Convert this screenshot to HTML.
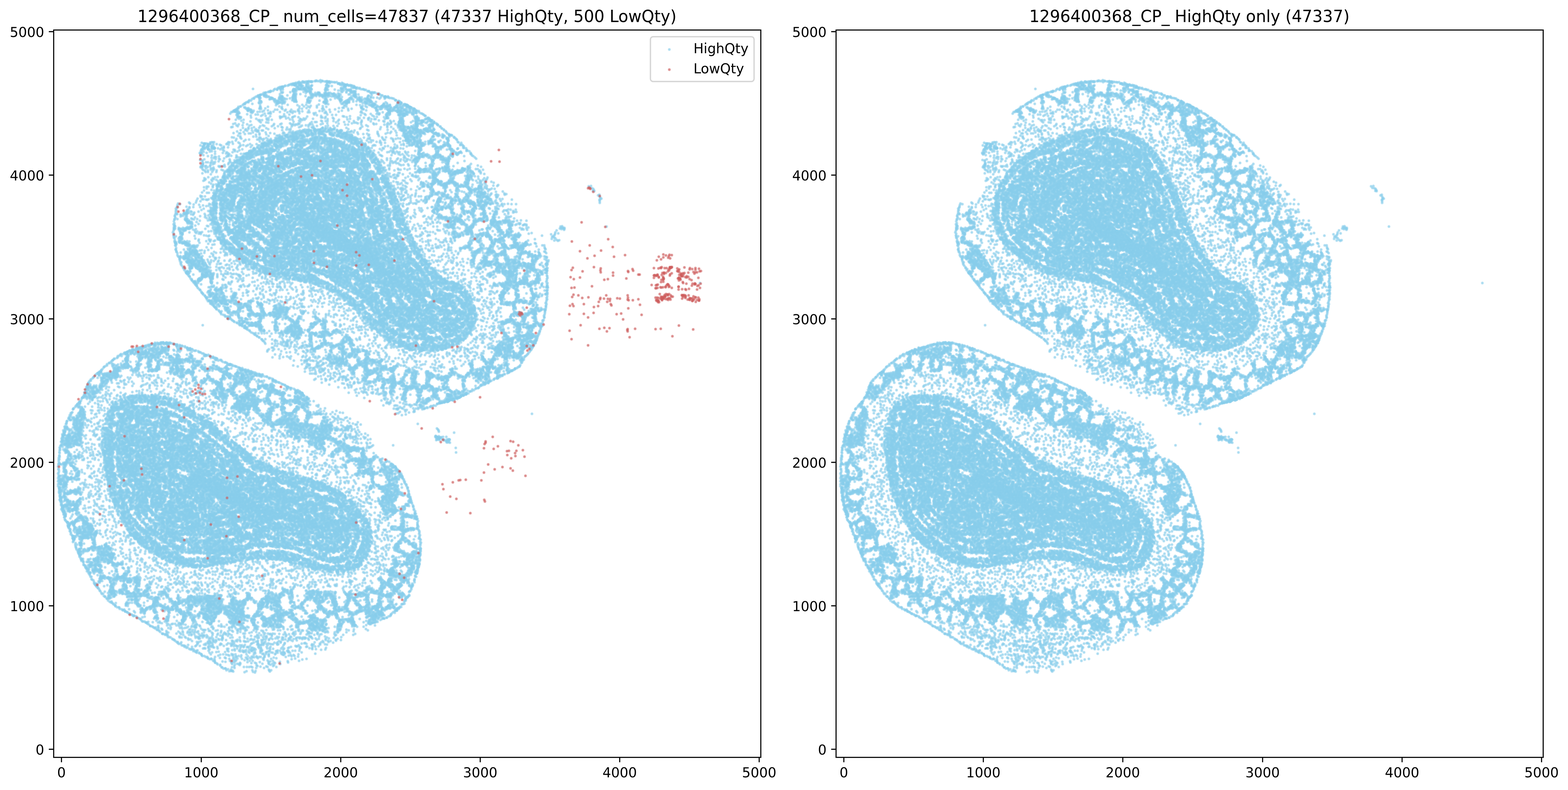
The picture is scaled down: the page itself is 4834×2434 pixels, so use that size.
<!DOCTYPE html>
<html lang="en"><head><meta charset="utf-8"><title>1296400368_CP_ cell quality scatter</title>
<style>html,body{margin:0;padding:0;background:#fff}body{width:4834px;height:2434px}svg{display:block}text{font-family:"DejaVu Sans","Liberation Sans",sans-serif;fill:#000}.t{font-size:41.667px}.h{font-size:50px}.e{text-anchor:end}.m{text-anchor:middle}</style></head><body>
<svg width="4834" height="2434" viewBox="0 0 4834 2434">
<defs><marker id="b" markerUnits="userSpaceOnUse" markerWidth="10" markerHeight="10" viewBox="-5 -5 10 10" refX="0" refY="0" overflow="visible"><circle r="4.6" fill="#87ceeb" fill-opacity=".5"/><circle r="2.45" fill="#87ceeb" fill-opacity=".5"/></marker><marker id="r" markerUnits="userSpaceOnUse" markerWidth="10" markerHeight="10" viewBox="-5 -5 10 10" refX="0" refY="0" overflow="visible"><circle r="4.6" fill="#cd5c5c" fill-opacity=".5"/><circle r="2.45" fill="#cd5c5c" fill-opacity=".5"/></marker></defs>
<rect width="4834" height="2434" fill="#fff"/>
<g id="hq"><g fill="none" stroke="none" marker-start="url(#b)" marker-mid="url(#b)" marker-end="url(#b)"><path d="M1021 252l-5 0-1-1 0 3-2-2-3 3-1-4-1-1-3 1-4 0-6-1-2-1-4 4-1-6-4 3-5 0-4-2-2 2-3 0-7 1-2 2-1-2-3 0 0 1-5-2-2 2-2 0-3-1-5 1-2 2-2 0-2-3-2 1-5 3-3 0-2-3-4 2-6 1"/><path d="M1054 255l-16-2-5 1-3-1-5 0"/><path d="M767 311l-1 4-2-1-4 1-3 2-3 2-24 16 4-2 1-4 0 5 6-6 1 0 6-4 3-3 2 10 2-10 1 10 2 4 4-1 4-1 0 4-1 3 0 2-2-5 0 3-25 9-1-2-2-4-1 8-1-3-1 2-1-12 0 3-1 5-1-5-2-3-1 6-1-5-1 3 0 2-1-4-3 1 0 2-3 2-4 0-3 5 19 4 3 0 0 5 0 4 3-5 1 2 1 6 2-6 3 4 1-3 19-9 0 31-11-14-1 9-6-6-8 11-9-14-2 11-6 2"/><path d="M859 270l4-2 4 0 0 3 2-3 1-1 1 2 2-2 0 1 5-3 2-1 7 0 3-2 3-1 2 23-23-8 0 8-1-12-1 14-3-1-1-6-1-4-1-2-2-1-6 0-1 4-1 0-6-2-3 2-3 4-6 1-2-1-1 3-2 0-2-1-4 2-6 1-1 1-1 1-4-1-33-12 2 28 5-3 4-2 4 1 1-4 0 1 2 3 1 4 1-4 1-5 0 8 1-8 1-1 0 10 2-10 4-2 4 2 1 4 1-5 0 2 3 5 2-5 2 1 0 5 5-1 2 0 5 3 2 0 1 2 2-1 2 1 20-3 1 3 1-13 0 6 1 7 3-7 0 4 3-4 0 3 0 3 2-2 5 3 9-9 8 9-10 2-5 8-1-7-1 12-2-4-2-6 0 7-2-6-1 8-1-12 0 3-2 5-1-6-1-2-1 10-2 2-2-13 0 5 0 6-2-3-1 5-2-7 0 4 0 4-2-6-1 7-2-8-2-5 0 9-2-8-1 4-1-5-6-1-5 0-2 1-25 9-1-3-2-1 0 7-3-12 0 5-1 7-1-2-15-12-6 1-3 5-5-1 9 11 22 15 1-2 1-8 0 4 2 2 14 3 8-5 25-5 5-4 5 8 7 5 1-4 1-9 17 3 7 20-8 3-5-8-3 3-7-5-8 9-8-7-7 0-5 6-8 6-1-5-3 4-4 0-1-9-10 10-2-9-5 3-4-8-4 8-7 1-12-4-2 4-3 3-1-4-1-5-1 4-1-5 0 8-3-9-1 2 4 17 1 6 14-9 2 13 5-13 10 4 5-3 9 3 3 8 6-1 5-6 30 1 1 5 2-3 4-1 5-2 1-6 4 7 2 6 7-2 3-10 2 15 0 12-26 1-4 2-19-1-7-13-10 1-1 8-4-9-2 8-13-7-4 7-3-7-1 4-4-4-24 4"/><path d="M897 259l3 0 0 3 4-5 0 2 2 1 0 2 3-5 0 2 0 4 2-4 0 4 1-2 1-2 1 10 2-4 1 4 2-13 0 1 0 12 2-4 1-7 1 3 1 2 2 0 1-3 1 4 1 4 1-11 0 13 1-6 3 1 2 6 4 0 4-14 0 10 1-6 0 3 1 5 1-13 3 0 0 12 0 3 1-10 1 10 1-5 4 5 2-5 1-2 2-1 42 8 1-8 1 6 1-8 1-5 1 7 2 5 1-4 2 1 3-9 6 9-5 21-5 0-2-9-3-4-1 4-2-4 0 12-1-8-1 4-1-5-2 11-15-1-2 0-2 1-1-2-8 1-11-11-2-2 0 3 0 7-2 0-1 2 0 2-1-7 0 2-1-9 0 4-1 3-4-7-1 6 0 3-2 0-2-4-1 3 0 6-1-12 0 2-1 2-1-5-2 1-1-2-1 10-1-8-4 1-4-2-2-1 0 2-2-3-1 2-2 1-2-1-4 6-2-5-1 3-1-2 0 7-2-8-2 6-1-7 0 9-1-6-1 2 0 2-2 19 2 2 1-8 0 2 1-6 1 8 1-8 1-2 0 4 1 2 0 8 1-6 2 3 1-11 0 4 13-2 16 6 9 6 1-2 3 2 3-10 0 10 1-5 2-7 0 9 1 3 1-10 1-2 0 4 2 3 4-6 0 2 4 0 1 3 1-6 3 0 3-1 0 3 3 4 1-6 1 2 2 2 3-2 1 5 1-2 2-2 0 7 1-4 4-5 0 6 1-2 1-7 0 2 0 3 1 8 1-13 1 8 2-6 0 2 3 0 0 2 0 4 1-10 1 2 2 2 2 4 5-7 1 8-4 10-10 6-1-4-1 10-1-15 0 12-2-10 0 2 0 7 0 2-2-4-1-8-1 8-2 1 0 2-13-6-27 0-3 6-1-5 0 2-2-3 0 7-2-8-1 2 0 2-1-7 0 3-2 7-32-2-1-2-1-5-1-3 0 5-2 3-2 1-2-9 0 5-2-3-2 3 16 15 6 4 0 6 8 1 1-12 5 5 7-5 1 10 5-5 5 3 3-5 19 0 0 5 6-9 10 13 2-8 1 6 7-13 3 9 6-8 6 24-2-7-10 10-2-4-3 4-2-10-5 4-9 0-12 6-6 1-13-3-2-6-3 6-17-3-9 0 0 6-4-11 0 4-9 2-6-1-2 5-4-10-1 7 4 17 3-2 5-2 11 3 5 5 11-1 7 0 4-6 18 7 4-13 8 2 13 2 0 5 4 0 8 2 2-4 5-7 1 14 0 6-1 7-5-7-9 8-2-7-3-2-1 11-13-7-5 0-8 7-2-7-5 4-17-11-7 1-4-2-2 7-3 7-1-10-2 8-8 3-7-8-1 7-2-13-4 14"/><path d="M1042 258l1-1 2 0 2 0 1 2 1 2 3 10 2-8 1-4 2-2 2 12 1-6 1-4 0 10 1-6 2-2 0 4 1-3 0 5 1-2 1-3 3-2 1 2 3 1 2 1 3-2 3 3 1-2 1 7 2-6 3 7 1-3 1-3 1 4 1-2 1 3 3 1 1-1 4 0 7 1 42 15-4-2-3 2-3-1-3-4-2 0-3 0-5-4-4 0-3-2-3 0-5 0-6-2-8 1-3 8-2-1 0 4-3-3-1 3-1-4-2 5-4-7 0 3 0 3-2-9 0 8-1-6-2 2-2-4-3 2-2-1-3 5 0 3-1-10-2-2-5 5-3-4-1 8-1-9-1 3-1 8-2-11-1 6-7 0-11-3-8 14 4-1 0 3 0 4 2-8 1 9 2 6 1-12 0 3 3 5 1-5 2 6 2-12 0 10 0 5 3-10 0 2 1-6 0 8 0 2 4-7 4 7 21-8 4-1 0 12 3 0 1-5 2 6 4-10 1 4 2-5 0 3 2-5 1 5 0 3 1-9 0 11 1-9 0 5 4 4 4-9 3 8 0 3 7-2 18 1 1-3 1-3 3 0 5 6 1-2 1-11 1 5 5 8-2 18-2-5-3 0-1-5 0 3-2 0 0 3-2-7-1 9-1-12 0 3 0 3-2-5-2-2 0 7-1-5 0 8 0 5-2-12 0 12-2-15 0 10-1 2-2-5-1-7-1 11-4-8-1 11-3-7-1-2 0 4-1-8-2 2-1 6-1-9 0 3-1 2-5-2-1-2-3 7-10-5 0 6-6-7-6-2 0 6-1 4 0 2-2-8-1 6-1-6-1 8-1-3-1 5-1-8-1 8-2-6 0 5-2-3-3 1-2 2-4-9-3-3 0 4 0 2-1 4-1-10-1 3 0 2-2-5-1 28 8-13 3 12 1-12 3 12 1-6 3-2 4 4 1-7 4 14 11 0 15-12 11 1 3 6 1 2 1 3 1-4 2-5 8-6 1 7 4 3 6-7 4 0 2 2 3-4 1 5 1-3 0 6 1-4 2 2-8 24-14-11-5 11-3-15-2 1-2 11-3-5-2 3-38-6-20 1-10 3-11-7-9 17 2 9 3 3 7-12 21 4 4 1 8 2 10-3 0 8 25-4 5 2 3-9 10 8 5-9 8 11 3-2 7 4 3-11 3 24-8-6-7-5-21 2 0 4-2 3-9-10-1 12-5-2-6 0-1-5-6 7-9-5-5-7-10 8-16-7-1 12-2-8-6 4-8-4"/><path d="M1156 285l-3 0 9 3 1 13 5-13 1 3 2 0 3 9 2-6 3 0 5 4 2 1 1-2 1 4 1-3 0 0 6 2 1-3 2 3 3 2 5 0 4 1 28 14-2-1 0 3-1-2 0 2-2-6-3 1-1-3 0 1 0 6-2-3-2 3-4-9-1 0-2-1-4-4-21 14-4-3-3-11-3 15-13-15-11 10-6 5 0 5 1 7 1-10 0 2 3-1 0 11 1 2 1-3 1-3 2-3 3 3 4 1 4-2 1 2 2-3 0 8 1-4 1-5 1-2 2 1 0 5 1-8 1 6 1-7 3 14 1-9 0 2 0 2 3-2 2-6 0 6 0 4 2-4 2-2 2 4 2-7 0 2 1 9 2-4 1 3 6 2 3-4 2 0 1 2 2-5 2 2 1-6 0 2 2 4 1-6 1 8 4-7 1 7 1-12 1 9 1-8 2 12 1-6 0 8 3-3 2-9 0 4 3-6 3 0 0 5 2-3 1 0 0 12 2-8 0 3 1-7 0 1 1 4 2-3 1 2 0 5 2-3 2 0 0 2 0 4 2-5 0 0 2 1 0 2 2-1 5 2 3 1 2 2-2-1-2 1 0 2 0 4 0 7-1-5-2-6-2 11-1-3-4-9 0 6-2-3-1 6-3-1-3-7 0 6-2 1-2-2 0 7-1-9-2-4 0 12-2 0-1-11 0 2-1 8-1-13-2 6 0 9-1-4-3-4-2-2-1-2 0 6 0 3-1 3-1-6-2-5 0 2 0 3-3-9-1 5 0 3 0 2-1-10-1 9-1-3-3-1-3 0-4-3-2 1-2 3-3-3-2 3-3 0 0 3 0 4-1-12-1 2 0 4 0 2 0 4-1-12-1 4-1-2 0 8-1 2-1-11-1-2-1 13-13-3-6-10-3 0-1 13-6-11 0 4 0 5-3-8 0 12-1-10-7 18 1 8 4 0 4-7 5-8 2 0 15 9 3 6 3-14 1 3 0 7 1-5 1 3 0 3 1-11 0 4 1 6 2 1 2-9 3-3 26 2 2-2 1 4 1-2 0 9 2-10 0 2 2-3 0 10 1 4 1-5 2-9 1 2 0 10 1-8 1 3 2-5 0 2 1-4 1 4 2 0 5-4 2 1 16 0 3-1 2 7 2 6-6 8-6 4-23-4-1 7-1-12 0 6 0 4 0 5-3-14 0 13-1-11 0 5-1 3-2-6 0 4 0 2-1-9-1-2-1 5 0 6-1-4-1 7-1-5-10 5-5-9-8 3-1 4-2-8-3 11-4-4-3 4-8-8-3-2-14-2-8 11-7 1"/><path d="M1301 350l-4-1-5-3-1-4-5 0-2 7-1-9 0 7-1-5 0 2-2 3 2 13 0 4 1-2 0 4 2-8 1 2 1 4 3 3 1-3 13-12 3 2 3 3 2 0 0 9 2 1 4-4 0 3 3-3 0 4 3-2 23 18-2-3-6-1-1-4 0 2-2 3-2 1-1-10-2 4-1-4 0 11-1-11 0 3-2-5 0 1-1 4-1 9-1-15-4 5-3 3-2 3-5-2-1-8-4 5-1-2-1 2-1-3 0 5-1 3-1-2-1-5-1 6-2-6-1 9-4-10 0 9-1-7-1-4-1 13-1-13-1 11-1-6-1 2 0 4-1-11 0 5 0 8-1-6 0 3-1 3-1-10"/><path d="M637 442l-5 0-1 1-1 0 0 3 0 1-3-5-5-2-4 8 3 13 1-1 3-9 0 5 1-5 0 8 2-7 2 4 1 3 2-4 5-3 0 3 1-5-2 21-9-3-1 10-2-14-3 8-1-3 0 4-2-8 0 11-2-3-1-2 1 22 7 1 6-3 5 9 0 11-9-7 0 5-1-7-1-5 0 10 0 0-4 4"/><path d="M713 392l4-1 12-5 4 3 15-3 1 8 9 4 8-5 0 4 1 14-5-8-6-2-1 12-4-6-9-6-1 10-4 0-6-6-11 5-5 13 6 1 8 4 5-10 7 2 0 4 3 3 13 4 7 16-12-12-2 12-11-5-4-3-8-6-9 10-2-6-8 2-3 7-1-8-3 4-3 2-20 2-10-2-8-6-2 7-2-6-3-1-5 1 0 4 0 1-6 0 0 1-2 0 1 15 1-11 0 9 1-8 0 2 0 7 0 2 6 0 3-7 1-3 1-2 0 7 1 3 3-4 1-3 1 4 0 2 1-2 0 1 1-1 0 1 10 0 7 3 3-12 2 8 3 6 3-10 0 4 13-2 17 7 4 1 12-7 2 8 1-12 3-3 5 12 12-10 8 21-1 3-1-2-2 0 0 3-2 0-1-3-1 2-2 0-2 0-4 0-8 0-11-7-3 12-5-13-7 3-10 6-3 2-1-5-4-3-2 4-6-8-4 6-24-4 0 7-10-8 0 13-6-12-6 14 11 5 1 8 6-7 3-4 3 7 1-6 9-2 0 7 3 2 13-3 7-5 3-3 4 1 3 10 1 4 4-15 10 14 5-8 2-3 0 11 2-1 3-8 1 7 2 2 2-1 1-8 1 4 1-2 1 2 2-6 1 9 1-6 1-4 0 2 1-4 0 8 0 5 1-2 1-8 0 6 3-4 1 10 1-15 1 6 2-2 0 6 1-10 0 7 2-7 0 9 1-5 2 8 1-9 0 18-3 2 0 2-2 5-2-3-1-3-1-7-1 10-1 4-2-5-1-5-1 8-2-11-1 3-2-3 0 5 0 5-1-8-1 7-1-6 0 3-2-1 0 7-1-13-1 6-1-7 0 10-2-2-2-5-2 4-1-7 0 14-2-12 0 5-1-7-2 4 0 11-2-13-2 2-1 2-2 6-2-5 0 8-4-9 0 6 0 2-5-11-4 3-1 4-12 2-4-12-14 1-11 2-2 5-4-4-1 6-5-6-2 3 0 6-8-9"/><path d="M769 387l6-2 1 10 7-3 6 6 10-4 3-5 8-3 5 2 6 7 6 3 11-9 5-3 4 9 10-6 11 2 3 2 12 6 2-6 5 6 5 3-4 6-3 6-11-3-3-3-2 3-2-10-24 11-13-2-12 4-2-6-8-6-4 0-7 9 0 4-3-13-1 4-3-4-2 3-2 10-3-13-6 6-3-6-4 9-5 19 13-9 9 0 3 9 5 0 1-6 4 0 1 4 5 1 5-1 7-3 5 4 2-10 7 9 14-3 3 3 1-10 0 8 4-8 0 11 1-5 2 2 2-10 0 8 1-4 1 2 0 7 1-4 1 6 1-2 1-6 1 6 1-10 0 4 0 4 3 0 1 4 2-14 0 9 3 2 1-9 1-2 0 4 2-5 1 2 1 5 1-7 1 6 2 4 1-4 0 8 4-10 1-4 0 6 0 7-1 8-2-2-2-1-2-2-1 5 0 5-2 3-1-7 0 3-1-7-1 3-1-2-1 6 0 2-1-8 0 3-2-1-2 6-1-8 0 6-4 1-1 3-1-11 0 8-1-3-1-5-1 13-1-11-1-2 0 10-2 3-1-15 0 3 0 5-2-5-2 6-1-4-1-2-2-2 0 2-1 7 0 4-1-12-1 11-1-13-1 5-1-5 0 8 0 5-2-2-3-9-3 3 0 2-2-6 0 3 0 4-3-8 0 3 0 5-2-6 0 10-1-4-1-4 0 7-2-8-1 8-2-2 0 6-1-13 0 9-3-1 0 4-3-7-1 3-1-2-2 3-1 4-1-13 0 9 0 2-2-2-1-2-2 3-5-8-10 8-20 0 2 9 1 10 3-15 3 15 1-4 2-3 0 2 1 5 1-3 2-1 6-6 0 3 3-8 1 7 2 5 1-12 0 10 0 5 3-2 1-8 1-2 0 4 2-1 1-6 0 4 2 9 1-8 0 2 3-4 0 8 1-10 3-1 1 13 2-13 0 3 0 9 1-4 1 6 3-13 1 11 1-11 1 5 3 6 0 3 2-6 1-9 1 9 0 4 2 0 2-11 0 4 0 5 1 4 2-2 2 1 1-14 3 1 0 2 1 10 0 2 2-11 0 2 1-6 0 2 0 8 2-9 0 2 0 4 3-4 1 8 1-7 0 11 4-8 1-5 1 2 2-1 2-3 4 2 7-2 7 10 0 2 1 2 3-5 3 7-2 9-1-8-1 9-1-2-1-6 0 2 0 8-2-12 0 8-2 0-2-2 0 4-3-10 0 10-2-10 0 3 0 3 0 3-4-4-1 6 0 4-1-7-4 3-1-5-1 3 0 3 0 3-1-9-1 7-2-2-1-3-1 6-1-3-1 3-1-9-2-2-1 9-2-1-6-10-2 0-3 1-2-1-2 3-1 4-1 3-3-9-1 5 0 7-2-8 0 7-1-2-1-6-2-4 0 2 0 2-2-5 0 8-1-5-3-3 0 2 0 4 0 2-5-4 0 3-1-6 0 8-2-5-1 2 0 5-2-9 0 7-2 0-1-6 0 9-2-12 0 4-1 5-1-5-2 8-2-1-1-10-1 3-1 4 0 5-2-11 0 9-2-5 0 8-2-14 0 7 0 8-3-5-1-6-2 6-2-8-1 10-1-7-1-2 0 10-1-8-1-2 0 4 0 8-3-11 0 2 0 6-1-2-1-9-1 3 0 9-1-11 0 14 1 8 2-5 0 6 1-3 2-3 1 2 2-5 0 5 0 10 2 0 2-14 2 4 4 9 9-3 2 3 6-3 2-9 1 4 0 4 2-4 0 4 1 2 0 2 1-10 0 2 1 3 0 5 8-5 2 1 3-2 1 2 1-3 1-6 0 14 2-9 0 6 2-5 1 4 0 2 1-9 2 9 1-8 2-4 1 6 0 8 1-14 0 12 2-12 0 5 0 5 1-8 0 6 1-2 2-5 1 3 3-3 1-2 3 3 0 6 1-8 0 4 0 2 0 4 2 0 1-7 2 6 2-8 1 12 1-10 0 4 1-2 2 7 1-2 1-9 0 2 0 4 0 7 2-8 1 3 1-3 1 3 0 4 2-1 1-2 2 0 1 4 1-5 1-6 1 4 2 3 1 3 1-9 0 2 4 4 3-9 0 4 0 2 0 4 0 18-3-13-2 6-1-5-1 6-2-4-1-4 0 15-1-6 0 4-1-8-2-4-1 6 0 5-2-8-1 5 0 4 0 2-1-9-2-6 0 6 0 5-1-9-1 2-1 6-5-3 0 2-1-5-1 10-3-9 0 4 0 3 0 3-3-13 0 3 0 9-1-4-2-1 0 3-1-10 0 3-1 9-2-1-1-7-5 9-3-14 0 3 0 5-2-8 0 7 0 5 0 2-1-12 0 8-1 3-2-14 0 8 0 6-1-2-2-5-1-6-1 3 0 4 0 2 0 2-2-9 0 6-1 3-1-10-2 0-1 2 0 9-2-8 0 3 0 6-5-9-3-2-3 3-2-5 0 3-1 8 0 3-3-2-1-4-1-4-1 2-1-7 0 9 0 3-1-6-1 5-2-8-2 6-2 4 0 2-1-10 0 3-1-5-1 5-1-2-1 2-1-2 0 8-1-3-1-7-1-3 0 9-1-6-1-4 0 2-6 9-2-9 0 2-3 0 0 5-2-4"/><path d="M896 397l3-7 3-4 7 0 8-2 5 8 5-2 4-3 9 12 3-13 8-1 0 5 1 8 4-14 5 8 3 2 2-5 2 5 0 4 2 1 2-1 5-10 3 11 7 0 2-1 4-3 2-2 0 2 8 0 1-6 0 8 6-3 1-7 7 7 0 3 5 1 0 3-2-1-1 11-1-5 0 7-1-3-1 4-1-4-1-9 0 2-3-3 0 2 0 3-4 1-3 0-2-6-3 4-1 8-1-8-1-4-1 4 0 9-2-7-1 2 0 5-2-10 0 4 0 2-1 4-2-3-1-9 0 11-1-7-1-4 0 2 0 4-2-7 0 8 0 5-1-3-4-8-2 2-1-3-1 9 0 5-3-13 0 4 0 3-1 6-1-11-1-2-2 10-2 0-2-3-2-7 0 8 0 2-1-5-1-5-2 0 0 13-4-11 0 10-1-13 0 6 0 3-5-10 0 2 0 6 0 5-3-5 0 3-1-6-4 2-1-6 0 4-2 10-1-14-2 3 0 5-3-4 0 2 0 8-2-5-2-8 0 6-1 7-3-11-1 5-1 4-3-8 0 7-3-3-1 6-1-8 0 3-2 3-3-3-3-5 0 9-1-5-2 2-4-3 1 13 0 9 2-9 1-3 1 9 1 3 1-8 0 4 1-10 1 3 0 12 1-8 0 2 2 1 0 4 1-11 1 3 1 6 0 2 3-8 1-4 0 2 0 7 0 2 1-4 1 2 3-5 0 5 3-6 1-4 2 10 2-10 1 10 1-7 1 6 2-8 0 3 1 3 0 5 3-9 2 1 1 6 6-8 1 10 1-10 1-3 3 1 4 11 0 2 3 0 2-5 0 5 1-12 1-2 0 12 2-12 0 9 2-3 1 8 2-2 1-5 1 2 0 2 1-5 1 9 1-8 2 3 1-4 0 2 1 4 4-7 1-4 1 12 1-2 2-4 0 2 2-1 1 3 2-4 0 3 2 4 4-13 0 7 0 7 1-5 0 2 1-10 1 4 1-6 0 2 0 8 1-5 1 6 3 1 2-3 5 2 2-1 2 3 2-13 1 10 1 6 0 11-1-2 0 4-1-10-1 2 0 8-1-3-1 5-1-15 0 4 0 9-1-11 0 13-1-8 0 6-1-2-1-8-3 0 0 2-1 2 0 4-2-11 0 2 0 12-4-12-1 5 0 6-1-12-1 7-2-5-2-3-1 4 0 5-2-2-2 4-1-10-1 9-5-7-1-2-1 6 0 6-1-3-1 4-2-13 0 8 0 3-3 0-1-8-2 1-1-4 0 6 0 2 0 2-1 2-1-13-1 3-1 3 0 4-2-7 0 6-1 2-2-1-3-9-4 3 0 6-2-7-1 3-1 3-2-8-2 2-2 0-1 9-1-12-1 4-2-3 0 14-2-14 0 5 0 2 0 7-1-4-3-11 0 4 0 7 0 2-1-7-1 4-2-7 0 2-1 2-1-4 0 12-2-8 0 8-1-13 0 11-1-7-1-3-2 3 0 8-3-10 0 11-1-9-1 7-2-11 0 10 0 2-5-8-2-6-2 1-1 2-2-3-1 5 0 9-2-5-3 4 0 12 2 5 1-7 2-4 2 4 3 8 2-9 1 2 1-8 1 8 1-7 0 4 2-3 0 5 2-5 0 12 2-13 0 14 1-5 0 2 3 3 2-10 0 7 0 2 2-13 0 2 2 3 0 7 3-6 0 2 2-7 2-2 2 13 3 0 5-3 3 0 2-2 0 2 3-3 2-2 1 3 2-6 0 2 0 6 1-10 1 9 1-4 1-5 1 2 1 2 1 3 2-6 0 11 1-7 1-4 0 8 2-9 0 2 1 5 1 3 2-8 2 2 2 2 0 3 0 3 1-8 1 11 1-15 1 11 3-5 1-4 1 5 1 6 2-8 0 3 1 3 2 3 2-3 2-3 1 5 2-10 1 10 0 2 4-2 1-6 1 7 2-13 0 7 1 5 2-7 0 6 3-10 0 2 1 7 1-2 2-8 0 13 1-10 0 7 2-5 0 4 0 11-1-5-4 2 0 2-3-2-2 1-2 2 0 8-1 2-1-12 0 4-2 1-1 7-1-8-1-2-1 4-2-1 0 5-1-12-1 9 0 2-2 1-2-13 0 2 0 3 0 10-2-6-2-2-1-3-2 4-1-4 0 11-4-13-5-1-1 14-1-9-5-5-2 10-5-8 0 9-3-11-4 2-3 11-1-11 0 4-2-6-1 9 0 4-1-11 0 5-1-2 0 5-1-3-2-5 0 8-2-11 0 12-1-6 0 2 0 7-2-14-1 7-1-6-1 4 0 3-1-9-1 6-2-2 0 8-1-10 0 8 0 4-1-6-4-6 0 8-1-10 0 13-1-9 0 4 0 3 0 4-2-14-1 9-1 5-2-7 0 4-2-9 0 5 0 5-2-11 0 2-2-3 0 6 0 5-1 2-1-6-1 4-2-11-2 12-1-7-1 8-1-9 0 5-1 5-2-9 0 3-1-7-1 6-1-6 0 8-1-6 0 2 0 14 1-4 0 10 0 2 0 3 1-9 6-6 3 6 1 9 2-14 1 4 1 6 2-2 1 5 1-5 1 6 1-7 1-7 1 13 1-3 1-7 0 10 1-3 3-5 3-6 0 3 2 12 3-11 2-3 0 4 2-3 0 5 0 4 0 3 2-12 1 9 3-11 0 4 0 9 1-5 1-7 0 12 3-9 1 7 1-9 1 2 0 3 1-7 0 9 2-4 0 9 2-4 0 2 0 2 1-13 0 3 0 2 1 8 2-7 0 2 1-9 0 3 1 9 3-1 1-5 1 4 1-2 0 7 1-5 1-5 0 8 1-13 1 6 2 3 1-2 2-5 0 2 0 7 1-2 2 3 2-9 0 9 0 3 2-12 1 4 0 2 3 4 1 2 1-11 0 3 1-5 0 13 1-15 1 7 0 2 0 2 1-7 2 1 0 7 0 2 1-7 1 4 2 2 3-13 0 7 0 2 1-6 2 6 0 6 1-14 0 3 2-1 0 5 2-2 1 6 1-5 2-5 0 12 2-9 1 9 2-1 1-11 1 2 0 8-1 4 0 7 0 8-2-1-1-11 0 4-1-6 0 13-1-3-4-7 0 10-1-7 0 2-1-5 0 11-2-13 0 8 0 5-1-10-1 4-1-6 0 4 0 8-1-14-1 11-1-3 0 6-2-15 0 10-1-8-1 6-1-8-1 3 0 5 0 6-1-4-2-7-1 3 0 4-2-6 0 9-1 2-2-12 0 5-1 5-1-8-2 6-2-2-1-8-1 2-1 10-1-11 0 13-1-10 0 4-1-7-2 6 0 5-1-9-2-4 0 8 0 2-1-8-1 9 0 4-1-9-2 3 0 6-1-12-1-3 0 11-2-11-2 5 0 5-2 1 0 2-1-6-2-6-2-1 0 10-1 4-1-7-3 2 0 3-1-5 0 8-1-11 0 9-2-6-1-4 0 6-1-8 0 6-2 3-1-7-1-2 0 13-1-3-3-6 0 5-1-2-1-7 0 2 0 7-2-4-2-6-1 4 0 6-1-4-1 2-1-4 0 6-2-2-1-4 0 2-3-4 0 6-1-3-2-2 0 2-2 2-1 2 0 2 0 2-1-8-2 0-1 6-1 3-1-8-1-6-1 9 0 5-1-2-1-8 0 11-1-7-2-2 0 4-1-9 0 11-2-5 0 3 0 2"/><path d="M1028 388l0 11 1-2 2 2 1-5 8-6 24-4 4 10 5-10 1 14 36-1 2-3 2-10 3 6 12-4 5 3 4 26-2-13-4-2 0 12-12 1-16 0-2-5-9-6-3 6-6-4-1 10-2-8-4 8-1-7-4 8-1-10-1 6-2-2 0 5-2-4-3 1 0 3-3-5 0 2-2 2 0 2-3-2-1-11-1 3 0 7-2-11-1 5-1-3 0 5 0 2-2-1-1-6 0 4-1 3 0 4-1-8-3 7-1-6-1-7 0 2 0 2-6 7-1-3-3 7-3-1-1-7-1 5 0 6 0 12 2 1 1-14 2 1 1 12 1-3 5 3 1-12 2-2 1 4 2-3 2-1 0 2 2 2 4-1 0 4 2-2 1-5 0 8 3-2 1-2 1 6 4-6 1 2 0 6 2-8 1 2 0 4 2-10 0 2 1 11 1-6 1-4 0 12 3-7 1 3 2-10 1 4 1 4 0 4 1-9 1 6 2-4 0 8 1-6 1-7 0 12 1-10 0 5 1 7 1-6 3 0 0 6 2-8 0 7 2-2 2-4 2 4 2-1 4 2 6-1 11-4 12 3 2-9 3 10 1-4 10 9-6-1 0 6-7 0-6-5-4 13-1-4-1 4-3 1-2-3 0 2-3-6 0 2-2-9-1 11-1-8 0 11-1-9-2 3-3-3 0 2 0 2-2-6-1 4-2-6 0 9-1 3-1-3-1-11-1 5-1-4 0 9-1-6 0 3-2-7 0 8-1-5 0 9-2-4-2 4-3-10 0 8-1-3-2 0-1-2-1-4 0 11-5-11-1 3-5 9-8-10-1 4 0 3 0 3-3-1-1-4 0 7-2-5 0 2-2-8-1 7-1 3-1-3-1-5-1-3 0 12-3-8-1-3 0 6-1-10 0 13-1-7 0 3-3 5-1-11 0 3-1-5-1 6 0 6-3-6 0 3 0 3 0 2-1-14-1 7-1-4-1 8-2-9 0 5-2-1-1 6 1 17 4-1 1-2 1-7 1 6 1-6 0 2 0 2 3 2 2-7 1 2 0 8 1-4 2-7 1 13 2-1 1-12 4-1 2 3 2 1 1 5 0 5 1-9 1 7 0 2 3-14 0 5 1 2 0 7 2-4 2-11 0 5 2 5 1-10 0 2 0 6 1 4 2 3 1-4 1-5 1 4 1-9 1 4 0 10 2-15 0 7 2-4 0 9 5-3 0 5 1-8 0 5 1-8 0 11 3-8 2 3 0 2 1 2 2-2 4 3 1-14 1 13 3-13 1 4 0 9 1-3 1-7 0 3 2 7 2 1 2-8 2-6 1 8 0 6 1-4 1-4 0 9 2-6 0 2 1-7 0 11 3-12 1-2 1 6 2-5 0 10 2 3 1-6 1 3 1-3 1-2 1-2 0 4 2 0 2 0 2 6 5-7 3-7 2 23-1 5-1-6 0 3-2 1 0 3-2-12-1 13-3-11-1-3 0 6 0 8-1-4-1-7 0 2-2-2 0 5-1 4-2-4-1-6-2 6-1-6 0 8 0 2-1-12-4 14-1-5 0 2-3-11 0 7 0 7-1-9-3 2 0 4 0 2-1-4-1-2-1 3-1-7-3 3 0 6-1 2-2-13-2 6-1-4-1 8 0 2-1-12 0 3 0 4-1 5-1-11 0 6-2-8-1 2 0 9-1-2-1-10 0 5 0 7-2-4-1-6-1-2 0 9 0 6-1-4-1-11 0 14-1-2-1-5-1-7 0 3-1 2-1-3-1 10 0 2-3-3 0 4-1-9-1 4 0 3 0 2-1-10-1 9-1-14-4 6-1 6-2 0-1-10-1 8-1-5-1 4-1 2-1 3-3-3-2-10 0 9-1-5 0 2-2-2 0 6-1-4 0 6-1-11 0 3-3 3-1-4-1 10-2-9-1 2 0 7-2-3-1-2-1-8-3 2 0 7 0 4-1-14-1 8 0 3-1-10 0 3-2-3 0 13-1-3-1-8 0 4-2-2 0 8-1-3-1 3-1-13 0 3 0 15 0 7 3-7 1 13 2-13 0 4 2 7 1-13 1 3 0 4 0 6 1-2 2-11 0 2 0 11 1-2 2-2 1-9 1 4 1 7 1-11 1 2 1 6 0 7 2-12 0 4 0 8 2-4 1-9 0 3 0 4 1 6 2-13 0 5 0 7 2-14 2 3 0 2 0 3 0 6 2-11 0 3 0 6 1-2 1-4 1 4 1-6 0 3 0 6 3-10 1 4 2-7 0 3 0 3 0 7 1-2 1-2 1-7 0 4 1 6 1-11 0 4 1 4 2-1 0 5 2 1 2-6 2-1 2 0 3-6 2 0 0 6 0 6 3-11 1 12 1-11 2-2 0 4 0 4 1 3 3-8 1 4 0 2 1 5 1-14 0 4 0 7 2-6 0 6 1-9 0 5 6-6 1 3 0 6 0 2 1-5 1-8 1 14 1-10 0 5 2-3 1-6 0 14 1-4 0 2 1-11 0 3 1 4 0 5 1-7 0 9 3-3 0 2 3-14 0 15 2-12 6 0 1 7 1-5 1 2 1-2 1 10 2-13 0 9 1-6 1-5 0 3 1 17-2 1-1-2-7 8 0 4-2-5 0 4-1-6-1 3 0 2-1-6-1-2 0 9-1-13 0 6 0 4-1-2-1-2-1-7 0 10-3 0-2-9 0 9 0 3-1-7-1 9-1-6-1 5-2-6 0 2-1-10 0 4-1 11-1-3-1-9-1 8-2-3-1 2-1 3-3-5-2 5-1-12-2 3 0 8-1-10 0 6-1-8 0 4 0 10-1-4-2-5-2 4 0 4-1-13 0 5-1 8-1-10-1 6-1-6 0 9-1-3 0 6-1-13-2-1-1 6 0 6-1-12-1 4-1 10-1-14 0 8 0 3-3-10 0 13-4-7 0 3-2-11 0 7-1-3-1 11-2-14 0 2 0 8-2-3-1-6 0 3-1 4-1-8-1 13-1-11-1 12-1-13-1 12-2-3-1-7-2 10-2-9 0 8-1-10-3 6-1-6-2 9-1-8 0 11-1-15 0 9-2-4-3-3-1 11 0 2-1-9-1-3-1-3-2 3 0 10-1-4-1-7 0 2 0 2-2 7-2-13 0 6-1 2 0 2"/><path d="M1172 398l2-6 11-8 9 4 0 4 12-1 7 6 13-10 2-3 0 9 3-4 2 0 1-2 0 8 2-5 0 5 3-7 0 11 1-6 3-8 0 13 1-10 0 6 1-3 2 7 1-8 0 4 5-3 1 5 4-5 0 2 1 3 1-4 3 4 1-2 4-5 1 2 2 6 1-3 2-3 1-5 0 11 2-1 1 2 1 13-1-10 0 13-4-13 0 5-1 4-2-5 0 2-3 5-1 3-1-13 0 4 0 5-2-7 0 5 0 6-1-13-3 4 0 3-2-1-3 2 0 3-2-11 0 10-2-10 0 2-1 9-1-2-1-10-1 2-1 5 0 2-2-4 0 6-1-12-1 2-1-2-2 1-1 2-1-3-5 0-10 9-3-6-13 3-3 4-8-10 0 9-6 3-23 2-2-8 0 5 4 8 10 4 2 4 3 4 4 0 3-8 16 3 5 2 9 0 3-11 4 9 7 1 8-9 5-2 1 2 0 2 0 3 2-2 2 1 0 5 0 2 1-12 0 2 1 7 2-3 1-5 0 10 1-7 1 5 0 5 1-2 1-13 0 4 1 5 4-5 1 2 0 9 2-11 0 2 0 4 2-6 1 2 2 6 0 2 2-5 0 2 1-4 0 6 1-4 1 7 0 5-1 7-1-11 0 3 0 2-1 3-1 4-4-5 0 7-1-4-2-7-2-3-2 14-1-14 0 10-1-5-2-1-1 4-1-6-2-1-1 7-1-9-2 0 0 2-2-1-5 14-1-4-1-9-6 12-4-8-16 7-4-9-1-4-25 8-12 0 0 6-3-12-1 5-10-2-8 10 4 1 14 11 6 4 3-7 3 2 4-7 9-1 9 5 6 4 4-2 1-4 4 4 4-8 1 5 10 3 8 1 11-7 7-3 8 0 1 31-12-10-3 7-4-5-2-4-8 8-7 2-2-8-3 6-2-5-4-3-5 6-3-4-2-5-3 3 0 4-3 7-2-14-5 4-6 1-19 10-4-2-4-7-10 8-4-14 0 11-1 17 0 3 1-14 2 9 0 2 0 2 2-2 1-6 1 3 0 2 1-6 2 7 3-1 11 2 2-12 15 7 0 5 11-5 0 7 20-4 3-3 9 3 9-5 0 7 1-13 3 5 4 5 5 1 2-11 5 13 4-7 4 8 3 0 1-14 1 9 0 5 1 6-8-1-11 11-2-4-4-10-5 2-5 10-7 1-3-13-2 11-4-4-6 0-2-6-4 3-5 2-2-5-6 4-1 5 0 5-6-1-12-8-4-5-5 14-1-11 0 8-3 2-2-12 0 3 0 3 0 5-3-11 0 10-1-12-1 3 0 8-4-1-1-3-2-2-2 0-1-3 0 12-2-13"/><path d="M1280 389l0 4 1 5 1-11 1 9 2-11 0 2 0 5 0 6 1-9 0 6 2-8 11-2 5 2 2 12 2-1 3-1 3-2 3 4 2-3 2-10 2 7 1-3 0 5 2-10 0 3 1 5 1-7 3-2 1 4 2-3 0 3 2 7 1 4 2 0 11-15 0 2 6 4 2 0 3 5 2 1 5 3 16 14-5-2-3-4-2-3-5-3-5 13-11-2-3 0 0 2-2-1-3-3-2-1 0 4-1-2-4 0 0 2-1-12-2 8-1-6-1 2-1 2-2-3-1-2-1-2-2 4-4-1-1-2-1 5-2-1-2-4 0 3-3 0-1-3-2 12-1-12-1 8-2 0-1 2-1-7 0 5-2 0-3-4-1-4 0 6-1 5 0 3-1-14-1 5-1 4 0 3-1-10-2 5-1-8-1 7-1-7 0 3-2 0-1 8-1-3-1-8 0 6-2-5-1 6 2 15 3 5 1-11 0 4 0 2 0 3 3-6 1-3 3 13 1-5 2-4 2-2 30 13 1-3 3-5 3-4 0 2 1 9 1-9 4 9 6-13 4 2 1-2 4 0 7 5 2-4 1 6 1-4 1-3 3 2 5 5 1 4 2-1 1 2 1-4 1 2 0 4 3-15 0 1 1 4 1-5 2 0 3 0 2 2 6 4 0 2 4 2 3 3-24 5 0 10 0 3-2-14 0 9-1-5 0 2 0 7-1-4-6-1 0 5-3 0-1-8-2 8-9-13-5 5-1-2-10 10-3-3-4-10 0 12-2-5-1-3-2-3 0 7-3-6 0 3 0 3-2-7 0 3-2 4-2-1 0 4-1-9-9 2 0 7-4 0-4-4 0 2-3 4-1-2-2-12 0 9-1-5 0 2-1-5 0 8-3-5 0 4-3-7-1 7 0 3 0 3-1-11-1 10-1-9 0 3-1 3-3-9 1 16 1 2 4-2 1 2 2 12 1-11 0 2 0 2 2-1 1 6 1-5 1-8 2 6 0 4 1-9 0 13 2-13 2 0 4-1 27 3 3 0 2-2 3 10 1-6 1-3 0 8 2-3 2-2 1 2 2 4 1-5 0 9 3-9 3-3 0 6 1 3 2-8 0 2 4-4 0 4 4-6 1 2 3-2 5 13 2-13 2 3 3 8 2-11 0 2 0 5 1-3 0 8 2-1 1 3 1-3 2 1 12 12 0 2-1-5-6-5 0 3-2 1 0 9-1-12-3 6 0 5 0 3-2-13 0 13-1-5 0 3-2 2-31-2 0 2-5-3-1-10 0 12-1-10 0 4-1 7-1-7-2 4-1-12 0 3 0 4-1 4 0 2-1 2-3-1-18 0-4 1-1-4-3 4-3-3-1 2-4-7-3 2 0 6-2-4-3 1-2-12 0 10-2-9-1 8-1-5 0 2 0 6-2-7 0 4-1 3-9-11 0 25 2-7 0 7 1-2 2 0 0 4 1-7 3 0 1 9 1-9 0 2 0 2 2-9 0 2 0 6 1-4 5-1 3-2 0 2 4 1 2-4 8 2 5 4 3-1 3-3 2 8 1-3 2 8 2-14 0 13 1-2 1-8 1-2 0 11 1-9 1-2 1 5 1-5 1 5 2-4 4 2 3 1 2-3 5-2 0 2 0 2 0 6 3-1 1-5 1-3 0 11 3-10 0 10 1-3 1-3 0 5 2-1 3 4 1-8 1 6 2-1 3-4 2 4 1-9 0 7 0 5 1-10 2 2 1 3 8-7 1-2-12 16-2 2 0 4 0 3-1-9-1 6 0 4-1-2-1-8 0 12-2-13 0 9-1-2-5-4-6 1-27 4-2-8-1 3 0 12-1-2-1-11-1 5 0 8-1-4-4 1-1 2-13-8-25-5-1 2-1-3-3 3 0 4 0 3-2 4"/><path d="M1409 431l16 15-3-6-2 5-1 2-5-8-3-2-1 22 2-2 15-8 1 6 2-4 1 5 6 1 2 5 16 17-2-4-2-4 0 3-4-8-6-2-3 1-15 6-3-4 0 2-3 1-2 0-2 4-1-3-2 6-2-1 23 5 28 0 5 4 4 4 5 21-21-5-4 5-16-14-21 6"/><path d="M618 515l3 1 2-3 1 1 0 7 3 3 5-11 0 13 3-7-1 11-10 4 3 23 3-8 1 6 3-3 3 23-8 2 0 10 8-6 1 13-6 11-9-12 0 12-4 2-1-4-12 15 3-6 9 8 5-6 4 0 8 1 4 1-3 19-10-2-9 5-3-7-10-7-7 6-1 8-10-11-2 11-1-14-8 13-20-8-6-2-2 5-1 5"/><path d="M640 515l1 10 6-13 3 6 0 5 5-3 2 5 1-9 2 5 8 4 6-13 3 2 3-2 3 11 4-11 1 13 5-12 3 14 5-4 2 1 0 2 3-7 0 4 0 2 1-10 1 9 1 3 1-14 1 8 1-6 1 12 2-9 0 6 2 2 2-4 1-10 1 15 2-3 1-7 0 5 1-7 1 3 4-6 0 3 1 3 1 9 2-1 2-13 0 14 1-5 1 3 4-6 0 8 1-4 1-5 0 8 1-10 1 11 2-11 0 5 1-3 0 6 2-12 0 6 1 3 2-9 0 11 0 4 1-9 1-4 1 7 6-7 2 1 1 9 1-11 0 24-1-6 0 3-3 3 0 3-1-10 0 5-1 2-1 4-2-12 0 4 0 2-1 3 0 4-2-9 0 9-3-14 0 11-1-7 0 10-1-4-3 0-1-8 0 3 0 9-2-9 0 4-1-6 0 8-1-10 0 5 0 2-1 6-1-9 0 2 0 5-5 2-1-14 0 5-1-2-2 3-1-6-1 14-1-13-8 14-2-10-2-3-1 7-4 5-1-9-1 4-1-6 0 9-1-12-1 2 0 11-2-5-1 3-2-11-1 2 0 13-6-4-1-9-1 3 0 9-1-6-2 5-22-11-13 0-4 7-9-7 1 16 10 8 2 4 2-9 3 3 4-6 4 8 4-9 1 13 7-3 2 1 2-1 0 3 3-9 1-4 1 12 1-12 1 3 0 10 1-13 0 8 2-5 0 5 2-8 0 13 1-6 1 6 2-11 3-1 1 4 5-6 0 14 4 1 1-10 2 2 2-4 0 4 1-6 0 13 3-5 2 4 1-3 2-10 0 14 2-5 2-2 1 6 1-7 1 4 0 5 1-13 2 9 1-7 1-3 0 7 3-8 0 6 1 2 0 2 2-10 0 7 1-3 1 10 1-4 1-8 2 3 2-3 0 8 0 5 1-11 1 5 0 3 2-4 1-4 2-1 0 6 1 5 1-10 1-3 2 0 0 3 2-2 1 3 0 4 0 21-1-5-1-7-1 7 0 3-2-4 0 5 0 2-1-11-1-2-1 9-3-9 0 2-2 3 0 5 0 3-2-4 0 4-2-11 0 2-2-1 0 8-3-8 0 3 0 2-1 3-1-7 0 4-2-3-1-4-1 6-2-1-1-8 0 5 0 10-1-5-2-6 0 3-1 4-1 2 0 2-2-14-1 13-1-4-2 1 0 2 0 2-3-14 0 13-2-5-2 5-1-13-2 0 0 11-2 0-1-10-1 6-1 4-1-4-1-6-1 6-2 1 0 2 0 4-3 0-1-5-2-2 0 6-7-12-1 3-2-2 0 2-1 2-1-5-2-1 0 3-1 8-1-7-1-4 0 2-1 10-2 2-2-11-2-1 0 4 0 2-1 3-1-7 0 10-1-3-1-2-1 2-2 2-2-6-8 1-2 4-5-7-6-4-3 13 10 10 4-8 4 10 4 4 4-7 0 4 1-7 0 5 1-10 0 7 0 5 3 1 3-3 0 2 3-2 1-6 2 5 1-2 0 6 1-12 1 4 0 2 2-2 3 10 2-5 3-3 1 4 1-3 1-2 1 6 2-9 0 8 1-5 1 5 1-5 1 6 0 2 1-4 1 2 1-11 0 2 1 12 1-15 0 3 0 3 0 3 2 6 2-15 0 7 0 2 0 5 2-11 1 2 1-5 1 13 0 2 1-11 2-4 0 3 0 5 1 3 1-10 1 10 2-5 0 3 1 3 1-11 0 7 2-5 2-3 0 8 0 2 1 2 0 3 2-8 1-3 2 1 1 5 0 5 1-12 2 2 0 8 1-3 1-6 0 2 1 2 3-1 0 2 1 3 2-6 1 8 1-12 2 12 1-8 1-6 0 10 1-7 1 6 1-6 0 2 0 2 3 2 0 5 2-8 1 3-2 13-2-5 0 5 0 9-1-2-1-11 0 9-1-2-2-9-1 10-1-10-3 8 0 7-1-14 0 4 0 6-1-8-3-1-2-2 0 2-2 8 0 4-4-13-2 10-2-1-2-9-3 4 0 8-2-8-3-4 0 7-1 2 0 5-1-14 0 5 0 7-2-11 0 9-2-8 0 10 0 2-2-12 0 9-2-5-1-5 0 8-2-9 0 12-1-2-2-2-1-3-1-5-1 3 0 9-1-4-1-3-2 5-3-10 0 6-2-5-1 2 0 6 0 5-2-12-2 0 0 5-2 0 0 2 0 3 0 2-2-13 0 9-3-10 0 5-1 4-1-3-3 0-1-5-1-2-1 5 0 9-2-6-1 4-2 1-2-10-2 9-2-11-1 4 0 6-2-6 0 3 0 6-1-3-1-6 0 4-2-5 0 8-1-2-1-8-1 10 0 3-13-13-1 20 8-4 4 0 0 3 3 0 0 6 2-3 1 7 1-11 1-2 0 10 2-12 1 4 1 6 3-1 3-6 1-3 1 7 1-4 1 6 2-1 2-5 1-2 0 8 0 2 0 2 1-7 2-4 1-2 0 9 3-4 0 3 0 2 2-2 0 6 1-3 1-5 0 7 1-11 2 7 0 2 2-9 0 4 0 6 3-4 2 0 0 4 1-6 6 4 1-10 0 14 1-4 1-7 1 9 1-4 1-6 0 2 2 7 1 4 1-12 0 6 1-3 0 5 1 3 1-10 0 3 0 4 1-10 2 0 0 2 9 12 2-1 2-6 0 3 3-9 0 11 2-6 0 2 1-9 0 5 1 6 1-7 0 9 1-6 0 2 1-9 1 8 1-2 0 4 1-9 1 12 1-6 2-1 0 2 1 3 3-10 1 7 0 7 3-11 1 4 0 2 1-9 1 4 0 2 0 18-1-4-1-4-1 5-2 4-1 3-1-10-2 4-4-1-2-3-2 4-2 0-1-4 0 8-1 3-3-10-2-1 0 9-2-12 0 6 0 5-1 3-1-8 0 4-1-8-1 3-1 2 0 3-1-9 0 11-1 2-1-2-4 1 0 2-5-12 0 6-1-3-1-3-1 8-1-8 0 4-1-7 0 9 0 6-2-12 0 6-1 6-1-13-1 7 0 6-2-15 0 5-2 2 0 6-1-13 0 10-1-3-1-3-1-3-2 3 0 10-1-4 0 2-1-8-1-3 0 11-2-5-1 4-1-11-2 0-2 8 0 6-1-10-2 0 0 10-1-6-1-2 0 8-2-13 0 8-1-2 0 5-2-5-1-7 0 2-2 2 0 4 0 7-10-12 0 2 0 6-1-10 0 12-1-6-2-4 0 9-1-7 0 2-1 2-1 2 0 4-1-10 0 2-1-7 0 9-1-7 0 13-1-10-1-4 0 7-7-2 0 9-4-11-2 6"/><path d="M768 527l6 0 1-8 2 3 0 5 1-2 2 0 2-8 0 9 1-14 0 3 0 8 2 3 1-14 0 2 1 3 0 6 2-11 0 5 0 9 1-11 1 2 0 6 2-10 0 4 2-5 2 9 0 5 1-2 2-7 0 5 0 4 1-2 1-7 0 10 1-8 0 2 2 0 1-9 0 2 1 2 3-2 0 2 0 2 1 7 1-4 1-9 2 7 1 7 1-14 0 3 2-3 0 6 0 3 0 5 1-3 3-6 1-5 0 3 0 5 3-4 0 4 0 2 2-6 1 6 0 3 3-8 1 7 0 3 2-8 0 5 0 3 2-11 1 8 1-4 0 7 1-2 2-2 1-10 3 10 1-10 0 3 2-1 0 4 0 5 1-3 1-6 1 6 1-6 0 10 3-12 1 5 2 0 1 4 0 2 1-10 0 5 0 8 1-11 2 11 1-14 2 14 1-14 0 4 1 2 1-5 0 2 2 0 1 3 0 3 1-6 1-3 0 6 2 2 4-8 2 1 5 4 2-4 2-1 1 3 1 11 0 3-2 2-2-2-1 2 0 6-1-10 0 2 0 11-1-5-1 6-1-2-1-5 0 2-1-5-2 1-1-2-1 4 0 6-1-3-2 5-1-8 0 2 0 4-1-2-1-3 0 7-1-4-3-1 0 4-1-12-3-1-1 10 0 3-1-11-1-2-1 12-3-10 0 7 0 4-3-3-1-10 0 14-3-14-1 8 0 3-2-7-1 5-2-10 0 5-1-2-1 12-1-15-1 3-2 2-4 0 0 5-3-1-1-6-2 0-1 4-1 3-2-6 0 5-2 3 0 3-3-15-1 7 0 5-1-11 0 8-2-1 0 5 0 2-2-15-1 4 0 5-1-7 0 4-1-2 0 11-2-8-1 6-1-6-4 6-3 2-2-15 0 11-6-6-1 9-2-9 0 4-1 2-1-9 0 4-1 9-1-12-2 5 0 5-1-13 0 4-1 2-3 2 0 7-4-2-1-11-2 13-2-7 0 2-1-7-1 3 0 7 1 17 1-7 0 3 1-9 2 2 2 10 1-12 0 8 3-7 0 12 1-7 1 4 1-10 0 2 1 5 2-3 1 3 1 2 1 4 1-7 1-7 3 11 1-11 1 3 0 11 1-14 2 10 1-9 1 13 1-11 2-1 0 2 0 3 2-6 2 4 0 2 1-7 0 12 1-10 0 5 0 3 1-5 1 2 1-3 1 9 1-8 2 2 4 6 1-5 1-7 0 3 0 10 2-12 2 0 0 9 0 4 1-10 0 2 1 6 1-9 1-2 0 8 1-4 0 6 3-7 0 5 0 4 2-13 0 6 2-1 0 8 2-4 0 2 3-3 2-8 0 6 3 6 1-7 1 8 1-10 0 3 1-7 1 4 0 11 1-3 3 2 1-14 0 10 2-8 0 8 3-1 1 3 1-12 0 7 1-5 0 12 1-10 1 6 2-6 1 2 1-5 0 11 3-5 0 4 3-5 2 3 1-9 2 10 1 2 0 2 1-5 2 4 1-6 3-7 0 10 1-8 0 2 0 3 2 2 1-8 0 2 0 3 0 15-1-2-1-3 0 6 0 3-1 4-1-3-2-6-1 8-1-12 0 14-2-13 0 2 0 3 0 5-2-3-1-4-1-2 0 10-1-5-1-2-4 3-1-3 0 6-1-11-1 11-1-5-2-1 0 10-1-12-1 6 0 5-1-14 0 3 0 9-2 1-1-6-1-4-1 8-2-7 0 2-1 5 0 4-1-10-1-5 0 13-2-6 0 5-1-7-2-1 0 2 0 4 0 5-2 0-1-12 0 6-2-5 0 6-2-1 0 2-1-11 0 5-2 3-1-8-2 3 0 8 0 2-1-13 0 7-1 4-1 3-1-11-1 6-1 4-2-1-1-11-1 2 0 3-2-1 0 9-1-5-3 2-1-9-3 8-2-9 0 10-1-7-2 1-1-2 0 10-1-7 0 9-2-3-1-11-1 4 0 4 0 2-1-9-1 3 0 2 0 7-1-14-3 5 0 10-2-12 0 9 0 3-1-8-1-5-4-1-2 5-3 4-1 2-1-3-2 0-1-6 0 3-1 6-1-3-2-3-1-5-2 4-3 0 0 3-2 1-1-2 0 8-1-12 0 7-1-5 0 13 1 11 2-5 3 7 1-11 6 9 4-6 2-5 0 4 0 9 2-13 0 8 0 5 2 0 1-2 2-7 2-2 0 3 2-3 3-3 2 9 0 3 2-13 0 5 0 6 1-8 0 5 0 5 2-10 1 9 1 3 3 0 1-15 1 13 1-6 2-3 0 8 1-11 0 6 1 8 2-11 0 9 1-13 0 11 1-5 1-5 1 6 1-6 1 3 1-3 0 5 0 6 2 1 1-11 1 2 0 6 3 3 1-6 0 4 1-10 0 8 1-4 0 2 0 6 3-6 1-6 0 11 2-12 1 2 0 2 1 5 0 2 1-8 0 10 2 1 1-11 0 3 1 8 1-10 2-4 1 9 0 4 2-4 0 3 1-10 0 5 2 4 3-9 1 7 1-6 0 3 2-5 0 9 1-6 2-3 0 7 1-4 3 0 0 11 1-15 0 9 1-5 1 7 0 2 3-11 0 10 1-3 2 3 2-9 0 2 3 6 5-10 1 28-1-4-2-4 0 3-1-8-1 6-2-1 0 10-2-10-2-4 0 3-1 10-1-10-1-2 0 4-1 2 0 3 0 4-2-12 0 10-1-7-1 6-1-11-1 13-1-13-2 0 0 6-1-4 0 10-2-7-1-2-2 10-1-14 0 5 0 5-1-7-1 2-1-2-1 4-2-7 0 2 0 3 0 3-4-7 0 7-2-2-1-2 0 7-2-10 0 8 0 6-1-11-1 8-1 2-1-7-1-5 0 2-1 8-2-7 0 6-1-3-1-6 0 13-1-15-1 10 0 4-1-10-2-3 0 10-2-11 0 11-1-2-1 6-1-10-1 7-1-4-1-7-3 7-1-8 0 2-1 5-1-3 0 7-1-5-1 7-1-13 0 6-1 9-1-14-1 9-1-2-1-4-1 4 0 2 0 5-1-13-1 4-1-5 0 7 0 7-3-11 0 5-3-8 0 13-2-14 0 7-1 3 0 4-2-9-1 6-4-3-2 2 0 4-1-13-1 12-1-3-1 5-1-9-1 6-2-12 0 8-2-8 0 3 0 8-1-5-1-6-1 8 0 6-4-2 0 2-1-14-1 3 0 3-2 3-1-4 0 11 1 8 0 2 2-5 0 6 3-9 0 8 1-10 1 11 0 3 2-10 0 6 1-4 0 2 0 7 2-3 1-11 2 1 1 10 2-10 0 4 0 7 3-9 0 9 2-3 1-4 3 8 1-4 1-9 1 8 1-2 0 5 0 2 1-14 0 10 1 4 1-11 0 3 2-6 0 5 1-3 0 11 0 2 1-10 0 5 1 3 1-5 1-6 0 11 3-13 0 14 1-12 1 7 0 6 2-5 0 5 1-2 1-12 0 5 1 6 1-9 2 4 0 4 2-9 1-2 1 8 0 3 2-8 0 9 3-12 0 8 0 4 1-7 1 9 1-9 1-4 1 6 0 8 1-13 1 11 3-13 0 12 0 2 3-7 1-6 0 3 1 7 0 2 1-8 2-2 2-3 0 10 0 2 2 1 1 2 2-10 0 3 0 2 1 4 2-8 1-3 0 9 3-4 0 5 1-12 2-1 3 7 1 5 1-11 1 12 4 0 1-13 0 5 0 10 2-12 0 11 1-9 2-5 0 9 0 2 1-4 0 7 2-6 0 5 1-11 0 2 1 9 3-7 0 4 2-5 2 6 0 7 0 12-2-13 0 6-2 7-1-10-1-3 0 9-1-5 0 7-2 1-2-12 0 11-1-5-3-6 0 8-2-1-1-7 0 9-2-10 0 9-1 5-2-14 0 8 0 3 0 3-2-5 0 5-3-5-1 2 0 2-9-13-2 3-1 6-2-6-1 6 0 2-2-10-1 6-1-7 0 5 0 4-3-7 0 11-1-3 0 5-1-11-2-4 0 6 0 4-1-2 0 4-2-8-1 3-1-6-2 14-1-11-1 9-2-10-2 0 0 5-2-7 0 11 0 3-2-5-1-5 0 2-2-5-1 10-1-3 0 6-1-13 0 3-3 4 0 4-1-8 0 2-2 4 0 3-2-6 0 3-1-8-1-2 0 11-1-2-1-7-1-3 0 15-1-3-1-8-2 4-1-5-1 12-1-10 0 3 0 3-2-7 0 11-2-13 0 2 0 7 0 3-2-6-4 7-1-11-2 3-1-7-1 4 0 10-1-6-2-6 0 13-1-10 0 8-2-11 0 11-1-7 0 2-2 5-1-10 0 2 0 5-2-10 0 4 0 11-1-8-1-7 0 14"/><path d="M896 525l1-13 2 12 0 2 3 0 1-4 1-10 2 15 2-2 2-6 2 1 0 2 0 2 2-5 2 8 1-9 3 0 1-2 0 10 1-7 1-2 0 7 1-5 1 7 2-12 0 8 1 3 1 2 2-12 1 10 1-10 0 7 1-2 1-4 1 6 2-9 0 4 1 3 2-5 1-2 1 3 2-4 1 6 2-4 2 2 3-2 0 13 2-1 1-7 1-5 0 11 2-2 1-5 0 2 2 0 0 7 2-12 0 5 1-7 1 3 2-3 0 11 1-2 2-6 0 6 2-5 3-2 0 4 0 2 1-8 1 9 1-9 2 11 3-12 1 13 3-12 4 14 1-8 0 6 3-5 1-4 0 2 2-4 0 9 0 2 0 2 1-6 1-7 0 10 1-2 1-9 0 7 2-1 0 5 2-1 2-4 0 3 1-9 1 7 3-6 0 12 4-12 2 13 2-14 0 2 1 10 0 4 0 3-1 5-1 3-1-8 0 6-1-9-2 11-1-4-1 5-1-7-1 9-2-13-1 3-2 8-1-3-1-6-1-3 0 6-1 4-1-6-1 5-5-2 0 4-1-7-2 8-2-11-1 6-1 7-1-13-1-2 0 13-4-1-1-6-1 9-1-5-2-8 0 11-1-5-2 6-1-12-2 3 0 8-1-11 0 8-1 4-1-9 0 5-1-3-2-5-1 5-1 5 0 2-5-11 0 5-1-3 0 6 0 2-1-11 0 5-1-7-1 2-1 9-2 0-1 2-1-13-1 7 0 4-2-10 0 5-2 1 0 5-1-3-2-7-2 6 0 5-1 2-1-14 0 3-2-2 0 8-1-10 0 12-2-4-1 2 0 5-2-12 0 2 0 5 0 5-3-13 0 5-1 3 0 4-1-11 0 2-2 7-2-9 0 12-1-14-1 3-1-4 0 12 0 3-1-6-2-6 0 7-1-2-1-8-2 13-2-5-2 5-3-12-2 1 0 3-4 8-2-13 0 4-1 11 0 11 1 2 1-9 1 11 1-12 3 4 0 2 1-6 0 10 1-4 1-4 0 11 1-5 1-5 2-1 1 3 0 6 2-12 0 3 0 6 0 3 4-12 0 7 0 5 2-9 1 5 1-7 1 3 3-2 2 4 2-7 0 10 1-6 0 4 1-2 4-3 0 8 1-6 0 8 3-9 0 6 1-9 2 2 1 7 1-9 0 4 1 3 2-6 0 2 0 7 2-1 1 5 1-12 0 2 1 4 0 2 1-8 0 11 1-7 1-7 2 4 0 6 1-9 0 6 2-3 1 2 1-4 1 12 1-3 1 4 2-1 1-3 1 3 1-2 2 3 1-4 6 0 2-10 0 2 0 7 1-4 1 4 0 2 0 2 1-6 3 3 3 4 1-13 1 6 3 2 2 3 1-10 2 11 1-14 1 6 1-3 0 7 0 5 2-10 1-5 0 3 2 8 0 2 2-10 0 12 2-11 1 9 1-6 1-6 1 8 1-3 1-6 0 11 3 0 2-5 0 2 0 10-3 5-2 7-2-9 0 3-1-5-1-2-2-1 0 12-2 2-1-10-1-2-1 11-3-2 0 2-1-11-1 7-2 3-1 2-1-4-1-8 0 2 0 4-5-7 0 12-1-10 0 2 0 3-2-6 0 8-2-7 0 11-2-5-1-6 0 8-2-11 0 9 0 2 0 3-2-8-1-6 0 12-1-8 0 2-1-4-1 5-1 5-2-11 0 6-1 2 0 6-2-15 0 5-1 3-1 5-1-13 0 10-1 3-1-7-1 3-3 3-1-2 0 5-1-12 0 2-3-2 0 4 0 2 0 4-2-11-1-2 0 6 0 3-1-5 0 8-1 2-1-8-4-3-1-3-3 2 0 4-1 3-3-6-2-2-1 7 0 3-2-7 0 5-2 0 0 5-3-3 0 4-1-14-1 5 0 4-3-10-1 12-2-11 0 10-2 1-1-9-1-3 0 9-1-5 0 10-1-14-2 0-1 12-1-6-1 9-2-12 0 2 0 2 0 5-1 3-1-14 0 4 0 5 0 3-2-2-1-6-2-5-2 8 0 2 0 5-1-11-1 9 0 2 3 13 2-10 0 6 2 2 1-3 2 0 2-5 0 2 1 2 0 4 1 4 1-8 0 3 0 3 2-1 2-5 0 8 1-5 0 3 2-9 4 2 2-2 0 5 1-8 0 11 1-7 1 2 0 5 1 4 1-8 1-4 1 10 1-13 1 5 0 3 0 5 2-10 1-2 0 11 1-5 1-7 0 2 0 11 2-2 0 3 2-13 1 6 0 4 1 3 1-9 1 4 1-5 0 8 3-12 0 2 0 7 1 4 2-12 0 10 2-6 0 6 0 3 1-14 0 3 2-1 0 3 0 2 0 7 3-8 2 1 0 7 1-12 0 9 2-6 1 9 1-14 1 2 0 4 0 4 2 4 1-10 1 4 0 4 1 2 2-7 0 4 1-9 0 13 1-3 1-9 0 2 2-5 0 7 3 0 1 3 2-10 0 7 3-6 0 10 0 4 3-4 2-5 2-6 0 15 2-13 0 6 1-3 1-2 0 5 1-7 2-1 0 10 1-3 1 5 1-10 0 3 2 0 0 7 1-11 0 6 0 3 3 1 2-6 0 3 1 3 1-10 1 8 2-9 0 13 1-9 0 3 0 8 2-10 0 10 0 3 0 2-1 9-1 2-2-4-4-2-3-8 0 10 0 3-1-5-1-9 0 12-1-9-2-1 0 5 0 4-2-11 0 4 0 9-1-6-2 6-2-5-2 6-1-11 0 2 0 7-1-5-3-6-5 0-5 10 0 2-1-13 0 2-2 5 0 2 0 2-3-7 0 7 0 3-1-12-1 4-1 7-3-10 0 11-5-13 0 9-3-6 0 3 0 5-2-12 0 15-1-6-3 3-1 2-1-5 0 3-1-9-2 2-1 8 0 2-1-15-1 5-1-3-2-1-1 8-1-8-1 3-3-3 0 11-1 2-1-9 0 6-2-8 0 5-2-1 0 2-1-6-1 11-1-7-1 8-1-10-2 5 0 3-1-13 0 4 0 11-3-11-1 10-2-11-2 12-1-6-1-3-2-3-1 5-1-8 0 5-1 6-1-8-1 7 0 2 0 3-1-11-2 3 0 3 0 2-1-8-1-4 0 8-2 5-1-10 0 12-2-14 0 3 0 6-2-3 0 6-1-12 0 19 1-2 0 10 2-9 2 2 0 7 0 3 2-12 0 2 0 3 1 5 1-5 0 2 0 5 1-12 0 9 1 2 2-12 0 12 2-9 0 9 2-14 0 3 1 5 0 7 1-3 1-2 1-7 2 1 1-2 0 8 1-6 1 7 1-5 0 3 1 5 1-2 1-4 1-5 0 9 2 3 1-10 2 4 1 4 1-9 2 4 0 4 1-11 0 3 0 10 1-3 1-3 1-2 5-2 0 5 1 3 2-7 0 3 1-8 1 5 0 2 0 5 1 3 1-11 0 5 2-1 3-7 1 6 0 3 1-5 2 0 0 5 2 3 1-8 0 5 2-3 0 5 1 3 1-14 0 6 1 3 1-10 0 2 0 10 1-8 1 2 2-1 1-5 0 15 1-11 0 3 2 0 2-7 0 3 0 3 0 9 2-12 0 5 3-6 0 2 0 7 2-7 1-3 1 2 0 8 0 2 1-6 1 3 0 2 0 3 2-2 5-2 3 2 2-13 1 4 0 8 1 3 1-10 0 3 2-2 0 4 2 0 0 5 2-15 0 2 0 12 1-6 1-2 1 3 3 5 2-12 1 9 1-4 0 2 0 6 1 7-3-5-1 4 0 9-1-12 0 7-1 2-1-2-1-3-1-4 0 8 0 3-2-5-2-2 0 5-2-10-3 2 0 4-1 4-1-6-2-1-1-2-1-2-1 7 0 6-2-13 0 10-1-7-2-2 0 5-1 9-1-8 0 2-1 2-1-8 0 12-2-14-1 5 0 2 0 6-1-2-1-10-2 1 0 7-2-2-1-4-1 5-1-4-2-1 0 7-2-9 0 6 0 5-2-3-1-7 0 3-1-6 0 13-1-11-1 9-4-5 0 3-3 0 0 6-1-9 0 6-2-5 0 8-3-8 0 3-2-9 0 3 0 11-1-8-4-4 0 2-2-3 0 5-1-3 0 7 0 4-3-6-1-2-1 8-1-15 0 4 0 8-2-11 0 10-1-6-1 5-1-2 0 5-1-12 0 14-1-12-1 4-1-5-1 4 0 6-1-2-1-2 0 4-2 1 0 2-3-14 0 12-2-13 0 8-1-3-1-3-1 6-3-7 0 8 0 6-1-8-1 4-2 0-1-11-4 5 0 9-3-13 0 3 0 4-2-8 0 7-1 5-1-11-1 4"/><path d="M1025 526l1-11 2 2 0 2 1-6 0 13 1-11 0 2 0 4 3-7 0 6 0 2 0 3 1-8 1 2 2-6 1 3 0 10 1-13 2 4 2 6 1 3 2-1 1-12 1 12 3-12 6 0 2 1 5 0 3-2 1 10 0 4 1-11 1 5 1 7 1-13 1 5 3 6 2-7 1-4 0 2 1-4 0 10 0 5 2-13 0 2 1 7 0 4 2-2 1-8 1-5 0 8 1-3 1-2 0 10 2-10 2 1 2-1 2-2 2 0 2 0 1 3 1 4 1-6 2 8 1 4 1-6 2-4 2 2 0 3 2 1 0 5 3 0 1-14 0 12 3-11 0 5 2 1 1-4 2 8 1-11 0 7 0 2 0 4 4-13 0 2 1 11 1-11 0 4 0 4 1-11 6 4 4 11 6 6-1-4-1 5-1-5 0 3-1 5-1-5 0 2-1 7 0 2-1-8-1-6 0 8-1-4 0 2 0 8-3-14 0 4 0 8-1-5-1-3-1 6-1-5-1 9-1-4-2-10 0 3-2 1 0 7-2-3 0 4-2-7-1-3 0 7-1 3-1-13 0 3-1 9-2-8-2 0-1-2-1 6-1-3 0 5-2 1-1-3-3-2 0 9-3 0-1-10-1 9-3 0-2-2 0 2-1-12-1 2 0 2 0 4-1 3-2-1-1-10 0 3-1 4-2-7 0 5-4 3-1-6 0 10-1-2-1-8-1 4-1-6 0 10-1-7 0 2-2-7 0 7 0 2 0 4-3-12-2 1-1 2-2-3 0 4-1 10-3-4-2-4-1 4-1-7 0 2-1 8-2-7 0 7-2-2-1-5-1-5 0 2 0 7 0 4-1-8 0 2-1-7-2 0-2 10-1-4 0 6-3-8 0 8-2-8 0 2-2 5-1-10-2 5-1-8-1 3-4-3-1 3-2-1 0 3 0 3-2-1 0 9 0 8 2 3 1 2 3-10 0 5 2 0 2 0 1-7 1 9 1 3 2-13 0 3 0 12 1-6 2-8 3 11 1-5 0 2 1-9 0 13 1-7 3 6 1-11 0 13 1-8 0 2 1 7 1-12 0 8 1-11 1 7 1-3 0 8 2-12 0 13 2-5 0 4 0 3 2-3 1 2 3-13 0 11 1-7 0 2 1-5 0 7 0 5 2-9 2 5 1-9 0 7 1-3 0 5 0 4 2-1 1-13 0 4 1 11 1-11 1-4 0 14 1-11 0 3 0 6 3 2 1-11 0 4 1-2 3 0 1-5 0 8 0 2 0 2 2-7 1 10 1-4 1-9 2 3 1 10 1-7 0 2 0 3 2-7 0 6 0 3 2-4 1-8 2-3 8 3 2 6 1-7 0 10 1-2 1-5 2 7 2 0 1-11 0 5 0 2 2-1 0 3 2-7 0 7 2-8 0 4 0 8 2-11 1 9 1-10 1 5 1-7 2 14 1-13 1 2 0 3 0 5 0 2 2-12 0 2 1 7 0 4 2 0 1-11 1 10 1-13 0 16 0 3 0 2 0 8-1-3-1-8 0 4-1-2 0 5-2-8-5 1-2 7-1-4-1 10-1-11-3 3 0 3-1-7-3-2 0 14-2-9-2 8-1-7 0 2-1-7 0 11-1-9-1 6-2-10 0 4 0 5-1 2-2 4-3-11 0 7-1 2-1-12 0 2 0 3 0 3-3-9 0 2 0 11-1-9-1 4-3 0 0 2-1-8-1 5-2 5-1-8-1-3-2 12-1-8 0 5-1-10 0 8-2 1-1-7-3 2 0 10-2-13-1 7 0 7-1-12-2-1 0 8 0 2-2-8 0 7 0 3-1-12 0 5-2 5-2 1 0 2-2-7-1-8 0 15-2 0-1-13 0 7-1-4-1 6-1-8-1 9-2-11 0 5 0 8-2-9 0 4 0 2-3-8 0 3 0 6-2-7-1 10-1-14 0 12-3-8-2-2 0 4 0 8-1-15 0 11-1-9-2 2 0 4-2-8 0 11-2 2-2-2-1 3-1-14-2 5-1 6-1-2-1-8 0 6 0 6-1-8-1 9-1-7-2 2-2 2 1 12 1 5 3-9 0 8 1 2 2-8 0 4 0 2 2-6 0 2 1 8 2-11 1-4 0 9 0 2 2 2 1-13 0 8 1-6 4 7 1-5 1 2 0 5 2 0 1-2 1-4 0 8 2 0 1-3 1-2 1 6 1-8 0 2 1-5 0 10 1-12 1 5 1 2 1-2 0 8 1-2 1-11 1 10 1-5 0 3 2-7 0 13 1-5 1-9 1 3 0 8 2-4 0 5 1-10 1 3 0 4 0 5 1-13 2-1 1 9 1 3 2-10 1 5 1 3 1-5 0 2 1 2 0 2 1-11 0 13 2-14 0 2 2 10 1-6 0 4 1-10 3 3 0 8 1-4 0 6 1 2 3-8 0 3 2-3 1-6 0 4 2-2 0 3 1 8 1-3 1-9 0 7 1-3 0 6 2 2 1-9 1 3 1-2 0 9 3-1 2-8 2-4 1 2 0 10 1-3 2-9 3 12 1-13 1 4 1 5 4-8 0 4 2-4 1 4 0 4 2-1 1-4 0 7 2-8 2 5 0 4 2 2-1 10 0 5-3-13 0 6 0 7-1-3-1-6 0 9-1-2-1-10 0 3 0 5-3-10-3 0-5 7-1-4-1 11-1-14-2 12-1-11-1 13-1-14-1 11-1-7-1 2 0 3-1-8 0 11-1-2-2 2-1-7 0 5-4-3 0 8-2-12 0 9-1-4-1-5 0 8-1-6-1-5-1 2-2 2 0 3-2-6-1 3 0 2 0 4 0 2-1-12-1 3 0 5 0 3-2-3 0 7-2-15 0 10-3 4-1-9-2 6-1-8-2 3-1-4-1-2 0 10 0 5-1-12-1 8-1-11-1 15-1-14 0 3-1 3-1 4-1-8-1 6-1-9 0 6-1 5-2 1-1-4 0 6-1-2-1-12 0 15-2-14-1 10-1-10 0 2-2 3 0 5 0 3-1-10-2 8-1-2-1-8 0 2 0 4-2 7-1-14 0 5-1 5-1-11 0 2-1 12-5-5-1 6-4-4 0 2-1-11-1 11-1-5-1 3-1-8-2-3 0 11 0 2-2-10 0 6-2-1-1-4-1 10-1-7 0 19 0 2 0 3 1-9 1 3 1-9 0 2 0 9 3 0 1-11 1 2 2 3 0 6 1 3 3-10 0 10 1-7 0 2 1-7 1 3 0 5 2-9 2 1 0 8 0 3 1-13 2 5 1 8 3-12 0 4 3-4 1 3 1 6 2 0 2-6 1-4 0 8 0 5 2-12 1 10 4-5 1-5 0 2 1 3 1-2 0 5 1-3 2 6 1-8 4 2 0 5 0 3 1-5 1-3 1-6 4 5 1-3 0 12 1-14 2 4 1-2 1 2 1 3 0 8 5-12 0 2 0 4 0 2 1-11 2 6 1 2 0 7 1-12 1 11 1-4 3 3 1-11 0 6 0 3 2-10 1 6 0 4 2-1 0 5 2 0 3-1 3-14 1 7 1 6 1-12 0 2 2 7 0 3 2-8 0 4 0 6 2-11 1 4 0 2 2-3 0 4 4-5 1 8 1-5 2-1 0 4 1-2 1-4 3-5 0 7 1-5 1 9 0 3 1-9 0 21-1-3 0 5-2-13 0 9 0 6-1-13 0 2 0 7-1 2-2-8 0 8-1-13-1 11-3 2-1-4-1-3 0 8-2 1-2-10-1-4-1 3 0 11-1-14-1 9-1-10 0 5-4-5-1 5-1-2 0 6-1-8 0 12-2-9 0 6-1-2 0 5-1-2-2-2-1-8 0 5-1 5-1-6-1 2-1-4-1 6-1-9 0 12 0 3-2-15 0 14-2-12-1 7-2 5-1-13-1 2 0 4 0 3-5-2-2-2 0 6-1-8-2 2-3-2 0 11-2-1-1-8-1-5-2 3 0 3-3-2-2-5-1 2-1 2-1 8-1-4-1-7 0 9 0 2-1-7-1 7-2-12 0 6-3 6-1-2-1-10-2 9 0 6-1-15-2 8 0 5-1-2-1 4-1-2-2-4 0 5-2-5-1-2 0 6-1-4 0 2-1-8 0 4-3-3 0 4-1 4-2-11 0 8 0 6-1-11 0 9-1-13-2 4 0 5-2-3-1 3 0 3 0 3-1-13 0 3-1 9-2-7-3-7 0 3-1 10-1-5"/><path d="M1156 514l3 6 1-2 3-2 1-2 0 12 1-5 0 2 1 4 1-11 0 4 1 6 1-12 0 10 1-5 2 2 0 5 1-7 1 8 1-10 5-1 0 6 0 4 2-7 3 5 1-8 4 8 10-6 0 4 16 3 11-5 2 3 6 0 12-3 9 3 7-3 16-8-4 31-3-5-2 3-6-7-22 3-10-4-4 0 0 8-3 2-1-4-8-1-4 2-11-5 0 8-6-4-1-6-4 6-3-11 0 11 0 4-5-10-2 9-1-2-2-12-1 4-4 1-1-4 0 7-3-4 0 3-5-3-2 4-4 4-1-2-1 3-1-7-1 4-1-9 0 13 2 2 0 5 1 9 2-5 1-4 1-5 1 10 1-5 1-2 2 4 0 4 2 0 1-2 0 4 7-8 1 2 1-2 0 4 2-4 0 3 1-8 0 14 3-14 0 10 1-5 0 3 1-5 0 8 0 4 1-10 2 4 2-7 0 3 2 3 1 6 1-5 1-8 1 5 2 0 1 6 8-11 7 14 2-11 4-2 2 4 21 6 5 1 3-9 8-4 7 9 4 5-13 7-5-2-2 10-7-2-4-7-5 3-6-5-1 6-4-7-8 12-5 2-2-4-2-7-2 8-3-3-1-3-1-2-1 11-1-12 0 5-1-7 0 11-1-4-1-5-2 5 0 7-1-15 0 3 0 10-2-12 0 6 0 3 0 5-2-10-5-3 0 12-4-13-7 13-2-13 0 2-1 8-1-10-1 3 0 5-1-2 0 6-2-8-2-5 0 9-1-7-1 2 0 5-1 2-1-7-1 6 0 3-1-12-1 10 0 5 0 9 1-4 3-2 0 3 0 6 2-5 1-7 0 12 2-12 0 8 1 2 2-9 0 5 1 2 1-5 1 4 0 2 1-9 0 2 0 13 2-11 0 3 0 6 1-3 1-6 1-3 0 10 2-5 1 4 3 1 2-7 2-4 2 0 0 3 3-2 2 10 3-4 0 4 1-11 0 14 1-12 0 7 3-9 0 3 2-1 1-2 0 9 1-7 1 2 2 3 2 6 4-6 1 2 1 2 1 2 1-9 4 3 7-5 7 4 3-3 1 6 0 6 4-11 1 5 6-3 4-6 0 12 14-5 3 18-5 4-7-5-5-6-4-1-4 9-3 3-4-7-7 0 0 8-4-13-1 4-6 9-1-2-2-10 0 4-2 2-1-2 0 9-2-13-1 5 0 5-1-9-1-2-1 7-1 2 0 2 0 3-2-11-1-4 0 2-1 9-1-9 0 4-1 6-1-12 0 2 0 4 0 3 0 5-1-10-2-4 0 5-2-5-2 14-6-13-1 8-3-4 0 2-2-4-3 8-2 2-2-11-1 8-1-5-1-4-1 4 0 2-2-4-2 0-1-3-2 13-2-3-1-8-1 4-7-2 0 8 0 5 0 12 1-4 0 6 4-11 1-4 0 9 1-3 1 6 1-7 0 4 1-2 2 7 8 1 1-15 0 8 3-2 1 8 1-2 1-2 1-6 1 11 1-13 0 10 1-7 0 3 0 6 2-5 2 4 1-6 0 4 1-10 1 11 6-9 4 0 1 9 2-10 0 9 2 3 1-3 1-9 0 3 0 9 1-6 1-4 0 6 0 5 1-9 2 1 2 3 1-4 0 8 2-13 0 2 0 7 1 2 1-12 2 6 2 3 1-3 1 4 1 3 2 2 7-11 1 5 2-9 1 7 6 2 2-3 4-2 7-4 8 3 0 7 8 9-7-3-5 2-2 3-6 1-11-3 0 9-2-3-6-5-5 5 0 3 0 3-1-9-3 6-2-8-1 10-2 1-1-12 0 4-1-6 0 11-1 3-2-4-2-7-2-4 0 10 0 5-3-11-2-3 0 4-1-2-2-3-10 9 0 2-1-8-2-1 0 8-1-10 0 15-2-5-3-9 0 12-2-12-2 4 0 9-2-7-1-4 0 2-1 6-3-3-2 3 0 3-3-4-1 2-2 3-2-5-1-9-2 4-2 3-2-7-2 0 0 3 0 4-2-4"/><path d="M1280 520l9-7 0 11 2 2 1-7 1 6 1-6 1 6 2-4 0 4 3-2 4 1 2-2 2 0 0 3 2-5 1 4 1-3 1-9 0 11 1-3 1 5 5-6 0 7 3-2 3-11 0 8 1-4 4-4 0 4 0 4 2 3 5 3 5-4 3-2 3 0 5-2 1 7 1-6 0 2 7-4 1-2 1 4 0 7 3-3 2 3 1-13 0 5 1-2 1-5 0 13 2 2 1-10 0 4 0 2 1 3 1-12 2 3 0 2 0 8 1-13 2 11 1-12 1 7 0 3 3 4 4-1 3-3 3-11 8 17-1 4-1-5 0 10-1-8 0 2 0 4-1-2-1-5-1 6 0 8-1-13-1 4 0 2-2 2-1-6-1 5-1 5-1-12 0 8-2-1 0 4-3-11 0 4 0 8-2-12 0 5-1-2-1-4-10 0-18 2-4-1 0 3-1 4-4 3-1-3 0 6-2-11 0 5-2 1-1-3-1-4 0 6 0 5-3-7 0 6 0 2-1-14-1 8-1-3 0 8-5-11-2-2-6 0-5 0-5 0-2 0-3 1-6 0-5-1 0 3-2-2-3 13-2-15-3 3-2 10-2-10 1 14 4 1 5 9 3-5 21 9 9-11 2-4 2 4 6 11 1-10 1-2 0 8 2-8 0 8 2-5 1 7 1-11 1 2 0 3 2 0 0 4 2-1 2 0 0 4 2-3 0 3 2 0 7 0 25-2 0 2 4-7 0 5 1-9 2 9 2-6 2 6 1-7 0 5 3-5 8 21-1-6-1 5 0 4-1-7-1-4-1 10-2-12 0 8-1-2-1-4-2 0-2-2-2 0 0 4-2-4-4 3-1-3 0 6-1-3-3 2-1-3-1 4-2-3 0 7 0 3-2-6 0 4-1 2-2-8 0 2 0 7-1-5-1 5-1-8-1 3 0 3-3-5 0 5-3-12 0 9 0 2-2-11-1 3-1 5 0 2-1-10 0 2 0 3-2 0-2-5 0 3-1 2-1-3 0 6-7-8-3 2 0 2-2-3-2 5-1-6 0 8-1-3-3 0 0 2 0 5-1-3 0 6-2-8-2 0-3 8-4-11 0 6-2 0-1 3-6-5-3 6-2-9 0 9-1-11 0 6-1-3 0 8-1-2-4-11 0 5-1-3-1 6-10 6-4 12 9-5 3-2 6-4 6 12 12-12 3 0 4 6 2-3 0 6 2-8 0 12 3 2 1-9 0 5 1-2 1 3 2 3 29-12 2-3 3 7 0 6 1-8 1-3 0 10 4-11 10 9 18 1 1-5 0 7-1 9 0 3-1 6-1-10-1 9-11-14-3 15-7-6-1 6-1-7-1 6-3-3-4-11 0 9-2-3 0 7-2-8-2 0 0 8-2-4 0 4-1-11-1 7-4-5-4-4 0 15-3-15 0 3-1 5-3-1-1-2-1-2-3 1-1 3-6-7-1 8-1-3-2 0 0 5-1 2-3-10-1 7-1 5-2-1-6 0-5 2-14-2-7 0-9-10-1 5-1 5 4 12 3 5 5-1 7-5 6 4 3-2 2-4 2-5 2 14 1-10 0 2 0 6 1-4 6-7 0 3 1-5 14 10 11 3 0 2 1-4 1-4 0 6 2-9 0 2 2-2 0 9 1-7 1 5 1 3 1-10 0 6 0 2 1-11 2 3 4 11 6-9 5-6 2 0 0 3 6 0 2-1 4 7 0 4 1-10 1 9 1-3 1-4 0 2 0 8 2-6 2 1 2-7 3 7 2-4 0 4 2 1-5 6-6 4-1 2 0 5-2-6-1-4-2-2 0 11-1 2-1-11 0 13-3-2-1-5-1-2-3 7-3-2-3-11-1 3-2 4-3 6-2 0-4 2-2-2-6-3-1-2-1-6-1 7-1-8 0 5 0 5-5-8 0 8-3-3-1 6-8 0-2 0-20-13-28 3-3-2"/><path d="M1410 524l2 2 3 0 3-1 3 2 2-2 1-4 1-3 2 1 0 3 1 2 2-4 0 6 2-4 0 3 2-3 1-2 7-7 0 3 0 8 0 2 1-6 1-6 1 4 2 1 2-3 1 8 1 3 16-6 6 0 6 4 4-11 6 9 4 13-11-6 0 4-5-6-13 15-3-8-1 2-1-3-1-3-2-3 0 14-2-11-2 7-1-5-1 7-2-12-1 12-3-7-2 4 0 4-1 2-2-13 0 13-5-1-8-12-2 1-3 0-2-1 0 2-1-4-3 4-2 0-2 3-1-3-1-4-1 2 29 19 0 4 2 2 3-9 0 9 1-7 0 3 1-6 1 3 0 4 0 5 1-2 1-10 0 7 3-7 3-1 0 4 1 4 4 3 10 2 6-13 1 7 5 5 4 3 5-5 4-5 2 10 3-4 3-3 2-5 30 26-11-10-1 9-6-12-14 13-4-6-2 7-1-10-7 5-4-4 0 7-1 3-2-15-1 5 0 7-1 2-2-1-4-10-15 6-13-6 0 12-1-8-1-6 0 9-1-5-1 3-1-6-1 13-1-7-1-7 0 4 0 8-1-5-1-8-1 12-1-8-1 10-3 1-1-5-1 3-4-2-1-2 0 6-3 0-3-2-1 2-2-4-1-5-1 2-2 10 2 3 0 3 1-6 0 13 2-7 3 4 8 2 16-13 4 3 0 2 1-5 1 3 0 5 2-5 0 4 1-2 1 5 0 2 2-6 0 7 3-14 0 9 0 2 6-4 0 4 2-2 2 4 1-8 2 4 1-2 4-2 2-2 0 4 1-7 0 13 0 2 1-9 1 6 1-9 1-3 2 3 2 2 0 2 0 8 1-14 0 11 4-4 5-5 0 12 6-12 1 3 4 7 2-5 4 0 5-3 9 1 4 9 5 15-3-7-1 7-2-5-13-5-2 3-3 4-6-5-1 6-1 3-2-2 0 2-4-13 0 2 0 10-1-5-3-6 0 10-1-6-1-3 0 10-1-12 0 5-2-2-1-2 0 7-1-4-1-4 0 12-1-7-1-4 0 2 0 5-1-9-1 5-1-6 0 12 0 2-2-2-2 0-1-7-1-4 0 12 0 2-2-14 0 7 0 2 0 3-7-5-1-8-8 2-2-2-2 5-2-5 0 11-3-5-1-4-1 11-2-2 0 2-3-4-1-2-1-2-1 9-5-14-19 14-1-9-1 9-1-4-1 3 5 4 0 4 1 5 3-2 0 2 0 5 1-9 1 8 6-2 1-3 1 6 2-6 1-6 0 10 2-8 2 9 1-14 1 8 2-1 0 3 2-4 0 3 1 3 1-11 1 11 1-11 1 6 2 6 3-3 2 1 5 3 4 1 11-8 1 3 0 3 0 2 3-9 1 9 2-15 1 2 1 8 1 2 1-7 1 8 0 2 2-7 0 3 1-9 0 11 3-13 3 13 0 2 3-7 2-8 0 10 1 5 3-12 1 2 1-5 0 7 1-4 1 10 1-13 1 4 2 3 0 3 1-5 3 1 0 4 3 3 9 0 3-4 2-8 4 19-2 6-1-9-3 1-2 12-7-11-2-1-5 0 0 3-2-2 0 2-6-4-2 1-1-2-1 4-2-1 0 7-1-9 0 5-2-5-1 4-2 3 0 3-2 1-1-4-2-1-2 4-1 2-2 0 0 2-1-9-1-4-2 8-1-4-2-5 0 9-1-7 0 5-5 0-4 4 0 3-1-12-1 7-1-6 0 10-1-8 0 3-2-7 0 5-1 2-1-6 0 2-3-5 0 2 0 2-2-3-2 0 0 4-1 8-1-11-1 2-2-4 0 2-2-1-13 13-2-6-1 5-3-10-1 7-2-10 0 4-3 0-6 1"/><path d="M1536 570l14 20 11 8-5 2-1-4-19 5 5 12 3 6 5-6 29 2 13 14-14 0-11-1-11 1-5 6-2-7-2 3-6 4"/><path d="M1822 573l-7 1 4 5 6 1 3 8 1-6 2 4 1 3 17 17-1-6-4 2 4 14 1 4 1-6 1-4 3 2-5 13 21 73 288 174"/><path d="M542 643l0 7 0 5 2-8 1-7 23 15 6-1 2-6 0 3 2 2 1-8 2 3 2 7 1-14 4 10 3 2 8 2 13-3 9-5 7-4 5 21-1 5-1-10-14 7-16 4-4-11-2 3-6-2-10-3-2 1-1 8-1-5-1-3-1 9-2-8-2 2-1-4-3 2-1 6-5-1-2 3-1-6-10-1-1-2-4 2 0 11-2-7 0 3-3 15 2-7 0 2 9-2 23 1 1-4 1 5 1 2 2-3 0 4 1-7 1 9 0 3 1-10 0 5 2 3 0 2 2-3 1-3 1 4 0 3 4 0 2-13 0 10 2 3 1-11 5 1 8 8 2-9 8 5 21-8 1 24-26-6-10 5-9-4-1 7 0 2-2-9-1 7 0 3-2 2-1-5-1-9-2 12-3 2-1-14-1 10-4 3-10 0-13 0-11-4-1-3-1-7-1 7 0 8-1-3-1-9-2 25 2-5 1-6 1 2 3-3 11 3 1-2 2 7 1-7 1 10 1-4 0 7 1-13 1 12 1 2 1-12 2 10 1-9 1 4 3-8 0 4 1 3 2-3 2-4 0 5 4-5 4 1 3 0 0 11 11-9 5 3 2 5 2-9 1 12 3-5 7 3 4 1 4-2 10-10 3 21-7-1-10-4-6-1-11 15-2-8-37-6-1 2-1-2 0 11-1-5-2 7-1-3-1-10 0 8-1 2-2 1-2 3-9-7-4 6-2-14 0 8 0 4-1-7 3 19 1-4 1 6 0 3 1 1 2-4 0 4 9-9 0 4 1 2 2-3 1-5 0 3 0 6 4-10 1 7 1-9 0 12 0 2 2-3 1 2 2 0 1-6 1 4 1 2 1-3 1 2 2-1 2 2 1-6 1 8 3-2 3-5 28-2 1-4 2 10 21-5 1 19-27-6-3 5-2-4-3 7-1-4-2 6-1-10 0 3 0 2-4 1-1-5-1 2-2 2-2 5-2 1-1-14 0 5 0 7-1-10-2 3-1-6-1 2-1 3 0 9-3-9-1-5-2 2-2 0-27-2-1 12-1-7-2-1"/><path d="M642 650l5 2 2-5 0 3 1 5 1-13 0 8 0 3 4-9 0 5 1-8 1 11 1-4 1-2 2 2 1-5 0 7 1-9 1 4 0 4 2-3 0 9 1-15 0 9 2-9 11 4 0 5 2-7 0 5 1 2 1-6 0 3 1 7 1-3 1-6 0 2 1-5 1 10 3-9 1 2 0 9 1-2 0 4 3-12 0 8 1-10 3-1 0 7 2-6 3 3 0 10 1-12 0 6 3-4 0 4 1 2 1-8 0 4 3-3 0 5 3-1 1-4 0 9 5-7 1 6 4-11 1 5 0 4 3-8 0 8 2-7 1 7 1-9 1 4 0 9 3-11 0 2 0 7 0 3 2-7 1-7 1 13 1-3 7-5 5 2 1-3 0 5 1 5 2-1 2-13 0 9 3 2 0 17-1-12-3 5-2 7-1-9-3 7-9 1-1-3-1 2-1-6-1 9-1-5 0 3-1 4-1-8 0 3-2 2-1-7-1-4-1 4 0 10-1-7 0 4-1-12 0 14-1-7-1-6 0 8-3 0-5-4 0 10-2 0-4-10 0 6-1-4 0 8-2-4-1-4 0 8-3-9-2 9-2-10-4 8 0 2-1-14-2 10-2-1-1-3-1-7-1 8 0 3-3-8 0 7 0 4-2 0-1-13-2 8-2 4-1-13-1 5-1 4 0 3-1 2-1-5-1-9 0 4-1-2-1 13-10-14 0 13-2-13 0 7-2 6-2-3-2-11 0 3 0 11-1-8-3-5 0 5 0 3 0 2-3-4-1-4 0 2-4-1 0 9-5-5-1 15 4-6 2 5 4-2 0 2 2 0 0 9 2-15 0 9 0 5 1-8 1-6 1 2 0 9 2-9 0 6 0 4 2-11 0 14 1-5 0 2 1-9 0 11 2-12 1-2 0 14 3-7 0 6 2 2 6-10 3-5 1 3 0 5 2-4 0 2 2 2 1 3 1-6 1-2 4-3 1 8 1-4 1 5 0 2 0 3 2-6 8-8 1 3 1 8 1-10 1 3 2-2 0 3 5 3 2 7 4-2 3-11 0 11 2-2 0 3 1-11 0 3 1-5 1 3 1-3 0 10 1-6 1-3 1 7 3-5 0 2 0 8 4-1 1-3 2-9 1 14 2-5 1-9 2 0 0 10 0 3 1-11 0 5 1 5 1-6 3-7 1 9 3-1 0 7 3-12 0 4 0 8 1-6 1-8 0 11 1-8 0 19-1-5-1 2-1-3-1 4 0 2 0 4-2-6 0 7 0 2-1-5-2-5 0 10-3-12 0 4 0 3-1 2-1-4-1-5 0 11-1-6-4-6 0 8-3-7 0 4-1 4-1-10 0 13-1-9 0 11-1-3-2-5 0 6-1-13 0 2-1 10-1-3-1 2-1-4-3 2 0 2-2-11-1 14-1-14-1 11-3-3 0 7-3-12-1 3-10-2-1 8-2 2-3-2-2-8 0 5-1-8 0 13-1-6-1-2 0 5-2-11 0 2 0 12-2-10-2 4-7-7-3 1 0 9-4 0-1-7-1 3 0 6-2-12 0 8 0 3-1-7-1-2 0 7 0 3-2 2-1-12-1-2-1 4-1 8-1-13-2 12-1-11-1 3-3 7-1 4-1-10-6-2-7 6 1 16 8-1 8-4 1 6 2-7 2 3 1-3 0 8 1-6 1-2 0 8 1 4 1-13 1 5 1-3 1 4 0 3 1-11 2 5 0 10 1-14 1 9 2-6 0 7 2-11 0 9 1 2 2-2 4-4 6-5 1 2 0 2 4 1 2-4 1 3 0 3 0 4 2-3 0 4 3-11 1 2 0 3 0 5 0 3 2-5 2-4 0 7 2-8 0 8 1-5 0 7 1-4 2-6 0 3 0 5 0 2 2-11 0 9 2 2 2-13 0 14 2-5 1-5 1 2 1 2 1 5 1-3 1 2 1-6 2-4 0 3 0 3 2-8 0 9 0 2 2 0 0 3 2-13 0 2 0 8 0 2 1-4 1-8 0 11 1-8 0 6 1-9 0 7 1 5 1-10 2 2 0 3 0 4 1-10 2 9 0 2 1-5 1-3 1 9 3-14 0 4 4-5 4 1 1 23 0 3-2-9 0 3-1 4 0 2-2-6 0 5-1 3-2-10-3 9-1-11 0 6 0 7-1-2-1-9 0 5-1 3-1-6-2 6-1-4-1-4 0 2 0 7-2-4-1 2-2-7-2 12-1-8 0 6-1-10-1-3-2 5 0 7 0 3-1-15-1 6-1 5-2-10-1 4 0 3 0 3 0 4-2-3-1-11 0 5-3-5 0 6 0 7-2-10 0 5 0 4-2-3-1 3 0 2-3-1-1-4-2 1-1 2-1 2-1-15-4 4-1-2-9 5-4 2 0 6-2-12-1 4 0 7-1-13 0 9-2-6-2-3 0 7 0 3-4 2-1-12-2 3 0 7-1 3-1-2-3 3-1-4-4-4-1-7-4 0-16 6-3 2 0 23 2-14 2 4 2 3 2-5 9 4 4-2 9-3 1-2 3 2 2 1 1-2 2 5 0 3 0 3 1-8 0 11 1-3 1-9 1 7 0 5 1-9 1 2 1-3 1-4 2 0 0 4 0 4 1 2 1-6 0 8 1-6 0 3 1 2 0 3 3-7 0 5 1-9 0 6 1 4 3-6 2 6 2-3 1 4 3 0 4-11 1-4 2 1 1 8 1-2 1-6 0 10 1-7 1-4 1 13 1-7 0 3 0 2 1-7 1 5 2-6 0 11 1-6 1-5 0 8 0 4 2-14 0 7 4 0 0 3 2-1 4-10 0 4 3 10 1-13 2 2 3 0 0 3 3-3 3-1 2 4 2-3 2 8 1-10 0 6 2 5-3 4-3 15-1-3-1 2-1-7 0 3-5 0-1-4-1 6-2-11 0 10-1-5 0 8-3-2-1-11 0 5 0 4-2 0 0 2-1-10-1 6-1-8-1 8 0 6-1-8-1 2-1-8-1 2 0 5-1-7-1 2-3-1-7 9-1 2-2 1-1-8 0 5-3-8 0 12-2-14 0 11-1 2-1-3-1 5-1-14 0 11-1-4-2 6-1-14 0 10-2-8-4 8-1 3-1-4-2-8 0 5-1 4-1-10-2 1 0 3-2-1-3 4-1 6-4 2-20-14-6 1-3 10"/><path d="M768 642l0 4 1-2 3 4 0 7 2-13 0 5 2 1 0 2 0 5 2-8 0 5 0 2 1-5 2-9 2 3 0 10 1-5 2-6 0 5 1 4 1-8 0 4 1 4 1-8 1 4 0 2 0 3 3-9 0 12 1-8 1-6 0 2 0 9 1-7 2 5 1-2 0 5 4-12 1 6 0 6 2-4 3-5 1-2 1 3 0 4 1 3 1-11 1 5 2-2 0 11 1-14 0 5 0 7 3-9 1-2 1 5 3-4 0 5 5-7 0 8 2-5 1-2 1-2 0 10 1 3 0 2 1-10 1 2 1-3 1-2 0 12 1-5 2-1 0 4 0 3 1-13 0 4 3-6 1 10 3 2 0 3 7-15 0 5 8-1 0 3 1 4 1-11 0 3 1 6 0 3 1-12 1 7 2-4 0 2 0 4 2-7 3 13 1-6 2 0 0 6 1-14 0 6 0 5 1 2 1-14 0 7 1 5 1 3 1-3 1-2 2 4 1-14 3 7 0 2 1 6 0 4-2 7-1-10 0 15-1-3-1-3-1 5-2-6 0 2-1 3-1-2-1-2-1-8-1 9-6 1-2-2 0 4 0 2-2-4 0 4-1-8-2 0-3 5 0 2-2-1-2 1-2-9 0 7 0 3-1-14-1 13-5-10-1-2 0 6-2-2-5 0-3-2 0 6-1-2-1 5-2-7 0 4 0 2-1 2-2-10 0 8-1 2-1-8 0 3-3 2-1-4 0 6-2-7 0 5-1-8-2-3-1 2 0 9 0 2-1-7 0 3-1-6-1 3-1 4-1 2-1-2-2 3-2-13 0 7 0 3 0 4-1-11 0 2-1 4 0 3-1-11 0 6-1 8-2-13-1-2 0 5 0 4-1 2-2-8 0 8-2-6 0 10-1-14 0 2 0 8-2 2-1-13-1 8-1 5-3-9 0 9-1-12 0 9-2-5-1 3-1-8-1 7 0 4-1-2-1-2 0 5-2-5 0 4-1-7-1-4-1 15-2-4-2-6 0 4 0 6-1-12-1-2 0 8 0 4-2-11-1 13-2-6 0 9 0 5 1 5 2-3 1-5 0 10 2-10 0 7 1-10 0 7 2 2 1 2 0 2 1-13 1 2 1 3 1-3 0 6 0 2 1-4 0 7 1-12 0 8 4-9 0 8 2-3 1-3 2 3 0 3 0 3 2-10 0 11 1-8 2-1 0 5 1-7 0 11 1-5 1 7 2 0 1-14 0 4 0 4 0 2 1-4 2-4 0 11 2-10 0 2 1 4 1-9 0 14 2-15 0 7 0 3 2 2 2 2 1-4 2-5 1-4 0 6 0 3 2-8 0 12 1-14 1 13 1-5 2-5 0 11 1-9 2 10 2-14 3 1 2-1 0 3 3 4 2-8 1 9 1-2 2-5 0 6 0 5 3-9 1 2 2 1 0 8 2-4 2-1 1-9 0 4 1 10 1-2 1-8 1 10 1-11 2-1 0 10 1-6 0 4 3-7 0 3 1 7 1-9 1 3 0 3 1-5 1-5 0 7 2-3 1-5 0 13 2-5 1-6 0 12 2-4 0 5 2-8 3 2 2-2 0 6 2-6 0 5 0 2 1-13 0 8 1 3 2 0 0 4 0 8 0 2 0 4-3-8 0 4 0 4-2-8 0 2-1-8 0 12-2-11-2 3-2 1 0 2-1 4-1 4-1-4-1 4-1-11 0 2 0 4-1-10-1 3 0 4 0 3-1-9-2 9 0 5-1-15-2 8 0 7-1-3-1-12-1 14-2-7-1-6-1 5-2 7-1-6-1 4 0 4-1-2-1-7-3 4 0 4-2-7 0 6-1-9-1 7-1-11 0 7 0 7-1-9-1-3-1 8-1-6-1 4-1-3-1-3-1 3 0 8-1 2-2 0-2-5 0 4-1-13-1 8-2 0-1-2 0 6-2-3-2 4-1-6 0 2-2-10 0 5-1 4-2-5 0 3-2-4-1 3-4 6-1-2-2 1-1-3-2 7-1-11 0 7-1-11 0 6-4 7-1-5-1-4 0 7-2-1-1-10 0 7-1 3-1-3-1-2-1-4 0 7-3-8 0 2-2 3-2-5 0 3-3-2 0 3-3 11-2-2-5 0 0 2-1-13 0 8-1-2-1 2 0 5-1-13-1 8 0 6 0 9 2-8 1 8 2-4 2 1 0 2 3-3 1 7 1-5 2-5 0 3 0 5 0 5 1-8 2 2 1 3 0 2 3-1 1-11 1 13 2-3 2-2 2 4 2-1 9-12 0 10 2-7 1 2 2-5 2 8 0 2 1-11 1 5 1-4 1 9 1-8 0 12 1-10 1 2 1-4 0 2 0 4 1 7 1-14 0 9 2-5 1-5 1 7 4-5 0 3 0 5 2 3 1-10 1 9 1 3 2-12 0 7 3-10 0 12 2 3 2-4 0 3 2-8 1 5 1-7 1-2 3 9 1 3 1-14 0 6 0 6 1-3 2-8 0 11 3-11 0 11 1-8 1 9 1-10 0 5 1-7 0 4 2 5 0 5 1-3 2-10 0 5 0 2 0 4 2-4 1-4 2 4 0 3 1-11 0 4 2-2 0 9 2 1 3-11 0 3 0 10 2-8 1 5 1-11 0 13 3-6 0 6 1-8 0 6 1-3 1 11 0 10-1-13-4 8 0 3-1-5-2-6 0 11-1 2-1-7-1-5-1 5-1 2-2 6-1-8-1-6 0 3-1 8-1-11-3 13-1-14 0 6 0 4-2-6 0 2-1 8-2-1-1-10 0 4-1-6-1 13-1-10 0 2 0 3-2 2-1-11 0 14-1-10 0 8-2-6-1-3 0 10-1-13 0 9-1-6-1 6-1-6 0 9 0 3-3-10 0 2 0 5-2-8-1-2 0 12-1-6 0 4-1-11 0 5-2 1-1-6 0 13-1-2-1-8 0 3-2-3-2-3-2 9-3-5-4 5-6 5-7-4 0 4-2-7 0 6-4 0-1-10 0 4 0 3-1 3-2-4-1-9-1 4 0 7-2 1-3-12 0 3 0 5-1-2-2-7 0 3-2 3 0 2-3-2-2-3 0 2-2 5-1-9-1 7-3-6 0 6-1-4-2 0 0 4 0 7-3-3-1-10 0 13-2-11 0 8-1-10-1 4 0 10 1 8 0 2 1 3 2-12 0 5 2-1 2 0 0 2 1 5 1-6 2 5 3-5 0 5 2 4 3-3 2 3 1-3 3-11 3 9 3-9 2 0 0 2 5-3 2 3 3-1 1 2 1 4 0 3 3-2 0 6 1-8 2-4 0 4 0 3 2-7 1 12 2-8 1 5 1-3 0 6 1-11 1 8 1 2 1-2 4-8 0 6 1-9 1 2 0 7 0 4 1-14 1 9 1-6 0 4 0 5 1-11 1 7 2-7 0 10 1-6 0 3 3-6 0 3 0 6 3-8 0 4 2 8 1-5 0 3 1-6 1-2 3 7 1-12 0 5 2 7 4 3 1-14 0 8 1-6 3 1 2 11 2-12 0 5 1 6 1-4 1-4 2 1 1 7 1-14 1 3 1-3 1 5 0 7 1-11 0 14 1-8 1-4 0 9 1-7 1 3 2 2 0 4 2-8 0 4 1 8 0 7-1-5 0 3 0 6-5-12 0 3 0 2-2-1-1 4-1-2-1-7 0 2 0 9 0 3-1-9-1-2 0 6 0 3 0 3-2-7-2 3-1-8-1-2 0 9-1-3 0 6-1-4 0 2-2-10 0 12-3-3-5 3-2-1-2 1-2-13 0 2-1 8-1 2 0 2-2-7 0 3-2 1-1-10-1 10 0 4-1-6-1-9-2 1 0 7 0 4-1-8 0 10-2-8 0 4-1-10-1 6 0 7-1-10-2 6-2-2 0 2-1-9 0 3-1 4 0 3 0 4-1-10-2 10-1-12-1 3 0 9-2-12 0 11-2-10-2 9-2-1-2 1-9 3-2-3 0 2-3-1 0 2-2-8 0 6-3 1-1-7-2-5 0 9-1-11-1 2-1 9-2-11 0 2 0 4-2-5 0 2 0 7 0 2-2-2 0 2-2-2 0 3-1-11 0 2-1 11-2-14-3 6-1-7-5 0-4 0 0 3"/><path d="M896 643l2 0 2 7 1-2 0 4 1-7 2-2 1 3 2 5 1-10 0 6 2-3 0 6 1 2 2-10 0 6 0 7 3-12 1 3 1-2 0 8 1-11 0 5 0 9 1-4 1-6 0 9 2-7 2 2 1-8 1 2 0 2 0 3 0 3 1 4 1-11 1-2 1 7 1 4 2-13 0 8 0 2 1-6 0 8 3-11 0 2 0 10 1-6 1-3 0 9 1-7 2-5 0 13 2-12 0 3 0 10 3-14 1 8 3-6 3 1 1 2 1-5 2 2 0 10 1-7 0 3 2 1 0 2 2-1 0 2 1-13 0 2 0 2 2-2 0 7 0 3 1 2 1-12 1-2 1 12 2-11 3 2 2 7 1-10 1 3 0 3 0 3 1-8 0 14 1-10 0 2 2-4 0 9 0 2 1-8 1 5 2-6 1 5 2-6 1-2 0 6 0 6 1-10 0 7 1 3 1-6 0 2 1-4 1 7 2-6 0 2 1-7 1 3 0 3 2-6 0 4 2-1 0 2 0 7 1-4 1-9 2 5 1 8 1-2 1-11 0 5 1-2 0 4 2 1 1-9 1 9 2-9 1 4 0 9 1-13 1 5 0 4 0 2 0 4 1-8 0 12-1 2-1 8-1-7-1-3 0 6 0 4-3-12 0 9-3 0 0 2-2 0-1-4-1 7-1-10-1-3-1 9-1-11 0 15-1-5-1-8 0 2-2 0-1 10-1-14 0 10-1 2 0 2-1-12-1 10-1-12-1 10-2-7 0 11-1-3-2-5-1-2 0 11-2-15 0 8-1-2-1-2 0 4 0 6-2-13-1 9 0 4-1-9 0 2-2 7-1-3-2-9-1 9-2-10-2 5-2-6 0 10 0 2-1-5-1-7 0 2-1 2-1 4-2 3-2 0-2-10 0 5-2-5 0 3 0 6-3-9-1 9-1-7-1 2 0 3 0 6-1-14-1 11 0 2-1-1-1-8 0 7-1-5-1 6-1-5-1-6-2 4-1 2 0 2-2-9 0 2-1 8-1-9 0 14-2-11 0 4 0 2 0 5-1-3-1-10-3 1 0 2 0 9-1-5-1-8 0 9-1-3-2-6 0 13-1 1-1-14-1 6-1 6-1-2-1-1 0 4-1-12-2 0 0 9-1 4-1-12 0 2 0 8-1-12-1 8-2-6-1 4-1-5-1 3 0 2-1-4-1-2 0 14-3-8 0 2 0 4-2-12 0 6 0 7-1-9 0 5 0 2-1-11 0 15 1 7 1 2 1-2 1-3 0 6 3-6 3-1 0 8 0 4 2-14 0 12 2-2 1-8 1 5 0 6 1-13 1 2 1 3 2-2 0 2 4-5 0 10 1-9 1 12 1-14 1 1 0 6 1-2 0 5 0 5 2-14 1 3 1 1 0 5 3-5 0 2 2 0 1 5 1-8 2-4 0 7 0 2 2-7 0 3 0 7 0 3 1-4 2-3 0 4 2-6 1-5 0 3 1 10 2-4 1-7 0 8 1-6 1 3 1 2 0 4 1-10 1-4 0 13 1-11 1 6 0 6 2-11 2-3 0 8 0 2 1-8 0 2 1-3 0 2 2-3 0 3 0 8 1-3 1-1 0 7 1-4 1-3 1 8 1-14 0 3 1 4 1-6 0 11 2 0 1-12 0 6 0 4 0 3 1-11 2-2 0 5 0 4 2-6 2-4 4 6 0 3 0 4 1-11 1 11 1-11 1 9 1-2 1-9 2 2 1 6 0 2 0 2 0 2 1-13 0 2 2 5 0 7 2-4 1-6 1-4 1 4 1 3 0 6 3-7 1 7 1-13 3 5 1-5 2 6 3-7 2 0 0 5 0 4 1 11 0 11-2-7-1-3-1 7-2-9 0 12-1-5-2-8-1-2 0 7 0 4-1 2-1-10-1 12-2-9 0 3-1 4-1-8 0 2 0 3-1-9 0 10-1 4-3-13 0 5-2-2-1 4 0 5-1-4-1-6 0 5 0 3-2-3-1-4 0 2-1 3-1 2 0 3-3-11 0 11-1-14 0 4 0 4-2-3 0 2 0 7-1-15 0 4-1 8-1-12-1 13-1-5-1 4-1-8-1 8-1-8 0 2 0 2 0 6-1-14 0 3-3 3 0 3-1 2-1-5-1 5-1 1-1-12 0 2-1 1-1 7-1-1-1-9 0 15-1-6-1-3-1-1-1-3-1-2 0 9 0 2 0 4-1-12 0 4-1-7 0 15-4-8 0 6-1-8 0 6-1-8 0 5-1-8 0 7-1-6 0 13-1-2-2-8 0 3 0 6-2-12-1 2 0 10-1-8 0 3 0 3-1 3-1-8-3-6 0 3 0 4-2-2-1 8-2-12-1 5-1-5-1 5-2-3-1 6-4-6-1 12-1-15-1 5-3-2-2 1-2 2-2-4-1 7 0 2-1-5-1-5 0 11-1-5-1-6 0 12-1-10-1 5-1 2-1 3-1-8-1 4-2 7 0 4 0 3 0 6 2-3 0 3 1-10 1 5 3-3 1-2 1-2 5 1 0 8 1-3 1-2 0 10 2-13 0 13 1-10 1-4 0 2 1 8 1-9 1 9 1-9 1 2 2 11 1-15 1 6 1-4 0 13 1-4 1-8 0 4 1 3 1-5 3 5 2-10 1 3 0 7 1 3 1-13 0 11 1 4 1-5 2-10 0 6 0 8 2-6 1 7 1-15 0 9 2 2 0 3 3-10 1-3 0 11 1-2 1-8 1 2 2-4 1 1 1 6 0 7 1-4 1 2 0 3 2-8 1-7 0 4 1-2 1 6 1 1 1-9 0 7 1-3 1-2 0 7 0 2 3 1 1-12 0 4 0 6 1-4 0 8 3-11 1 4 1-3 0 6 1-5 0 6 0 2 1-3 1 3 1-11 0 4 1 5 1-3 2-7 1 12 1 1 1-13 0 7 1 4 1-12 0 6 0 5 1-9 1 10 2-3 1-2 0 8 1-11 1-2 0 4 0 4 1 2 1-10 1 12 1-13 0 12 1-9 0 4 2-5 0 2 0 8 1-1 1-9 0 7 1-6 1 9 1-10 1 8 1 1 1-2 2-8 0 3 0 5 1-4 1 8 1-6 1-7 0 9 0 4 2-13 0 20-3 3 0 4-1-10-1 5 0 4-2-10 0 9 0 3-1-10-1-3 0 2-2 5 0 3 0 2 0 2-4-11-1-1 0 7-1-5 0 10-1-6-1 3-1-4-1-6 0 11-3-6 0 6-1-8-1-3 0 5-1-6 0 3 0 7 0 3 0 2-2-11 0 8-2 2-1-6-1-4-1 6-1-7 0 2 0 3-3-6 0 11-1-7-1-6 0 2 0 8-3-7 0 5 0 2 0 2-3-5-1-7 0 2-1 3 0 2-1 7-1-4-3-8 0 12-2-7-1 6-1-13 0 11-2-10-2 12 0 2-1-14 0 6 0 2-2-8 0 4-2 3-1-2 0 5 0 4-1-6-1-6-1-2 0 4 0 10-1-5-1-8 0 2-2 7-2-4 0 6 0 2-2-5 0 5-1-10-1 8-3 0-1-2-1-7-2-4 0 3 0 5 0 3-2-11 0 9-1 6-1-10-1 2 0 5-1-9 0 7-3-4-2-1-4 2-1-6 0 2-2 1-3 1 0 3 0 6-1-11-1-2 0 11-1-3-2-2 0 2 0 4-1 2-1-12-2 7-1 3-1-6-1 7-2-2-1-12 0 9-2-7-1 3-1 16 3 5 1 5 2-15 0 9 0 4 1-11 0 4 1-6 0 11 1-7 1 4 0 7 3-5 0 3 1-5 1-7 0 2 0 2 1 4 1-9 0 4 0 3 3 1 2-1 2-5 0 2 2 2 0 2 0 3 2-11 1 10 0 4 1-7 4 5 1-9 0 7 3-9 0 12 1-8 1-2 0 5 1-7 0 12 1-7 2 7 1-9 2-2 0 12 1-9 1 4 1-4 1 10 2-11 1-2 0 5 1 3 0 3 1-6 5-3 1-3 3 4 1-3 1 3 1-5 1 5 1 5 0 5 1-12 0 9 1-12 1 8 0 3 2-6 0 5 1-10 0 3 0 4 2 3 0 5 3-1 1-7 0 2 0 2 1 3 1-2 1-12 4 6 1 2 3-7 0 4 0 2 2-1 2-6 0 3 4-2 1 5 1 2 2-3 1-5 1 6 2 2 1-8 0 2 3 5 1-5 0 4 0 7 1-5 2-6 0 8 0 2 2-9 0 10 1-9 0 4 3-5 0 6 0 6 1-3 1-12 1 3 0 5 1 20-1-4 0 7-4-10 0 3-2-6 0 6 0 6-2-3 0 3-1-12 0 6-2 1-1-8-2 4 0 5-2-2 0 7-2-7 0 5-2-6 0 6-1-3-1-6 0 4 0 4-1 2-3-6 0 2-1 2-1-2-1-2-2 5-1-10 0 3-1 5 0 2-1-8-2-2 0 5-1 3-2-8 0 11-2-9 0 2 0 3 0 3-2-7-2-4 0 2-2 7-1-9-2 6-1-5 0 12-1-5-1-2-1-4 0 6 0 3-2-2-1-6 0 4 0 4-3-5 0 5-4-7 0 3-1-6-2-3 0 10-2 4-1-7-1-6 0 4 0 5-1-3-2-5-3-2 0 3 0 11-1-4 0 2-1-8-1 2-1 5-1-6 0 9-2 1-1-7 0 3 0 2-3-4-1 2-4-10 0 2 0 7-2-4-1-3-1-3-1 5 0 8-2-13-1 10 0 2 0 3-1-14-2 7 0 3-2-4 0 8-2-5 0 3-2 2-1-7-1 3-2 1-1-4-1 3-2-3-1 6-1-14 0 9-2-5-3-1-1-3"/><path d="M1026 640l0 6 0 6 2-5 0 3 1-9 1 6 0 5 0 3 2-2 1-11 2 12 1-13 0 5 1 9 1-15 2 9 2-9 0 6 2 0 2 9 1-5 2-2 1-4 1 5 0 5 2-4 2-7 0 3 1 4 0 3 1-12 1 6 2 6 1-11 1 8 2-5 0 4 1-9 1 8 2-1 0 4 1-9 1 10 1-12 1 3 2-2 0 2 2 6 0 2 2-6 2-5 2 12 1-5 1 4 1 3 1-6 0 2 2-6 0 3 0 2 0 6 1-15 2 5 0 10 1-4 1-4 1 4 2-5 1 6 1-4 2 2 0 2 2 1 1-3 1-6 1-4 0 6 1 5 1-3 1-4 1-2 1-2 1 3 0 2 0 10 1-4 1-4 1-3 1-3 0 14 1-10 0 8 1-5 0 3 1-11 0 13 10 2 4-13 1 7 1-5 2-3 0 12 1-6 0 8 1-10 2-5 0 5 1 8 0 2 1-7 1-2 0 5 1-7 0 9 1-13 0 10 1-4 2 4 0 4 1-12 1 2 0 9 1-6-1 16 0 6-3-13 0 4-1 8-1-2-1-5 0 8-1-13-5 10-1-7-1 3-1-6-12 13-1-13 0 8-2-5 0 5-2-6-2 6 0 7-1-13-1 5-1-7 0 11-1-5-1-4-1 7 0 3 0 2-3-11 0 4 0 7-2-6 0 5-1-13 0 11-3-8 0 11-1-7-1 2-2-7 0 5-1-7-1 2 0 12-1-6-2-2-4-4 0 5 0 4 0 3-2-4-1-7 0 2-1 5 0 5-1-3-1-5-3-2-1-2-1-2 0 13-1-10-1 3 0 2 0 2 0 3-2-14 0 15-1-2-1-4-1-2 0 8-2-11 0 10-1-12-2 4-2-6 0 6 0 6-1-4-1-6 0 9-2-9 0 4 0 9-1-6 0 3-1-12 0 4-1 3-1 4-1-8-2-3-3 8-1-8 0 2 0 10-1-8 0 3-1-6 0 9 0 3-3-9 0 10-1-8 0 2-1-4-1 7 0 2-1-10-1 11-1-8-2 1 0 6-1-12-1 5 0 5-1-11 0 4-2 5-3-5 0 2 0 9-1-14-2 6 0 4 0 2 0 2 0 10 0 2 3-7 0 2 1 5 1 2 2-5 0 3 1-8 0 10 1-7 1 4 0 3 1-12 0 3 1 4 1-3 0 5 2-7 2 2 0 8 0 2 1-15 1 3 0 5 0 7 3-5 0 5 1-8 1-4 0 8 0 2 2-9 0 7 1 3 1-11 0 3 1 5 2-8 0 6 2 0 2-5 0 5 0 3 0 3 5-15 0 7 2-6 0 7 0 3 2-9 0 6 2-5 0 7 2-2 0 6 2-6 0 3 3-2 1-7 0 5 1 7 1-6 1 3 1-8 0 5 2-5 0 3 1 2 0 4 1-10 1 7 1 3 1-9 0 4 2-1 0 2 1-8 0 15 1-8 0 3 1-10 0 4 2-4 1 6 2 1 1 4 2 4 3-6 2 5 1-8 2 7 1-5 1-8 0 2 1 4 3-3 0 3 2 7 1-5 1-3 1 9 1-5 1 5 1-13 0 6 1-3 0 5 0 6 2-3 1-11 3 8 1-7 1 8 1 4 2 0 1-4 1-2 1-5 1 5 0 7 2-9 0 3 1-5 1-3 0 13 1-7 2-6 0 9 1-6 0 9 1-12 1 12 1-8 0 4 0 16 0 6-1-10-1-5 0 7 0 4 0 2-3-8 0 9-1-12-1-2 0 7 0 8-1-12-1 9-1-4-1 5-1-10-1 12-1-13-2 6-1 4-2-11 0 6 0 5-2-9-3 9-2-7-1 2-2-5 0 8-1-5-1 3-1-7-2 0-1 7-1 6-1-9-2-5 0 7-2 0 0 3 0 3-2-5-1-8 0 12-1-10-1 8-1-8 0 2 0 2 0 8-2-12 0 10-1-4-1-3-4 0 0 9-1-14-1 4 0 5 0 2-2-9-1 10-1-5-1 2-1 3-3-3-2 1-2-4 0 2-3-1-1-7-2 11-1-9 0 6 0 5-1-2-1-10 0 2-2 1-1-2-1 10-2-9 0 8-1-11-2 1 0 4-2 2-1 3 0 4-1-12-1 12-5-9-1 9-2-2-1-12 0 4-2 2 0 2-3-2-1-5-2 12-1-7-2 2 0 4-2 1-2-8 0 4-1 4-1-8-1 6-1-10-2 1 0 5 0 3-4-9 1 18 0 8 0 4 1-8 1 1 0 4 1-5 2 0 0 8 1-1 1-6 1 2 2-3 0 6 0 2 2-2 1-4 0 5 2-5 2 1 1-4 1 7 0 2 1-13 0 4 1-2 0 11 1-8 0 2 1-6 1 4 1 4 2-10 0 10 2-3 1-5 0 8 0 3 4-4 1-4 1-4 1 12 1-2 1-12 0 8 2-7 1 12 0 2 1-10 1-5 1 2 0 8 2-8 1-2 0 11 2-6 0 3 3-2 2 4 0 2 2-2 0 4 2-5 0 4 3-3 1 3 2-2 1 3 2 1 1-2 2 0 0 2 2-7 2-7 2 12 1-12 1 3 1 4 2-7 0 2 0 3 0 8 2-11 0 6 2 4 1-13 0 8 1 4 2-5 0 6 1-10 1 3 3 0 0 8 2-2 0 3 1-15 1 10 2-1 0 2 3-8 0 3 0 4 4 1 2-11 0 11 1-7 2-2 0 13 13-12 0 2 0 4 0 5-1 11-6 6-2-5 0 4-1-11-3 12-2-15-1 2-1 6 0 2-1 5-1-13-2 0 0 12-2 1-2-11-1 11-2-11-1 10-2-13 0 5-1 2-1-5 0 2-1 6-1-2-1-5-1 8-1-2-1-2-2 2-1 5-1-13-3 2-1-2 0 7 0 6-1-9-1-2 0 9-1-3-1-5-1-4 0 10-2-10-1 6 0 7-2-2-2-4-1 6-1-13-4 2-4 10-3-5-1-6-2-2 0 5 0 3-4-6-1 3-2 4-1-8 0 10-1-8-1 12-2-5-1-4 0 6-1 2-1-6-1 1-1-2-1-7 0 2 0 9-2-9 0 4 0 6-4-7-1-1 0 5 0 3 0 2-1-13 0 6-1-3-1 8-1-10-1 10-2-9-1 3 0 2-1-5 0 8-1 1-2-8-2 1 0 5-2-6 0 6-1 4-1-14 0 13-1-12-1 6-1-1 0 9-2-5 0 5-1-9-1 3-1-6 0 8-1-7 0 11 0 11 1-7 1-3 0 9 1 5 1-10 0 6 1-3 0 6 1-9 0 5 0 6 3-13 0 4 1 7 1-3 1-9 1 8 2-8 0 5 0 5 2-9 1 4 0 9 1-14 0 7 0 4 3-12 0 4 1 2 0 5 0 2 1-8 1 9 2-10 0 8 1-1 1-8 0 2 1-5 2 3 0 10 1-7 1-5 0 3 0 8 2-6 0 4 1-5 1 6 1-11 0 12 2-12 0 13 1-8 0 2 1-7 0 6 1 4 2-10 0 2 0 8 1-6 1-1 0 2 0 7 2-7 0 2 0 7 1-8 1 5 1-3 2-3 0 4 1-7 0 12 1 1 1-10 0 9 1-14 1 12 2-4 1 5 1-6 2-1 1-6 0 14 1-10 0 3 2 1 1-8 2 4 0 2 4 7 2-12 0 7 0 3 1-6 0 8 1-10 0 4 2-7 1 12 3-12 0 6 0 2 0 2 1 3 3-2 1 3 3-13 0 4 2 0 1 9 1-5 1-5 2 11 2-10 0 5 0 2 1-10 2 5 1-6 0 8 0 4 2-10 1 3 1 6 0 2 2-9 0 3 2-6 0 8 2 4 1-10 0 6 2-2 2-2 0 7 3-2 1 3-1 13-1-11-1 6-1 6-2-9 0 2-1 7-1 2-1-14 0 2-1 6 0 4-3-5-1-6 0 13-2-13 0 5-1 4 0 2-1-6-3-2 0 6-1-8-1-2 0 13-1-6 0 4-1-7-1-2-1 2 0 7-1 4-1-6-1-3-1 5-1-8-2 5 0 5-1-7-1 9-1-12 0 9-1-6-2-2-1-3 0 6-1-3-1 3 0 7-1-11 0 6-1 4-1-4-1-3-1-6 0 10-1-8-1 6-2-5 0 2-1 9-1-9 0 4 0 4-1-13-1 3 0 6-1 3-1-11-1 14-1-13 0 2-1 6-1-5 0 8 0 2-1-7-1-6 0 2 0 3-2 5-1-8 0 6 0 5-3-9-1 5-1-7 0 9-1-7-2-4 0 3 0 8-1-9 0 8-1-1-1 4-1-12 0 2-1 7 0 3-1-15 0 5-1 7-2-5 0 2-1-7 0 10-1-12-1 5-1-1-1-2 0 8-1 4-1-6 0 5-1-6-2-1-1-6-1 6 0 9-1-14-1 7 0 3-1-9 0 8-1-9 0 7 0 6-1-9-1-5 0 7-4-5 0 7 0 2 0 2-2-11 0 5 0 6-1-12 0 5 0 6-1-7-1 9-1-14-2 3 0 6-2-7 0 9-1 2-1-7 0 5-1-11 0 5 0 4-1-6-1 2-2 3-1 4-1-6 0 9"/><path d="M1152 652l1-3 2 2 1 4 1-5 1-9 0 2 1 5 1-6 1-2 0 10 0 2 2-5 0 7 1-4 1-7 0 5 1-3 0 7 2-3 2-8 1 13 1-11 0 7 2-1 1 3 1 2 1-14 2 0 0 13 3-9 0 9 2-1 4-11 0 5 1-2 0 10 2-11 1 5 1-3 0 5 0 2 3-9 1 2 0 4 1 5 2-5 3-5 1 10 3-3 4-3 2 2 0 5 2-15 0 6 1 9 1-11 2 0 0 8 1-6 1-4 1 11 1-12 0 3 2 6 0 2 1-12 0 15 1-4 2-3 0 7 1-11 1 5 1 4 2-10 0 3 3 2 1 5 8-3 5 4 1-6 3-3 1 7 1-10 21 5 0 8 1 14-5-4-8 4-9-4-4 5-5-11-1 12-5-12 0 4 0 4-2-9-1 6-1-4-1-2 0 5-3 1-1 7-1-11-2 10-2-8-1 4-2 5-1-9 0 2-1 7-2-15 0 5-2-5 0 2 0 7-1-4-1 3 0 5-1-9 0 6 0 5-2-2 0 2-2-9-8-5-2 6-1-2-1 6-1-4 0 8-2-6 0 5-2-9 0 5 0 4-2 1-2-3-1-8-1 10-1-6-4 1-2-9-1 10-2-6-1 6 0 5-1-10-2-1 0 6-1 3-1-4-1-3-1-4-2-1 0 4 0 6-2-11 0 6 0 7-2-11 0 2 0 6-1 5-1-5-1-2-1 4-1-4 0 2-1-5-1-2 0 10-1-4 0 2-1-6-1 5-1-6 0 3-1-7 0 28 2-9 0 3 1 2 0 3 1 2 1-8 3 7 0 2 1-8 0 2 1-4 1 5 1-5 0 7 1 2 2-9 1-2 1 4 1-5 2 3 0 11 1-14 0 5 2 1 0 8 2-13 0 12 1-3 2-8 1 4 1 4 1-8 1 9 2-6 4 6 2-8 1 3 0 2 0 3 0 2 2-14 0 6 1 4 1-2 4-4 0 2 1 4 0 4 2-7 1-6 2 12 4-13 1 3 2 1 2 0 3-2 1 3 1 2 1 6 1-7 0 4 2-6 0 3 0 3 2-3 1-4 1 5 2-5 0 6 2-3 0 8 1-10 1 5 1 4 2-13 1 4 0 3 0 8 2-3 1-10 1 5 0 4 1-6 1 8 1-8 8 6 9 0 3-10 10 20-4 7-14 0-2-9-4 9 0 2-1-13-2 2 0 3 0 4-2 0 0 3-4-8-1-3-1 3-1-2-5 1 0 10-2-13-1 4 0 6-2-11 0 11-1-7-2-1 0 8-2-11-1 3-1 6-2-4-10 4-1 6-1-14 0 3-4-4 0 4 0 7-1-4 0 7-2-10 0 2 0 9-1-13-1 7 0 5-2-11 0 4 0 6-1-8 0 4-1-9-4 0 0 2-2 5-2 4-1 4-1-5-2 0-1-5-1 9-1-3-3-1 0 2-1-8 0 10-1-4-1-9-1 3 0 5-2 0-1-7 0 2-1 2-2-6-5 10-4 4-1-4-3-9 0 8-1-3 0 9-2-11-1-2 3 21 1-3 0 8 2-11 3 2 0 9 1-4 2 0 0 5 1-2 9-4 1-7 1 2 2 0 0 6 2-1 2-5 0 2 0 10 2-13 1 7 0 2 2-8 1 9 2-4 0 4 4-3 0 6 1-13 1 9 1 4 1-8 2 2 0 7 1-9 1 8 1-4 1-9 3 5 0 4 0 2 1-10 2 8 1 5 1-11 0 7 1 2 1-4 1 2 2-6 2-1 1 3 0 4 0 3 2-6 2 5 2-8 3 1 0 4 4-7 1-2 0 13 4-8 0 5 2-11 0 2 0 4 0 5 2-8 0 3 1 2 0 6 4-14 0 4 2-2 2 1 0 9 0 2 1-8 1 8 1-14 0 5 2-4 0 12 3-11 0 5 0 2 0 5 3-6 0 2 0 3 2-5 7-6 1 26-3 0-1-9 0 3-3 0 0 9-2-10 0 6-4-2-1-4-1 2-1 7-3-13-1 11-1-12 0 2-2 11-1-10-1-3-2 0-6 13 0 2-2-4 0 4-3-8 0 4-4-2-5 6-1-6-1-2 0 8-1-15 0 9-1-7 0 9 0 3-2-1-1-12-1 5-1-6 0 3 0 6-2-4-3 2-1-4-4-2 0 6-4-6 0 4 0 9-2-12-2 0 0 4-1 8-2-14 0 6 0 4-2-10 0 8-1-6-1 3 0 6-1-2-2-5 0 4 0 4-2-4 0 5-1-12-1 6 0 7-1-13-1 5 0 6-2-7-1 8-1-7 0 5-2-7 0 2 0 9-1-4-1-7-1 9-1-9-2-2 0 3 0 4 0 5-2-10 0 2 0 3-2-7 0 2-1 3 0 8-2-10 0 2-1-4-1 12-2-7-2-8 0 13-1-4-1 4-1-11-1 7-1-8 0 11 1 4 0 10 2 2 1-4 0 2 1 4 1-14 1 14 1-9 0 3 1 2 1-5 1-2 0 7 3-9 1 2 0 9 1-6 1-6 1 5 0 9 1-11 3 2 0 7 1-3 2-5 0 5 3-8 0 7 1-5 1 12 1-7 3-1 4 2 1-7 2 3 1-2 2 7 1-8 1-2 0 12 1-10 0 3 2-2 1-3 2 14 2-9 1 3 3 4 2-2 0 2 1-9 6 10 5-1 2-9 0 11 2-12 0 7 1-5 1 7 1-2 1 5 2-9 1-3 1 6 1-7 0 14 2-1 2-6 0 5 4-1 1-10 9 3 3-5 1 9 3-6 0 9 2-6 1 7 2-8 0 10 4-7 0 7 1-5 1-10 0 2 0 5 1 3 1 2 1 2 1-5 2 1-1 8-1 3 0 2-1-7 0 2 0 9-1-2-1-5-2-3-1 3-2 2 0 8-1-10 0 8-2-7-1-5-1 4-1 2-5 9-3-8-2 4 0 4-1-6-1 5-2-2-1-9-1-2-1 11-2-9 0 3 0 7-1-3-1-7-1 12-1-3-1-2-1-9-1 4-2 5-1-10 0 5 0 2-2 3-2-4-2 9-1-15-1 3 0 9 0 3-1-7 0 2-1-7 0 2-3-5 0 4 0 10-1-3-1-7 0 10-2-13-1 5 0 7-1 2-1-12-1 7-1-8-1-2-1 10 0 4-1-10 0 4-1-8 0 6 0 9-3 0-1-15-1 2 0 10-2-2-1-10-2 2 0 12-2-9 0 4-2 6-2-14-1 13-1-4-3 3-1-7-1 6 0 2-2-8 0 5-1 4-1-6-3-5 0 3-2 2-2-9-1 7-1 7-2-9 0 9-1-14-1 9-1-6 0 2 0 10-1-14-1 3 0 7-1-11-4 1 0 13-2-8 0 6 0 3-2-13-1 4 0 5-3-8 0 11"/><path d="M1292 641l2 7 5-6 0 10 3-4 16-7 15 9 1 2 2-5 1 4 1-5 1 7 1-10 2 2 2-3 1 3 2-3 1-2 0 9 0 2 1-6 0 8 1-6 2 1 3-8 0 6 5-3 1 2 2-3 0 4 1-2 1-4 8 1 2-1 0 2 6-2 5 1 3 2 1 3 1-3 0 10 2-7 0 3 0 4 2-6 2-4 0 12 10 13-2 0-5-11 0 3-1 11-1-13 0 9-3-11 0 15-1-6-2-8-4 14-2 0-6 0-4-3-2 2-3 0-2-1-3 2-3-3-2-2 0 4-1-7-1 4-2 3-2-10-2 2 0 2-1 4 0 2-1-4-3-7-1 12-1-12-6-3-2 0-4 8-3 5-10 0-12-4-4 2-24-7 27 26 6-3 1-8 4 11 6-13 5 2 3 8 2 4 7-10 5 9 4-3 2-8 4 12 3-14 5 2 5-2 3 5 3-6 0 4 0 2 2-2 2 2 2 0 2-4 0 2 0 4 1 5 3-7 1 8 1-9 0 7 2-11 0 11 2-3 4 0 2-3 0 4 1-2 1-3 0 7 1-12 0 10 1-7 3 0-4 14-1 4-1-5-1 11-1-8-1 11-1-12 0 2 0 6-1 5-1-9-1-2-2 8-1-7 0 2 0 2-1 2-2-10 0 4-1 2-1 5-3 2-1-3-1-9-1 3 0 8-1-5-2-1-2-3 0 2 0 6-5-3-1-5-21 6-12 0-9-8-8 4-9 9-11-7-7 0-4-6-7 14 1 7 13-7 6 12 5-12 6 8 6 3 8 0 9 0 13-7 3 2 5 0 11-4 4 7 3 5 4-7 6 6 10 0 3-5 1-7 0 12 0 2 2-1 1-5 0 2 2-11 1 9 3 5-1 12-1-2-1 2-1-7-1 9-1-10 0 7-2 2 0 3-1-13-1 8-4-6-4 12-5-13-10 13-32-15-17 5-4-1-3 3-14-7-5 5-3-2-2 5-7 1-5-2-2 23 5 1 10-10 6-5 2 9 10-1 7-4 0 5 1 6 6-10 17-5 8 4 5 6 6 1 4-1 2-6 5 1 3 4 11-1 3-6 1 6 2 5 8-10 0 3-11 21-7 1-1-4-1-7-1 14-12-11-8 5-4-5-4 7-3-4-3 5-3-3-1-8-8 12-2-8-3 8-7-9-9 0-2 9-11 2-3-8-4 0-5 8-2-3-2 0-1-7-3 2-1 4 0 3"/><path d="M1422 641l1 3 1-2 0 12 1-6 1-7 2 3 0 3 2 3 0 3 2-3 6 0 1 3 3 1 1-2 2 1 1-3 3 5 3 0 2-7 1 3 1-6 2-3 1 5 0 5 1-9 0 12 1-7 0 2 1-9 1 8 4-8 1 2 10 0 5-1 3 3 1-2 1-2 1 14 1-13 1 5 0 2 1-4 0 9 1-5 1-9 1 10 12-9 3 2 9 7 6 4 2-10 0 8 1 2 2-5 0 5 1-13 1 11 2-9-2 15-2 3-3 8-2-9-1 2-1 2 0 6-1-10-2 7-1 3-8-12-10 10-1-3-1 2-2-11-1 5-1 10-1-13 0 2-1 5 0 3-1-10 0 2 0 2 0 8-1-2-1-9 0 2-1-4-6 1 0 4-18 2-5 0 0 4-1-9-1 4-1 4-1-9-3 3-1-3-6 11-3-2-2-11-8 4-1-4-2 3-1-2-6 9-2-2-1-3 0 6 0 2-4-4-4 6-3-10 0 12 0 6 0 4 2-3 1-2 0 4 1-6 3-4 0 3 0 2 1 5 0 3 1-9 2 0 1 7 1-5 2 1 0 3 4 1 0 3 2 0 4-8 7-4 5 4 14-6 0 9 1-2 0 6 1-3 1 4 3-12 0 4 0 6 1-3 2 0 0 3 4-4 1-3 1 4 1-7 4-1 0 2 1 4 1-4 0 2 2 0 2-4 0 8 1-6 2 3 1 2 1-5 5 5 3 0 1-5 1 2 1 2 1-7 0 5 10 3 1 2 0 5 1-3 1-7 3-1 0 6 0 2 3-12 0 12 1-2 0 4 1-11 0 5 1-3 2 6 1-3 1 6 3-2 3 0 0 4-1 9-1-3-1-6-1 13-2-8-1-2-1 9-1-4-3 1-2-8 0 2 0 4-3-7-1 5-1-4 0 2-2 3 0 6-2-11-2 14-3-1-2-7-1 6-2 2-35-11-5-3-2 4-1 2 0 3-1-6-1-3 0 11-1-4 0 6-2-5 0 4-1-7-1 5-2-1-1 3 0 2-3-4-2 3-4-8 0 7 0 2-2-11 0 5-2-2 0 8-3-14-1 4-3-4-3 2-3 0-2-3-10 13-2 18 8-15 6 13 2 0 6-4 4-4 0 4 1 6 1-9 0 2 2-4 1 2 0 8 1-5 0 2 1 3 2-8 1-4 0 2 1 3 1 2 1-6 0 8 1-4 2 5 1-12 0 7 1-4 0 11 1-7 1 3 0 3 23-7 3 9 4-12 3 0 1 12 2-2 6 1 3-14 0 13 2-9 1 4 1 4 6-10 9 6 13-7 2 2 1 8-9 8-11 8-2 0-2-5-1 7-1-5-1-4-1 6-1-9-1 6-1-7-2 5-1-3 0 8-1-4-1 2-1-4 0 2-6-4-3 2-2 0 0 3-2-7 0 7-3-4 0 12-1-2-1-12-3 2-1 3-1 2-2-5-1 6 0 4-2-8-1 7-3-9-3 9-5-6 0 4-1-10-3 0 0 2 0 8-1-6-2 9-6-12-2-1-1 2-2-2-2 2-9-1-1 5-2-3-7-1 0 5-1-2-1 2 0 2-1-9-2 8-1 3-1-4-1-4 0 2 33 24 2-2 2-4 2-5 2 6 1 7 1-4 2-7 3 0 1-3 6 1 3 0 1 4 3 3 1-2 2 2 2-7 0 2 0 4 0 4 5-6 2 8 25-13 2-1 1 3 2-3 1 5 0 4 0 2 1 4 1-6 0 3 1-7 4 10 1-2 1-12 1 7 0 2 1-7 1 3 1-5 1 3 2 0 3 6-1 13-10-6-3 5-1-5-1 8 0 6-4-8-2-4 0 5 0 3-2-5-1 8-1-3-2 3-2 1-5-2-6 1-3-7-1-4-2 11-2-2-1-11-2 9-1-4 0 7-2-10-2 12-22-3-5 2-2-13 0 7-1-5-1-2 0 10-1-8-1 3-1 3 0 3-2-4-1-3-2 5-1-2-3-3 0 7-2 2-1-3-2-3-2 4-3 0-4 1 0 2-3-3"/><path d="M1537 644l14 8 3-4 6 0 3 1 4-4 0 9 7-8 8 4 0 5 4-2 4-7 2 7-17 14-5 2-3-10 0 9-6-2-5-6-18 10-1 14 3-2 1 3 2 0 1-2 6-3 1 6 1-6 2 4 2 3 1-9 0 3 1 2 1-11 0 9 1-2 0 7 1-4 2-10 0 10 1-3 2 3 0 2 3-7 0 10 2-7 0 4 3 3 3-4 4 1 3-2 1-9 9 7 12-1 17 1 6 21-6-9 0 4 0 7-5-12-3 2-3 1-8-6-1 14-1-11-3-3-6 3-4 2-9-2-1 4-2-3 0 2-3-4 0 8-1 5-1-6-1 6-1-12 0 4 0 3-3-9 0 5-20-3-5-2-1 12-2-7 0 8-2-14 0 10 0 5-1-8 0 14 2-2 0 3 1 2 2 0 0 3 1-8 2 2 2 6 0 2 1-7 3 6 2 0 10-3 1-4 1 6 1 2 1 2 2-6 0 3 0 3 1-14 1 2 1-2 3 1 1 7 0 2 0 2 1-13 0 6 4 3 19 5 9-11 2-3 4 3 11 1 14 10-9 2-26 5-1-2-3 4 0 2-1 2-1-10 0 5-1-3 0 5-2-2 0 4-3-1-1-4-1-4 0 7-1 5-1-8-2 1 0 7-1-9-2 6 0 5-1-3-4-8-1 2 0 9-5-12-2-3 0 8-2-1 0 4-1-10-2 1-2 4-1-6 0 2-2 2-2 4-1-3-1 4-2-3 0 4-2-8-1 12-2-14 0 12-2 2-2-14-1 10-2-6-1-2 0 12-5-7 0 11 0 6 2-6 1-2 2 3 0 7 1 2 1-10 0 6 2-7 2 14 1-8 1-5 3 6 1-5 1 11 1-8 24-5 4 4 1 6 1-11 1 9 1-7 0 10 0 2 1-5 1-3 1-3 2-1 1 12 1-2 1 2 7-2 9 2 6 0 3-2 1-2 2-1 2 5 3-9 21-4 0 12 3 2 2 8-18-6-5 2-5-2-2 1-3 2-1-4-1 6-2 0-1-5-2 1 0 11-1-6-1-3 0 6 0 4-1-8 0 2-2 2-2-6 0 2 0 6-1-3-1-5-1 6-2-1 0 5-2-6 0 5-2-9-1-3-1 8 0 5-1-13-1 6-3-7 0 4 0 7-2-11 0 5 0 5-1-3-2 1-2-6 0 6-1-2 0 4-1-6-1 7-1-5 0 3-2-5 0 2-1 5-2 2-2-8-4 10-2-2-2 0-3-4 0 2-2-7-2 1 0 5-2-9 0 6-1 7-1-14 0 9-1-2-1 4-3-6-1-4 0 2 0 8-5 1-5 2"/><path d="M1740 702l-5-1-2-4-3 5-2-4-16 18 4-6 5 9 5-15 5 2 5-2 3 4 1-3-28 29-1-13-2 4-1 7-3-4-3 2-3-8-28 4 30 10 8 5 7-2 4 3 4-2-44 26-1-4-1-6-6 0"/><path d="M542 769l0 0 2 5 0 2 3 4 10-2 10-9 4 7 0 5 2 2 2-7 0 3 3 4 2-13 0 9 2 3 3-11 0 2 1 3 0 2 1 4 1-2 2 2 1-7 1-5 0 8 1-4 1-2 0 9 2-11 1 5 1 3 2-1 0 5 1-10 0 3 1 5 0 3 1-12 2 0 0 5 0 6 3-8 0 3 0 4 5 2 3-11 4 9 2-10 8 8 1-6-7 16-2 8-1-3-1-2 0 6-5-10 0 7-1-10-1 10-1-3-1-7 0 3-1 5-1-7-1 5-2-7-1 13-1-13 0 15-1-7 0 3-2-6-3-2-2 12-2-14-1 4-1 8-3-3-3-10 0 3-1 5-2 7-1-13-1 2 0 3 0 7-1-5-1 5-2 0-1-14 0 11-1-4-2-2-1-3 0 10-1-7 0 5-1 2-2 0 0 3-1-9-1 6-1-6-3 4-5-2-1-3-2 6 0 3-2-6-3-2-2-4 7 14 1 5 2 6 1 4 1-7 15-3 2 3 1-3 1 2 1 3 2-9 0 6 1-3 0 7 2-10 2 5 1-4 0 2 0 4 0 2 2 0 1-8 0 12 1-5 1-3 0 7 1-12 1 14 2-10 0 5 1-2 1-3 0 8 0 2 2-12 0 2 1 9 1-10 0 8 3-1 1-11 1 14 1-7 1-5 2 2 1 3 1 2 0 4 1-10 1 8 0 3 1-7 1-4 0 2 5 9 1-10 0 8 1-12 0 8 1-5 0 8 1-3 0 7 3-13 2 6 1 3 2 2 5 17-2-12 0 3 0 4-2-8 0 13-1-2-2 1-1 2-1-7-1-8 0 2 0 12-2-11-1 10-1-3 0 5-2 0-1-8-2-1 0 4-2-2-1-6 0 11-2-1-1-9-2 3-1-2 0 9-1-13 0 6-1-4 0 10-1-7-3 5-1-8 0 4 0 2-2-6-2-2 0 4-6-2-2-2 0 4 0 4 0 2-3-7 0 5 0 2-1 2-1-4 0 2-1-9 0 4-1 8-1-4-2-8-12 12-5-5 0 2-4-7 7 13 4 5 2 4 1-2 0 2 2-6 0 9 1-7 0 3 1 5 1-7 2 5 1-2 2-6 2 1 9 10 19-14 1 4 2-4 1 3 3 2 1 6 0 2 1 2 1-2 1-6 1-6 0 13 2-9 2 9 1-5 1 6 1-9 1-4 0 6 2 4 1-3 1-2-2 11 0 2-2-4-2 6-2-3 0 2-3-4-1 4-2-4-1 3 0 4-2 0 0 4-1-8-1 9-4-4 0 2-2-1-1 4-2-2 0 3-20-3 0 3-4-5-2-6-1 0-3-3 11 15 3 4 2-1 1 5 2-4 0 2 1 1 1-5 0 10 1 1 1-7 2 3 0 4 4-12 1 2 0 5 3-6 2-2 2 0 2 12-3 17-1 0-4-4-3-3-2-5-1 0"/><path d="M642 770l10 11 8-5 6 3 14-1 10-9 0 6 5-7 0 10 0 5 5-15 0 13 5-13 2 3 0 4 2-5 1 13 1-6 1-5 2-2 0 5 1 2 1 3 1-7 1 6 1 2 1-13 0 8 3-6 0 7 1-9 1 6 1 5 0 2 2-13 2 5 1-3 0 8 0 4 2-14 0 3 0 5 0 5 1 2 1-10 0 2 1-5 1 9 0 3 2-14 0 3 1 8 1-11 0 2 0 3 0 8 0 2 3-14 2 4 0 9 2-13 0 7 3 3 1-11 0 5 1 3 2 2 1-4 2-5 0 12 1-2 1-10 1 9 0 4 3-9 1 2 0 2 0 4 2-6-1 9-2 0 0 13 0 2-2-14-3 8 0 2-3-1-1 5-1-10-1 9-2-7-1 5-1 2-2-12 0 6-1-3 0 10-1-6-2-4 0 8-1-6-1-3 0 6-1-8-1 8-4-5 0 7-1-5 0 2-2-4-1-5 0 3 0 11-2-10 0 4-2-6-4-2 0 2-23 0-7 1-17 7-10 1-2 4-2-5-5-10 0 5-10 2-7 9 2 6 3 5 2 4 3-7 1-6 8 2 10 10 3-7 2-4 3 10 4-1 11-9 8 12 7-11 3-4 4 11 7-6 3 8 4-10 5 1 6 2 0 5 2 4 6-13 0 2 0 4 2-7 1 2 0 5 0 3 2-5 0 2 1-8 3 1 0 4 0 2 1 2 1 2 1 4 1-15 1 3 2 3 3-1 0 6 1 4-2 7-1 8-2-13-2 7-3-4-5 7-5 2-14-12 0 13-2-8-2 4-14-4-7 8-1-13 0 8-6 2-5-10-6 9-6-3-6 2-1 6-3-5-7-4-19 2-4 7-2-8-2 0 0 12 0 10 2-7 0 7 3-9 2 2 2 3 0 2 0 2 1-11 1 10 4-1 3 3 1-4 8-10 3 13 11-9 1 8 6 3 5-4 3-8 2 9 4-5 1 5 8-2 5 3 3-13 2 12 7 0 5 2 5 1 8-9 4 6 17 3-7 2-10 8-7 3-1-10-3 5-3-5 0 12-7-4-12-3-5-3-17 3-6-4 0 11-3-2-16-10 0 4-14-5 0 3 0 6-1-3 0 5-2-12 0 2-1 4-1 6-1-5-1 6-1-4-2-6 0 3-1-5-5 1 9 17 1 3 1-5 0 7 2-1 0 3 1-6 16 4 16 6 7 0 3 0 9-8 0 4 5 2 3-6 2-3 18 0 14-1 3-2 0 13 17 4-4 1-3 12-6-12-11-2 0 4-4-2-2 10-25-2-13-7-2 4-2-2-6 3-3-5-2 11-2-8 0 3 0 2 0 3-2-6-2 4-4-1 0 2-3 1-3-8-1 9-1-3-1-3-1 3-2 1-3-13 0 4-5 0-2-2-2 9-1 4-2-10-4 0"/><path d="M768 772l1-2 1 4 0 9 2-7 1-4 0 8 0 3 2-5 1-2 1 4 1-5 1 2 0 2 2-9 0 11 3-7 0 4 0 3 1-5 1 2 1-10 0 3 2-1 0 12 3-8 4 7 2-10 2-1 0 2 2 7 2-9 1 6 1-3 1-5 2 3 2-1 0 7 1-4 0 2 0 5 1-12 0 3 0 12 1-7 1 5 1-8 0 5 2 5 1-6 1 3 2-5 0 4 0 2 1-11 2 2 1-3 0 8 0 2 0 3 5-10 0 6 1-3 1 4 1-7 2-1 1 7 0 3 1-7 2-5 0 2 1 3 0 6 2-3 0 5 1-8 2 5 0 3 2-13 0 3 0 6 0 2 0 3 2-13 1 8 1-5 1-5 1 5 0 6 0 2 1-4 1-9 2 10 4-6 0 4 3 0 1 5 1-7 0 4 2-10 0 13 3-6 0 8 2-12 0 6 0 6 3-6 1-4 1-3 0 6 0 5 2 1 1-13 0 4 1 5 1-7 2 4 0 3 0 4 1-10 1-2 0 4 1 7 1-9 1-3 1 7 2 2 0 4 1-2-1 17-1-10 0 4-1 3-1-2-1 3-1 3-1-8-1-2 0 10-1-4-3 1-1-10-2 3 0 10-2-1-1-2-1-11-1 9-1-8 0 6 0 6-2-12-1 13-1-3-2-1-1-2-1-5 0 3-1 2-2 3-1-9 0 12-2-6 0 3-2 0 0 4-1-12-1 10-1-10 0 2 0 10-2-3-1 2-1-6-2-7 0 5-1 2 0 5-2-5-1 2 0 4-3-14-1 14-1-6-1 7-1-14-1 6-1 5-1 3-2-8-2-3-2-2 0 2 0 8-3-11 0 2 0 2-3-1-2-4-1 11-1-4-1 2-1-6 0 3-1 9-1-3-1-11 0 4-1 7-1-7-1 5-2-1 0 6-8-10 0 2-3-3 0 6-3-3-1-4-1-3 0 9 0 2 0 3-1-7-5-4 0 4 0 6-1-8 0 6-1-9-1 2-1 2 0 4-1 2-1-8-1 7 0 2-1-5-2-7 0 3-1 4-1 3-6-7-1 3 0 13 0 9 2 0 1-2 1-10 0 7 2-3 1 2 1 6 1-7 1-6 3 13 2-6 1 3 0 2 3 1 5-1 0 3 2-14 0 4 0 7 1 2 2 1 1-14 4 1 2 0 4-1 3 0 1 2 2 1 1 3 0 3 2 0 3-9 0 3 0 4 0 5 2-11 3 5 1-3 0 6 2-3 2-1 0 2 1-4 1 9 1-5 1 7 1-14 0 7 2-3 0 9 2-3 0 4 2-12 0 3 0 5 2 1 2 1 1-8 1-5 0 9 1-6 2-3 0 14 2-13 0 6 2 3 1-7 0 4 0 5 0 3 2-1 1-9 2-3 1 6 2-7 0 8 0 6 1-4 1-7 1-4 1 11 1-4 1-4 0 8 1-4 2-1 2 0 1 9 2-12 0 9 1-6 2 6 3-4 1 6 1-6 1 4 3-7 0 8 2-5 0 5 1-7 0 9 1-13 0 7 2-4 0 5-1 6-1 13-6 2-2-13 0 2 0 2-3 0 0 7 0 2-1-13-2 5-1 3-1-6-1 6-2-7 0 10-1-3-1-8 0 12-1-5-1-7-1 8-1-8-1 6 0 3-1-11 0 2-1 2-1 4-2-2-1 6-1-8-2 10-1-3-2-10 0 5 0 2 0 3-2-8 0 7-1-5-3-5-1 7 0 8-3-6 0 5-1-12 0 2-4 0-1 10-2-12 0 3 0 8-2-9-1 9-2-10 0 9-3-10 0 8-2-10 0 11-3 4-1-7-1 3-1-10-2 1 0 8 0 2-1-12 0 15-2-7-1 2-2-5 0 10-2-6-2-4 0 8-1-4-2-5 0 3-1 3-4-8 0 10-1-8-1 10-6-3-1-6-1 5-2-10 0 4-3 1 0 3-2-8 0 9-1-2 0 6-1-13 0 3-1 8-2-5-1 5-2-2-2-9 0 6-5 8 11 7 1 6 6-1 4-9 0 8 5-7 3 2 2-2 0 11 1-13 0 5 2 5 5-3 1-6 2 5 1-3 2 6 2-7 0 7 0 2 1-5 1-4 0 9 1-5 1-3 1-2 0 7 0 2 4-2 0 3 0 2 1-11 1 6 1-6 2 10 2-6 1 2 1 3 1-4 2-7 1 5 0 2 0 7 2-4 1-5 0 7 2-6 1-4 0 9 1-2 1 5 1-11 2 1 1 6 1-7 0 11 2-13 2-1 1 13 1-13 0 6 0 3 0 2 2-11 0 13 2-4 1 5 1-4 2-4 1-4 2 2 0 4 1 3 1-11 0 9 0 4 1-2 3 1 1-3 1-4 0 8 1-5 3 4 0 2 1-12 1 7 1 6 1-10 2 5 0 4 2-14 0 7 0 2 1-6 0 9 2-10 0 7 2-8 1 19-1 3 0 2-2-6 0 8-1 4-2-5-1-9-2 0-1 13-1-4-2-6 0 4-1-8-1 2-1 10-1-9-2-3 0 7-3-7 0 11-4-7-4 1-2 1-4-6 0 10-3-6-3 2 0 9-1-5-2-6 0 9-3-11-3 0-5 0 0 10-6-7-9 8-5-13 0 5-2 5-9-5 0 4-9-8-5 14-15-7-10 21 9-8 7-1 20 5 8-3 7 5 2-7 3 2 4 4 3-8 6 2 1 6 4 1 12 1 8-6 0 4 6-6 5-1 3 6 9-3 7 0 1 13-9 10-7-13 0 5-7 8-5-5-2-4-1 10-2-12-4 3-3-2-2 11-11-11-7 9-2 3-2-10-19 7-1-9-8 6-6-9-4 7-1 4-6-11"/><path d="M899 770l0 5 0 8 2-13 1 4 0 2 0 2 0 2 1-8 1 2 0 7 2-7 0 4 1-6 0 8 2-7 1 2 0 8 2-9 1-3 1 11 1-8 1 9 4-5 0 3 1-9 1-2 0 5 1 6 1-4 2-1 1-4 1 6 1 3 1-8 0 3 1 5 1-10 1 6 1-4 0 6 0 3 1-12 2 13 1-13 0 10 1-8 2 2 0 8 2-11 0 2 0 9 2-2 1-9 0 5 2 0 2 4 1-12 3 12 1-9 0 11 2-14 0 12 4 2 2-14 1 9 1-5 0 2 1-5 3 9 1 3 4-8 0 8 1-5 2 7 1-10 0 4 0 3 1 3 2-12 1 7 1-4 0 6 2-9 0 5 1 2 2-7 0 2 2 2 0 6 1-13 2 4 0 6 0 2 2-7 0 5 2-9 0 3 1 6 2-6 1 9 1-2 1 3 3-11 1 10 0 2 2-4 0 2 3-7 0 2 1 2 0 4 2-4 2-4 0 5 2-11 2 10 0 2 0 3 1-10 1 3-2 9 0 5 0 3-1-6-2 2-2-4-1 6-1-7-2 3-5-1-2 0 0 13-1-10-1-3-3 2-1-3 0 6 0 8-1-12-1 3-1-5 0 11 0 2-2-9-1-3-1 5-2-6 0 6-1-2-1-4 0 9-3-8 0 9 0 4-2-13-2 2 0 4 0 3-2-9-2 3 0 6-3-8-3-3 0 11-1-8-1 12-1-15 0 7-1-3-4 1-1-5 0 10-2 2-1-11 0 7-1-3 0 6-2-9 0 13-1-10-2-4 0 14-1-10 0 6-1-4-1-6-1 8 0 6-1-12-1-2 0 9-1 3-1-7-1-6-1 13-2-6 0 4-2-6-1-2 0 4 0 7-3-8-1 5-1 4-1-12-1 3-1-3-2 6-2-7-2 6-2-7 0 12-1-8-2 0 0 4 0 3-1 2-1-13 0 7-4-7 0 10-1-6-2 5-1-2-1 4 0 2-1-11-1-2 0 9-2 5-1-5-1 5-1-11 0 5-1-3-1 4 0 2-2-10-1 21 1-5 1 10 1-12 0 8 2-4 1 9 0 2 2-13 1 5 1-4 1 6 1-9 0 7 2 4 1-8 1 6 1-2 2 0 1 4 1-10 0 12 1-5 1-3 0 7 2-12 2 5 0 2 1 5 3 0 2-11 0 2 2-3 0 2 0 10 2-2 1-8 0 3 0 2 1 4 1-9 1 2 0 8 1 3 1-9 1-4 0 2 2 3 0 4 2-3 1-8 0 3 1 6 1 6 1-12 0 2 0 4 0 3 2-2 1 4 1-6 1-7 1 11 1-4 0 2 1-4 0 8 2-10 0 6 4 4 2-12 1 11 1-8 0 10 3-12 1 2 0 7 2-4 0 5 2-6 0 5 2-1 1-10 0 13 2-12 2-2 1 4 0 7 1-4 0 6 1-11 0 9 0 4 2-2 1-7 0 4 0 5 1-14 0 2 1 2 1 2 1-3 1-4 1 6 0 2 0 5 1 2 2-7 0 2 1 4 2-12 0 3 0 5 2 0 1 3 1-9 0 2 3 0 1-3 0 7 2-3 0 3 0 4 5-11 1 4 2-2 0 6 3 1 3 7-2 0 0 8-4 0-1-11 0 3-1 6-1-6 0 8 0 3-1-7-1-5-2 5-1-3-2-2-1-2 0 6-1-4-1-2-1 4-1-3-2 0 0 13-2-12 0 9 0 3-2-12-3-1-4-1 0 5-2 6-3 4-3 0-2-1-6-1-1-4-2 3 0 2-1-10-2 7 0 3-2-2-2 0-1-9-1 7 0 2 0 2-1-7-1-6-1 2 0 3-2-4 0 7 0 2-1 3-1-14 0 7-1-3-1 11-5-7-1-6 0 3 0 5 0 2-3-1 0 4-3-6-2-6 0 7 0 2-1-7-1-2 0 9-1-12-1 2-1 6-1-3-1 6-2-7-1 5-2-3-3 5-1-10-1 3 0 9-2 1-1-2-3 1-1-13-1 13-3-12 0 2 0 4-2 4-2-2-1-8 0 3-2 11-1-13 0 11-2-9 0 6 0 3-1-11-1-2 0 5 0 2 0 8-1-4-1-10 0 5 0 7 2 11 3-6 1 7 0 5 3-4 1 3 0 2 1-14 1 13 1-7 2-6 0 4 2-4 0 3 0 9 1-6 0 8 2-1 2-12 2 1 0 11 2-12 3 13 3-15 1 6 1-4 1-2 0 12 5-12 1 6 2-1 1-2 1-2 2 11 2-6 2 1 1-3 2 2 0 3 0 6 1-3 2-5 0 3 0 2 3-11 0 14 2-11 1-4 1 14 2 1 3-15 1 5 3-2 3 4 1-7 0 5 2 1 0 4 1-7 1-3 1 7 2-6 1 5 1-3 0 7 1-4 1-3 1-2 1 8 1-7 1 8 2 0 2-7 0 8 0 2 1-12 1 2 0 5 1-8 0 12 3-11 0 10 0 2 1-10 2 10 0 2 1-10 2-2 1 2 1 4 1-7 0 5 3 2 1-7 2 5 2 6 1-11 0 4 2-2 0 2 0 8 1-2 2-2 1-5 1-5-2 17-1 13-1-11 0 7-1-5 0 3-4-4-2-2-2-1 0 2-1 3-1-2-1 2-2-6-1 3-1-3-12 15-8-15 0 12 0 3-3-5-2 1-1-3-2 6-1-11-1 5 0 7-2-11 0 5-2-9 0 13-1-10-1 10-1-7-1-3 0 6 0 5-1-8 0 6-1-10 0 2-1 6-1 3-2-13 0 8 0 3-2-8 0 6 0 5-2 0-1-14-1 2 0 5-1 3-1-4-2-5 0 5 0 4-1 5-1-14 0 11-4-10 0 13-1-7-1-3-1 9-2-5 0 3-1-10-1 4 0 3-2-8-2 5 0 9-1-5-2 4-2-13 0 2-1 6 0 3-3-2 0 4-2-6 0 7-1-11 0 2 0 5-3-2-1 3-1-5-2-2 0 4-2 5-1-13 0 2 0 3-2-5-1 10 0 2-2-8 0 5-2 1-1-11 0 13-2-13-4 0 1 28 4-4 17-8 5 1 4 2 1 11 1-13 6 0 3 4 2-3 0 2 3-1 0 3 1-5 3 2 7-2 0 4 2-1 0 5 2-7 1-2 2 3 1 6 3-5 1 5 3 2 2-10 0 7 2-5 0 6 0 4 2-6 0 3 1 2 1-10 1 8 2-4 1-5 1 13 1-5 1-4 1 4 2-8 2 3 0 6 2 0 1-7 2 6 1 6 1-13 2 2 1 5 1 2 2-7 2 3 1 3 1-2 4-2 0 2 2 1 0 3 4-1 3 2 4 1 0 13-1-5-1 6-1-6-4 5-1-11-1 13-2-11 0 6-1-4-2-4 0 5 0 3-1-5 0 8-1-6-1-4-1 7-7-1-1-3-5-1-2 7-3-8-2 11-2-12-2-1-4 15-10-9 0 8-4-5-2 4-3-13 0 8-9-4-17 1-17 8-3-8-9 7-4-4"/><path d="M1027 782l1-5 0 2 2-2 1-9 0 7 2 6 1-11 2 0 1 7 0 6 2-11 2 0 3-2 2-2 2 0 2 2 0 2 2-4 0 15 3-12 0 11 4-14 0 2 1 3 1-3 0 8 1-4 1-4 1-1 1 7 2-3 2-5 0 11 1-8 0 5 0 2 1-4 0 5 1 1 2-5 1-7 0 8 0 2 2-3 1 6 1-11 0 2 0 8 0 3 2-3 0 3 1-13 0 2 0 5 1-3 0 2 1-7 2-1 2 5 0 6 0 4 1-7 1 1 3-5 0 6 1-8 0 4 0 7 2-2 1-11 0 5 0 8 2-4 0 4 1-11 0 8 1-10 1 3 1 4 2 3 1-5 0 3 0 5 0 2 1-15 2 3 1 7 1-10 0 6 2 9 1-9 0 4 0 2 1-8 1 2 1-2 0 7 1-10 0 8 2-8 0 13 1-4 1 2 1-9 0 8 1 3 1-14 1 7 1-5 0 11 1-13 0 4 0 4 0 6 2-8 0 2 0 7 2-14 1 4 1-3 0 12 1-7 2-7 0 7 2-4 0 8 0 2 1-13 0 5 1 4 0 3 1 3 1-13 0 11 1-7 1 9 1-8 0 3 1-9 1 14 2-4 0 3 1-8 0 25-1-12-1 10-1-8 0 2 0 2-2-4 0 5-1-3 0 2-3-7 0 3 0 6-1-1-1 3-3-9 0 2 0 4-2-6-1 5 0 5-1-13-1 10-1-8 0 5-1-6 0 9 0 4-1-11-2 7-1 3-1-7 0 4-1-7-1 10-3-13 0 5 0 4-1-10 0 2 0 11-1-8-1 5-1 4-1-11 0 2-2-2 0 5-1-8 0 7-1 2-2 0 0 5-1-7-1-7 0 13-3-11 0 11-2-11-1-1 0 2 0 7-1-8-1 10-2-5-1-3-1 1 0 2 0 8-2-12 0 4-2-4-1-3 0 2-3 1 0 11-1-6 0 2-1-4-1-2-1-3-1 3-3 2 0 2-1 5-2-11 0 4-1 8-1-10-1-3 0 11-1-7-1 5-3-4-1 2 0 6-2-6-1 3-1-11-1 12 0 3-2-14 0 3-2-1-1 7 0 4-3-7-1-5 0 13-1-4-2-10-3 0 0 4-2-3 0 7 0 2-2-3-2 1 0 3-1-5 0 7-1-12 0 7-2-4 0 3 0 7-5-9-2-3 0 7 0 3-1-12 0 4-1 9-2-13 0 7 0 6-2-10 0 16 0 3 0 5 1-3 1-6 0 3 0 9 2-15 0 14 1-6 1-6 0 2 1 11 1-9 1 2 1-8 1 6 0 4 0 3 4-12 0 2 3 7 0 3 2-4 2-7 0 10 1-12 2 2 0 10 3-10 0 8 1-2 1-7 1 7 1-5 0 2 1 6 1-9 2-2 1 4 2 5 1-8 2 5 2-5 0 11 1-9 1 6 3-5 2-4 0 5 0 9 2-1 0 2 1-15 2 8 2-4 2 4 1-8 0 13 2-12 0 6 0 3 0 3 1-9 1-4 0 8 1 2 1 2 1 2 3-3 0 3 2-10 0 5 0 3 2-4 0 4 2-8 0 2 0 6 2-3 1-5 1 2 1-4 0 13 2-9 1-5 1 5 1-4 0 11 1-13 0 15 1-11 1 2 0 7 1-13 0 15 2-2 2-11 0 12 1-2 1-8 0 2 0 4 1-8 3 2 1 4 1-2 0 7 2-10 0 5 0 4 2-12 0 15 1-6 1-2 1 2 1 1 1-9 0 2 0 3 1 1 0 3 0 3 2 2 1-15 0 14 1-12 0 7 2-5 0 5 1-8 0 2 0 10 1-2 1-7 0 11 2-8 1-6 1-1 0 2 0 9 1-4-2 10 0 2-2 4-1-4-2 2-1-4-3 6-1 2-2-9 0 13-2-12 0 4-1-2 0 6-2 2 0 4-2-12 0 8-2-8-1-3-1 3 0 2-3 0-2 4-2-4-1 7-3-5 0 3-1-7-1 12-1-6 0 2-1 4-1-13 0 4 0 7-3-4-1-7 0 4-2 1-2-5 0 12-2-10 0 2-1-4-4-2-5 1-3 1 0 11-2 0-2-13 0 7 0 8-2 0-1-4-2-1-2-3 0 7-1-4-2-2-1-5-1 4-2 1-1-4 0 9-2-6 0 3 0 2-1-11-4 0 0 5 0 4-3-2 0 2-1-8 0 12-3-13-1 6 0 3 0 3-1-8-1 3-1 7-1-2-3 1-2-2-1-10 0 7-1-2 0 7-1-12-2 1 0 3-1 8-1-5-1-7-1 6-2 1-1-4-1 9-1-8 0 4-1-6 0 11-1-13-1 3-2 8-1-8 0 4 0 20 1-11 1 6 1-2 0 6 1-3 1-5 2 8 1-11 1 2 1 11 1-8 1 4 0 4 2-3 2-6 0 2 0 2 2 1 1 5 1-13 0 6 1-8 2 2 0 10 1-5 0 2 1-5 0 11 2-9 0 3 1-5 1 4 0 2 1 4 2-12 0 2 1 11 1-11 4 1 1-2 0 5 0 4 1-6 1 5 2-8 0 12 1-4 1-11 1 3 0 5 2-8 0 12 1-10 0 2 3 11 1-8 2 0 1 6 1-5 1 7 1-12 1 8 1 4 1-7 1 3 2-5 0 2 2 7 1-14 0 6 1 3 0 5 1-8 0 5 1-9 1-2 1 3 1 5 1-8 1 8 2-7 0 5 1-3 0 6 0 2 0 2 2-10 1 10 9-13 2 3 1-4 0 2 2 4 1-5 1 11 1-4 0 7 1-14 3 0 4 4 2-2 0 5 2-8 0 3 3 0 3 12 1-7 1-3 1 6 1 3 1-2 1-4 3 5 1 3 0 10-1-2-2-8 0 7-2-7 0 14-1-6-1 2-1-4-1 7-1-9 0 2 0 4-1-8-1 4-3-4-1 8-1-7-1 4 0 3 0 5-1-13-1-2-1 5-2 4-2 1-1 2-1-7 0 4-2-1-1-7 0 2 0 2 0 10-1-6-2 3-1-11 0 14-4-12-1 3 0 5 0 2-1 2-3-15 0 11 0 4-1-8-1 3-2-9-1 5 0 4-1-8-2 4 0 5 0 2-2-9 0 6-1-3-1 2-1-7 0 5-1-3 0 9-1-12-2 1-2-1 0 11-1-9-2-1-3 6-1-4-2-4 0 12-1 2-3-13 0 7-2 3-1-5-1-5 0 3 0 11-2-2-1-6-1 3-1-8 0 4 0 6-3-5-1-4-2-3 0 3 0 3-2 6 0 2-2-8-4-5 0 6 0 2 0 4-2-4-2-8 0 5 0 5-1 4-1-15 0 7-2 2-1-5-1 3-1 4-1-9-1 7 0 4 0 2-1-10-1 5-1-6 0 3-2-6-1 14-1-9-1-6 0 4-1 6-1-5 0 3-3-6-2-2 0 5 0 7-1-5 0 2 0 7 2 0 3 0 1 2 2 2 1-2 1 2 1 4 0 3 2 0 2-7 1-2 0 4 2-4 0 2 1 6 1 5 1-2 2-12 0 7 0 6 1-10 1 7 1-5 2 9 1-14 1 4 1 4 1 5 2-14 1 7 0 2 1 6 1-12 1 10 1-7 1-6 0 2 0 6 2-7 0 5 0 6 4-8 0 10 1-13 0 5 1 4 1-7 2 4 1 5 1-3 1-2 1-6 1 5 1 7 2-4 1 5 8-3 3 0 0 2 1-4 1-7 0 9 1-2 2 1 1-4 0 7 1 2 1-13 1-2 1 7 0 8 2-14 1 10 2-9 0 10 2-3 1-5 1 3 2-5 0 5 0 3 1 2 1-2 2-8 1 3 0 8 1-5 0 3 1-5 1-4 2-2 0 6 2-4 1 11 1-11 1 2 3 11 1-15 0 3 3-3 0 2 0 4 1 6 1-11 1 5 0 3 1 5 5-14 0 5 2-1 0 3 1-7 1 30-1-7-1 3-1-3-1 3 0 2-3-8-2 5 0 5-2-12 0 3-1 4-1-8 0 2 0 3 0 7-4-5-2-5 0 3 0 8-1-3-1-9-1 11-1-13 0 10-3-5 0 9-1-12-2 2-1-2 0 9-2-4-1-6-1 3 0 6-2-9 0 6-1 4-1 3-1-5-1-9 0 6-1 5-1 4-1-9-1 8-1-11-4 9-4-4 0 2-1 5-1-2-1-7-1-4 0 11-1-7-1 5-1-2-1 4-1-3-1-9 0 5-2 6-1-9 0 6-4-7-1 7-1-8 0 4-4 8 0 2-1-14-1 12-2-13-1 3-2-1 0 8-2-2-1-3-4 1-2 0-1-2-3 0 0 10-5-14-6 10-2-7-1 12-5-5-1-4-1-5 0 8 0 6-1-2-1-9 0 6-2 4-2-1-1-10 0 12-2-12-1 10"/><path d="M1153 771l1 4 1-6 0 8 1-3 1 5 3-9 0 7 0 5 1-10 1 3 0 3 1 2 1-3 0 5 2-13 2 5 0 5 0 4 2-11 0 11 2-8 1-6 0 9 2 0 1-9 1 9 2-7 1 3 2 2 1 7 2-3 1-8 0 4 0 7 2-11 0 5 2 3 1-10 1 3 1-4 1 2 0 11 1-3 1 3 3 0 1-12 0 10 2-11 0 3 0 10 1-5 1-5 2 5 0 2 1-4 1-3 0 10 6-9 1-2 0 6 2 3 1-6 1-5 0 2 0 8 1 4 1-15 1 12 1-6 0 8 3 0 2-7 1-2 2-1 1 5 2-8 1 4 0 7 1-12 1 3 1 2 0 3 0 4 1-10 1 7 1-5 1 8 1-12 2 5 1-2 1 6 1-8 2 6 1-7 3 1 0 4 0 10 2 0 1-4 2-4 0 4 4-4 3 1 1 3 3-5 1-5 3 5 2-1 0 6 2-11 0 3 0 9 0 3-3 15-5-1-3-12-1 4 0 6 0 2-1 2-1-14-1 5-2 2-1 3-1-4 0 2-1-8 0 10-3-7 0 2-1 7-1-12-1 14-1-5-2-9-5 0-1 10-1-7 0 4 0 5-2-12-1 9-2-9 0 4-2-3 0 12-2-7 0 8-1-14-1 9-1-5 0 3 0 4-2-10 0 2-1 8-1-6 0 9-2-9 0 2 0 5-4-9-1 4-1-5-1 11-1-11 0 6-1-2-2 8-3-15 0 14-2-13 0 12-2-13 0 11-3-9 0 2-2 11-2-6-1-9 0 11-1 3-1-3-1-3-2-6 0 5-1 2-1-2-1-3-1-4 0 9-1 2 0 4-1-9-2 8-1-5-1-7 0 3 0 7-2 2-1-7 0 2 0 3-2-8-3-3 0 7 0 5-3-9 0 4 0 5-1-3-4-7-1 8-1-10 0 8-1 2 0 3-1-14 0 9-2 6-1-13 0 2 0 4 0 4-3-11 0 6-1-3 0 9-1-11 0 9-2-3 0 6-1-12 0 10 0 19 1-10 0 8 1-3 1-4 0 7 2-6 0 6 1-13 0 3 0 6 0 6 2-14 2 6 0 4 1 2 1-13 0 2 1 5 0 2 1-8 1 7 1-8 1 12 1-7 0 9 2-3 1 3 1-3 1-5 3-3 0 11 1-2 2-3 0 2 1-10 1 14 1-7 0 4 2-12 0 2 3 7 1-6 0 10 2-8 2 10 1-13 1 8 1-6 0 3 2 0 0 2 0 5 2-12 0 7 1-2 2-1 0 6 2-10 0 7 2-3 0 4 1-2 1-4 0 10 1-14 2 6 2-4 1 2 0 3 3-1 3 3 1 2 2-7 1 4 3-1 0 5 1-12 3 9 2-6 2 4 0 2 2 4 1-11 3-2 1 10 0 3 2-13 0 9 0 5 1-9 2 10 2-9 1 7 1 2 3-11 0 5 0 4 2-9 1 5 1-9 0 7 0 7 1-2 2-11 0 10 2-5 0 4 2 2 1-11 1 7 1-6 1 10 2-11 1 4 0 5 3-9 0 6 0 7 2-12 0 17-3 12-1-12-3-3-1 15-1-4-2 3-1-3-1-2-1 2-1-2-1-7 0 11-3-11-1 12-2-8 0 6-1-8-1 3-1 2-2-5 0 4 0 2-1 3-1-9-1-3 0 6-2-5-1 3-1-3-2 3-1-5-1 4-1-2 0 7 0 2-4-11 0 10 0 4-1-12-2 4-1 3 0 2-2-11 0 5 0 2-1-5 0 10-1-6 0 8-2-13 0 5-1 5-2-10 0 5 0 6-2-3-3-8-1 13-2-7-1-6 0 2 0 6-2 2-2-6 0 7-1-11 0 9-1-2-1 2 0 5-1-11-1-4 0 13-2-4-2-9 0 10-1-7 0 4-1 2-2-1-1-4 0 8-1-2-4 4-2 0-2-12 0 4-1 7-2-12 0 11-2-6 0 2-1 1 0 4 0 2-1-13 0 10-1-7-1-1 0 7-1-11-2 3-1 5 0 5-1 2-1-10 0 2-2-7 0 7-1 2 0 2-2-11 0 2 0 6-1 3-1 3-1-7-1-5-1 9-1-9 0 2 0 9-1-2-2-7 0 6-1-7-2 10-1-9 0 6-1 4-1-12 0 7 2 15 1 2 1-7 0 12 2-12 1 6 0 3 1-10 0 4 2-5 0 7 1-5 1-3 0 7 0 6 0 2 2-12 0 2 1 7 1-4 1-5 1 4 0 6 1-10 1 10 1-7 0 3 1-9 0 2 2-2 1 5 0 8 1-5 0 2 3-8 0 2 1 6 1-3 0 8 1-5 2-6 0 8 1-9 1 10 1-8 1 2 0 6 1-13 0 5 0 5 0 5 1-2 1-6 0 4 1 2 1-7 2-2 1-1 1 9 1-10 0 6 0 5 1-4 1-5 1-2 0 8 1 3 1-6 2 0 1 2 0 4 1-7 0 6 1-1 1-10 0 3 1 3 1-5 2 0 2 6 1-2 1-4 1 8 0 3 1-7 0 9 1-14 0 2 0 6 3-1 0 4 1-10 1 3 1-5 0 10 1-3 2-5 0 11 2-12 0 4 0 9 1-7 0 2 2 0 2-8 0 13 1-6 1 3 2-6 0 4 1-6 1 6 0 3 1-12 0 14 2-8 1 6 2-8 3 2 1-6 1 4 0 3 0 6 1-13 1 9 0 6 2-8 1-4 2-1 0 4 3-6 0 4 0 11 2-1 2-14 0 2 0 9 0 3 1-9 1 5 1-5 1-4 0 10 1-5 1 5 2-5 1 5 1-8 0 19 0 4-1 3-1-12-1 13-1-6-1 2-1-6-1 2-2-4 0 4 0 5-1 3-2-8-2-5 0 10 0 3-3 0-1-14 0 3 0 3-2-3 0 7-1-3 0 6-1-11-2 3 0 4-2 3-1-4-1-6 0 2 0 6-3-9 0 6-1-2-1 8-1-13-2 2 0 2 0 11-3-11 0 6-1-9-1 4 0 5 0 3-2-12-2 1 0 2-1 5-1-7-1 4-2 3-1-9-2 8-1-3 0 8-2-8 0 7-1 2-1 1-1-3-1-8 0 3 0 4-1-9-1 4-1 5 0 3-1-12-1 5 0 8-2-10 0 9-1-2-1-5-1-1 0 2-2 0-1-1 0 6-1-10-1 3 0 9-2-13 0 8-1-3 0 5-1-10-1 7-1-6-1-1 0 5-1-7-1 3-3 7 0 2-2-3 0 4-1-2-1-2-1-5-1-4 0 12-1-4 0 6-1-12-3 0 0 13-2-14-2 0 0 6-1-2 0 4-4-9 0 9-1-4 0 9-1-11-1 9-2-10 0 8 0 2-2-11 0 9-1-7-2 6-3 3-1-10 0 12-1-8-1-2-1 3 0 3-1-7-1 3-1 16 1-2 2-1 0 2 3 6 2-5 0 3 2-5 0 3 0 2 2-4 1-2 0 9 1-11 1 7 1-8 1 6 0 4 1-9 0 3 2 2 2 0 0 5 2-9 1-2 0 7 1 4 2-5 2 0 0 7 1-4 1-7 0 4 0 5 1 4 1-12 0 5 1-3 0 6 0 3 2-2 1-9 0 2 0 10 1-6 0 4 1-13 2 3 0 12 2-3 0 2 1-8 0 2 3-8 0 2 0 4 0 2 1 2 0 5 2-13 1 8 1-6 0 4 2-7 0 5 2-6 0 8 0 2 1-8 1-2 0 8 0 2 0 4 2-1 2-5 0 2 2-3 0 6 1-12 0 2 1 5 2 3 1-3 2-5 0 3 0 7 2-8 1-5 0 12 1-9 1-3 0 4 0 2 0 2 2-8 0 12 0 3 2-5 2-9 1 3 0 2 1 2 0 3 1-4 1-5 0 2 0 4 1 4 1-8 0 11 1-2 1-12 3 2 0 7 1 3 4-4 1-9 1 3 0 3 2 2 1 3 1-8 0 12 1-15 0 13 1-10 0 5 1 6 1-13 0 5 1 3 0 6 2-13 1 11 1-8 0 2 1 2 4 1 0 4 4-2 2-7 1 2 0 2 1-9 0 22-1 7-1-8-1-3-1 6-1-8 0 12-1-6 0 9-1-7-3-4 0 6 0 5-2-14 0 9-1-6-1 2-1 6-1-9 0 7-1 1-2-9 0 9-1-11 0 14-2-6 0 3 0 3-2-13 0 12-1-10 0 5-1-4 0 10-1-12-2-2 0 11-1-9-1 3 0 2 0 7-2-11-1-1 0 7-2-3 0 7-2-4-1-6-1 6-1-7-1 3-1 10-1-15 0 11-2-11 0 3 0 3-1 6-2-5-1-6 0 12-2-9 0 2-2-1-1-5-2 0-1 13-2-10-1 8-1-8-2-1-1 3 0 5-1-2-1 3-1-4-1-5 0 10-1-12 0 9 0 5-1-2-1-12 0 6 0 8-2-9-1-2-4 10-1-13 0 11-2 3-1-11-1-2 0 11 0 3-1-5-1-8-1 6 0 4-2-2-1-8-1 8-2-7-2 3 0 3 0 6-1-12-1 4 0 6-3-3-2-3-1-5 0 2 0 8 0 2-3-9 0 9-3-10-2-3 0 4-2-2-1-2-4 9-1-8-2 0-6 7"/><path d="M1280 775l3-2 0 2 0 4 3-1 0 4 2-9 0 8 1-2 2-10 1 3 1 8 1-4 1-5 2-3 4 3 3 6 5 6 11-14 2 4 4-1 11 2 30 8 4-13 7 12 3-9 5-1 5 0 2 8 12-5-6 12 0 11-4-4-11 2-2-7-7 3-12-3-3 3-7 1-14-5-7-1-8 7-14 6-1-9-1 9-6-12 0 7 0 4-2 1-1-14 0 9-1-3-2-5 0 2-2 2-1-3-1-3 0 12-1-8 0 4-1-7-1 13-1-9-1-3-1 7-1 2-1-9 0 6-4 23 1-6 1 6 1-7 1 4 0 2 4-1 3-3 4-5 2-2 0 7 1-5 1-3 1 9 0 3 2-13 0 8 2 6 2-14 0 3 0 2 1 9 2-6 1-5 0 11 1-8 1 3 1-3 1-4 0 2 0 6 0 4 1-6 0 4 2-9 0 10 3 1 3-11 0 8 0 2 2 0 3-2 4-10 5 6 7-5 4 3 3-4 6 3 6-5 10 15 4-5 5-6 8-2 1 6 4 2 2-6 1 21-3 4-14 1-6 1-5 0-2-8-17-6-10 9-5 3-3-3-2 1-2-2-2 3-4-7-1 2-1-6 0 2-2 6 0 4-2-7-2 4 0 2-1 2-2-7-1-4-1 5 0 2-2 2-4-11-2-1-1 2-1 10-1 3-2-8-1 4 0 4-2-11 0 3-1 3-1-7-2 3 0 5 0 4-1-14-2 3 0 4 0 7-1-14 0 12-1 2-1-8 0 2-2-7 0 5-2-1 1 13 2-3 1 9 2 0 0 5 2-4 1-6 1-2 0 8 3-10 2 2 1 5 1-4 1 5 0 2 1-8 0 4 1 9 1-10 1 10 2-15 0 6 0 2 1 2 0 5 1-10 2 9 1-5 3-9 1 7 1-6 4 1 0 4 1-2 1 4 1 4 1 3 2-9 1 6 1 2 1-9 1 5 2-2 2-3 0 3 0 6 2-14 0 9 0 2 2-11 1 6 1-4 2-1 0 3 0 8 2-4 0 5 1-8 1 4 0 6 1-14 0 12 3-3 4-8 0 12 7-9 7-2 3 2 2 5 4-1 6 6 7-6 7 2 2-3 6 10-13 5-8 0-2 3-8 0 0 4-2-1 0 2-2-4-1 3-4-3-2 1 0 2-1-10 0 3 0 2-2 6-1-12 0 5-2-5 0 4 0 3 0 3-1-8-3 3-2-5 0 8-1-10 0 4-1-2-1 8 0 4-1-7-1-2 0 5-2-6-1 8-1-5-2-7 0 3-1 5-2-5 0 3-2-4 0 3 0 8-1-5 0 2-1-7 0 2-3-6-5 15-2-6-2 1-2-6-1-4 0 10-1 3-1-13 0 4-2 1 0 9-1-6-1 7-1-14 0 5-2 3-1-7 0 13-3-4-3-5-2 6-1 2-3-4-1 5-1-8-2-3 0 6-1-9-1 14-1-4-2 3-1-10-1 10-2-8 0 4 0 3 2 12 0 4 1-12 1 7 1-5 0 8 3 3 2-14 0 8 0 3 1 4 1-14 2 2 0 9 1-11 0 8 0 6 2-14 0 12 1-7 0 5 1-10 1 6 2-5 0 8 1-6 1 5 0 5 2 1 1-3 2-9 0 7 3-7 1 5 0 3 4-3 0 3 0 2 1-11 0 2 1-4 1 2 1 11 2-3 0 3 1-6 1 2 1-6 3 5 0 3 2-4 3-2 0 2 3-4 0 5 0 3 2-10 2 4 2-1 0 8 1-3 2-6 2 2 0 4 3-5 0 6 0 2 2 2 1-11 0 5 1-3 1 10 1-9 3 3 0 2 1-5 1-5 0 8 2-4 0 4 1 5 1-6 1-7 1 7 0 2 2-6 1 3 2-5 0 5 0 3 2-8 0 2 1 2 0 5 1-9 0 6 2-5 3 8 1-2 1-4 4 1 0 6 2-3 1-5 2 0 1 4 0 5 3-6 1-2 0 6 1-2 2 1 3 0 2 3 0 11 0 6-1-10-1-2 0 6-2-4 0 8-1-12-1 2 0 2-1 9-1-12 0 5 0 4 0 5-1-12-1-2-1 2 0 4 0 2 0 4-2-9-1 8 0 3-1-5-2-5-2 1-1 8-1-12-2 7-2-9 0 9-1-5 0 8-2-8 0 10-1-3-1-5-1 2-2 1-1-4 0 2-1 4-1-11-1 5-1 4-3-1 0 5-5-11-1 9-1-9-3 9-4-3-5 0 0 3-1 4-1-14 0 7-3-3-2-5-1 12-1 3-1-14 0 11-2-9 0 5-2-3 0 2-1 2-1-9-1 5-1 2-1-7-1 2-7-1 0 10-2-7-1-4-4 14-1-9 0 6-2-11 0 6-1 5 0 2-2-8 0 6 0 4-1-7-1 6-1-10-1-4 0 11-2-9-1 2-2 3-1-4 0 12-2-5-1 3-2-12-2-1 0 4 0 10-1-8 0 3-4 1 0 3-2-4 0 4-1-8-1-2-1 10 0 2"/><path d="M1412 783l1-4 6-11 0 5 29-3 3-1 3 10 1-6 2 6 4 1 1-5 2 1 0 4 2-2 2-5 1 2 0 5 2-7 2-2 0 6 0 2 1-10 1 3 0 3 2-6 0 4 2 5 2-5 1-5 5 4 2 7 7 2 5-3 1 2 1-9 0 6 2 3 2-9 0 4 0 3 2-6 1 2 1-4 0 6 1 2 1-8 3 7 0 4 1-8 1 2 1-2 1 6 1-5 2 0 2 3 2 4 4 2 2 1 0 14-1-4-1-8-2-1 0 4-2 2 0 7-1-11-1 6-3-6 0 12-12-15-4 2-4 0 0 8-2-3-2 3-1-2 0 5-2 2-1-10 0 3-2 2 0 2-1-9-3 7-20-10-3 5-1-3-1 8-1-5 0 7-1-4 0 6-2-11-1-2 0 6 0 8-3-12-12 11-17 0-18-4 0 16 3 4 8-6 9-2 12 4 11-7 0 7 3-8 0 6 2-7 2 6 1-3 1 4 1 4 0 2 1-11 13 12 4-4 3 0 1-9 1 8 1 4 1-8 0 2 3-2 1-2 0 6 1-8 1 2 1 9 1-12 1 2 0 4 1 5 0 2 2-13 0 6 0 7 1-5 0 2 1-11 0 6 1-3 0 6 2-2 1 6 2-6 0 3 3-4 0 2 1 3 1 4 1-4 1-3 0 6 3-8 0 2 3-3 2 10 1-2 2-8 1 9 2 1 1-4 1-3 1-6 0 9 1-11 1 4 0 5 2-8 0 8 1 4-1 9 0 5-2-2-1-5 0 7-2 3-1-13-12 7-2-8-1 2-5 1-2-1-2 0-3 0-4 12-1-12-3 1 0 4-1-6-2 2-2 5-6 3 0 2-2-7-1 4-1 2-1-3-2 6-3-10 0 4 0 4-5-3-6-5-5-4-2 6-2-7-23 5-7-4-7 13-7-12 1 23 14 6 2-5 4-10 4 14 11-13 10 9 10 1 4-7 6 0 6 7 8-5 16 6 4 0 2-3 3 4 2-5 4 7 2-9 1-2 1 9 1-7 5-2 1-4 2 2 2 6-6 12-7 4-7-8-2 1 0 3-3 1-1-5-6 1-4 12-5-3-4 2-1-8-5 2-15 1-6-3-8 3-20 5-5 0-18-9 0 7-3 15 2 4 2-2 1-2 1-5 1 9 3 2 3-15 2 5 3 8 3-12 5 9 8 5 4-9 5 4 1-7 17-2 4 11 6-8 2 10 3-2 5 0 13-11 0 6 20 5 1-4 0 7 3-4 1 2 7-1 1 5-4-1-4 1-8 1-2 5-6-6-15 10-12 1-2-3-2-3-2-6-6 6-12 5-10-4-2-7-2 4-12 7-1 4-1-11-5 3-1-3-2 2 0 4-2-7 0 8-1-11-1 8 0 2-2-5 0 8-2-4-2 0-1-3-2-6 0 9 0 3-1-7-1-5"/><path d="M1536 783l3-1 4-2 1 2 1-5 3-3 0 6 1-3 1 4 3-9 1 7 1-4 1-4 0 2 0 6 2-9 0 6 0 2 38 2 1-12 1 2 0 7 2-9 0 3 1 12 4-9 0 6 1-11 1 10 0 2 0 2 2-10 1-4 1 7 0 3 1-10 2 13 1-6 0 2 5-4 0 6 1-4 0 2 3 0 4 2 0 3 2-5 2 0 0 4 1-7 6 8 11-8 10 1 1-7 1 10 0 1 0 6-3 2-1 2 0 7-1-2-2 2-1 2-1-9 0 6-2-9 0 4 0 4 0 3-2-12 0 2-2 2-4-2 0 5-2-9 0 6 0 2 0 6-3-8-3-6-2 4-1-2-2 5-1-6-2 7-16 7-5-14-2-1 0 5-1 3 0 2-1 2 0 2-3-8 0 5-5-6-2 2-2 6-3-5-19 3-2-5 0 8-3-3-2-11 0 7-1 6-1-11-2-1 0 2 0 6-1 4-1-10-2-2-4-1-3 2-2 0-8 1 0 2 0 20 1 6 1-3 5 1 3 1 6-2 7-10 0 12 1-14 1 7 0 5 1-12 2 15 1-7 1-4 0 8 2-11 0 2 0 3 0 7 2-12 0 13 1-6 1-6 2 10 2-12 1 9 2-8 0 6 2-2 2 6 0 2 1-13 1 4 0 5 0 2 2-10 0 4 1 2 0 5 2-10 0 8 2 0 3 0 1-8 2 5 2 0 0 6 1-8 1 5 0 3 2 1 3-1 5-4 3 1 1 2 0 3 2-3 2 0 0 2 6 1 2-3 2 0 5 2 2-1 3-9 0 9 1-12 0 5 1-3 1 5 0 5 1-12 1 7 1 6 1-8 2-3 1 6 1-9 2 4 5 27-6 0-2 0-3-15 0 7 0 5-2-12 0 6-1 7-2-13-1 9-1 2 0 2-1-12 0 3 0 11-2-14 0 7 0 5-1-2-1-6 0 4-2-4-1 8-2-12 0 6-1 3-1-6-1 3-1-4-1 2 0 3 0 3-4-3-1-6-2 2-2-1-1-2-4 4-1 5-1-7-2-3-3 3-2-1-2 7-1-8-2 1-1 3-1 4-2-6 0 5 0 2-1 5-3-3-1-9 0 7-2-5 0 5-3-5 0 7-2-11-1 4-1 6-3 4-1-15 0 8-1-3-2 8-2-10 0 5-1 3-1-3-1-8-2 4-5-4-1 4-1 5-3-1 0 5-1-8-1 3-1-7-1 13-3-4 0 2-2-11-1 5-2-4 0 5-1 3-1-9-1 6 0 7-1-13-2 3 0 2 0 8-1 5 2 1 2-1 0 2 0 3 8-6 0 3 2-3 0 5 0 3 2-6 1 4 0 4 3 3 1-12 1 2 0 9 1-12 0 6 0 3 1-5 1-3 2 7 3-5 0 6 2-7 0 6 2-4 0 3 1-7 1 4 1-4 0 8 1-4 0 8 1-11 2 2 0 3 0 6 1-2 1-5 1 4 1 4 2-8 0 5 1-11 0 3 0 11 2-15 0 4 3-2 1 3 0 10 2-2 2-11 0 7 0 4 9-3 13-10 2 12 1-2 0 4 3-2 1-12 0 8 2-6 1 4 0 2 1-4 0 8 5-8 2 3 2-5 7-1 2 2 1-3 4 7 2-6 2 3 1 6 4 0 0 2 0 2 4-8-1 11 0 10-2-5-1-3-1 6 0 2-1-11 0 5-1-3 0 5 0 5-1-12-1 11-2 1-5-12-15 3-5-2-1 14-1-7 0 5-1-8-1 8-1-3-2-6-1 2-1 9-2-5 0 4-1-12-1 9-1-2-1-3-10 5-10-6-1 6-1-10 0 5 0 8-1-4-3-2-3-5 0 12-1-14 0 10-3-6-1 5-1-9-1 3-2-4 0 3-2-3 0 2 0 7-1 5-1-14 0 7-2-7 0 6-1-2 0 7 0 4-2-2-1 2-1-14 0 6 0 4-3-8-21 21 3 1 1 4 3-2 0 4 2-2 2-5 0 5 3 1 1-5 2 4 3-9 0 3 0 8 2-8 0 2 0 4 2-6 1-3 1 7 1 2 1-5 1-2 1 7 2-9 1 3 0 8 1-15 0 2 1 10 2-6 1 2 0 5 1-11 3 1 0 11 3-8 1 2 1-5 1 2 1-2 1-3 1 4 0 10 1-2 1-4 2 0 0 5 1-2 2 2 2-7 2 0 0 5 2-9 0 3 1 6 1-7 0 5 1-9 0 11 1-6 1-3 2 5 0 3 1-10 1 8 2-8 0 7 0 3 2-6 0 7 2-9 0 3 0 2 0 4 3-9 1 7 3-6 0 3 0 3 0 5 3-2 1-3 1 5 1-2 3 0 1-6 2 6 1-7 1 6 2 1 1-10 2 5 2 1 1-4 0 6 2-8 0 4 1 2 1-2 1 4 1-9 0 6 2-5 2 4 1-6 2 3 0 3 1-6 0 8-8 18-3-10 0 10-10-1-1 2 0 4-2-14 0 8 0 2-1 2-2-13 0 3-2-3-3 3-13 2-19-3-1 12-1-13 0 7-1-5 0 12-2-4 0 3-2-3-1-9 0 11-3-13 0 7-1-5-1 6-2-6 0 4-6-2-4-3-2 8-2-1-1 3-1-9-2 8 0 3-1-8-1 10-1-7-2-5-3 8-1-9 0 5 0 2-1-4 0 9-4-11 0 12-2-13"/><path d="M1665 783l13-8 3 1 1-8 2 12 2 12-1 3-3-4-3 7-1-8-10-1-4-2 0 6 0 22 6-5 12 5 2-14 0 11 1 0 1-7 1 6 1 3 2-8 1-4-3 24-2-9 0 10-1-7-1 9-1 0-1 2-2-1-4-7-3-4-7-3-2 17 3 4 1 2 1-3 0 5 0 2 1 2 1-6 0 2 2 4 2-12 5 7 4-7 0 8 2-7 0 2 0 6 1-9 1 23-1-5-1-2 0 10-21 4-1-14 0 8 6 19 0 2 2-5 12-5 2-4 0 11 2-3 1 14-1-6 0 5 0 8-2-12 0 2 0 1 0 11-1 0-1-9-5 9-3-11-6-3-5 5"/><path d="M620 898l2 4 1 0 3 3 0 2 5 4 1 0 6 8 0 4-2-7 0 2-2-3-9 87"/><path d="M640 901l2-3 2-2 0 11 1-7 1-2 0 10 2-6 0 7 0 2 1-7 0 3 1 4 3-3 1-6 2 2 0 2 3 2 2-4 3 6 2-13 0 11 1-3 1-3 1-6 0 12 3-2 3-9 1 5 0 8 4-4 1-9 1 5 1 5 1-7 0 2 2 0 2 8 1-6 2 7 6-15 17 2 5 8 0 5 3-9 1 4 1 3 1-5 1 7 2-8 0 4 21-4 0 8 11-9 3-2 1 10 2-12-23 24-12-4-4 9-1-2-1-8-2-4 0 2-2 2 0 8-1-12-1 4 0 2-1 6-1-13-1 7-2 0 0 4-2-9 0 13-6-2-4 1-3-11-1 9-5-4 0 2-1-7 0 11-1-13 0 9-2-2 0 6-2-11 0 3-1 3 0 3-1-8-1 11-3-2-1-10 0 5-3 7-1-13-1 4 0 7 0 2-3-6-1 3-1-6-2-5 0 3 0 11-1-2-1-9-1 2-1-5 0 12-1-4 0 2 0 4-1-14-1 13-1-6-1-4-1-2 0 4-2 4-3 5-1-14-2 13-3-11-2 10 0 2-1-1-2-11-1 13 7 1 0 1 0 5 3 1 2-2 1-5 0 10 2-6 2 4 0 4 1 2 1-13 3 6 3-8 0 3 0 2 2 8 1-12 3 9 2-1 3 5 1-11 2-3 1 4 1 2 1-2 0 4 1-6 2 5 3-7 0 4 0 11 2-7 2 0 1-8 0 6 2 4 1-10 0 2 0 5 1 2 2 1 2-2 0 2 5-8 2 0 4 3 1-5 6 2 1 5 3-1 0 3 4-8 1 5 0 5 2-7 2 5 1-3 1 4 2-1 1-3 1 3 2 3 1-5 0 2 3-1 0 5 8-4 0 2 0 4 2-5 1-2 2 0 1 5 1 2 2 0 1-5 1-5 2-5 0 15 1-4 0 8-1 8-2-1-1-8 0 4-3-5-10-1 0 4-1 11-2-13-1 2-3 2-2-3 0 4 0 7-1-13-1 4 0 6-2-7 0 4-1-7-1 5 0 3-1 2-1-11-1 15-21-15-3 10-3 4-1-10-1 3-2-4-1 3 0 3-1 4-1-3-3-6 0 8-1-10-1 5-10 8-7 0-1-15-1 12-6-9 0 6-1-1-3-4-1-1-2-2 18 17 2 2 1 4 6 2 5 1 1 4 3 0 5-13 0 13 1-15 2 2 0 3 1-5 2 15 1-14 1 7 2 3 2-7 3 0 0 7 2-11 2 5 1-5 2 2 3 1 0 6 1-9 4 4 2 7 0 3 1-9 0 3 1 3 1 3 1-13 27 6 0 5 2-2 0 4-3 10-3 0-3-3 0 2-2-1 0 8-2 1-2-2-1 2-4-10 0 7-2 0-1-9 0 5-5-4 0 9-2-9 0 8-1-10-15 12-3-2-3-2-3-3-3-5-1 2-2 1-1 2-1-7-1 5-1-1 21 12 7 2 1 1 5 3 2-3 1-3 0 10 2-2 1 1 2-4 2 3 0 4 1-9 0 3 1 7 1-11 3-1 2 10 0 4 2-3 4-8 1-2 1-2 2 6 1-3-1 21-1-8-2 6-1-4-2 2-1-3-2 1-2 0"/><path d="M781 897l7 11 14-6 0 4 6-10 2 11 10-8 13 8 5 3 6-6 4 5 1-5 3-4 37 4 3 19-6 3-4-11 0 8-14-8-9 0-4 11-5-7-4 5-6 0-7 3-3-2-4-2-13-11 0 5-7 5-9-5-3 4-4-2-9 8-1-7-6 5-6 3 2 3 1-3 0 14 2-12 0 5 2-7 2 0 16 2 1 3 2-1 0 3 0 2 2 0 0 3 2-2 2 5 1-6 1-4 0 7 1-4 0 2 1 4 1-4 1 4 1-4 6-8 7 1 8 4 16-5 1 12 2 0 4-2 6-5 1 5 3-4 2-8 0 15 1-2 4-11 5 8 5-8 4 3 8 18-2-2-2 4-1 2-1-6-1 3 0 3 0 3-1-11 0 3-1 5 0 3-2-5-1-6-4 1 0 6-2-6 0 7-1-11-1 15-1-5-1-3-1-4 0 7-1 5-2-12-1 6 0 3-1 2-1-9 0 2-2 0-1-5-1 13-1-4 0 2-3-9 0 6-1 4-2-9 0 6 0 2-1-13-1 7-1-4 0 2-1 2-3 1-1-8 0 10-31 5-1-8-1 6-1-2-1 3-1-10-2-2 0 2 0 11-1-8-1 4-3-7-8-4-18 13-1-2 0 4-1-10-1-4 0 2-1 5-1 5-1-2-1 2 1 10 1-2 1 6 2-4 0 5 3-9 1 2 2-4 0 8 2-4 0 6 2-4 2 1 1 5 3-5 0 7 2-4 1-5 0 7 2-5 0 4 1-6 3 5 1-2 1-2 0 6 1 2 2-8 0 7 2-3 1-10 1 13 1-7 1-7 2 4 1 7 0 3 2-12 0 7 0 4 1-8 2 1 1 3 3 3 4-2 4-4 2 0 1 4 1-6 0 2 0 7 2-8 1 4 3 2 2-9 1-2 0 10 1-5 0 9 1-11 3 0 0 7 0 3 1-12 0 5 1 6 0 3 2-8 1-2 0 8 2-7 0 8 1-6 1-8 1 4 0 2 2-3 1 5 0 3 0 4 2-11 0 7 1-3 1-6 2 2 0 7 2-5 2-6 3 2 1 6 1 5 1-12 3 1 0 8 2-8 0 5 0 2 0 5 2-13 1 7 2-6 1 13 8 13-1-3-1-4-3-1 0 5-4-8-3 1 0 2-2 2-1-3-6 0-3 5-4-8-5 1-3 1-2 0 0 3-2-4 0 4-2 0 0 2-2 8-2-6 0 3-4-11-32 2-6 2-2-2-1 6 0 3-1-6 0 9-1-14-1 3 0 11-1-3-1 3-2-9-1 9-24-8-3-6-1 17 0 9 2-2 0 2 2-2 2-4 1-3 0 9 2-8 0 8 2-7 0 7 2-2 2-4 1 6 3-9 1 2 0 6 1-8 0 6 0 4 1 2 2-3 1-5 2-5 0 7 1 7 1-8 2 4 0 2 1-12 1 4 2 3 0 6 2-4 0 5 4 0 31-14 7 0 0 10 0 3 2-11 0 8 1-5 2 2 0 6 1-12 2 12 6-8 18 0 13 8 2-2 1 3 0 3 0 3-2 8-1-7 0 4-4-9 0 5 0 3 0 2-2-11 0 5-1 6 0 3-3-2-1-8 0 5-2 6-2-4-9 1-11-4-1-6-1 8-1-9-2 9-2-3 0 4-3-10 0 4 0 3-17 4-15 0-1-2-1-2 0 4-4 0-3-8-1 2 0 3-1 4-1-11 0 2-1 2-2-4 0 7-1-5-29 8-1-2"/><path d="M914 898l5 11 10-3 5-6 0 8 1-12 1 7 18-7 0 15 5-12 2 7 10-10 2 12 8-9 9 0 4-2 0 8 4 6 12-5 2-4 5-5 3-1 0 16-4 0-1 6-14 2-13-5 0 4-6 4-14 1-5-11-4 12-21-7-2 5-6 0-2 3-5-5-9-7-9 4-9-3 0 5 10 17 3-3 1-6 6 11 9-4 4 7 2-6 29 6 4-12 9-1 8 5 4-6 8 7 6-2 15 5 2-9 6 3-7 26-21-13-15 0-10 10-17-10-10 13-4-12-4-2-1 14-2-12-5 10-4-9-6 3-9 0-3-4-8-1 6 29 8-5 11 6 3 0 4-14 1 3 3 4 3-5 0 3 2-6 0 2 13 2 16-3 1 5 4 9 1-6 2-7 9 5 22 1 0 4 8-1 1-5 6 9-14 14-2-11-1 7-5 1-1 3-1-7 0 9-1-3-7 1-2-3 0 3-2-4 0 6-4-11 0 4 0 5-4-9-2-4 0 8-1-4-1-3-7-1-29 11-7-11 0 7-5-3-1 2-2-3 0 11-1-8-2-1 0 9-1-4-1 4-2-2-10 0-1 2-2-5 0 6-4-6-1-3 1 19 1-9 1 7 1 4 0 3 2-3 4-10 0 14 1-12 0 2 0 2 0 2 0 4 1-13 1 14 3-12 0 4 0 6 1-3 1-6 0 12 1-15 1 4 0 10 2-6 1-6 0 2 1 10 2-3 1 2 35-6 0 6 1-8 1 9 1-9 0 4 2-3 1 9 2 0 1-10 1 6 1-9 1 2 0 4 1-7 1 6 2 0 1-3 1-4 3 3 11 3 0 2 4-1 0 6 2-8 0 4 4-8 0 2 2-3 0 5 0 7 0 2 1-6 4-8 4 23 0 8-3-1-2 0-2-6 0 7-1-15 0 11-1-7 0 9-2-9-1-4-1 5 0 9-2-1-2-10 0 11-7 1-25-15 0 3-6 2-1-5-1 8-1 3-2-4 0 7-1-5 0 3-2-2-8-1-9 5-1-7-1 4-2-8 0 2-2 4 0 5-1-10-1 6 0 2-1-12-1 5 0 6-1-8-1 2-1 7-1-12-2 1 0 2 0 10-4-5-1-7 0 2 0 8-1-5 0 9-3-1-1-2-2-7 0 8-2-6-1-7 0 15-1-4 0 2-2-10 0 2 0 2 0 4"/><path d="M1024 897l1 3 3-2 3-1 2 12 1-8 2-5 3 2 0 9 2-10 0 5 2-5 0 5 0 8 1-11 1-3 1 9 1-8 1 8 2-6 0 10 1-12 2 7 0 7 1-4 2 3 3-5 1 3 1-6 1 7 4-4 2 1 1-5 2 10 1-3 2-8 0 11 7-13 4 0 3 1 0 3 2-4 2 7 3-1 1-5 0 3 2 0 1-2 0 7 1-11 2 1 0 6 0 2 1-6 0 11 3 0 1-9 0 2 0 3 1-9 3 6 1-7 0 3 0 6 1-3 1 6 2-1 2-7 0 8 1-2 1-7 0 10 3-2 2-11 0 3 2-2 0 4 0 9 1-11 0 4 1-7 0 11 3-10 0 7 0 2 2-4 1-6 0 8 1 2 1-10 0 3 0 10 1-5 2-4 0 2 2-1 2 7 1-10 1 4 0 9 2-3 1-6 1 4 1 2 0 7-1 12-2 0-1-13 0 7-1 2-1-7 0 2-1-4 0 11-1-5-2-6 0 5 0 2 0 5-2-13-1 6-2 0-1 2 0 5-2-12-1 8 0 3-1-12 0 7-3-5-1 9-1-11 0 2 0 2 0 9-1-7-3-7-1 5-1-2 0 8 0 2 0 2-2-13 0 2-1 11-1-12-2-2 0 5-1-2-1-3-4-1-4 1-1 7-2-3-3 1-2 9-3-1-2-1-2-5 0 5-2-5-3 0-2-5 0 11-1-3-1-10 0 2-1 3 0 5-2-8 0 6-3-3-3 6-1-5-1-4 0 2-1 3-4-6 0 11-1-13 0 6 0 5-2-10 0 13-1-8-1-6-1 3-1 5-1-7-5 3-3 6-2-10-2 7-4 3-2 3-9-6-1 7 2 6 4 8 3-6 5 2 8-1 12 3 6-2 4 0 1-6 3-2 0 5 1 4 1-7 0 10 2-8 1-3 0 10 2-6 1 2 0 5 2-1 0 3 3-13 1 5 0 3 0 5 1-10 1-4 0 8 1-6 0 8 0 2 1-4 0 6 1-2 2 0 1-7 0 10 3-3 2-9 0 8 0 3 3-5 2 5 1-13 1 10 0 4 3-6 0 4 1-9 1-4 0 8 2 6 1-8 0 5 1-9 0 12 4-13 4 2 4-3 1 6 0 2 2-8 1 10 1-2 1-5 1-2 1 11 1-10 0 3 0 4 1 2 1-10 0 7 1-3 1 9 1-13 1 6 1-3 0 10 1-3 1-9 1 9 1 15-1 4-1-11 0 3-2-4-1 5-1-7 0 11-1-8 0 5-6 3-1-11-6 4-4 11-2-8-1-3-2-4 0 3-1 7-1-5-2 4-1-7 0 5-2 5-3-3-3 0 0 6-3-8 0 2 0 4-1-11-2 3-2 8-3-8 0 5-3-10 0 2 0 6-2-6-1 5-4 0-7 5-5-6-2 7-5-1-9-5-5-7-5 3-5-1 0 11-13-11-3 8-3-8 4 24 5-2 4 3 14 1 6 0 2-12 4 6 8 6 17-6 12-3 3 2 2 8 1-9 0 4 2-6 5 4 4 4 1-7 4 1 1-4 0 14 1-6 2-6 0 5 4-3 1 2 3 4 0 5 2-8 1 2 1 6 3-3 2 3 3-5 2 13-3-5-2 9-1-3-2-5-1 5 0 2 0 5-1-10-2 1-2 2-2 2-1-5 0 3 0 7-1-14-2 1-2 10-1-10-2 4-1-6 0 4-2-3 0 5-1-3-2 10-1-13-1 10-5-6-12 11-3-15-4 3-4 3 0 5-7 1-11-5-9-2-14 5-19-9-4 14 4 2 3 8 3-4 0 6 13 3 1-6 2 3 10-4 17 7 10-5 11 0 9 5 7 0 7-10 4 1 2 7 1-9 5 6 1-8 5 6 3-5 0 2 0 2 0 2 1 5 2-5 3 4 1-11 1 4 0 3 0 2-1 11-2-5-2 6 0 4-2-8-4-2-6 8-7-1-4-7-7 8-3-7-3 8-5 0-1-7-5-2-11 4-2 10-4-8-9-1-2 8-7-7-8 1-6 6-4-2-5-2 0 5-3-7-1 5-1-4-2 4-3 3-1-5-2 2 0 2-4 1"/><path d="M1156 903l1 2 0 3 1-5 1 3 0 2 2-6 1 6 2-3 2 6 3-9 4 0 1 2 1-7 0 11 1-8 2-2 0 8 1-4 1-2 0 7 1-11 1 13 2-7 0 9 1-4 1-10 1 3 1 2 2-4 0 3 1 3 0 3 1-11 1 6 1 6 1-2 1-6 0 11 1-5 0 3 1-8 1-4 0 9 1-5 1 2 0 3 1-8 2 13 1-9 3-6 0 12 2-4 1-4 1 6 0 2 2-2 1-9 0 11 2-12 0 7 3-3 1-2 0 5 1-7 0 9 0 2 4 4 1-3 1-10 5-1 1 9 0 4 1-12 1 4 0 5 3 0 3-5 0 4 0 3 3-13 1 2 2-1 1 13 1-6 1-7 0 11 1-5 2 0 2-6 4 1 0 3 0 9 2-11 1-3 0 15 1-14 1 6 1 1 0 6 2-7 1-6 0 9 1-7 0 4 2 3 1-2 1 4 1-9 1 10 1-12 0 4 0 5 1-2 1-7 0 29-2-11 0 5-1-8 0 10-2-9-1 14-4-7-4-2-2 2 0 4-1-8-1 8-1-9 0 2-1-4-1 9 0 3-1-6-1-6-1 9-1-9-3-1-1 5-2 4-8 5-1-14 0 3-2 9-2-9 0 6-2 2-1-7-1 2-2 1 0 4-2-10 0 4 0 2 0 7-2-11 0 5-3-2 0 9-1-13-4-1-6-1-4 0-2 4 0 7 0 3-2-13 0 2-2 0 0 2 0 4-1 4-1-12 0 10-1-6 0 8-3 0-1-7-1 3-1-9 0 2 0 9-2 2-1-5-2-8 0 10-2-8-6 4 0 3-1 6-1-5-6 5-1-2-2-12-1 5-2 0 0 4-2-10-1 7-1-2-1-4 0 14-1-12 0 7 0 2-1 2-1-13 0 8-3-7 0 3-1 2 0 3 0 2 0 2-1-13 3 19 2-4 1 10 0 3 1-9 1-2 0 9 1-5 2 5 1-9 0 5 2 0 2-5 0 2 2 11 1-9 3-4 0 5 1 5 1-10 0 5 0 3 0 5 1-11 1 4 1 5 4-1 2 2 7-7 4-4 1 4 0 2 1-4 1-4 0 7 1 2 1-9 0 2 0 11 2-2 1-7 1-5 1 4 0 5 0 6 1-15 1 7 0 4 1-2 0 6 1-4 3-4 2 2 0 4 3-3 6-5 1 5 3-10 3 6 1-6 1 2 0 9 1-5 2 8 1-7 1 3 2-10 0 4 0 2 1 5 2-9 0 6 2 6 1-8 3 5 1 3 2-6 2 6 1-3 5-9 3 0 2 2 3-2 0 10 0 2 1-5 1-8 1 10 2-7 2-2 0 5 0 5 0 3 2-6 1-9 0 7 0 4 1 5 0 2 0 5 0 5-2-12 0 3 0 10-3-9 0 5-1-7-1 4 0 5-1-8 0 6-2 2 0 3-1-10 0 5-1 5-2-10 0 10-1-7-2-5 0 4-1 7-1-8 0 2 0 3-1 4-1-10 0 6-1 2 0 3-2-10-1 6 0 4-2-9 0 2-2 0 0 3-1-11 0 3-2 0 0 12-1-9-1 4-1-7-2-2-1 5-1-5 0 7-1 2-1 4-2-6-1-3 0 5-2-7-1 4-1-4 0 7-1-9 0 4-3 4 0 6-2-12 0 2 0 9-1-7-1 4-2-11 0 14-1-9-2 0-1-2-1-2 0 14-1-7 0 3-1-11-1 10-1-7 0 10-1-7-2-5-1 6 0 7-2-9 0 10-1-6-1-2-2-5-1 2 0 6-1-10-1 2-2-1 0 8 0 2-1-5 0 7-1-9-2 4 0 4-1-8 0 2-2 3 0 4-2-6-1 6-1 2-2-3-1-11-1 10-1-4-1-6 0 10-4-8 0 2-1 10-1-5-5 2-1 3-1-15 0 11-1-6 0 3-2-8-2 9 0 4-1-2-1 3-1-7-1-6 0 2 0 2-2-2-2-1 0 9-2 3 0 2 1 10 1-5 1-2 2 0 1 2 1-2 0 9 4-11 0 6 2-2 1-5 1 2 0 4 0 9 2-14 0 9 1-5 0 8 2-11 0 9 0 3 1-5 2 2 1-2 0 4 2-7 1 6 4-4 0 5 1-10 0 3 1 3 1-7 1 3 1 5 0 3 1-10 1 2 1-3 1 4 0 4 0 5 1-3 2-10 0 6 0 6 1-14 1 7 0 7 1-11 1 8 1-2 2-5 0 9 1-11 2 10 1-7 1 8 1-7 2 9 2-2 1-11 1 2 1 2 1 3 1-7 1 3 1 2 1-7 0 10 0 2 0 2 2-6 0 6 1-11 2 3 1-4 0 11 1-4 3-9 2 1 0 6 0 6 1 2 1-15 1 6 0 3 3-4 0 4 2-8 0 5 0 5 2-6 1-4 1 10 2-2 0 2 5-4 0 2 0 2 1 3 1-10 1 3 0 7 2-10 0 9 2-1 2-11 0 12 1-6 0 2 1-5 0 8 0 2 1-13 2 5 0 8 1-3 1 4 1-13 0 2 1 2 1 7 2-5 0 2 0 5 1-15 1 4 0 5 2-9 0 3 0 2 1 8 1-11 0 9 0 14-1-2-1 4-2-1-1-6 0 11-2-10-2 4 0 2-2-7-2-2 0 5-2 4-1-6-1 3-1-2 0 7-1-13 0 9-2-6 0 11-1-13-1 11-4-2-1-4-1 6-1-3-1 6-1-15 0 11-1-5 0 2 0 5-1-2-3-8-2 0 0 7 0 2-1-7 0 2-1 3-1-7-1 2-1-2-1 7 0 4-2-9 0 2-1 5-1-7-1-5 0 14-2 0-4-9-3 10-1-4-1-2-1 2-1-9-2 2-1-3 0 6-1 4-2-2 0 2-3-11-2 0 0 2 0 8-2-4 0 9-4-14 0 3-2 0-2-4 0 2 0 4-2 6-3-6-1 3-2-4 0 2 0 4-2-9-1 5 0 8-1-2-2-10 0 10-1-7-2 5 0 2-1-6 0 2-4-3 0 5-1-9 0 12-1-5-1-9-1 8 0 6-2 1-1-13-3 13-3-4 0 2-1-11-1 10-1-2-2 3 0 2-2-7 0 6 4 4 0 2 0 6 3-7 1 6 0 6 1-13 2 8 1-8 2 3 1-2 0 6 3-3 1-6 2 1 0 8 0 2 2-10 0 12 1-9 0 5 1-7 0 5 2 7 1-10 1 6 0 5 1-3 1-9 1 3 0 8 1-5 1-7 0 12 2-9 2 3 2-6 0 4 1 7 1-8 0 2 0 2 8-8 0 10 3-11 3 12 2-8 3-4 0 3 1 9 1-9 4 6 1-7 1 8 1-3 1-5 0 9 4-8 0 2 1 4 1-2 0 4 0 2 2-13 0 8 0 2 1-6 1 8 1-6 0 8 2-6 0 2 1 2 1-10 0 2 1 7 1-4 2-5 0 2 0 10 4-5 0 2 0 2 1-12 0 4 1 3 0 2 3-8 0 11 2-8 1 9 1-14 0 5 1 6 1-2 2 5 1-3 2-11 0 8 1-2 1 8 1-2 3-2 1-2 1 5 1-4 0 6 1-10 1-2 0 7 2-2 0 3 2 0 1-5 1 8-1 3 0 3-2 4-1 4-1-11-2 10-1 2-2-7-1 7-1-8-1 9-1-14-1 8 0 5-3-10 0 11-2-11-3-3 0 6-2-4-4-1-5 3-1 6-2-8-1 4 0 3-1-8 0 3-1 6-2-10-3 1 0 5 0 5-2-6-1 5-4-4-1 4-1-4-1 9-3-4-2 3-1-2-3 3-2-6-1-5 0 3 0 4-1 3-1-8 0 5-3-3 0 2-1 2-1-5-1 4-2-11 0 10-1-7 0 9-2-1-1-3-1-8 0 11-2-7-1 2-2-1-2-3-3 6-1 5-1-3-1 3-1-12 0 3 0 7-1-4-4-3 0 3-1 4 0 3-4-9 0 6-1-3-2 4-1-12 0 8-2 5-3-8-1 4 0 5-2-6-1-2-1-5-3 4-1-2-2-2"/><path d="M1280 909l1-5 2-7 1 7 0 2 1-6 1 8 0 3 2-8 1-7 0 4 1 9 1-13 1 2 0 5 1-2 0 6 2-5 0 6 2 1 1-9 0 11 1-9 1 2 0 3 1 4 2-2 2-12 1 2 0 4 1 2 1 2 2-6 1 10 1-7 0 5 2-10 0 2 0 9 2-11 0 2 1 5 0 5 2-12 0 2 0 7 3-6 0 5 1-8 0 5 0 7 1-4 1 4 9-2 1-2 1 2 0 2 2-8 0 3 1-9 0 2 2 5 0 3 1-5 1-5 1 8 1-3 0 6 2 3 4-3 1-5 2-6 0 8 0 4 0 2 2-10 1-2 0 4 0 7 1-5 0 3 1-9 1 8 0 3 1-13 2 10 1-5 0 8 1-10 1 11 4-9 1 8 1-3 1-3 1 4 2-3 3 1 0 3 3-2 2 2 1-5 2 4 0 2 2-5 0 2 4 0 2-11 1 7 0 7 2-10 1 9 5-10 0 12 2-9 1 9-3 12-2-9-5 1 0 9-1 2-1-10-1-4 0 15-3-15 0 5-2-3 0 6-2 2 0 3-2 2-1-14 0 5-2-6 0 4 0 5-2-1-1 2-1-8-2-2 0 11-2-4-1-3 0 7 0 2-1-5 0 7-1-12 0 10-1-8-1-5 0 3-1 4 0 4-2-5-2 4-1-4 0 2 0 7-2-6-2-1-1 4-1-2-1-5 0 8-2-10 0 6-1-2-1 4-1-3-2-8-1 8-1 5-1-2-1-11 0 9-1-4 0 9-1-13-1 11-2-12-1 14-1-6 0 2-1-7-1 4 0 8-1-5-1-8 0 5 0 8-2-12 0 5-5-6 0 3-5-2-3-3-7 15-2-3-1-12-1 11 0 4-1-14 0 7-3-2 0 8-1-11 0 7-1-2 0 4-2-4-2 2-1 2-2-11 0 2 0 9-1-6-1-6 0 3-1 1-1-1 0 7-1 2-2-10-1 11 0 2-2-13-1-2-1 6 0 6-1-11 0 13-1-14-1 16 0 2 1 6 1-7 1 3 1 10 1-2 1-10 0 13 3-12 0 10 1-8 0 2 0 2 2 3 2 2 1-8 1 4 2-9 2 3 1 10 2-12 1 6 0 5 2 1 1-11 1-2 1 8 2 5 1-13 0 3 1 4 0 4 1 3 1-13 3 10 0 2 1-4 3 1 2-6 0 10 1-12 1 3 1 5 2 3 1-13 0 2 0 7 2-5 0 8 2-11 0 7 0 4 1-2 1-10 2 4 1-5 0 12 1-7 4 6 1-11 2 1 2-1 0 15 2-11 1-4 1 3 3-1 1 2 1 2 2-1 1-4 0 7 1-5 1-2 2 14 1-15 0 2 0 4 0 7 1-9 1 2 1-2 2 4 2-5 0 12 1-3 1-3 2-5 0 4 0 6 3 0 1-14 0 7 2 8 2-4 1-4 0 2 0 4 1-13 0 2 1 5 1-4 1 5 0 7 1-10 1 7 1 3 1-13 0 4 1 8 1-9 1 10 1-10 2-3 0 5 0 7 1-2 1-6 3 3 1-9 1 31-1-14-2 3-1 4-2-4 0 3 0 3 0 3 0 2-2-9-1-2-2-2 0 5 0 5-1 2-1-11 0 9-6 3-3-2-3-2-2-11 0 14-2-1 0 2-1-12 0 7-1-3 0 5-2-11 0 8-2-6 0 8 0 4-1-15-2 0-1 10-1 2-1 3-1-7-1 5-1-11 0 2-1 7 0 2-3-3 0 3-1-9-2 6 0 4-2-8-1-2 0 10-1-13-1 4-1-4-1 3 0 5-1 6-4-11 0 6-1-8-1 6-1-3-1-2-1-3-1 5-1 10-1-10-1-4-1 14-1-10 0 7-1 2-1-14 0 3-3 1 0 5 0 4-2-9-1 10-1-13-1 7-1-4-2 0 0 4 0 3-2-6 0 6-1 4-1-11 0 9-1-6-1 6 0 2-1-7 0 3-3 0-2 1-1 2-2-14-1 2-1 4-2 5-1 3-3-4 0 4-2-8-1-4-1-2 0 7 0 2-2-1 0 5 0 2-2-13-1 2 0 5 0 3-3-7 0 4-2-2-1-5-1 6 0 2-1 13 1-6 1 10 4-7 0 6 1 5 1-7 0 3 1-7 3 0 0 5 2-3 1-2 2-1 0 6 1-4 1 2 0 4 1 2 2-2 0 2 1-6 2-7 0 11 2-7 1 2 0 3 1 3 3-7 0 10 1-13 0 9 2 3 1-11 1 12 2-9 2-1 0 3 3-8 0 2 0 12 1-10 2-3 0 6 2 1 0 4 1-6 1-6 1 10 1-3 0 8 1-4 2 4 2-6 1-8 0 11 2 1 2-3 0 3 1 2 3-7 2-2 2 9 2-14 1 7 1-8 1 8 2-6 0 7 0 2 2-11 1 8 3-6 0 6 4-1 0 8 1-11 1 6 1-6 0 10 2-3 1-11 1 5 3-1 1 3 1 3 0 5 2-15 0 13 1-7 0 4 2-4 1-2 0 9 2-11 0 2 2 5 2-2 2-1 2-4 1 3 4 5 1-6 2-3 0 3 2 0 1 20-1 5-1-10 0 6-2-2 0 6-2-3-2 1-1-3-2 6-1-10 0 7-2-1-3-9 0 5 0 9-2-6 0 6-1-9-2 3-1-3-1 2-1-3-1 6-1-8-1 12-1-6-1-9 0 7-2-5 0 2-1 7 0 2-1-8 0 3-2 5-1-9-2-1 0 3 0 5-1-2-3-3 0 8-2-4 0 4-1-8-4 7-3-2-3-5-3-4 0 6-2-2 0 5-1-7-1 3-2 2-3-4 0 7-2-6 0 3 0 5-1-11-1 9-1-5-1-6-2 0 0 9-1 4-1-12 0 3 0 2 0 3-2-1 0 2-1-5-1-2 0 4 0 3-1-10-2 14-1-14-2 12 0 2-1-13 0 6 0 2-2-4-1-3-3 0-1-2 0 9 0 2-2-6 0 2-3 0-1-3-2 0 0 7 0 3-2-7-2-2-1 7-1-13-1 3-2 0-2 8 0 2-2-5-2-7 0 5 0 3-2-4 0 8-2-10-1-2-1 4-2 21 1-2 2-6 0 12 1-7 1 7 1-6 1 5 1-6 1 7 1-12 1 13 1-5 0 3 2-11 0 12 1-10 1-2 0 9 0 2 1-5 1-6 1 8 0 3 1-9 1 8 1-8 0 10 1-6 1 7 2-15 0 15 1-12 0 7 2-1 0 5 1-14 1 4 1 6 0 2 1-11 2 3 1-3 1 5 3-1 5-3 0 2 1 2 0 4 1-8 2 0 0 2 1 5 1 6 1-4 1-4 1-4 0 12 2-14 0 5 1-3 0 6 1 5 1-12 2-2 1 2 1 7 0 4 1-9 2-4 0 9 1-7 1 12 2-12 0 2 0 2 3-1 1 5 1-9 0 4 0 2 1 5 4-6 0 3 1 3 2-1 0 2 0 2 1-9 2-2 0 8 2-1 0 2 1-6 1 3 1-8 0 2 1 4 4-1 0 2 0 5 1-2 3-6 0 8 2-5 0 6 1-3 1-10 1 2 2 2 2-5 0 5 0 3 2-1 0 7 2-10 0 2 0 4 0 3 2-7 1-4 0 2 2-1 0 3 0 6 2-12 0 7 0 2 2-7 1 3 0 2 1 3 1-9 0 12 1 2-1 7-1-5 0 2 0 5-2 1 0 4-1-11-1 6-2-1 0 4-1-9 0 2-1 5-3 1-1-2-1 2-1-3 0 6-1-2-1-3-1-5 0 3 0 6-1-13-1 3 0 2 0 6-1-2 0 6-1-13-1 2-1-2 0 6-2-3-1 5-2 0-1-6 0 4-1-2 0 6-1-2-1-6 0 2-1 8-1-8-2 1 0 2-2-5 0 9-2-12-1 9-3-2-2-8 0 12-2-12 0 5 0 10-2-15 0 6-2 4-2 1-2-5-2-6 0 8 0 2-1-8 0 4-3-6 0 7-1 7-1-10-1-4 0 6-4-5 0 11-2 0 0 3-3-11-1 10-1-5-1-2-1-2 0 9-1-5-2-4-1 10-2-13 0 10-1-8-2 1 0 2-2-6 0 14-1-9-3-2 0 3 0 5-2-5 0 5-2-4 0 3-1 3-1-11 0 4 0 4-1 2-1 2-1-14-1 5-1 2-1-4-1 6 0 2-1-8-1 5 0 2-1-10-1 4 0 6-1 4-1-6-1 4-1-10-1-3 0 9-1 2-1-2-1-8-1 5-3-1 0 3-2-8 0 3"/><path d="M1409 898l4 1 3 2 1-2 2-1 1 5 2-5 0 8 1-6 0 4 0 6 1-2 1-7 1 9 1-8 1 9 1-11 2 8 1-6 1-2 1-3 0 6 1-3 0 6 2 4 1-4 1-3 1-6 1 2 2 8 3 4 2-5 2-10 6 8 1 6 15-7 2-3 3 6 4-10 4 1 24 10 1-9 3 8 2-9 5 3 5 4 6-4 2-3-10 22-10 3-11-4-9 7-7-9-7 7-3 4-4-5-1 4-8-9 0 7-4-3-4 2-1 3-2-7-1-5-1 5-1-7-1 2-2 2 0 9-1-5-1 3-2-5 0 9-1-12 0 7-2-7 0 4-1 6-1-2 0 4-1-15 0 3 0 2-2 5 0 2-1-10-3 3-2-2-2 11-3-3 0 3-3-1-1-5-2-8-2 9 0 6-1-10-1 3 0 6-1-2-1-5-1-2 0 9-2-10 0 2 0 25 5-4 1-4 1-5 3 2 1-4 1 7 2-2 0 5 1-3 1 7 1-11 0 5 1 5 1-5 0 7 3-12 0 3 1 8 1-4 2-5 0 2 0 3 1 3 1-7 0 3 2-3 1-5 0 14 2-12 1 5 0 4 3-2 2-5 0 4 0 3 1-12 2 2 0 6 2-6 0 7 0 3 4-8 2 8 3 2 25-4 5-10 5 8 3-7 1 14 10-11 3 5 3-7 0 5 2 6 6-4 9-7 1 28-19-11-6 8-2-8-4 2-12-5-3 9-7 5-3-6-4-2-9 1-1-3 0 9-1-3 0 5-1-15 0 3-2 7 0 3-2-7 0 5-2-9 0 5-1 3 0 4-1-7-1-5-1 11-1-6-1-5-1 10-1-3-1-2 0 5-2-12 0 14-1-6 0 2-2-7-2-2-1 5-2-6 0 12-2-2-3-9 0 3 0 3-2-5 0 6 0 7-3-11-1 10-1-12 0 2-4-4-3 11 0 4-2-4-2-2 0 4-5 0 0 2-1-9 0 24 1-9 1 6 1-11 1 10 1-3 3-7 0 3 1 7 2-3 0 5 1-3 1-5 0 8 1-11 0 5 0 2 2-7 1 2 1 4 2-3 0 5 0 4 2-9 0 2 1 7 1-9 0 3 2 2 2-9 0 2 0 2 0 10 1-2 3-3 0 5 3-7 1 7 1-14 0 10 1-2 1-5 1 6 1-4 1-5 0 3 0 6 2-2 1 2 2-7 1 6 1-3 1-2 2 2 3 4 1-2 0 4 0 2 2-5 0 4 1-2 0 4 1-10 4 6 12-4 7-2 18 8 1-7 5-4 5 11 10-12 0 5 2 8 0 10-2 4-4 0-5-11-4 5-13 1-10-1-4 8-1-12-3 11-4-2-10-2-3-8-2 7 0 2-1 3-1 3-1-13-2 2-2 2 0 8-3 1-1-9 0 2-1-8-2 1 0 3-1 6 0 5-5-14 0 6-1 8-1-9-2-2 0 3-1-7 0 14-1-6 0 4-1-12 0 4 0 11-1-6-2 1-1-6-2 6 0 3-2-7 0 8-3-10-2-3-1 7-1-2-2-5 0 7-3-8-2 5 0 2 0 7-1-3-1-3-1-2 0 4-3 2-1-7 0 2-1-4 0 10-1-13-1 4 0 10 0 10 0 4 1-12 1 13 1-13 0 11 5-8 0 11 3 1 1-11 2 2 0 9 1-11 0 7 1-3 1-5 2-1 0 2 0 9 0 2 1-6 0 2 2-9 1 7 1-3 1 5 4-11 0 5 4 2 0 4 2-2 1-5 2 7 0 3 1-10 1-3 1 9 0 5 2-12 1 2 0 7 0 3 3-15 0 2 0 3 0 8 1-4 2-6 0 6 0 3 4-6 0 7 1-13 0 3 11 7 11 4 14-1 2-12 14 12 5 2 1-11 3 9 0 7-3 3-3 3-9-9-14 6-11 1-15 4-3-9-5 3-3-5-2 8-2-8-2 2 0 4-1 4 0 4-1-8-1 2-1-8-2 2-1 12-2-14 0 4-2 6-2-4-2-5 0 11-1-8 0 10-2-8-4 3 0 3-2-12-4 1 0 12-1-5-3-8-1 4 0 6-2-10 0 2-1 11-1-12-1 11-1-13-1 10-1-8-1 7-1-7 0 2 0 8-1-6"/><path d="M1540 911l1-2 1 2 2 0 1-10 0 6 2-7 1 5 0 3 3-9 0 9 0 2 1-7 1 4 1-2 1-5 0 3 2-2 2 1 5-6 4 8 21 4 1-8 0 2 1 4 1-2 0 7 2-4 1 4 1-3 2-12 0 13 0 2 1-4 24-3 14-8 2 1 0 7 2-6 0 4 1 5 1 4 1-7 0 5 3-1 1-2 1 5 3-1 1-8 1 6 7 2 1 5-3-1-1 2-2 7-2-10-3-1-3 4 0 2-2-3 0 7-1-2-1-7 0 3-1 3-2-1 0 7-2-1-3-6-16 9-2-1-3-7-3 8-4-1-1-2-2 1-3-1 0 2-2 0-1-13 0 3-3 2 0 6-2-11 0 3-1 4-2 0-1 4-35-2-3-9-1 4-2-1-1 7-1-6 0 8-2-8 0 8 0 2-1-12-1 5-1-7 0 9-2-3 4 16 1-2 0 4 3-9 0 8 1-6 3 7 3 1 1-7 3 4 2-3 0 3 0 2 1 2 1-9 0 7 1 2 1-5 1 4 1-5 1 6 1-5 1-2 2 8 1-9 2 3 3 2 3-4 0 9 2-10 0 7 0 2 0 3 2-9 0 8 1-10 0 5 1-8 0 10 3-11 1 2 0 2 3-3 6 0 0 4 3-3 2-2 5 3 3 0 0 2 3 0 1-3 1 2 2-1 1-2 3-1 1 6 6 3 2-3 0 2 1-7 2-1 0 7 1-3 2-1 1 3 1-6 1 15 3-14 0 8 0 3 0 2 7-10 2 7 3 1 5 17-1 2-1-10-2 2 0 2-1 3-3-11-1 3-1 11-1-10 0 7-2-5 0 6-3 1-1-3-2-2 0 4-4-5-1 6-2-6-6 6-14-4-4-6-22 4-1-6 0 3-3-1-1-4 0 15-1-12-1-2 0 6 0 2-39-4-7-1 0 6 5 8 3 13 29 0 2-4 0 4 1-6 4-1 2-2 1 6 1 2 1-12 1 4 3-4 1 2 0 3 2 1 0 4 1-2 2-6 0 3 2-5 0 11 1-7 0 5 3-8 1 3 1 3 1-3 1-3 1 3 1 8 1-6 0 3 2-4 4 4 4-5 0 5 2-4 4 2 0 2 1-6 1 3 0 4 3-8 1 5 1-5 2 1 3-3 2-2 0 3 2-1 0 5 4-5 0 6 2-3 1 4 0 2 1-7 1 8 2-10 0 4 1 2 2 23-2-7-1-6-1 6-1-8 0 13-1-8-2-2 0 2-1-5 0 13-2-9-3-2-20 0-1-2-1 7-1 2-1 4-1 2-1-15 0 2 0 2 0 4-1-2 0 9-2-9-1-4 0 12-1-4-1-9-19 8-5 3-1 3-2 0-1-6-2 0 0 2-2-3-1-2-1 4 0 4-1-8 0 2 0 4-1-11-1 13-2-4-3-2-1 3-2 1-1 2-1-5-3 2 0 4-8-1-4 1-11 2 2 10 4-11 3 9 1-5 1-3 1 6 2 7 1-13 1 6 1-2 1-3 1 4 2-3 2-1 1 2 1-3 3 0 2-1 3 0 2 0 7 4 5-1 1 4 3-6 0 7 1-2 2-4 0 5 1 5 1-2 2 0 1 5 1-13 0 7 1-5 0 7 0 2 1-7 2 2 0 3 2-6 0 2 0 5 1 2 3-14 0 7 2 2 5-3 0 2 0 7 2-8 2-2 2 3 3-2 3 2 0 6 3-12 1 8 0 4 5 0 1-2 2-1 1 4 2-3 2 3 2-8 0 7 1-3 1-4 0 2 2-2 0 6 2-2 1-10 0 3 1 8 2-7 2-3 3 4 1-2 1 5 1 2-17 7-4 0-1 5 0 2 0 2-2 3-1-11-1 11-2-13-1 10-2-11 0 3 0 3 0 3-2-8-2-1 0 13-1-8-3-4-2 0-6-1-10 6-2-5 0 10-1-8 0 4-1-6 0 12 0 2-1-10-1 3 0 5-4-7 0 9-1-14-2 6 0 6-7-13 0 13-18-10-14 6-1-4-1 4 0 6-1-4-3-4-1 6-1-3-1-9-2-1-1 6-5-5"/><path d="M1665 905l7 3 9-2 2 1 2-3 2-4 0 8 1-4-1 10 0 8-2-4 0 7-15-13 12 22 1 8 1-12 1 7-2 7 0 4-1 5-1 3-1 0-2-3-6 0-3 2-1-6-1 5-2 4 12 15 2-4 1-9 0 4-2 13 0 2-2 7-3 1 0 3-9 15 1-2 2-6 0 6 0 3 1 0 1-7 0 7 2-7 1 5 1-8-6 15 0 3-3 5 0 2"/><path d="M360 1103l3-6 0 4 5-5 3-3 2-2 2 6 4-6 0 22-26-7-1-1-4 4 0 1-3 2-3 3-5 3-1 1-16 13 1-2 4-2 5-6 0 4 14-6 2 6 2-5 0 9 2-4 0 9 3-11 0 10 2-2 3-4 1 7 1-9 3 8 1-11 0 8 1 2 3-2 0 2 5-13 1 5 0 7 1-5 3 4 3-8 0 3 0 5-2 5-7 0-1 7-4-3-1 3-1-2-1-3 0 5-2-6 0 12-1-10 0 2 0 2-1 5-1-9-2 4-1 3 0 5-1-11 0 9-1-13-1 7-1-4 0 10-1-6-1 2-1 3 0 3-6-4 0 4-3-3-6 1-6 1-6 1-6-14-2 14-1-9-1-2-1 6-1-1-1 1-1 3-1-4-1 2-2 2-2 0 0 1-3 1"/><path d="M503 1055l0 0-5 0-78 16 9 0 4-1 3-1 2 1 3-1 2 2 2-3 2-2 2 2 0 3 1-6 5-2 1 4 4-5 0 2 1 5 4-8 1 2 1-2 3-1 2 11 2-10 1 4 1-3 1-2 0 9 1-13 1 10 1-7 1 4 4-7 1 15 1-12 1 3 0 7 1-11 2 2 3-4 1 3 1 2 1-5 0 12 3 1 1 2 1-12 4-2 0 4 3 9 2-13 0 2 0 16 0 5 0 3-2-11 0 5 0 10-2-8-1-6 0 3 0 8-1-3-2 0-1-7 0 3-3-5 0 4 0 8 0 2-1-5-1-2-1 3-2 5-1-3-1-9 0 12-1-2-2-9-2 10-2-7 0 2-1-7-1 12-3-9 0 4-1-6-1 10-1-10-2 12-2-13 0 5 0 6-1-4-3-6 0 5-2-5-1 5-1-6-4 2-1 3 0 3-1 5-1-2-2 1-1-11-3 12-2-7 0 4-1-2 0 4-1-7-3 8-1-3-4-10 0 7 0 5-2-3-1-7 0 11-1-13-2-2 0 9-2 6-2-14 0 14-1-9-2-4-1-1 0 14-1-12 0 3-4-5 0 1 0 6-1 4-2-6 0 7-2-6-3-2-2 1-1 8-1-9 0 4 0 2-1-7 0 3 0 7-2-5 0 5-1-2-4-4 0 5-1-5-2 1-4 2 0 1-1 1-1 2-2-2-1 1-5 1 0 0 2 4 2 0 1 12 1-12 0 9 2-2 1-8 0 3 1 7 2-6 0 3 6-8 1 2 4-3 6 2 2 2 4-4 5 3 0 7 3-9 1 2 0 12 1-8 1 7 1-13 0 10 1-7 1 3 1-3 0 5 3-5 0 10 2-13 0 2 0 10 2-10 1 8 1-9 1 2 1-3 3 1 0 9 0 4 2-7 0 3 1-8 1 3 2-2 0 6 2 3 1-9 2 8 2-11 1 9 3-6 0 2 0 4 2-6 1-4 0 14 2-8 0 2 0 6 1-10 2 4 0 5 3-7 0 2 0 5 3 0 1-8 1 7 1-10 1 3 1-4 2 9 0 5 1-2 1-6 1 7 1-12 0 2 2-2 1 7 1-6 2-3 4 0 4 11 6 19-7 0-2-5-3-5-2 1-2 2-2-3-1 8-2-2-1 2-1-4-1 4-5-5-1-4-2 0-11 1 0 6-2-9 0 6-3 0 0 3-1 2-1-9 0 6-2-9 0 12-1-9-1 6-3 6-15-14-2-1-2 6-1-4-1 4-3-5 0 5 0 3-2 4-1 2-6-5-18 1-7-11 0 6-2 1-1-7 0 3 0 7-1 4-1-6 0 2-1-6 0 10-1-5-1-8 0 5-1-3-2 14 0 6 0 6 2-11 1 8 0 4 2-10 1 8 1-4 2 5 1-13 0 2 0 4 1 7 1-8 0 4 1-2 4 2 3 1 2 5 12 0 2-2 1-10 1 7 1-5 1-2 1 3 1-5 0 3 0 10 1-6 1 7 2-7 2-5 3-1 13 11 7-3 1-7 1-3 0 8 1 4 1-11 1 7 0 2 1-7 1 6 1-3 1-4 1 8 1-5 17 4 0 3 1 3 1-5 1-10 0 6 1-4 0 6 0 7 2-14 1 6 0 2 0 6 1-3 3-9 4 0 7 1 4-2 1-2 1 4-20 14-3-1-2 1-1 2-1 2-2-6 0 4 0 3-3-6-2 6-1-4-5 0 0 2 0 2-2 1-1-8-1 5-1 2-1-3-4-1-2-2 0 7-2-1-17 4-11 2-2-11-2 5-2-5-2 4-2 6-2-8 0 3-3-6-3 5 0 6-2-5-2-4-4 2"/><path d="M513 1055l0 2 0 2 3 6 0 6 1-15 0 7 1-5 2 1 0 5 0 6 2-14 2 2 1-2 5 2 5 2 1 0 4 1 2 1 2 3 1 2 1-6 0 2 0 1 0 7 6-3 2-5 2 2 1 5 4-5 2 2 7 0 1 3 6 1 42 15-3-1-3 0-2-3-7-2-3 1-4-1-4-4-2 0 0 8-4-6-1-5 0 1-1 5-2-5-1 2-3 3-1-7 0 3-1-2-19 6-4-7 0 5 0 7-4-7 0 3-2-4-2 7-9-3-2-2-15-2-2-3 0 6 0 2-3-6-2-3-1 30 1-10 1-4 1 6 3-4 0 2 2 11 2-5 1 2 1-3 1 3 2-1 0 2 1-4 2 5 3 0 4-10 6 3 0 8 2-8 0 8 1-3 1-9 2 6 1-3 1 2 3 3 22-6 7 6 3-10 0 14 1-11 0 8 2 3 1-9 0 3 1 4 2-4 30-8 4 0 2 8 1-5 3 2 0 3 2-3 0 0 3 2-13 10-1-2-2 2-2 8-2 3-2-5 0 3-4-1-1 3-2-5 0 3-3 0-1-2-1 5-3-12-2 6-3-1 0 3-1-9-1 12-1-5-1-6 0 8-6 0-1-3 0 6-2-8-2-4 0 3-1 2 0 3-1-6-1 7-3-9 0 5-2-3-1 2-2-1 0 7-1-4-4-2-1 10-2-12 0 10-1-3-1-2-2-3-1 9-1-11-1 3 0 6 0 2-1-4-1-9 0 13-1-10 0 4-1 5-2-13 0 6 0 8-2-11 0 5-1 2 0 2-2-9-1 4-1 8-2-11 0 8-1-2 0 4-1-9 0 2-1 7-2-13 0 9 0 5-1-10-2 7-2-7-2 6-1-5-1 9-1-11-2 1-1 9-3 0-6-1 3 8 1-5 3 4 1-2 2 5 2 7 4 1 1-4 2-4 0 6 1-12 2 3 1 2 6 3 1-2 1-4 0 7 0 2 0 3 1-15 0 5 2 1 0 4 2 0 0 4 3-13 5 8 1-2 4 4 2-3 27 3 2-4 1 8 2-14 1 2 0 12 1-4 1 4 1-11 2 4 1 3 0 4 2-10 0 2 4-2 1-3 1 5 2-4 2 0 4 8 2 1 1-7 2 4 3 2 4-8 1 8 1 2 6 6 0 3-2 0-2-4-2 3-1 3-2-7-1 2-1-3-3 1-2-1-8 6-18 5-1-8 0 6 0 4-2-2-1-6 0 9-1-4-2 0-2-1-2 2-2-5-1-3 0 10-1-3-1-5-1-2-1 3-1 7-1-7-1 4-1-2-1 7-1-3-3 0-2-9-2-1-2-2 0 8-1 5-2-12 0 2 0 4-1 4-1-11-2 6 0 9-1-3-1-12-1 6-3-5 0 6-1-4-1 6-1-9 0 15-1-10 0 4-1-9 0 11 0 2-1-11-1 2 0 5 0 5-2-14-2 9-2 4-2-11-1 12-1-12-1-2 0 8-1-6-3 7-1-6 0 2-1-5 0 12-3-2-1-3-8 5"/><path d="M642 1093l4 3 2 1 2 6 1-4 6 0 0 3 0 0 6 0 36 16-4-2-2 1-6-2-4-3-1-3-4 0-5 2-3-5-2-2-1 5-1-5-2 5-2-4-2 12-3-2-10 16 4 0 1 3 2 0 2-9 1 8 1-7 2-1 4 5 3-1 2-1 1 5 4 2 1-3 17 2 3-2 2-2 0 5 2-8 1 6 1-13 1 4 3 0 2-2 2 1 0 2 1-3 2 1 1 12 3-11 0 4 5-1 4 1 2 1 3 1 5 2 2 1 3 1 1 1 6-1 20 9-1 2-1-5-3 2 0 3-3 1 0 3-1-10-1 5 0 3-1-5-1-3-1 5-3-5 0 12-3-11-1-2 0 8-1-6-2 0-1-2-1 9-1-6 0 8-1-10-3 12-2 0-1-3-1-8 0 6-1 2-2 0-1 3-21 0-2-14-3-1 0 14-1-12-2-2 0 5 0 7-1-10 0 7-1-3 0 7-2 2-1-6-3-2-1 8-1-6-1 3-2-11-1 10-2-2-1-6-1-3-1 2 0 6-2 0-1-6-1-2-2 2 0 3-2-3-5-1-2 1-5-2-5 1-1 5-8-6 0 5-3-4-1 2-1 4-1-5 0 13"/><path d="M774 1024l5 2 4 2 2 3 3-5 0 6 4 3 1 1 4-9 1 12 9-12 8 0 8-1 9 10 5-8 13-3 9 1 3 12 1-11 1 6 2-8 2-1 2 5 2 5 1-10 0 6 8-6 0 2 2 10 2-8 3-4 0 2 6-2 0 15 0 8-4 4-4-3 0 4-4 2-6-1-3-1-1-6-3-5-3 13-12-3-5-3-2 3-8-5-21-1-2 10-3-4-3-1-2-4-2-1-6-5 18 19 20 12 1-12 3 12 5-6 2-7 5 8 3-7 8 1 5 3 1-6 5 9 4-7 1 6 3-8 1 6 0 4 2-8 1 6 6 20-2-13-9 14-4-11-12 7-8-6-14 0-4 4-12-4-4 3-1 4 16 18 8-9 14 5 3-6 8 9 12-2 6 3 4 4-33-1-72 47-3-3-5-1-4 0-1 1-1 3-1-7-1 5 0 2-2-7-3 1 0 4"/><path d="M898 1030l1 4 1-3 1-5 0 3 1 6 2-11 1 10 1-7 1 4 0 4 0 4 2-12 0 5 2-4 1-3 1 6 2-7 0 11 0 4 1-2 1-6 1 3 1-7 1 5 2-7 0 6 0 7 2-12 0 4 2-2 2-4 0 4 0 5 4-9 4 1 7 9 10 2 1-3 1-7 0 2 3 2 0 4 2-9 0 12 1-5 1-7 3 1 1 3 1-2 4 2 0 2 1 3 1-7 0 2 0 3 1-7 1 3 2 2 2 6 3 2 2-13 0 11 1-3 2 4 3-12 0 11 0 2 1-9 1-2 0 11 1-5 2-3 0 2 1 2 1 4 1-10 1 6 1-8 0 11 1-6 3 3 1-7 3 1 2-3 0 8 3-4 1-4 1 4 0 2 1 4 1-4 2-1 0 2 2-2 2 12-19 9-1-2 0 6-2-2-1-10-1-2 0 5 0 8-1-6-11 2-12 3-14 1-1-11 0 5-1-8 0 6-1-2 0 10-2-14 0 2 0 3 0 5 0 2-3-6-13 7-16-12-2 0-3-1 0 5-3-3-1 11-3-11-1 3-3 4-7 5-4 1-1 12 1-7 10 9 2-6 5 5 3-8 8 10 5-4 3-9 0 10 2-3 4 7 3-8 4 1 0 5 4-3 4-7 0 8 2-5 2 4 3 0 1-7 0 5 1 6 14-1 0 2 3-3 1 2 1-3 1-2 5 2 0 2 2-10 0 5 2-5 1-2 0 5 1 6 2-10 0 6 5-6 1 4 2-1 1-4 1 2 2 6 3-8 2 0 1 6 4 0 1-5 0 11 2 2 1-5 1-8 0 14 0 15-1-9-1 6-1-5 0 2-1 2-2-2-12 4-2-7-17-6-4 1-2 1-4-1-3-1 0 3-2-1 0 6 0 4-3-8-1 3 0 2-1-5-3-3 0 12-1-9-2-1-3 4 0 6-8-5-1 3-3-5-8 6-3-2-4-10-9 1-7 7-3 6-1-9-13 21 22-7 13 9 3-3 7 4 1-13 2 8 10 6 7-10 4 7 1-7 5 11 1-4 9-1 3 2 13 3 7-7 6 3 1 2 1-7 1-4 0 9 2-4 1 7 1-10 0 2 2 5 2 1 1 8-1 10-1-3-3 3-1-14 0 7 0 2-4-6-2 2-2-5-1 2-3 12-1-13-8 2 0 11-6-6-4 2-4 5-3-15 0 13-4-5-8 0-4-1-6 0-4-5-4 2-2 3-2 4-1-6-3 3-3-1 0 6-9-7-23 1-2 15 14 3 13-7 13 7 0 4 2-11 2 8 1-9 2 4 3 1 0 9 1-12 3 10 7 1 3 1 4-4 4-5 1-5 2 7 0 4 4-6 3 4 4-4 1 9 3-12 4-2 4 14 8-8 5-4 3 6 3-8 2 8 0 7-4 15-6-5-1-6-10 10-3-10-3-3 0 6-4-3-2 6-4 1-1-10-1 5-11 4-2-6-2 11-6-11-1 11-6-9 0 9-16-15 0 9"/><path d="M1024 1030l2-4 4-1 6 2 8-3 4 1 3 1 4 6 3-8 4 14 5-7 0 4 0 3 2 0 3-5 4 6 15-14 18 14 5-12 11 9 1-12 2 4 6 6 5 13-29-1-2-3-7 5-3-4-12 5-1 6-2-9-1 4-2 5-1-12 0 2 0 4 0 4-1-12-1 4-1-4 0 8-1-2-1-5-3-2-1 5 0 3-1 5-1-8-2 6-1-11 0 14-3 0-1-2-2-9 0 3-1 2 0 3-2 4-2-6-3 5-26 10 0 3 2-2 2 2 1-2 2 4 3-1 1-3 1-3 1 2 4 0 1-4 0 7 1-5 4-3 0 11 1-7 1-2 3 1 1 3 1-6 1-2 0 10 1 4 1-10 2-5 0 11 0 2 15-10 4-1 1 4 0 4 2-9 0 12 2-10 2-1 0 6 2-1 2-1 1 2 12 5 8-4 9 3 14-3 3-5 10-2 3 8-8 16-2-9-2 12-6-2-2-3 0 4-3 3-1-5-3-2-2-1-1 2-2 0-1-5-6 7-3-6 0 7-3-4-1-5 0 9-1 2-1-8 0 6-3-7 0 6-5-8 0 3 0 4-1 5-1-2-2-7-2 3-1 5-1-11 0 5-1-7 0 5 0 8-14-10-4 9-2-8-4 5 0 2-2-3-1-8-1 2 0 11-1-9 0 5-1-10 0 3-2 5 0 5-2-9-2 0-2-4-1 13-1-13 0 2-17-1-1 21 2 6 2-3 5 1 1 5 3-11 0 9 7-3 1 5 6-13 2 3 0 5 0 5 1-7 0 4 1-12 3 1 0 2 3-2 2-1 0 5 1 9 1-4 4-1 1-6 2 8 1-6 0 3 0 5 2-12 1 12 1-7 1-4 1 7 3-6 0 6 1-4 1-2 5 8 1 2 1-7 1-2 0 4 3-5 0 9 2-8 0 3 5 6 21-8 1 2 1 7 1-10 1-2 2 9 0 2 2-3 0 2 1-11 1 14 1-12 2 1 12 22 0 4-1-9-2-1 0 4-1 7-2-10-1 6-2-5-1 2-1-6-3 5-2-6 0 10-3 2-1-10 0 2-2 0 0 7-1-9 0 12-1-10 0 3 0 4-1-10-1 10 0 2-2-6-1-2 0 8-3 1-3-6-2 4-3-3-2-9 0 13-2-7-2-3 0 5 0 3 0 2-2-8-1-3 0 5-30 7-2-8-2 1 0 2 0 2-1-11-1 11-3-10-2 10-2-6 0 9-1-13 0 9-1-7 0 3-1 7-1-13 0 9-1-6 0 4-1 3 0 2-1-13-1 2 0 3 0 6-4 4-1-15 0 2 0 4 0 2-2-4 0 3-3 5-1-10 0 5-1 3 0 5-1-3-1-7-2 5 0 3-1-12 0 2-2-3-2 3-1 11-1-6 0 4-2 3-2-13 0 18 5-4 4 0 2 13 2-6 3-3 3 5 1-7 2 3 1-3 1 8 2-10 2 3 0 5 1-8 2 0 6 2 2-1 0 5 3-3 1-2 2 5 6 2 2-5 0 7 0 5 2-8 1 7 1-2 2 1 4 0 3 0 1-2 3-3 0 6 1-4 1-5 0 10 1-7 1 2 0 3 3-11 0 7 0 5 2-9 3-5 2 1 0 5 1-3 2-1 1 2 1-3 3 5 2 4 1-9 0 6 4 2 1 5 1-9 0 2 0 3 1-10 1 7 1 5 1-5 0 8 1-15 0 2 0 11 1-8 0 5 4-10 5 0 5 6 2-4 4 19 0 8-2-1-1 3-1-4-1-4-2-2-1 10-2-10-1 7-1-6 0 3-2-1-1-2-2-6 0 5-1 3 0 3 0 2 0 2-1-9-1-4-1 8-1-4-2-6 0 6-1-2-1 11-1-15 0 5-2 5-28-7-2 9-2-7 0 8 0 2-1-8 0 4-1-10-1 2 0 7 0 3-4-13 0 13-2-10 0 4-3-6 0 2-3-1-15 5-5 2-3-9-5 14-3-7-4-7-3 1-4 11-4 1"/><path d="M1154 1029l0 10 8-1 1-5 2-9 4 1 2 0 1 4 1 4 5 1 5-8 0 8 0 5 2-4 2-9 1 11 1-4 1 5 1-14 1 3 1-2 1 7 0 7 1-10 0 7 1-5 5 7 1-8 2-5 0 13 2-3 1-8 2-2 0 14 2-15 0 2 1 10 1-8 0 4 2-6 1 3 0 5 3-1 1-9 1 6 1-5 0 2 2 3 1-2 2 11 2-1 1-6 2-7 0 6 0 4 2-2 1-9 1 10 0 3 1-8 3 0 1-3 0 9 1-2 0 4 2-5 2 3 1-8 1 7 0 3 1-6 1 8 1-9 1 6 2 3 2-10 0 9 1-11 2 12 2-11 0 11 1-13 1 6 0 6 6-14 0 2 2 2 0 2 0 3 2-8 0 2 4 1 1 7 1 3-1 2-2 12-2-11-2 5-5-5-3-1 0 2-3 9-1-8-1 10-1-6-1-3-1 6-8-10-1 13-2-13 0 15-2-2 0 2-2-14 0 14-4-6 0 5-1-2-1-12 0 6 0 3-2 1-1-9-1 8 0 4-2-7 0 6 0 2-7-10 0 7-2 1-2-4-1 2-1 2-1-11-1 9-1-8-1 9-3-9 0 6-2-4-3-3 0 11-1-8-1-3 0 8 0 5-1-2-1-11 0 5-1 7-2-9-1 4-1-7-1 7-3-4-4 1-1 5-29-8 0 5-5 4 6 7 7 7 2 5 4-7 16 8 3-4 4-4 4-5 6 5 2 8 1-12 2 7 5-5 0 2 0 7 1-11 1-3 4 11 1-11 3 0 0 15 4-3 1-12 0 2 0 6 2-8 0 5 1-2 0 7 0 2 2-4 1-3 1 7 1-10 1-2 1 8 1-3 1 6 1-10 0 6 2 2 2-8 0 3 0 7 4-1 0 5 1-7 1-8 1 3 0 3 0 3 2 3 2 0 0 2 1-9 0 3 1 4 0 2 1-4 2-4 1-3 0 11 2-7 1-4 1 7 3-8 0 13 3-7 0 5 1-8 1-4 0 12 2-11 1 18-3 1-3 1-3 1-1-4-2-1-1 2-1 3-1-4-1-2-1 5-2-5-3 1-2 0 0 12-5 0-1-12-4 7 0 4-3-7-12 1-38-7-3 15-6-6-5-7-9 13-4-1-5-5-6 7 12 5 4 2 1 7 19-2 3-8 0 4 8 4 29 3 4-12 14 3 11 9 4-8 3 2 3 4 6-5 2-7 3 11-1 12-7-6-16 2-2 8-8 1-1-4-4-7-21-2-6 9-4 0-10-7-4 7-6 2-4-8-7 2 0 2-2-4 0 2-1 4-1 2-2-3-1 6-2-6-1 6-2-4-2 2-2-8 0 8-5 0-1-7 0 4-3 2-1-4 6 9 3 5 0 8 2 2 3-10 0 10 2-6 1-9 4 2 0 4 1 6 2-5 0 8 1-3 2 2 2-5 1 4 1-5 3 6 1-5 3-4 0 7 1-2 11 5 2-13 0 12 2 1 2 0 2-1 2 1 1-5 2-1 2 6 2-6 1 5 1-6 2-3 0 3 3-8 0 9 4-6 6 3 8 1 4-1 5 5 7 3 12 0 6-4 1 14-2-4-1 8-1-3-2 6-1-11-2 8 0 2-4-5-2-7-2 3 0 6-1-4-1-5 0 3 0 7-2-8-1 5-3-2-1-2-1 4-1-2-3 7-32-11-2 3-1 8-1-12 0 2-1 5-1-2-2-4 0 6-2-2 0 2-2-5-1 2-5-5-2 3 0 10-4-14-2 3-2-3-5 1 0 4-3-5-2 3-3 3-1-5 0 9-2-8-1 10-1-4-6-7 0 3 0 9-2-10 0 12-1-6-3-1-1-2 0 6-1-11-1 7-1-4-1-4-1 9"/><path d="M1281 1033l3 1 0 4 2 0 3-3 3-2 2-5 1 2 2 0 2-3 0 10 1-6 1 4 1-4 1 7 1-6 1-4 0 8 2-10 0 2 0 6 0 3 1 2 2-9 0 5 2-8 0 3 0 2 2-3 4 6 1 4 3-3 1 2 4-12 1-2 1 14 1-13 1 13 2-13 3 0 4 0 3 14 1-8 1 7 3 0 7-1 2 0 4-9 3-4 0 3 0 4 1-2 1 7 1-7 1 4 2-8 0 14 1-11 2 2 0 2 0 3 0 4 2-9 0 5 1 3 2-7 2-1 0 3 1 4 3-6 2-6 0 11 1-8 0 6 1-3 1 3 0 2 2-8 1 3 0 3 2 2 1-3 1-4 1-3 1-2 0 5 1 3 5-8 0 9 2-6 0 2 1-4 0 10-1 7 0 2-1 7-1 2-1-8-2-2 0 5 0 5-2-3-2-1-2-2 0 5 0 3-2-5 0 5-2-6 0 2-4-7 0 6-4-1-1-9-4 13-2-4 0 6-1-15-1 6-3 1 0 3-2 1-2 0 0 3-4-9-3-2 0 2-1 2-1-2-1-3-2 1 0 3-1-6 0 14-3-13 0 2-3-2-1 10-1-8 0 6-5-5-1 5-2-7 0 6-3 0-1-7 0 2-1 3 0 7 0 2-1-4-1 3-1-10-2 6-1-10 0 4 0 2 0 7-4-12 0 6-2-6 0 3-1 3 0 5-1-11-2 9-1-6 0 10-1-6 0 2-1 4-1-13 0 6 0 4-1-8 0 11-1-14-1 6-1 9-1-12 0 3-2 8-1-9-1 9-3-13 0 3-3-1 0 3-4-5-1 2-4-1-2 5-1-4-1-3-1 2-1 12-1-4-1-8-1 2 0 12 1 2 0 2 0 7 0 4 3-10 0 2 1-7 1 3 0 8 1-2 0 4 1-8 1 5 1-2 2 5 1 2 5-1 1-7 1-2 2 3 1-4 0 2 0 5 2-5 2-1 1 4 0 2 2-9 0 12 2-5 1-5 0 3 2 8 3-6 2-3 0 7 4-13 0 5 0 3 0 2 3-9 1 11 3-2 1-9 2 10 0 4 1-9 1 3 1-8 0 4 1 5 1 4 1-5 0 3 2-8 0 10 1-7 0 3 5-3 0 3 1 4 1-4 0 2 1-10 0 13 2-5 1 2 2-11 0 7 1 3 0 4 3-9 1 5 1-4 1-6 1 14 1-11 0 4 0 4 3-3 2-9 1 7 1 2 0 3 2-7 1 7 1-6 1-5 0 2 1 8 2-6 0 10 3-1 1-14 0 3 0 3 1 4 1-3 1 2 1 5 4-5 1-3 1-3 1 6 1-6 2 1 0 3 0 2 8-3 1-4-3 26-5-6-4 2-17 6-3-14 0 2-2 0-1-2-2 1-4 1 0 3-3-3 0 4-2-1-3-4 0 3-6 2-2 2-2-8 0 8-2-4-1-2-2 4-2 7-1-13-3 0 0 5-1 4-2-6 0 3 0 2-2-7-1 2-2 5-1-4-1 7-1-11-2 8-5 6-1-13 0 6-4-4-2 4-1-7-3 6-2-5 0 6-2-6 0 4-1 2-1-6-1 2-1 2 0 5-1-2-1-8-1 5-1 3-1 3-2-1-1-6 0 10-4-11-6 7-1-5-1 11 7 2 9 7 3-5 11 2 4-6 9 0 2 10 5-4 8 5 3-5 11-1 13 6 2 4 10-12 2 6 6-9 1 4 11 5 4 1 6-10-9 25-5-8-7 10-32-1-5-9-5 12-3-6-28 3-19 0-10-1-2 3 2 16 1-8 7 9 5-8 6-2 7-1 18 9 5-9 3 11 5-9 0 10 8 1 4-7 5-1 1 5 3-2 1-7 6 9 25 3 5-15 4 10 3 19-3-13-1 10-1 4-5-13 0 7 0 4-2-5 0 4 0 2-1-10-1 3 0 4 0 3-3-9-1-2-2 11-2 2-23-6-8-2-10 0-4-3-9 11-2-2-6 0-1 2-1-7-1 2 0 4-2-5-2-1-1 7-1-4-14-10-12 8-3 4-1-5-1 7-1-4"/><path d="M1408 1033l2 4 2-1 1-3 1-9 2 13 3-3 0 3 1-6 3-5 3 0 0 8 3-7 0 3 2 4 0 2 1-12 0 8 3 5 1-8 2-1 0 5 2-7 0 2 0 9 2-9 0 3 3-5 2-2 2 3 3 2 2 3 15 6 9-5 4-4 3 6 4 1 1-8 3 5 4-3 4 8 9-12 5 7 6-1 5 6 3-13 0 6 6-7-3 29-12-2-3-9-4 4-4-4-16 1-5 7-1-9-6 4-10-4-3 6-1 8-2-10-4-1-4 7-21-9-2 0-2 2-3 3-1-6 0 4 0 4-4-2-2-3-1-2 0 4 0 9-1-6-1-8-2 8-1-5-1 2 0 4 0 3-1-12-1 13-2-14-1 6 0 5-2-7 1 17 2-5 1 2 3 2 0 10 8-1 20-7 8-6 11 8 4 5 8-3 12-10 4 0 5 13 9-6 3 7 2-11 6-1 0 8 5 0 7 3 2 2 3 0 2-6 0 3 1 4 0 5 0 2-1 7-1-4-2 1 0 3-1-10-1 11-1-14 0 5-2-3 0 6-2-4-3-3-2-1-3 0 0 12-5-13-5 2-15 8-19-10-7 13-8-13 0 12-5-10-4 12-4-8-2 4-1-7-4 0-5-3 0 7 0 7-12-12 0 4-4 4-6-7-2 7 11 16 4-1 11-7 0 8 6-3 4 3 7-10 10 9 4 0 5-9 1 5 5 9 7-8 2-6 0 14 2-5 0 2 2 1 0 2 1-13 30 14 2-6 0 2 0 4 3-13 1 4 3 2 1-2 2-4 1 8 1-10 0 18-7 1-1-3-1 6-1-3-4-1 0 7 0 4-1-8-1 2 0 4 0 3-2-8-1-3 0 7-1 4-1-6 0 3-2-3 0 7-4-12 0 9-3 1-3-3-3 4-1-3-1-3-1-4-2-1 0 6-2 0-1-9 0 4-2-1-4 1-20-2-7 3-1 7-2-3-6 6-3-8-5-7-6 11-15-4-8-3 12 19 6-5 17 0 3 0 1-2 1 6 0 2 1-6 0 9 1-7 0 2 1 9 1-15 0 5 0 4 1-2 1-3 0 9 23 2 8-3 2-2 3 1 2 1 2-12 2 1 0 3 1 8 1-12 0 14 1-4 0 2 2-4 0 3 3 0 1-5 1-6 0 11 1 3 1-4 0 2 1-10 3 8 1-10 0 3 0 4 3-1 0 5 0 4 2-3 0 2 4 0 2-4 0 3 7 2 0 5 0 4 0 6-1-3-2-9-1 9 0 2-1-8-1 3-2 4-5-12-7 11-5-11 0 3 0 9-2-12 0 3 0 4 0 3-3-2-1-7-2-1 0 8-1-6-1 13-2-2-4-2-3-6 0 2-1-6-1 2-1 11-1-13-1 2-1 4 0 6-2-3-1-6 0 8-2 2-1-10-2 11-3-14 0 14-1-8-2-4 0 7-1 2 0 3-1-6-3-6-2 9-2 3-3-15 0 6 0 9-1-12-2 9-2-5 0 7-1-5-1-5 0 2-1 4-4 5-1-2-3 0-34-13"/><path d="M1552 1027l2 2 0 6 1-11 1 2 0 6 0 4 3-5 0 6 2-11 0 6 0 3 4 1 3 2 1-13 19 8 0 6 3 0 1-3 1-11 1 8 4-7 0 2 0 8 2-3 2 1 0 5 1-8 1 4 3 1 2-12 0 10 0 3 4-4 0 3 1 3 1-3 1-2 2-1 2 0 2 1 0 3 1-9 1 3 1 5 2-11 1 2 0 8 2-7 0 2 1 4 0 2 2-6 1-6 1 9 1 6 1-11 0 6 1 3 2-8 1 6 1-6 0 2 0 6 2-3 1-3 0 6 3-2 4-1 1 4 4-3 2-7 0 6 3-5 1-5-6 16-2 3 0 4-2-2 0 5-1-2 0 2-1 4-1-14-1 8-2 5-1-2-1 4-4-14-1 12-1-12-1 9-1-9-1 11 0 2-1-12 0 8-2-6-1 7-2-11-1 4 0 10-2-12 0 11-1-9-1-4 0 6-2-5 0 8-1 5-2-10-1 5-2-3 0 4-2-6-1 3 0 8-2-2-1-3-1-2-4 0 0 4-1-8-3-2 0 4-3-1-1 2 0 4-1-11-1 7-3-3-1 10-6-13-4-1 0 3 0 3-2 0 0 6 0 2-2-12-1 3 0 3 0 3-2-8-1 4 0 2-1 2-1-7-2 0 0 5-1 4-1-7-1 2-1 5-1-13 0 4-1 10-1-8-1-4-1 3-2 3 0 7-2-11-4 2 0 8-1-5-2-9-3 15-1-2-7-2-3 13 1-3 0 10 3-10 0 3 0 6 1-13 1 9 1-10 0 7 2 6 3-3 1-5 0 2 1 6 1-9 0 11 1-13 2 1 3 11 1-6 1-3 1-2 3 7 2-4 0 6 1 3 1-5 1-4 0 6 2-9 2 3 0 3 0 4 3-7 0 6 2-12 0 7 1 7 1-12 0 2 1 8 1 3 8-15 6 10 10-5 1 10 1-14 0 2 1 2 0 3 1-8 0 11 0 4 1-2 1-9 3 5 0 3 1-6 1 2 0 6 2-3 0 2 1 2 1-10 0 4 2 0 2-7 0 12 1-6 0 2 1-8 0 11 1-9 3 2 3 8 3-6 0 5 1-2 4-10 0 14 2-5 0 3 1-10 1 0 0 6 1-1 2-6 1-1 2 0-12 19-3 3-1-5 0 5-2 5-16-11-2 2-2-2 0 4-1 5 0 5-1-9-1 9-1-14 0 5-1 6-2-1-1-9-1 7 0 3 0 3-2-15-3 15-14 0-1-2-1-2-1-2-2 3-1-11-2-1-2 5 0 5-1 5-1-13-1 9 0 2-1-5-1-6-1 4 0 4-1-10-1 8-1-6 0 9-1 4-1-11 0 9-1-4-1-9-3 5 0 5-2-10 0 5 0 7-1-10 0 8-1 4-1-13 0 4-2-3-1 5-2-3-3-3-1 7 0 5-2-4-1-3-1-3 0 6 0 3-1 2-1-12 0 2 0 7-2-8 0 9 0 11 1-4 2 0 0 5 1-3 3-3 1-2 1 2 1 2 1 8 2-2 2-1 2-3 1 7 0 2 1-11 0 6 2 4 1-12 2 1 1 7 0 3 1-7 0 2 0 7 4-7 1-5 1 7 2 5 2-10 1 3 3 0 2 5 3 0 1-6 1-6 0 4 0 7 0 2 2-12 0 7 0 3 2-5 2 7 1-14 0 3 2 5 0 2 0 3 2-3 1-5 0 3 0 6 2-9 1 5 1 4 1-3 1-11 0 3 2 3 0 5 2-7 3-3 0 11 7 2 2-4 3-1 3-3 3-3 2-3-14 20-3 0-1 4-2-8 0 2 0 3 0 8-2-11 0 2 0 2 0 8-1-5-3-4-5-5-5 1-9 5-20 2-2-5 0 11-1-13-2 11-1-12 0 2-3 4-1 8-17 7 0 9 4-3 0 4 2-8 1 4 2-3 1 4 1-8 6 10 1-9 1 2 2-4 2-1 1 3 1-4 2 5 0 2 0 4 2 2 2-12 20 13 6-1 3-3 4-1 1-2 2-3-15 11-2 1-2 2-4 2-2 0-2 2 0 0-2-1-4 3-1-7 0 7 0 2-3 1 0 0-2-7-1 9-1-13 0 5-1-2-9 4-6-8-4 2-3 6-1-6 0 9-2-6-1 6"/><path d="M252 1228l2-3 1-1 0 1-5 9-3 4 0 5-1-5 0 0-1 2-1 4-1-4-4 5 0 0-14 16 1-1 1-2 5-4 2-4 3-2 2 3 2 4 3-6 1 6 1-2 2 8 2-1 2-6 1 3 0 2 1 9-1 10-1-2-1-11-2 3-1-3 0 6 0 2 0 2-1-7 0 11-1-7-1 6-2-6-2 3-18-5-2 2-2 6-1-5-3 6"/><path d="M285 1166l3-4 1 0 4-4 2-4 6 10 4-11 0 2 0 2 2-2 4 8 2 4 2-2 2-12 1 5 0 6 1-3 0 5 1-11 1 2 1 8 1-12 1 11 2-7 1 2 2-6 0 3 1 4 1-6 0 2 2 3 0 2 2-9 0 10 3-6 0 3 0 4 0 2 1-11 1 8 1-8 1 11 2 2 1-8 1-2 0 7 1-10 1 8 1-4 2-4 2 4 0 7 1-11 1 5 0 2 0 3 3-11 0 8 1 2 1-9 1 8 1-10 0 5 1-2 0 5 3-3 4 5 4-4 9 22-2-7-7 3-3-3-5 8-5 0-3-11-13 9-2-6-1-3-3-2-6 1 0 6-1-4-2-1 0 7-1 5-1-14-1 4 0 7-2-6-1 9-2-8-2 2 0 2-2-4 0 4-1 5-1-5-1-9 0 3 0 9-2-4-1-5-2 11-30-14 0 4-4 1-3 5 0 1-1 2-6 11 1 4 1 1 1-9 0 2 1-5 0 3 0 4 0 2 1-4 1 2 0 5 2-7 2-2 2-5 1 5 0 5 0 3 2-3 3 4 1-3 1 2 1-5 2 6 1-10 0 4 2 1 3-1 2-4 0 6 0 5 4 0 5-6 1-5 2 5 0 3 1-6 0 8 1-10 1 3 1 5 1-11 0 3 1 3 3-1 4-1 2-4 3 12 2-6 7 2 28-2 4 2 14 2-10 15-20-8-9 10-9-9-2 10-5-5-2 7-10-14-6 9-1-8-4 1 0 5-2-4-2-2-1 8-2-5-1 6-2-4-1 7-1-5-1 2-1-6-1 10-1-10 0 4 0 3-1 3-1-3-1-8-1 4-2-5 0 9-4-6-1 3-2 6-1-14-1 14-2-12 0 9-3-1-1-2-1-4-1 5-1-9 0 7-1 3 0 2-1 0-2-4-2 10 2-3 0 5 0 4 4-7 0 3 3 4 1 4 1-8 4 4 2-5 2-2 0 8 1 4 1-9 0 2 4-5 0 7 2 4 0 2 2-7 3-3 0 3 2-1 3-2 5 6 5-3 7 0 5-5 1 9 6-2 3-7 1 12 10-15 0 14 1-9 13 6 7 2 1-9 2-3 8 4 2 3 1 6 2 0 5-12 2 7 1 12 0 4-2-2-4-6 0 2 0 5 0 4 0 3-2-5-2 4-1-11 0 5 0 2-3-10-4 3-2 9-3 3-2-9 0 6-1-3-2-2 0 6-5 0-3-8 0 5-3-2-6 7-6-7-2-5-13 1-8 1-7-2 0 9-9-2-9-9-7 5-5 6-16 17 0 2 2-1 4-9 22 0 19 2 1-7 6 9 3-8 1 14 8-6 10 2 7 4 4-6 1-5 0 3 1 2 1-3 0 6 1 3 1-15 0 10 3-5 0 10 1-12 0 5 1 2 2-2 0 7 1-15 1 7 1 4 1-5 1-2 0 10 1-4 1-2 0 7 2-9 0 8 1-5 1-4 1 4 0 5 2-6 2-8 0 6 0 7 1-2 1-8 1 7 1-10 2 8 0 5 1-10 0 3 1 4 1-9 0 4 2-2 0 12 1-9 0 18 0 7-3-4 0 3-2 0-3-3-2 2-3-2-1 3-1-3-1 2-1-9-3 4 0 4-3-2 0 3-3-12-5 2 0 11-2-11-1 6-1 3 0 2-2-10 0 5-2 1-1-10 0 15-1-13-3 3-1-2-1 6-1 6-2-12-1 4-2 4 0 2-7-1-2-11-16-1 0 8-4-7-5 10-4 2-8-12-3 8-2-9-18 5-1 7 0 2-3-8-1-3 0 7-1-2 0 6"/><path d="M394 1163l8 1 6-9 13 0 5 5 1-6 4 2 4 3 4 7 4-11 0 4 7-5 2 9 6-7 2 9 3-9 3 3 8-2 12 6 1-7 3 8 19 9-5 7-6-7 0 4-1-9-13 12-3-10 0 7-5-4-2 8-5-2-8-10-7 12-14-7-28 8-5-6-9-7-2 8-12-6 0 14 5-1 19 5 27 2 2-3 5-2 7-2 12 6 0 6 1-10 16 1 5 11 2-9 13-1 9 24-1-11-4 4-4 6-5-3-2 5-12 2-14-9-11-4-14-1-2 8 0 4-9-8 0 7-8-7-13 3-21 5-3 3 1 6 1 6 6-3 2-2 1 5 2 0 1-6 0 3 2 2 1-8 3 5 1-4 1 4 1-4 0 11 2-12 1 6 0 6 2-10 0 3 2 5 1-4 1-6 2 7 1-4 2-3 0 6 1-8 0 6 4 5 2-10 0 7 1 3 1-7 0 5 1-7 1 2 0 7 1-4 2 2 1 2 0 3 1-12 1-2 2 4 0 8 1-10 2 2 1 3 1 2 1-9 2 4 0 3 0 4 1-10 1 5 0 4 1 2 2-1 1-3 0 6 2-12 3 2 0 3 4 6 2-7 1 4 1-10 1 2 0 6 1-8 0 6 1 5 2-4 1 5 1-10 0 3 2 2 0 5 2-7 1 4 1-3 0 7 1-11 2 10 1-9 0 5 2 3 2-11 2 5 0 6 0 3 3-7 2-2 0 2 0 5 7 1 1-2 1-5 1 2 0 2 1-4 3-2 0 5 0 2 1 16-1-7 0 2 0 3-2-3 0 6-1 2-1-11-1 4-2 5-2-9-1 4 0 2-1-5 0 8-2-8 0 7-3 2-1-9-3 0 0 2-2-6 0 7-1 3-3 1-1-2-2-8 0 9-1-7 0 10-1-12-2-2 0 4 0 11-1-7 0 4-1-10 0 8-1-4-3 2-1-8 0 4-1 6 0 5-1-14-1 8-1-8 0 2 0 9-3-9-2 3-2-4 0 2 0 6-1-10-1 3 0 8-2-6-6-4 0 5-2-3 0 2-2-5-4 8-2-7-1 6-2-6-2 1 0 6-2-2-2-3-4-3-3 1-1 6 0 2-2-8-1 5-1 2-2-2 0 3-2 0-2-8-1 3-1 2 0 5-1-7-1-3 0 5 0 3 0 2-1-8 0 10-1-8-1-4 0 9-2-9 0 5-1 8-2-13-2 9-1-10-1 7 0 4-1-2-1 2-2 1-1-9 0 2 0 2-2-5 0 5 0 7-2-14-1 5-1 11 1 10 0 4 3-11 0 9 3-12 0 10 0 5 1-8 1 8 2-15 0 5 2-5 1 5 0 5 0 4 3-8 2 4 2-5 2-5 0 3 0 5 2-5 1 10 1-5 1-7 0 2 0 3 1 5 2 0 1-3 0 6 1-10 1 3 1 4 1-4 1 4 1-6 1-2 0 5 0 4 4-8 1 10 1-11 2 5 3 7 2-11 0 4 1 3 3 3 1-8 1 7 1-4 1-5 0 2 0 5 1 4 1-10 0 8 2 2 2-8 1 6 2-10 0 6 0 2 1-5 1-3 1 4 0 6 5-5 3-1 0 2 3-3 3 0 0 2 0 6 1-4 1-10 3 6 0 4 1-9 0 14 1-12 1-3 1 4 1-2 0 5 0 4 0 2 3-2 1-7 4 7 4-10 2 14 3-6 3 3 2-12 0 11 1 4 6-15 1 13 1 16-1-12 0 6 0 3-2-6 0 7-1-4 0 6 0 2-1-13 0 8-1-10 0 5-2 0 0 9-3-12-2 12-1-12 0 9-2-10 0 14-1-12-2 7 0 4-2-1-2-12 0 8-4-6 0 9-1-12 0 7 0 8-1-6-1 4-1-8-1-3 0 8-3-1-1-8-1 3 0 7-1-4-1-7-1 13-1-10 0 8-1-3-1-5 0 2-1 6-2-4-1 5-1-8-1 2-1 4-2-10 0 4-1 3-2-7 0 11-2-1 0 3-1-11 0 4-1-2 0 4 0 3 0 2-1-7-2-4-1 4 0 7 0 2-3-14-1 4-2 1-1-4 0 9-2-6 0 2-1 2 0 3-3-9 0 9-1-2-1 2-1-5-1 4-3-7-1-4 0 2 0 8 0 5-1-10-1 4-1-2-1-4 0 2-1 10-1-9 0 7-1-5 0 7-2-15 0 10-5-9 0 6 0 6-4-9 0 2-1 5 0 2-1-9 0 2 0 3 0 6-1-14-1 4 0 5 0 3-1-10-1 2 0 2 0 2-1 4-1-7-2 1-1-5-1-2 0 10-2-8 0 7-2-4 0 10-1-12 0 10-2-6-2 1 0 6-1-12-1 8-1-7 0 2 0 3-1 2"/><path d="M518 1166l8-14 9 15 2-15 2 2 3-1 6 4 4 2 3 4 2-8 0 5 2 1 1-4 1 4 1-2 1-6 1 6 2-4 0 7 2-6 21-4 0 2 4 7 1-7 0 2 1 11 3-1 1-3 2 2 1 2 3-6 25 5 7 1 2-11 0 2-3 12 0 13-2-11-2 1-1 4-1-2-1-7 0 9-2 3-2-1-1-5-1 4-1-6 0 10-2-9-2 5-11 1 0 3-2-3-1-7 0 9-3 0-2-10-2-2-1 2-2 3-10 6-3 2-6-14-2 8 0 5-9-5-3 5-1-13-13 15-4 0-10-9-15 17 2-7 7 10 20 1 2-8 2 9 5-9 1 4 18-5 10 11 5 2 8-11 5 1 15 3 2-4 5 9 6 8-4 5-8-3-4-3-3 4-3-3-1 5-6 2-4 3-9-8-4 4-10-8-1 9-5-12-2 13-2-6-8 0-7-5-5 4-4-5-1 11-20 3-4-1-4 11 0 2 2 1 2 3 3-8 2 6 3 1 1-2 1 2 2-4 0 4 7-1 4-8 6 9 10-9 5 3 18-3 1 4 9-9 3 2 14 6 7 0 0 5 6-13 7 2 10 8 0 17-4-7-6 6-6-1-4 6-2-10-4-1-11 8-1-10-4 13-1-6-2-4-4 2-17 7-5 1-2-1-4-2-1-8-6 4 0 2-3-1 0 6-3-5 0 5-1-13 0 5-2 3 0 2 0 2-1-9-1 7-1-12 0 15-2-6 0 4-1-9-4 7-5-10 0 13-2-4 0 3-1 2-1-10 0 3-1-6-1 4 0 3-1 4-1-9-1 9-1-5 0 2 0 5-2-3 0 2-3 12 2 2 5-8 2-4 3 5 1-3 4 3 1-5 0 8 2-5 0 3 3-3 0 5 2-8 0 10 1-5 4-1 0 7 1-2 3-4 0 6 2 1 3-8 0 4 0 3 2-6 2 10 3-15 0 6 2-5 1 5 2-2 1-3 0 7 2-1 0 7 2-14 0 2 1 7 0 3 2-1 0 4 4-5 1-2 1 3 0 4 3-3 2-5 0 6 1-4 2-6 1 10 2-12 7 4 2-5 1 10 8-5 6 8 3-4 8 3 3-2 6-10 1 7 0 4-3 18-12 2-7-2-9-4 0 6-2-3-2-9 0 5-1-7-1 4 0 4 0 5-1-12 0 5-2-4-2 8 0 2-1-11 0 7-3-8 0 3-1 9-2-1-1-11 0 5-2 9-1-5-1-6 0 3-2 1 0 6-3-2 0 2-1-12-1 13-1-4-2-2 0 2-1-7 0 11-1-2-1-4-5-9-1 2-3 0-2 2-3-4-7 12-2 0-1-11 0 13-3-4-1 3-1-6-1 2 0 2-4 1 0 2-4-10 0 8-1-6 0 3-1 6-2-5 0 2-1-8-3 3-2 1-1-4 0 9-1-6-1-2 0 5-1-10 0 12-1-3"/><path d="M640 1163l2 2 1-6 2 4 1-2 3 6 34 0 2-1 2-10 0 4 0 2 1-4 1 4 0 4 1-12 0 4 1 4 2-9 2 12 3-12 0 2 2 1 2 1 1 3 3 3 1-10 0 2 0 10 2-5 0 3 1-10 1 13 1-6 2-4 5 3 1 8 2-7 2 2 1-8 1-2 3 3 0 5 1-2 0 7 1-5 2-3 2 2 1 5 5-2 3-9 0 12 1-7 0 2 1-5 0 8 2-11 0 3 0 7 0 3 2-8 0 9 2-8 0 3 2-5 0 11 3-4 0 3 2-12 1 10 1-9 3 3 1-5 0 8 0 3 2 4-1 6-1-3 0 9-1 2-2-5 0 3-2-5 0 3-1-5-2-5-2 10-1 2-1-3-3-5 0 4-1-6-1 8-2-8 0 8-2-10 0 2 0 7 0 3 0 3-2-15-2 7-2-7 0 6 0 5-2-2 0 2-4 1-1-9-1 11-1-9 0 3-1-6-1 10-1-12 0 14-1-8-1-6 0 8 0 7-2-1-1-12-10 10-19-11-7 0 0 14-2-10 0 6-1-9 0 6-1 3-1 3-1-13 0 10-2 3-2-2-2-3-1 3-1-2-3 0-1-4 0 7-3-6 0 4-3-1-2-3-1-4-1-3-2 7 0 6-2-11 0 3-2-5-2 5-4-2 21 13 1 13 1-13 0 15 1-2 1-4 1-3 1-5 2-1 0 6 1 2 1-7 1 3 0 10 1-3 1-10 1 3 0 5 2 0 0 5 2-11 0 3 0 2 3 4 2 3 2-2 12-13 5 7 3-4 0 9 3-2 0 2 1 2 2-9 1 9 1-10 0 7 1-2 0 5 2-14 0 3 1 5 1 2 1-6 2-4 0 4 2 1 5-5 6 0 12 2 2-2 2 5 3 5 1-8 1 4 0 6 2-8 2 5 1-7 1 16-1 6-1 2-2-8 0 12-2-5-3 0-2 3-4 3-3-1-10-8-15 3-3-8 0 10-2-3 0 6-2-14 0 3 0 5-1 4-2 0 0 2-2-8 0 7-2-11 0 5-3-5 0 3-2-5-1 4-1-2 0 6-2-7-2 2 0 9-4-7 0 9-3-1-2-11-2 0 0 7 0 4-2-10 0 2 0 8-1-2-1-10-1 6 0 2-1-8 0 12-1-5-1-8 0 12-3-5-1 5 0 3-3-8-2-6-2 0-3 4 0 6 0 3-2 0-1-4-2-8 0 3-1 6-1-9-2 4 0 6-2 2-1-8-2 7-3-9-4 18 13-4 4 0 2 7 2-5 0 5 1-2 2 1 1 2 1 2 1-4 0 2 2 1 1 3 2-9 2-2 1 3 3-4 0 6 1-8 1 12 1-9 1 12 1-13 0 3 1 6 1-10 0 6 1 2 2-8 0 5 0 4 2-2 1-3 1-2 0 9 2-2 2-6 1-2 16-2 0 3 3 1 1 8 2-11 3 0 0 10 1-2 1-8 1 3 0 5 0 5 1-12 0 10 3-1 4-5 2-1 0 4 3-3 0 3 2-8 0 7 0 5 1-7 1 6 1-4 2-4 0 3 0 5 1-3 2 0 1 6 2-10 1-5 0 2 0 9 1-3 1-6 2-2 0 8 0 3 2-11 0 2 0 7 1 6 1-9 1 2 0 2 0 2 1-8-1 14 0 5 0 4-4-3 0 3-2 0-3-10 0 14-1-2-1-8-1-4 0 2-1 4 0 6-1-9-2 8-2-10 0 11-1-4 0 6-2-11 0 8-1-12-1 7-1-4-1 12-1-11 0 3 0 4-2-9 0 11-1-8-1-5 0 11-2 2-1-11 0 2-1 3-1 4-1-5 0 3 0 5-2-3-4 3-1-2-26-11-1 6-4 1-2-7-2 5 0 2-3 5-2-6-5-5-3 12-7-7-2 6-4-4-3 2-2-4 0 8-4-6-5-9-7 7 0 23 9-14 5 15 4-10 14-3 1 7 12-7 4 10 4-4 3-8 17 8 0 3 2-6 2 3 1-5 2 8 1-6 1 3 2-8 0 2 0 5 2 6 2-8 0 3 1-7 1 4 0 8 1-11 0 8 4-2 1-7 0 4 2-4 0 8 0 2 1-5 0 7 1-9 3 4 1 4 1-2 1-5 0 8 1-12 1 2 1 4 0 3 0 2 0 3 2-10 1-2 0 12 2-13 0 8 0 3 3-12 0 3 2-2 1 6 0 4 1-9 2-2 1 5 0 5 0 2 0 2 1-11 1-2 0 12-1 16-1-9 0 4-3-2 0 5-2 1-2 0-3-5 0 3-1-9-4 7-2-4-4-3-1-2-2 6-1-6-1 4 0 3-3-7-1 2-7 7-3 5-1-5-4-6-5 1-10 2 0 5-13-8-3 10-6-2-9 3-13-8-5 2-2 3-9-10-2 14"/><path d="M771 1152l0 2 0 6 1 6 2-13 2 7 0 5 2-4 0 6 2-8 1-7 1 8 4-8 0 2 1 2 1-3 1 2 2 1 2 2 1-6 5 0 0 4 1 3 1-5 0 1 4 3 1 3 1-7 3 0 0 4 6 2 6 0 1 1 6 3 1 2 4-1 6 2 26 14-5-2-2-1-4-1-4-3-1 4-1-3-1-3-5-1 0 5-1-6-1 0-1 4-3 8-23-9-3 7-4-6-1 2-6 0-1-2-2-4-2 12-4-7-6-6-11-1 0 2-4 5-1 3-1 18 2 3 26-9 0 3 0 5 1-10 0 8 1-6 0 8 1-4 0 2 1-5 1 2 2-4 0 6 2-5 3-4 1 4 2-2 1 2 1-3 1 3 0 5 2-6 0 4 1 3 1-8 1-3 1 3 0 4 0 6 2-3 0 2 1-11 0 5 1-3 2 0 0 11 3-4 3-1 1-9 1 2 0 3 1 5 1-5 3-6 0 5 0 3 0 5 2-3 0 3 2-10 0 8 0 3 2-9 25-5 2 0 4 14 1-12 2 1 3 3 2 6 1-5 1 3 0 2 0 3 1-7 1 1 1 0 5 2-12 8-4 9-2-3 0 3-2 0 0 3-1-7-3 1 0 3-2 3-1-4 0 2-2 2-2-11 0 6-2-3-2 3-1 2-1-4-1-3 0 9-2-11 0 10-1-7 0 4-2 2-1-9-1-2-1 13-1-10 0 5-1-8-2 3-2-1 0 6-1-9-3 1 0 3 0 5-2-3-1-4-1 5 0 5-1-3-1-7 0 11-1-3-2-6-1-4-1 8 0 4-1-8-2 10-16-8-6 3-11-6-2 3-1-5-1 9-2-10 0 3-3-3-4 4-2-4-2 7 0 5-3-2-2-5 0 5-1 2 1 5 3 2 0 8 2-10 1 2 2 9 1-12 0 6 1-3 0 6 0 4 2-13 0 3 3 1 0 11 1-9 0 4 1-8 0 12 5-5 3 3 1 2 2-9 0 9 16-1 6-2 3-7 0 7 1 3 1-2 1-12 0 7 1 2 2-6 1 10 1-11 2-2 0 3 29-2 2 11 1-11 4 1 1 8 0 3 1-6 1-6 0 2 3 0 0 6 2 6 1-2 12-11 5 1 1 20-2-7 0 3-1 9-3-6-2-3-2 0-1 5 0 2-1-6-3-4-1 8-1-8 0 2 0 2-2 7-1-8 0 4-1 4 0 2-1-9-1 8-1-11-2 0 0 2 0 11-2-6-9 6-6 0-4 1-1-9-2 5-1 3-5-2-4-3-2 4-1-10 0 2 0 6-2-7 0 7-1-11 0 13-1-3-2-10 0 10-2-9-1 2 0 2-1-5-4 4 0 8-2-7-1 2-3-5-6-2-2 4-1-3-3 5-1-6-3 6-1 6-2-10 0 5 0 7-1-2-2-11 0 5-2 7-1-13 0 9-1-4-1 2-1 2-2-7 0 6 0 2-1 4-2-13 0 12-1-8-1 4-1-7-2 0 0 6-2-8 0 10-2-10 0 14-2 14 1-6 1-2 0 8 1-5 1-3 1-2 1-2 2 2 3-2 1 4 1 10 1-8 2 3 0 3 1-11 0 5 2-4 0 4 1-6 0 9 1 6 1-13 0 2 0 2 0 2 1 4 1-11 1 12 1-4 1 4 2-3 31 2 3-1 1 3 2-13 1 9 2-4 0 4 2-2 0 7 2-9 0 5 2-1 1-7 4 5 5-6 0 2 1 2 2-3 0 3 1-6 2 3 7 4 1-2 0 8 0 2 2-11 0 10 2-3 1-7 1 5 1-3 0 5 2-1 1-2 1 2 17-10-2 25 0 6-2-4 0 4-1-2-2-4-4 0-1 6-1-7 0 2-3-1-1-4 0 2-2-7-4 8-2-6 0 4 0 5-16 3-10-13-6 2-1 9-1-9 0 6-2-9 0 6 0 9-1-12-1 2 0 7-1-2-1-4-2 9-1-5-1-3-1-5-2 8-1 2-2-1-7 4-2-3-2 3-4-5-4-9-1 14-1-15-1 2 0 8-3-1-2-8 0 3-1 4-4-3-4-5-16 6"/><path d="M973 1167l1-15 7 8 8-1 9-4 5 12 8-8 7-1 1 9 2-3-4 6-11 0-2 3-12 6-1-11-22 2-73 26 3 0 7 2 109-13-82 29-1-3 0 1-2-2 0 3-2-3 0 4-3-7 0 4-1-2-1-4 0 8-4-5-1-6 0 2-1 6-1-3-3-3 0 2-1 3 0 2 0 2-1-8-1-4 0 9-14-10 12 30 1-10 0 3 1 4 2-4 4 2 1-7 0 5 0 5 1-7 2 5 1 3 1-7 2 5 2 2 1-5 1-7 0 5 2 4 1-8 2-2 0 15 1-13 2 0 0 2 0 9 2-9 0 7 5 0 2-4 0 8 2-7 0 3 1 2 2 0 2-1 15 8-11 11-1-11-4 9-1-13 0 9-1 6-1-5-1-3 0 6-2-11-1 8-2-5 0 7-1-11-2 1-1 2 0 7-1 3-2-14-2 8-2-8 0 11-1 4-5-9 0 2 0 6-1-2-1-7 0 3-1 3-1-11 0 6 0 7-2-3-1-10 0 3-2-3 0 5-1-2-1 3 0 3-1-9-1 7 0 2-1-8-2 7 0 2-1-8-4-1 0 4-2-2 0 3-4-6 0 14 11 16 1-2 2 0 1 2 1-8 1-2 0 5 1-2 1-2 0 10 1-4 3 2 1-7 0 3 7-4 2 1 1-4 0 6 2-4 0 3 1-7 1 9 1-9 1 4 0 11 1-5 3 3 1-11 2 3 2-1 3 4 26-6 5 3 1-5 6 12 14-2 17 18-13-2-2 4-5-12-2 9-6 1-1-8-1 8-2 0-1-4-2 2-1-9-2 9-1 2-2-1-1-7-1 8-1-3-3 4-1-3-4-4-1 6-5 2-4-6 0 7-1-9-1 3 0 4-1-6-2 1 0 3-2-11 0 13-1-9-1 3-1 6-1-6-1-4-4-1-28-1 0 2 0 5-2-5 0 12-3-10-1-5-1 2 0 3-2-1 0 11-2-7 0 3-2-2-2 2-1 4-1-6"/><path d="M1027 1166l2-10 4 4 6-8 7 12 2-11 2 7 5 3 2-3 3 4 1-4 5 5 1-4 5-5 10 8 3 3 1-13 0 10 6-10 1 7 8 5 16-9 1 9 4-6 0 5 2 0 1-2 1-8 2-3 0 14 2-11 0 3 1 6 1-3 1-6 0 4 2-6 2-1 1 3 1-2 2 1 4-2 5 24-6 0-2 4-2-5-2 3-1 3-2-6-2 5-4-5-1-4 0 12-1-14-1 6-3-2 0 8-2-10-3-1-2 5-6 4-5 1-1-10-1 7-10 3-1-3-2 5-11-4-5-8-4-1-3 4-1-4-6 13-4-12-1 11-10-12-3 2-9 4 10 18 20 2 8-11 2 4 2 6 4-8 4 7 1-5 15 11 12-2 8-2 3-8 1 6 4 6 5-14 4 9 3-5 6 1 3 1 0 8 2 9-1 4-4-2-10-9-5 9-3-2-4-7-1 6-2 3-5-4-9 5-9-2-3-7-19 8 25 9 23 7 10-10-76 56-9-1-11-5-4 10-8-6"/><path d="M1163 1164l2-12 0 6 0 4 0 2 2-12 0 5 1 6 2-5 0 9 4-11 0 3 1 8 2-15 0 8 1 7 3 0 2-1 19-3 2 4 1-7 3 5 1-9 2 4 1 5 1-6 1-5 1 11 1-5 1 7 12-13 7 13 6-4 3-1 0 5 2-11 1 5 1-7 2 2 3-3 0 3 13 10 1-3 1-6 3 0 0 10 1-14 1 13 1-8 2 2 0 2 1 3 1-4 0 19-1-3 0 5-1-9 0 7-1-12-2 4 0 6 0 3-2-4-3-7 0 6-1 7-13-3-8-6-2 8-2-12-2-1 0 8 0 3-1-7-2 3-2 4-1-6 0 2-1 2-1 2-1 3-2-2-1-4-1 4-3 0-4-4-2 3-1 2-1-10 0 3 0 4-1-10-1 3-1-4-1 12-1-6 0 3-1-6 0 11-1-3-1-6-1 10-1-15-1 15-1-11 0 5-2-2-2 3-2-9 0 2-2 9-1-2-1-8 0 2-2-2 0 3-3-2-1 8-2 4-1-14-1 5 0 5-2-6-2 4-2-4 0 4-8-5-3-1 0 2-5-4-2-1-2 6-1 3-1-6-3-2-1 11-1-4 6 10 7 12 10-3 3-4 0 4 1-9 1 6 1-6 0 9 1-7 0 3 2-7 0 2 0 10 8 0 9-1 2-5 2 9 1-9 2-1 0 3 0 4 2-12 0 2 0 4 0 6 2-8 0 8 1-5 0 2 3-2 0 4 2-11 1 4 1-2 13 12 5-11 0 2 3-3 2 5 0 8 1-11 1-4 3 5 0 10 2-10 0 6 2-1 0 5 1-10 0 2 1 6 1-3 2 3 1-6 0 3 3-2 2 3 1-6 0 2 1 5 1-3 3-4 1 6 0 2 2-12 0 4 0 3 2 4 1-6 1 2 2-1 1-5-13 14-7 1-4 0 0 3-3 3 0 2-1-6-1 7-1-2-1-7 0 13-1-7-1 2 0 6-1-3-1 2-28-6-2-4-3-1 0 3-2 8-2-11-1 4 0 2-1 3-1-8 0 2-1 2 0 2-12 2-2-4-2 3-3-4-2-6 0 12-1-7-5 6-5 2-4 1-3-13 0 6-4 5-2-12 25 18 1 9 2-10 1 13 2-14 0 8 6 5 10-14 2 7 2 6 3-12 11 10 2-3 11-8 3 11 0 4 2-9 0 6 2-7 0 3 1-7 0 14 2-7 1-7 1 13 1-11 2-3 0 9 0 3 14-12 12 30-13 1-10-1-2-8-3 8-1-14-1 5-4 6-10-3-19-5-9 0-1 6-4-1 0 5-4-3-3-4-2 4-15-8 6 15 32 10 2-9 4-1 1 11 4-10 0 9 1 3 3-4 4-4 5 3 4 2 4-6 2 10 6 0 7-15 5 5 4-4 4 9 4 10-1-4-2 5-14 2-10 6-1-9-11 11-6-10-5 4-6 1"/><path d="M1280 1153l0 13 1-10 0 8 2-10 0 6 7-8 25 5 0 10 1-15 0 10 1-6 2 0 1 6 2-2 2-8 0 9 0 3 0 2 2-12 0 4 1 8 1-12 1 8 3-9 0 10 1-4 1-5 0 8 2-6 0 3 4-2 2 4 4 4 2-9 1 5 0 5 3-9 0 7 1-10 1 11 2 2 1-4 3 0 1-4 3 3 2 5 2-6 2 0 2 2 0 2 2-7 0 2 0 5 2 1 3-8 0 5 1-3 2 0 0 4 3-2 1-9 2 7 1-4 2 0 2-1 6-3 2 3-20 15 0 2-2-3-1 7-1-7-1 5 0 5-3-2 0 3-3-1 0 4-2-14 0 3-3-1-2-1 0 12-1-14-1 2 0 2-10-3-27-1 0 3-2 3 0 3-1-8-4 4 0 3 0 5-2 2-1-11 0 7 0 2-29 2-2-6-1 5-2-11 0 21 1 4 2 3 1-8 0 6 2-8 0 5 1 3 3-5 0 7 1-15 3 2 2 13 4-8 0 3 0 5 2-8 0 3 0 3 2-1 1-8 0 6 2-5 2 9 1-9 0 2 0 4 2 1 1-10 1 7 0 3 2-5 0 3 1-9 0 2 2 1 0 5 2-7 1 2 1-4 0 7 1-4 2 1 1 6 2-4 0 2 2 0 0 5 2-6 0 4 2 0 0 3 3 0 6-1 3 1 5-1 2-5 10 1 2-4 0 3 1 7 1-3 1-9 0 3 0 9 2-2 2-1 2-1 1-2 0 5 2-7 1-7 0 9 4 1 24 8-3 11-1-5 0 7-1-9-1 2-1 5-5-2-1-4-2-1 0 3-2 6-1-11-1 2-1-4-1 13-1-14-2-1 0 2 0 13-3-1-2-11 0 11-6-5-11-8-2 2-3-3-6 0 0 4-2 0-1-4-2 0 0 7 0 3-1-5-2-4 0 8-3 6-1-5-1-6 0 10-1-3-1-11 0 3-1 2-1-5-5 1-3-1-1 5-5-3-18 2-2-1 0 4-2-5 0 9-1-2-2-9-1 9-1-8-2 7 0 3-1-9-1-2 0 9-3-4 0 12 3 14 1-13 0 4 1-2 1 6 1-8 2 1 0 2 0 6 1 3 1-11 2-1 6 9 9 4 3-1 2-2 3-1 0 2 2-2 2 3 5-9 1 4 3-6 1 11 1-13 0 6 1-2 2-4 1 7 1-8 0 6 2-5 0 4 1 2 0 3 2-6 0 9 2-13 1 4 1 6 1 4 2-3 0 4 20-1 3-5 2-6 0 11 2-12 0 13 1-9 1 6 1-9 0 2 1 8 1-10 1 3 1-4 1 7 1-5 0 2 0 8 2-13 0 10 2-9 0 3 2 8 0 2 1-7 1 4 2 1 1-12 1 14 0 0 2-11 0 4 2 0 2-8 0 11-9 5-2 2-2-2-2 0-4 0-2 1 0 1-2 1-2 2-2 0 0 1-2-6-1 2 0 4-3-2-3 2 0 1-2-5 0 5 0 1-5 0-1-4 0 5-2 0-2 0-2-6 0 7-1 0-1-3 0 2-2 2-5 1 0 1-21-12-4 0-2 1 0 3-4-2-1 4-1-5 0 9-1-5-2 3-2 1 0 2-3-10 0 3-2 4 0 3-3-12 0 6-2 2-2 7-2-8-2 8-1-15-1 2-4 1 0 2-2 2-1 2-4 5 1 13 3-11 4 8 0 4 5-11 1 7 2-3 1-4 3 7 1-4 0 9 4-10 1 9 1-2 3 0 5-3 2 2 7-3 3-1 1-2 5 1 3-3 6 1"/><path d="M1410 1153l1 5 1 8 2-8 1-3 0 5 3-1 0 4 3-6 3 5 2 0 1-2 1 2 4 5 2-7 1 4 2-8 0 6 2-8 0 2 1 2 2-6 0 3 2-2 2 0 1 7 10-4 3-3 0 12 5-9 1 7 1-10 0 5 1-2 1 3 3-3 1-3 1 7 0 4 2-6 0 8 1-2 1-12 1 4 0 6 0 4 2-3 1-5 1-5 0 2 2 2 1-5 1 12 2-4 0 2 6-8 0 7 1-3 1 6 1-3 1-5 1 11 1-15 1 2 0 12 2-9 1-5 0 8 1-6 0 4 2 4 18 4 6-3 0 3 1-13 0 7 1-2 0 8-11 2-1 2-7 3-4 2-1-1-1-6-1 5 0 2-2 5-1-5 0 3-1 2-3-11-2 4-1 5 0 3-1-12-1 14-2-15 0 10-2 4-2-2-1-4-5-7-2 4-3-4-4 10-1-11-1 6-5-2 0 2-35-2 0 3-3-3-1-2-1 12-1-6-1-6 0 2 0 11 1 6 1-3 0 8 1-4 1-6 0 15 1-8 1-2 5 9 29-9 0 9 2-2 5 0 2-1 2-2 4-4 1-3 2 2 1-3 4 1 5-1-33 17-5-2-1 5-5 1-1 0-5 6-2-8-3 8-1 1-1-3 0 5 0 0-1-3-2-10 0 12-3-13-1 4-1 6-1-4-3-2 0 10-3-6-4 1-1 3-2-5-1-2 0 8-1-3-3-6 0 6-2 11 0 4 2 0 0 3 3-8 1 4 1 0 1-1 0 1 2-1 3-5 0 1 0 1 0 1 1-5 4 1 2 1 1-2 0 1 4-2"/><path d="M1536 1163l0 1 1-4 2-3 2-2 0 2 1 4 5-4 2-2 0 3 5-5 2 0 84 122"/><path d="M211 1289l2-4 0 5 1 0 1 4 2-10 0 10 3 0 3-8 1 4 4-4 0 9 1-6 1 3 0 3 4-1 1-2 1-11 1 6 0 3 1 5 1-14 0 5 0 2 3 2 2-7 1 12 1-11 1-3 2 12 1 2 1-12 1 5 0 2 0 3 2-8 1 18-1 4-1 2-1-6 0 4-3-3 0 5-2-9-1-3 0 10-2-5 0 3-1-9-3 10-2-8 0 3 0 9-2-8 0 3 0 3 0 3-1-14-3 6-1-2-2 7 0 3-2-11 0 5-1 3-19-11-1 1-1 4 0 3-2 2-8 19 4-11 1 6 1-7 0 6 0 7 4-10 1-3 0 9 2-5 0 3 5 1 0 4 3 1 4-4 5-6 5-1 0 2 0 5 2-11 1 5 1 7 1-3 1-8 1 6 0 5 1-10 1 9 2-6 1 3 0 2 0 5 2-7 1-8 1 3 0 7 1-3 1-4 0 9 2-9 0 9 1-12 0 7 1 4 3-9 0 26-3-6-1 6-2-12 0 9 0 4-1-11-2 6-1-2-1-2 0 11-1-14 0 11-1-3-1-7 0 4-1 3 0 2 0 2-2-4-1-9-3 10-1-7 0 5 0 7-3-6-1 4-1-8-3 10-2-14 0 4 0 2-5 1-2 5-3-8 0 6 0 2-2-2 0 4-1-2-5 2-4-13 0 10-2-9 0 2-1-5 0 12-1-6 0 4 0 0-1-7 0 11-2-1-1 1-1-4-2 13 1 3 1-7 0 10 2-12 1 3 0 7 3-5 1 8 3-1 1-8 1 2 1 2 0 5 1-2 2-12 0 5 0 9 2-5 0 5 1-13 0 4 1 10 1-14 0 3 1 3 0 6 1-13 1 15 1-6 1-8 2 6 1-2 1 7 0 2 2-11 0 8 1-5 1-4 0 12 1-9 2-4 1 12 2 0 1-10 0 7 2-9 0 10 0 3 1-11 0 2 2 6 0 2 2-4 2-8 0 7 1 5 1-10 2 3 1-4 0 8 0 5 2-7 1 5 1-8 4 14-3 2 0 8-4-12 0 6-2 4-2-1 0 2-3-6-2-5 0 6 0 4-2-1-1-7-1 6-2-5-1-4 0 8-2-3-2-4 0 5 0 2 0 6-2-1-1-5-3-7-1 3-1 5-3-4 0 4-1 4-1-6-1-2-1 3 0 4-1-10-1 9-2-11 0 14-1-11 0 3 0 2-2-5 0 10-1-5-2 0 0 4-1-6-1-3-2 4-1 2 0 2-3-11-1 6-1-5-1 10-2-11 0 7-1 6-1-12 0 11-2 2-2 5 0 8 1-6 0 5 8-9 2 8 4 4 2-6 0 4 3 1 0 2 1-12 2 7 0 5 2-11 1 11 1-13 4 1 4-1 2 0 16 9 15-9 3 29-1-10-3 7-6-10 0 8-3 3-1-5 0 8-5-1-5-2 0 3-1-14-4 13-7-6 0 7-2-2-2-4 0 3-1-8-1 4-1-7-1 7 0 4-2-10-3-2-2 2-2 1-18 1-1-3 0 10 0 2"/><path d="M256 1281l1 2 1 6 0 5 2-6 1-6 0 4 3 3 3 5 6 0 9-4 8-3 8-3 11 11 11-14 5 10 2-2 0 6 2-4 1-7 2 11 1-14 0 12 3-11 0 6 0 6 1-8 1-3 1 6 1-2 0 4 0 4 2-4 0 4 1-13 1 9 0 3 1-13 0 6 2 3 0 5 1-14 1 7 2-8 2 6 9-4 4 3 1 3 1-8 2 4 0 8 1-6 1-6 1 8 1-3 0 7 1-3 1-9 0 7 0 7 1-10 1 9 1-12 0 2 0 6 1 2 1-10 0 12 1-6 1-5 0 17 0 5-2-5 0 6-3-5 0 2 0 7-1-11-1 4 0 8-1-4-1-4-1-2-1 5-2-9 0 14-1-11-1-2-2 4-2 1 0 6-1-11 0 9-1-2-1-2 0 5 0 3-2 0-3-7 0 2 0 3-1 2-1-11-1 8-2 3-1-6 0 3-1-9-2 8-1-7 0 5-2 6-1-4-2-5-1 4-1 2-2 3-1-4-3-6-1 7-4-6-2 5-3 0-5 3-1-13-12 5-2 5-3-2-9 3-10-6-3-3-6 12-2-13-6 13-2-6-5 5-1-9 1 18 11-1 9 10 6-14 7 13 6-4 1-4 5 5 2-9 5 0 3 11 4-4 2-4 0 2 1 2 2 2 1 3 1-8 3 7 1-7 0 3 2-1 2 5 0 2 1-9 2 6 2 1 1-9 1-3 2 2 0 2 1-5 1 6 2-2 0 2 0 4 7-9 9 8 1-8 0 4 1 6 1-9 3 6 3 3 0 3 1-14 1 5 0 10 1-12 0 4 1 4 1-9 0 4 1-2 0 6 1-8 0 13 1-4 1-6 2-5 0 10 0 2 3-7 0 17-1-6-1 12-1-7-1-2-3 10-2-11 0 9-2 3-3-10 0 7-2-4-1-4 0 2-1 4-1-5 0 8 0 2-1-4-1-2-1-8 0 5-1-2-1 9-1-12-1 14-1-8-3 6-2-4-1 3-2 0-1-5-1-3 0 8-1-4 0 6-2-13 0 3 0 11-1-9-1-3 0 9-1 2-2-13 0 4 0 10-1-3-2-6-1 5-1 2-2-10 0 3-1 6-1 2-1-4-2-7-1 8-2-3 0 5-3-5 0 8-4-13 0 12-2-6-15 3-3 2-5-3-1-5-2 8-3-12-20 12-9-13 4 16 4 7 15 3 15-10 8 10 5-5 0 5 8-9 1 12 4-4 0 2 1-10 2 6 1-2 0 4 0 4 2-12 0 5 1 9 3-11 0 5 0 3 4-11 0 2 0 4 1 4 1-3 1 2 0 3 0 2 2-15 0 2 2 12 1-14 0 2 1 6 1-7 0 2 0 8 0 2 1-8 0 4 1-2 1-5 0 11 1-8 1 3 3-6 0 3 0 2 0 4 3-7 1-3 4 7 1 6 2-7 0 2 0 2 1-11 1 5 0 3 1 3 0 3 1-6 1 5 1-9 1 10 1-12 0 6 3-3 2-1 0 2 0 8 2 0 2-6 1-7 1 6 1 12 0 4-2-1 0 4-1-8-1 4 0 8-2-13 0 7-2-8 0 4 0 7 0 4-1-7-2 3-2-6-2 0 0 4 0 3-1-11 0 13-5-1-2-5-1-3-1-3 0 5 0 2 0 2-2-8-1 3-1 5-1-3-1 4-1-5-1 8-1-8-1 5-1-11 0 14-1-12-1-3-2 8-1-8-1 3 0 8-2-4 0 3-2-4 0 9-1-14 0 12-1-3 0 5-1-10-1-3 0 8-1 3-2-2-2-7 0 6-3-5 0 7-1-10 0 6 0 7-1-2-1-9-5 2-1-4 0 9-2-9 0 12-2-6-5 6-1-5-15 1-7-2-12-3-7 2-9 16 3 7 6-3 2-8 6 1 2 6 7-9 0 8 11-2 10 8 9-11 3 6 2-8 0 7 0 6 2-5 2-7 0 10 3 0 0 2 1-14 1 14 1-2 1-10 0 3 1 7 1-7 2 2 0 4 0 2 1-13 0 9 2-6 1 11 1-6 1 2 1-9 0 6 1-3 1-5 1 3 1-2 0 6 0 6 1-9 1 6 2 4 1-9 0 6 1-3 2-2 1-4 1 7 2-6 1-3 0 8 4-7 0 11 2-10 0 7 1-2 1-7 0 13 1-9 1 7 0 2 1-7 0 3 2-6 0 9 2-4 3-4 2 0 0 4 1 6 1-5 2-1 1-5 0 7 1-2 0 5 1-13 0 3 0 20-2-3-2-4-1 7-2 1 0 2-2-8-1-2-1 2 0 12-1-8-2-1 0 3-1-5-1-3-2 3 0 12-1-9-1-4-2-2 0 6 0 5-7 4-4-13-2 6-1-6 0 3 0 8-4-12 0 8-2-9 0 7-1-2 0 6-1-4-1-7-1 5 0 2 0 3-2-3 0 6-3-5-1-2-1-6-2 4-3-1 0 3 0 7-2-8 0 5 0 5-1-7-1 4-1-12-1 3-2 1 0 5-6 6-2-8-2-3-5 6-4-1-10 3-1-6-1-6-4 10-4-6 0 8-11-11"/><path d="M386 1291l2 1 0 3 1-7 2-1 0 8 1-6 1-7 1 4 1 2 1-7 0 3 2 0 0 5 0 3 1-11 1 6 0 3 1-7 0 9 1-12 1 7 1-7 1 14 1-9 1 4 0 4 1-8 1 4 2-8 0 4 1 3 1-5 4-3 0 10 2-3 0 5 1-11 1 4 0 9 1-11 0 4 0 3 0 2 2-6 1-2 1 7 1 4 1-14 0 5 0 3 1 3 1-10 1 13 1-8 1-5 1 13 2-6 0 3 0 3 2-9 1-2 0 4 1 6 1-6 1 2 1-9 1 5 0 6 0 3 1-15 1 6 3-5 1 3 2-2 0 10 1 3 3-14 1 3 1-4 1 7 0 8 2-14 0 8 3-5 2 0 2-2 0 5 1-3 1 2 1-5 1 5 4-6 0 4 1-2 1 8 3-9 1 5 4-6 3 1 0 6 1 3 1-3 3-4 1 10 3 0 2 2 2-8 0 2 2-9 0 3 0 9 3-3 1-3 1-2 0 10 2-11 0 6 0 12 0 2 0 4-2-9 0 11-2-11 0 10-1 2-2-14-1 6-1-5 0 8 0 2-2-8 0 4-1 5-2-11-1 3 0 10-1-4-2 4-1-5-1-2-4-7-1 5-1-5 0 7 0 2 0 5-2-2-1-7-2-1 0 11-1-7-1-5-1 9-2 3-1-10 0 8-1-6-1 3 0 5-2-4-1 2-2 0-1-8 0 4 0 2-1-10-2 5-1-6 0 13-1-9-3 0 0 7 0 2-2-13 0 11-1 3-1-13-2 5 0 4-1-10 0 13-2 0-1-5-1-5 0 9-3-10-1 6 0 3-2-10 0 12-1-10-3 6-1 5-1-8 0 3-1-6-1 5-3 2-1-8-1 2-1 4 0 6-1-9-1 5 0 4-1-9-1-4 0 14-2-9 0 2-1-6 0 13-1-15-1 12-3 2-4 0-4 1-2-14 0 13-4-10 0 3 0 6-1-13-1 11-3-3-3-6-2 8-1 3-2-12-1 8 0 2-1-5-2-5 0 12 0 14 0 3 4-10 0 2 2-4 0 13 1-4 2-6 1 2 0 8 2-15 0 2 0 3 2 0 0 4 0 5 2-11 0 9 2-10 0 7 0 4 1-2 1 3 3-13 0 7 0 4 1-6 3 2 0 5 1-2 1-8 0 2 1-5 1 3 0 11 2-8 1-6 0 13 1-8 1-4 4 0 0 14 1-12 1 5 1-7 0 12 0 2 3-1 3-4 3-5 2 9 1-8 0 2 3-4 0 3 2 4 1-5 2-5 3 1 0 3 2 4 3 5 1-3 1 2 1-4 3-2 0 2 1 5 3-7 1 7 1-9 5 1 1 7 2-12 0 5 0 8 1-6 1-6 1 5 1 4 0 3 1-5 2-3 0 9 1-13 2-1 4 2 5 2 1-3 0 7 3-7 0 9 0 2 2-6 0 3 0 5 2-14 0 9 2-6 1 5 2 2 1-10 2 6 1 13-1 4-3 0-1 6-2-14 0 9-1 4-1-13 0 2 0 3 0 6-2-2-1-2-2-2 0 3-4-2-1-5 0 13-1-11-1 11-1-5-1 6-1-2-1-5 0 7-1-4-1 4-3-8-1 4 0 4-2-11 0 6-1-9 0 6-1 3-1-10 0 8-2-6 0 8-4-2-1 6-1-13-1 13-1-8-1 3 0 5-1-8-1-5 0 7-2-4-3-3-2 4-1-4-1 5-1-4-1 8-2 3-1-8 0 4-2 3-1-10-1 6 0 4 0 3-1-5-1-8-2 2-1-3-1 3 0 3-3-6-2 2 0 4 0 4-2-7-1 11-1-13-3 8-1-3-1-4-4-1 0 10-1 3-1-14-2 2-2 6-1-5 0 8-1-6-2 8-2-8 0 6 0 2-1-12-2 13-1-14 0 11-2-1-1-10 0 7-2-7 0 5-2-5 0 13-2-13-2 9-1-2-1-6-1 2-1-3 0 8 0 4-1-2 0 4-1-9 0 2-2 15 0 6 1-10 0 8 1-6 1 5 1-9 0 4 1-2 0 10 1-6 0 2 1 2 0 4 1-11 3 4 0 5 2 2 1-13 1 6 1 6 1-13 1 4 2-4 0 8 0 3 0 2 1-9 1 3 0 3 1-10 0 12 2-9 0 2 0 2 0 7 1-5 1 2 2-11 1 2 1 3 0 5 1-10 2 1 1 6 0 6 1-14 0 5 0 7 2-10 0 2 2 5 0 6 2-15 0 3 1 9 1-2 0 4 2-8 0 9 1-13 1-2 1 7 1 4 0 2 2-9 0 5 2-9 1 8 1 3 1-8 2 8 0 3 1-7 3-3 0 4 2 6 1-3 1-11 0 4 4 1 0 2 0 2 2-6 0 3 0 5 2-6 0 3 0 3 2-7 0 4 0 3 2 4 2-8 2-7 2 0 0 2 0 8 0 3 2-9 1 2 0 2 1-8 1 8 0 4 1-11 0 5 2-2 1 7 3 2 1-12 0 4 1 8 3-7 1 4 1-9 0 2 1 7 1-8 1 4 3-6 3 2 1 12 1-2 2-12 1 3 4-2 2-1 1 2 0 4 0 9 0 11-1-8 0 13-1-7-1-6 0 2-1 8-1-8-1 7-1-10-2 0-1 3 0 4-3-6 0 9-1-3-1-6-1 3-2 9-1-9-1 8-1-11 0 4 0 2-1 2-2-5 0 9-1-7-3-5 0 7-2-3-1-6-1 9-1-2-1 5-1-3-1-8-2 12-1-11 0 5-1-7-1 12-1-8 0 5-1 3-1-3-1 4-1-12-1 13-1-7 0 4-2 2-2-13 0 2-1 4 0 4 0 2-1 2-1-5-2-2-1 4-1-11 0 3 0 6-3-6 0 8 0 3-2 1-1-12-1 6-1-3 0 7-1-9-1 5-2-8-1 2 0 8 0 4-4-2 0 2-1-8-2-5-2 0 0 13-1-7-2 2-1-5 0 7 0 2-1-12-1 3-1-3 0 9 0 2-1-8-2 8-1-10-1 10-1-2-1-6 0 2-3 6-1-2-1-7 0 3-1-6 0 8 0 3-2-11 0 10-2 1-1-7 0 3-2-3 0 6-2 0 0 2-1-9-1 6-1-3 0 7-1-13 0 2-1 7-1-8-1 12-2-10-1 10-1-13-1 14-1-10-2-1 0 3 0 6-1 12 1 2 1-11 3 2 0 5 0 5 1-7 0 4 1-8 0 2 0 8 1-6 0 2 0 6 1-11 0 13 2-2 3-8 0 5 1-8 3 3 0 5 0 2 1-4 0 7 2-4 1-7 1 2 0 5 0 2 2 0 1 2 1-5 0 2 1 3 2-3 0 3 3-1 1-8 1-4 0 9 0 4 2-8 2-3 0 11 2-14 1 12 2-8 1-4 0 12 2-8 0 7 2-2 1 2 4-10 0 12 1-9 0 4 1-9 0 7 0 6 1-9 5-2 0 13 1-11 2-3 0 10 0 3 2 0 1-12 2 7 2-7 0 7 0 2 0 4 2-13 0 7 1 6 2-15 0 5 0 2 0 2 2 1 2 2 1 3 3-2 1-9 1 6 0 4 2-13 0 8 1-4 1-5 0 9 3-9 0 13 1-9 0 3 2-5 0 7 0 2 2-5 1 5 1-10 1 11 2-7 1 9 1-7 1-2 1-5 1 5 0 9 1-7 0 5 1-2 2 1 1 2 1-4 1-2 0 6 3 2 3 0 1-12 2-2 0 3 1 11 1-3 0 10-1-5 0 9-1-5-1-3-1 4-2-5 0 5 0 6 0 3-1-7-1 4-1-9 0 12-2-11 0 8-2-9-1 8-1-11-2 0-1 9 0 6-2-15-1 2 0 6-7-6 0 3-1 3-1 4-1-6-1-3-1 2-2-3 0 11-1 2-1-13 0 4 0 2-1 2-1-8-1 3-1-2-1-3 0 11 0 3-2-10-1 4 0 4-2-7 0 4 0 3-1-12-2 14-1-12-1 8-2-5 0 7-1-10 0 12-1-7 0 4-3-8 0 2-1 2-1-7-1 7 0 8-1-10 0 5-3-4 0 9-3-11 0 5-1-9-1 2 0 3 0 3 0 5-2-10 0 3-2-3-2 9-2-2-1-2 0 4 0 3-3-5-1-5 0 8-1-12 0 2 0 5 0 7-2-8-1 6-1-8-1 2 0 6 0 2-2-4-1 4-1-3-1-11-3 2-1 2-1 6-1-8-4 3 0 2-2-1-1-5-1 3 0 7-2-11 0 4 0 8-1-2-1-3 0 7-2-6-2 2 0 4-2-11 0 3 0 3-1 3-1-2-1-9 0 7-3 6-1-15 0 2 0 2 0 3"/><path d="M513 1283l0 8 0 2 0 2 2-11 0 2 0 2 0 4 2-6 1 3 1 5 1-12 0 10 1-6 2-5 1 14 6-14 4-1 0 3 6 1 2-3 4-1 1 3 0 2 2-1 2-2 1-2 1 13 1-12 0 7 0 3 0 4 2-9 1 2 0 2 1 5 2-8 2 0 0 7 1-2 1 3 1-11 0 3 1 5 1-4 3 5 5-1 1-12 2 0 5 2 3 0 0 4 2-3 1-3 0 7 2-5 2 0 2 1 1-2 0 11 1-3 2-3 0 9 2-10 2-1 0 2 3 4 2-3 2-1 1 3 0 2 2-11 3 3 1 10 2-7 0 4 0 3 2-9 0 4 0 4 0 2 3-11 0 2 0 9 1-5 1-2 1-3 3 3 6-7 0 15 1-10 2-3 0 15 0 10-3-9 0 2 0 11-1-9 0 4-1 5-2-15 0 6-1-2 0 9-1-12 0 9-2-7 0 7 0 3-2-3-2-10 0 4 0 9-2-1-1-6-1 3 0 2-1-11 0 7-2 1-4 0-3-7-1 8-2-6-4-2 0 11-4-2-2 2-2 2-2 0-3-1-3-8 0 2 0 8-2-12 0 8-2-6 0 7-1-9-1-2-1 6 0 4-1-7-5-4-3 2-1 4-2-4-6 0-2 1-1-2-2 14-1-14-1 12-2 1-1-3-2-6-5 2-2 3-1-3 0 6 0 2-3-12-1 3-1-2 0 11-2 0-1-2-2-11-6-2 0 8 0 2-1-7-1 5-2 3-3-6 0 2-1-6 0 12-1-5-1-2 0 9-1-12 0 10-1-5-2 7 0 2 0 5 3-3 0 11 2-8 0 5 4-1 0 3 1-12 0 4 2 7 3-12 1 8 1-5 0 8 2-11 1 14 1-11 2 9 1-7 0 10 1-14 0 12 3-12 1 5 0 3 0 5 1-10 1-2 1 11 1-12 2 6 2-3 1-4 1 7 4-4 0 3 3 0 0 3 1 2 2 3 3-12 0 11 2-3 1-5 1-3 1 10 1-2 0 4 2 1 1-3 1-3 6 4 2-13 0 2 1 11 4 2 1-11 0 5 1-2 2-1 0 4 2 0 0 2 1 2 1-13 2 10 1-8 0 12 1-14 0 4 0 4 0 3 2-10 0 9 2-11 2 3 0 9 3-8 0 6 0 3 2-8 1 8 1-13 2 13 1-2 2 1 4-5 2 3 1-6 0 10 2-3 1-11 0 3 0 2 2-3 1 3 0 4 2-8 4 3 1 3 1 22-4-4-3 5-1-3-1-6 0 3-1 7-1-8-2 8-1-12 0 5-3-5-3 0 0 5-2-7-3 6-1-4-1-3-2 2-1 12-2-14-2 7-1 4-1-9 0 2 0 2-1-6-2 14-1-9-1-3-1 4 0 5-1 2-1-7-1 2 0 2 0 5-2-13 0 2 0 9-1-7 0 3 0 2-1-10-2 1 0 9-2-4 0 5-1-8-2 10-2-3-2-9-2 12-4-13-2-1-2 10-1 4-2-2-1 2-1-3-2-3-2-1 0 7-1-3-2-4 0 6-1-8 0 6-2 3-2-9-1 2-1 2-2 2 0 3-1-9 0 2-1-7-2 1-1 5-1 3-3-9 0 11-2-8 0 6-1 2-2-9 0 6 0 2-2-5 0 8-1-12-1 6-1-6-1 11 0 2-4-11 0 3 0 6-1 3-1-7 0 3-2-10-1 10 0 4-1-10 0 8-1-10 0 4-1 7-3 9 2-3 0 9 2 2 5-12 0 7 1 3 0 2 1-12 0 3 0 3 2 2 0 2 1-5 0 7 1-5 1-10 2 2 0 6 0 5 0 2 1-5 1-10 1 2 0 2 1 4 0 5 1-11 1 5 0 4 3-8 1 7 1-5 0 9 2-8 0 2 0 4 2-12 0 3 0 3 0 8 3-4 0 2 1-11 0 3 3 4 2-6 0 12 1-14 0 12 1-2 1-7 3 10 2 0 3-5 1-3 1 4 0 5 2-11 1-3 0 14 1-9 1-5 0 2 0 5 1-3 0 9 1-13 1 3 0 8 1 2 1-7 1-6 0 10 1-6 1-4 2 9 1-9 0 5 0 6 2-11 0 13 1-3 1-3 1-7 0 2 1 11 2-9 0 4 0 7 2-4 1-7 1 2 2-3 4-2 1 4 2-5 0 2 1 3 1-5 1 9 2-6 2 0 2 5 6-1 0 4 0 4 6-3 5-11 2 11 1-3 0 6 2-15 0 3 0 10 1 2 2-15 1 2 0 16 0 6-2-5 0 5-3 1-1-4 0 8-1-6-1 6-2 0-1-5 0 2-1-9 0 13-1-7-1 7-2-12 0 2 0 7-2-9 0 7-1-5-1 7-1-9 0 7 0 5-4 1-4-5-1-2-1 3-2-4 0 2-3 0-1 6-2-15 0 4-1 2 0 2-1-4-1 5-2-5 0 5-1 4-1-7-1 4-1-9-1 2-1 4 0 5 0 3-2-13-2 11-2-11-1 5-1-2 0 5 0 2-2-12 0 2 0 9 0 4-1-9-1-2-1 9-3-12 0 12-2-2 0 2-1-8-2 9-2-3-1-11-1 2 0 12-1-9-1-5-1 7-2-7 0 15-1-4-1-9-2 8-1-5-3 10-1-14-3 12-1-12 0 7-4 5-1-13-2 5-1-2 0 11-1-2-1-11-1 5 0 3-2-1-1-3 0 9-1-6 0 4-2-7-1 6-1 3-2-3-2-4-2-5 0 2-1 4-1 4-1-8-1 5-1-7 0 9-2-8-1 10-1-9 0 13 0 2 1 11 1-9 1 6 1-8 0 5 0 6 4-11 0 4 0 3 2-8 0 6 1-4 1-2 1 3 0 3 0 4 2 0 1-12 0 10 2-7 0 6 0 3 2-10 0 4 2-6 1 4 0 7 1-4 1 3 0 3 1-7 1-3 0 7 2-6 2-1 1 11 1-5 2-5 1 8 1-9 1-2 0 8 1 6 1-12 1 8 1-6 0 9 1-12 0 9 1 3 1-13 0 6 0 5 1-8 1-2 2 4 0 9 1-4 1-8 0 10 1-8 0 3 2-8 0 12 1-9 1 6 0 4 1-6 2 8 1-13 0 6 2-5 0 5 1 3 1-8 0 11 1-9 0 4 1 6 1-13 0 3 2 3 2 0 1 3 1-3 1-8 0 4 2 4 1-4 1 11 3-15 1 11 1-11 0 5 0 2 0 7 1-2 1-10 1 10 2-6 0 5 2 2 2 1 4-13 1 12 2-10 0 4 2-5 2 6 2-4 0 9 2-4 1-7 0 5 0 4 2 0 1-8 0 2 0 10 2-13 1 10 1-4 1 4 1-11 2-1 0 9 0 4 2-10 2 0 1 2 1 2 1-7 0 4 1 14 0 13-2-10 0 2 0 4-1-10-2-1-1 2 0 4-1 6-3-11 0 5-1 8-1-12 0 2 0 3-2-7-1 9 0 6-1-3-3 1-2-1-2-7 0 3-1-8 0 2 0 12-1-4-1 4-2-14 0 4-2-2-1 3-1 5-1-9 0 7 0 5-1 2-1-15 0 10-1-2 0 7-2-13 0 3 0 6-1-3-1 3-1-10 0 12-2-2-3-1 0 2-1-11 0 14-2-5 0 3-2-13 0 3-1 3-1-3 0 9-1-7-1 3-1 5-1-10 0 5-1 2 0 2-2-1-1-2 0 6-1-9-1-6-1 2 0 2-1 8 0 2-1-14-1 3 0 3-3-6 0 11-1-9 0 3-1 3-2-1-2 0-1-2-1-2 0 11-1-13 0 5 0 6-3-4-1-8 0 2-2 7-1-9-1 15-1-7-1 6-2-11 0 7 0 4-1-8-1-3 0 5-2-4 0 2 0 4-1-2-1-2 0 5-2-1 0 3-1-9-4 9-1-3-1-10 0 3 0 4-2 0-2 6 0 2-2-7-1-7-2 2 0 4 0 3-2-7-1 12-1-2-1-5-1 3-1-7-1-3 0 9 0 2-2-10-1 5"/><path d="M641 1291l5-2 4 1 50-1 6 2 6-3 5 7 1-15 7 6 5 6 2 3 5-10 2 5 2-6 8 9 3 2 7-14 0 6 2-7 4 12 1 5-9 6-10 5-17-4-5-2-12-4-24 6-4-3 0 6-2 3-10-11-5 11-5-6-2-7-4 8-2 6-1-3-1-4 0 2-2-4 0 4 0 3-2-3 0 4-1-8-1 6-1-5-2-3 0 11-2-12 0 11-1-5-1-5 0 17 3 0 2-3 1-2 1 9 1-6 0 8 0 2 1-7 2-4 0 8 1-5 2 6 2-4 1-4 0 8 1-2 1 6 1-2 2 1 1-14 0 3 0 2 0 4 1 4 2-4 1-2 0 5 2-5 0 2 0 3 2-1 23-2 1 5 5-1 3-8 22 3 23-1 12-7-1 22-3 5-1-5-7 2-2-5-5 8-1-5-6 8-24-13-6 9-3-7 0 4-4 6-4 2-1-2-5 1-3-10-1-2 0 7-4-8 0 14-2-14 0 5 0 4-1-6 0 4 0 4-2-4-1-7 0 10-2-11 0 8-1 3-1-6 0 2 0 7-2-8-1-5 0 7-1-4-2 3 0 8-1-11 0 5-1 4-2-6 0 4-2-7 0 2 0 6-1-12-2 10-2-5-1-5-1 8-1-6-2 1-1 6-2-8-1 14-3 8 1-6 0 11 0 2 1-7 2-6 1 6 0 7 2-12 0 2 0 7 1 2 1-3 2-1 0 5 1-2 4-2 1 2 4 3 4-15 0 3 2-1 1-2 0 6 0 8 5-8 3-5 0 9 3 3 2-7 0 4 2-7 0 4 1 3 1-5 1 2 1-4 0 6 1-4 0 9 2-10 1 7 1-7 3 0 1-4 0 2 0 5 1 4 1 2 3-13 1 13 1-5 0 7 1-9 3-5 7 11 1 2 5-11 4 0 4 8 1-10 27 8 10-6 1 6-4 22-12-5-1-9-11 12-2 2-2-2-4 1-2-7 0 3-2 4-1-3-1-7-1 4 0 4-2-7 0 3-1-5-4-3 0 3-3-1-1 10-1-6-1-4-1 7 0 2 0 3-2-6 0 3-1 2-2-11-1 8-1-2 0 5-2-10 0 6-2-5-2-1-2 2-1 3-1-7-1 3-2-2-3 9-3 3-7 0-1-2-2 3-1-6-1 3 0 2-1-4-1-2-2-4-1 11-3-14-1 3 0 2 0 2-1 2-1-2-1-7 0 10 0 2-2-13 0 13-1-4-3-8 0 9-5-2 0 6-2-3-2-2-4-3 0 6 0 4 2 0 0 3 0 10 1-3 2-7 1 2 2 7 1-9 2 7 2-1 1-6 1 8 1-10 2 7 1 6 1-4 6-4 3-6 1 10 2-4 1 3 6-5 1-3 0 5 3 7 1-5 1 4 2-8 1-2 0 11 1-5 1-3 0 5 0 4 2-6 0 3 2 1 2-1 2 0 0 4 2 0 1-15 5 0 5 0 1 3 0 3 2-2 2 0 0 2 0 3 3-5 0 8 1-12 0 9 1 2 1-7 3 5 1 6 1-10 3 0 0 3 0 6 1-4 1-6 0 8 3-11 0 2 1 4 0 8 2-15 1 12 2-9 0 3 2 6 1-7 2 2 0 6 2-2 0 4 1-6 1 2 3 3 1-7 0 4 11 11-2 4 0 4-1-11 0 4-2 8-1-14-1 7-1-8 0 10-1-6-1 3-2 6-1-8-3-4-1 3-1-3 0 14-1-12-1-3 0 6 0 5-2-6 0 7-1-5 0 3-1-7-1 6-1-9-3 10-3-4-1-6 0 15-1-10-2 8-2-4 0 4-1-2-3 1-1-8-2 6 0 5-2-6-3-9 0 4 0 10-1-12 0 9-1-3-1 2 0 2 0 3-3-11 0 6-2-3-1-4 0 2 0 8-1-4-2 1 0 4-1-12 0 10-4-9 0 3 0 6-2-10 0 2 0 11-1-6-1-8 0 5 0 9-2-15-1 7-5-7-3 11-2-1-2 0-2-2-2 7-1-6-1-4-2 1 0 3-2-9 0 14-2-3-2-8-1 7-2-7-2 2 0 2-2-3-1-3-2 1-2-1 0 8-1 3-2-11-1 12-1-12-1 2 0 7-1-2 0 4-1-12-2 0 0 6 0 3 0 2-2-2-1-4 0 8-1-5"/><path d="M770 1287l2 6 9-4 21-8 4-1 0 6 1-4 1 3 2 0 0 10 1-15 0 13 1-2 2-1 1 3 0 2 1-12 2 10 1-8 2-5 1 13 1-10 0 2 1 3 0 5 2-5 0 4 1-9 1 6 1-7 0 3 1 6 2-10 0 8 1 5 1-8 0 6 1-8 21 10 5-1 2-3 1 5 2-1 2-5 1-4 0 9 4-14 0 6 0 6 0 3 3-1 1-8 0 4 1-9 2 1 0 11 1-9 0 3 3 6 1-13 1 11 1 3 1-4 1 4 1-6 2-4 0 9 1-4 2 16-3 1-1 4-1-10-1 3 0 6-2-12-1 9-1 2 0 3-1-13-1 5-1-6-1 3-1-4 0 7-3 4-1-4-1-6-1 9-1 3-1-11-2 0 0 3-1 6-1-5-2 0 0 3 0 2-1-10-1 4 0 7-1-5-2 2-1-5-1-3 0 8 0 2-3 1-1-9-1 9-1-9-1-2 0 5-1 7-2-1-2-7-1 6-2 2-1-4-1 2 0 3-2-5-1-4-1 9-2-9-2-5 0 9-3-9 0 12-3-7-1 4-1 4-1-12 0 5 0 2-3-8 0 5-4-2-1 4-2 4-2-11 0 2-7 6-6 0-5 1-8-1-6 5-5 10 2 3 5 2 4-11 3 10 2-6 3 3 7 4 6-4 4-8 23 0 2 1 1 12 1-9 3-2 1 9 1-6 4 7 12 2 6-10 3-2 10 3 0 9 5-11 1 2 2 10 1-13 4 6 0 7 1-13 1 2-1 13-1 13-2-12-3 0-1 5 0 4-1-6-7 9-5-2-1-4-3 2-4-7-5-1-5 6-2 7-15-14 0 13-18-1-9-3-23 2-4 3-4-15-4 7-5 6 8 11 3 3 11-3 7-8 12 5 1 6 13-7 2 3 0 7 9-12 1 10 4-8 9 8 4 1 10-12 1 14 8-15 6 5 7-4 8 0-9 15 0 8-3 4-9-2-8 1-10-10-2 6-2 4-18-5-7 7-8-2-13-11 0 10-15-10-7 0-4 1 0 23 2 3 1-7 4-1 0 4 12 0 8-2 0 7 5-6 23-1 2 6 16-1 13-10 0 9 11-7 11 2 5 23-2-6-21 4-1-8-11 13-2-6-11 1-5-3-7 1-4-7-11 5-1 4-3-9-2 10-20 0-17-4-1 7-3-5-2 1 0 5-1-2"/><path d="M896 1283l0 8 2 3 1-2 1-8 1 7 0 4 2-5 3 2 2-5 1-2 1-2 2 10 4-10 0 7 2 2 3 2 19 1 4-7 1-7 1 6 1-7 0 11 1-9 2 1 0 9 1-5 1-6 1 7 2-7 0 4 6 1 36-1 0 3 2-2 1 4 3-5 0 2 4 6 3-8 1 10 6-3 5 16-1-5-3-1 0 8-1-2-3 1-1 2-3-4-1-11-1 4 0 11-1-9-1 8-1-6-1 6-2-12-1 3 0 9-1-14-2 3-3-3 0 10 0 4-2-12-1 5 0 2-2 1 0 4-11-1-7 2-6-1-4-1 0 2-2-4-4 4-1-3-4 3-2-4-1-11 0 14-1-10 0 5-2-5 0 6 0 5-1-3-1-8-2 1-1 4 0 3-5 0-2-3-4-1-1 5-1-3-3-1 0 2 0 3-5-12 0 12-1-8-1-5-1 11-1-10-1 9 0 2-3 1-1-8 0 2-1 6-1-13 0 11-1-4-1-3-1 2-1 4 0 4-1-11-2-1-1 6 0 2-1 3-1-7 0 5-2-10 0 11 0 14 1-6 0 3 2-8 0 6 0 9 2-12 1 7 3-4 0 7 1-3 2 1 1-6 0 3 0 7 1-13 1 11 3-13 0 7 0 2 1 3 1-12 0 8 1 5 2-9 1 6 0 3 1-12 2 1 2 0 0 7 0 4 2-9 0 3 0 4 1 2 1-7 0 3 1-6 3-3 1 2 0 10 1-8 0 2 1 4 2-10 0 13 2-13 0 13 1-6 0 8 3-14 1 2 1 4 1-7 0 3 1 10 2 1 2-13 1 9 1 2 1-5 4-4 0 2 0 4 0 4 1-6 1 2 1-5 1 10 1-8 1-6 1 2 4 13 1-14 1 9 1 5 1-7 2-6 1 2 0 5 1-2 4 2 1 2 1-6 2-4 0 13 1-5 2 1 3-7 0 2 0 5 0 5 1-15 0 8 1-5 1 7 0 4 2-14 0 12 1 2 1-12 0 7 1 3 0 2 1-5 1-9 0 2 0 4 1-2 0 7 3-2 1-8 0 3 0 3 0 4 1 4 2-2 2-12 0 2 3 2 0 3 0 3 1-9 1 3 0 2 0 5 3-12 0 11 1-4 1-6 0 14 1-6-5 14-1-7 0 4-2 10-2-6-1-6 0 10-2 0-2-1-1-10 0 3-1 7-1-5-1-2-3-4 0 5-1 5-3-7 0 11-1-13 0 9-2-7 0 2 0 7-2-7 0 4-2 6-1-13 0 4 0 5 0 2-2-13-1 12-1-11 0 9-2 1-1 2-1-11-1 5-1 3-2-7 0 5-2-7-3 5-1-4 0 13-1-6-1-8-2 3 0 3 0 3 0 2-2 3-1-5-3-8 0 5-1-3 0 10-1-3-3-8 0 12-2-11 0 7-1-11 0 9 0 5-2-1-2-7 0 3-5-6 0 6-3 4-1-4-1 3-1-9-2 2-2 2-2 6-2-10-2 6 0 4-1-13 0 2-5-1 0 2-1 5-2-7-2 5-1 4-2-9 0 10-1-3-3-2 0 8-1-12-1 4-1 4-4 0-1-5-1 4-2 6-1-5-1-10 0 7-1-3 3 14 8 8 1-4 2-6 2 2 0 3 2-4 0 3 1 3 1-5 2 4 1-3 1 2 1-4 0 12 2-10 0 10 2-5 6-5 4-1 3 2 3 1 1 9 1-12 6 1 2 3 1-4 4 10 2-11 0 6 2 0 1-5 1 12 2-7 1 4 1-10 0 3 2 2 2-3 2 9 1-6 0 4 0 4 1-10 1 2 3-2 0 7 1-9 2 2 0 6 1 4 2-13 0 3 0 8 0 2 2-8 0 4 0 5 1-12 3 3 0 4 0 5 3-10 0 3 1 4 1-3 1-6 0 3 0 8 1-13 0 8 1-2 2 1 1-6 0 3 2 0 0 2 1-7 0 3 3-2 0 3 3 4 1 3 1-5 1-2 0 4 3 0 2-7 0 5 1 7 1-11 3 9-3 12-20 0-1-4-1 5-1-5-1 3-3 0 0 3-1 3-1-3-1-6 0 11-2-4-2-5-1-2-1 6 0 2-2-11-2 0-3 6-1-5 0 13-1-8-1 4-1-6 0 9-1-3-1-5 0 7-2-9-3 3-2-4 0 9-3-4-2-5 0 6 0 3-3-11-2 0 0 9-1-3-1-5 0 3-4-4-16 15-12-14-17 3 1 20 1-8 4 4 7 6 4-8 13 11 14-1 6-12 18 0 1 13 3-9 1-2 2 3 1 3 2-8 3 7 2 0 1-2 1-5 2 15 1-8 2-6 3 0 0 6 1-4 2 4 0 5 2-1 0 2 1-6 11-7 10 30-1-8-1 3 0 6-7-3-14-9-2 3-5 5-7-5-9-2-5 10-1-9-5-5-4 0-1 8-4 0-10-8-31 2-3 5-5-6-6-1-3 15-1-12"/><path d="M1025 1284l4 2 3 4 5 0 4 5 1-13 1 5 5 4 5 1 6 2 5-6 5-2 10 4 33 18-9-7-3 7-4 0-8-3-11-2-5-6-20 4 0 9-10-7-11-7-5 4-2 12 0 11 6-5 3 5 1 3 2-6 1 4 0 2 1-10 2 7 0 3 3-5 5 4 4-1 2-3 3-8 0 14 4-10 1 9 3-4 1-5 0 9 2-6 3-8 0 4 0 7 2 3 1-5 2-7 1 4 3-6 3 2 1 6 2 4 7-2 9-6 2 9 30 16-8-5-12 2-6-7-2 11-5-5-3-4 0 9-2-13-13-1-3 9 0 5-6-2-9-4 0 4-1 2-7-9-5 5-3 5-17-8-8 16 2 2 1-3 1 3 2 5 1-2 1-3 2 2 2 2 1-5 8-7 4 14 9-6 3 2 0 4 3-13 2 0 1 5 2-1 2-2 7-3 2 5 5-4 2 4 3-4 1 9 4-9 1 8 2-6 5 4 9 0 9-6 3 5 3-3 7 7 8-2 8 19-4 3-5-10-9 3 0 7-2-11-16 1-10 1-4-6-3 4-4 11-5-13-12 13-2-1-4-2-4 1-2-5-3-3-1 2 0 5-2-2-1-2-4-5 0 9-1-11-1 14-2-12 0 2-1 8-1-6-1-6 0 2-2 1-1-3 0 9-1 3-1-6-1-4-1-2-1 7-1-5-1 2-1-2-3-1-1 10-6-12 7 29 1-2 3-2 0 6 1-8 2 8 2-1 1-9 2 5 1-7 0 11 1-5 1-3 2-1 1 8 2-5 3-8 0 2 3-1 0 6 1 7 2-8 1-6 0 8 0 6 1-2 3-9 1 8 1-3 1-8 0 13 1-10 2 1 2 0 0 4 2-4 0 7 2-4 0 6 1 2 1-11 0 8 2-9 0 7 0 5 1-8 1 4 0 2 2-9 0 7 1-9 1 9 1-8 2-1 0 4 0 5 1-7 1 7 1-6 2 0 0 3 1 3 1-3 1-5 0 11 2-1 1-7 2-4 0 3 0 4 2 2 0 4 1-9 3 1 2-1 4 2 1-2 1 9 1-7 0 5 1-9 1 5 0 2 2 2 7-8 0 8 7-9 1-3 4 1-17 27-1-8-2 6-1-11 0 8-1 3-1-7 0 9-1-6-1-2-1-2 0 7 0 2-1 2-1-10 0 2-30 9-5-5-2 1 0 4-2-9-1-6 0 3-2 4 0 3-1-9 0 12-1-10 0 2-1 5-1 4-2-10-23-3-1 8-5-6-5 5-4 5-1-7 0 3-1-9-1 2-1 5"/><path d="M1212 1372l-53 31-5 3-2-10"/><path d="M1288 1306l59 14 3 3 2 3 48 7-47-3-10 13-1 3 2-2 1 3 0 3 0 6 2-9 0 7 1-8 1 2 1 1 0 5 1-5 1 1 1-6 0 4 1 1 0 1 0 1 0 1 1-4 0 8 1-8 2 2 1-2 2-1 3 7 2-8 0 8 3 3 1-2 6-9 0 13 0 0 2-5 3 2 2-3 0 5 3-4 0 1 1 9-3-2-4 1-3 0 28 17 1 14"/><path d="M181 1411l0 6 0 5 2-7 1-7 21 10 1 3 2-6 0 7 1-14 1 6 1-2 1 4 3 4 1-4 2-3 3-1 2 9 4-6 6-6 0 4 2-3 0 11 8-9 1-3 6 0 4 8-22 13-4 7-1-12-3 12-1-10 0 8-2-1-1-7-1 8-2-9 0 7-2-4-4-4-4 1-2 5-2-4-1-2 0 11-1-4-1-7 0 5 0 9-2-7-1-2-1 7-1-11 0 3-5 2-4-1-2 0-1-4-1 3-2 1 0 5-1 3 1 8 1-1 1 6 14-8 0 10 1-5 1-7 1 4 0 9 1-5 2 5 1-6 0 3 2 2 15-1 7-12 0 2 2-2 0 2 0 6 3 3 1-10 0 7 3-3 0 2 3-3 0 11 3-4 0 2 3 0 7-5 1 7-9 5-1-3 0 8-2 0-1-7 0 9-2-6 0 5-1 2-2-10 0 10-1-4-3 6-8-9-3 8-1 2-3-12-7 11-3 1-1-13-1 8-2-3-1-3-1 7 0 3-2-4-1 5-4-6 0 6-6-5-3 1-2 3-1-14 0 8 0 4-2-9 0 14 0 10 2-5 0 4 3-4 1-3 0 8 2-4 0 5 0 3 2-12 1 4 1 3 2-4 1 4 1-7 2 10 1-7 3 4 0 4 2 1 1-14 1 14 2-12 0 2 1 4 0 3 2-7 1-5 1 5 2-4 0 3 2 0 3-3 0 3 2 1 2-4 0 11 4-11 2 4 1-3 5 3 1 2 3-3 2-1 2 3 1-3 10 13-6 3-6 10-36-8-1 8-2-10 0 2 0 4-1-8-1 7-1 2-1-9 0 2-1 9-1-12 0 7-1-3 0 8-1-2-1-4 0 6-5-9-1-2 0 4 0 9-2-10-2-2 0 12-1-2-1-11-3 3 0 6 3 6 0 10 0 4 1-13 0 1 0 4 1-1 1 8 1-9 0 7 3-4 1 4 2-6 2-5 2 10 3-8 0 5 0 6 1 2 3-12 3 12 2-6 3 4 4-3 1 3 1-7 1 2 1 3 0 4 2-6 0 2 3-1 0 3 1-5 2 1 1 2 1-3 1 5 1-9 2 4 0 2 1-5 1 6 2-1 0 2 2-1 0 4 1-13 0 4 0 3 2 2 2-10 0 2 0 12 3-8 0 6 1-12 5 12 2 16-5-10-2 1-1-4 0 15-12-12-1-2-4 0-14 0-4-1-1 2-3-1-1 2-3-2 0 11-4-11 0 7 0 3-1 2-1-13 0 4-1 4-2 1-2 4-4 0-1-11 0 9 0 4-2-7 0 5-1-7 0 6-1-11 0 7"/><path d="M258 1417l1-4 11-2 9 12 6-10 7 3 1-5 11 6 17-6 0 6 1 4 1-5 2-5 1 9 1-4 2-6 0 10 0 2 2-9 1 9 1-13 1 9 0 2 1-11 1 5 1-4 1 10 1 3 1-10 0 3 2-4 0 6 1 5 1-15 0 9 0 3 2-6 0 4 1-9 2 11 5-10 5 5 1-3 0 8 1-11 1 2 1 6 1-5 0 2 1-4 0 6 0 7 1-10 0 8 2-1 0 2 2-8 1 8 1-9 0 6 3-11 3 11 1-8 0 5 1-3 1 9 1-3 1 7 0 3-2 3-1 2-4 0 0 2 0 2-2-10-2 0 0 8 0 3-1-9 0 3-2-9 0 13-1-8-1 9-1-11-2 11-1-13-1 8 0 3-1-7 0 2-1 7-7-2-1 3-3-6-1-7 0 5-1 2 0 2-1-8 0 12-1-8 0 4-3-6 0 2-1 7-3-4 0 2-1-12 0 3 0 2-3-2 0 5 0 5-2-10 0 6 0 4-2-1 0 2-1-13 0 3-1 3 0 2-1-9 0 13-3-10-1 7 0 3-3-11-9 4-1 5-22 1-14 0-2-12-2 10 0 8 11 2 10 9 12-2 2-6 11 9 1-8 2-6 5 1 0 7 1-2 1-4 0 8 1-10 0 5 0 2 2 2 1 4 1-12 1 11 1-2 0 4 2-11 0 10 2-2 1 4 1-12 0 4 2-4 0 6 1-2 0 8 1-12 1 4 1 7 1-8 1 2 0 6 3-13 0 2 0 4 11 6 2-9 1 3 1-5 0 7 3-1 0 4 1-6 1-6 2 7 1 5 1 2 1-14 1 4 0 6 0 5 2-14 0 3 0 3 2 1 1-6 0 8 0 4 1-7 1-7 0 16 0 8-1-4 0 10-3-14-2 8-2-6 0 2-2 4 0 7-2-8 0 3-1 4-1-9 0 2 0 3-2-10-1 9 0 2-4-3-6-2-1-4 0 6 0 2-1-4 0 6-1-3-1-7 0 2 0 7-2-8-1 3 0 3 0 5-3-12 0 8-2-9 0 7 0 4-2-9 0 12-1-6-1-5-1 7-1-9 0 11-2-10 0 10-1-13-1 14-2-9-1-5 0 11-1-9 0 6-1 3-1 3-1-12 0 7-3 4-3-6-4 2-8-9-10 10-8 1-2-10-6 2-4 11-1-4-3 3-14-10 0 28 2-8 20-6 11 13 3-9 4 8 2-6 4 7 2-5 5-9 0 13 8-7 8-3 1 4 1-2 1 9 1-13 0 4 0 4 2-2 0 3 0 3 1-10 1 7 1-9 0 14 1-8 1 7 1-5 0 3 2-4 2-8 1 15 1-9 1 4 1-9 1 11 0 3 2-11 0 3 1 8 1-10 1-5 0 2 0 10 1-5 3-5 2 5 2 8 7 0 3-13 1 3 0 9 1-12 0 8 2-4 1-3 0 8 0 4 1-15 1 7 2 1 0 13-1 2-1 3-1-2-6-6-2-1 0 6-1 7-2-5-1 6-3-4-1 2-1-5-1 2 0 2-1 2-2-4-2-7-2 0-1 5-1 7-1-4-1-8 0 2 0 10-1-8-4-2 0 10-1-7-1-3 0 9-1-4-1-6-2-2-1 7-1-4-1-5-1 3-1-2 0 4 0 5 0 2-2-9 0 4-10-3-11 6-7-6-3 7-8 0-8 1-3-6-7-1-4 9-5-9-2 7-4-5-2-3-1 11-1 6 18 9 5-5 14-6 6 7 4 0 2-9 2 4 14 4 10-6 1 5 6-7 0 4 0 3 1 4 2-11 0 14 2 0 2-11 0 8 2 3 1-10 2 4 2 2 0 2 2-2 1-7 1 11 2-5 4 5 3-5 0 3 2-6 2 0 0 6 1-11 1 9 1-11 0 9 1-3 1 9 1-5 1 3 1-7 2 2 0 7 1-2 1 11 0 5-4-9-2 3-1 4 0 2-1-10 0 4-1 2 0 3 0 2-1-8-1 6-1-11 0 4 0 3-1 6-1-8-3 8-1-12-2 4 0 6-1-10-3 2-2 0-1 5 0 5-2-8-1-3-1-3-3 8-2-7-1 4 0 10-3-10-1 3-1-6 0 9-5-9-8 12-1-7-13-6-4 9-3-7-1 6-8-8-3 3-7 5-6-7-2 5-4 6-2-9 0 6"/><path d="M384 1408l1 13 3 0 1-11 0 6 2-7 1 12 2-12 1 10 2-7 0 4 0 6 2-4 1-7 1 11 1-14 0 6 1 2 0 6 1-3 1-10 2 9 0 2 0 3 1-7 2-3 1-5 5 15 2-12 0 9 2 2 1-10 1 4 2-6 1 8 0 2 2-1 1-11 1 7 1 8 1-14 0 4 3 4 0 5 1-14 0 6 0 5 2-9 0 11 2-3 2-7 0 4 0 2 0 4 2-10 1-2 0 4 1 2 1 5 2-6 1-4 1 7 2 6 1-9 2 7 1-12 2 9 1-4 1 4 2-8 1 6 0 3 1-5 2 6 2-4 2-3 1 2 2-7 0 11 0 3 2-10 0 2 0 7 1-12 1 12 1-11 0 4 0 4 5-9 0 10 2-10 2 3 1 11 1-15 1 8 0 6 1-11 1 4 0 2 1 3 1-8 2 3 2 8 1-10 2 6 3-4 1 4 1-6 1-3 1 3 1-4 0 10 1-6 0 2 0 8 1-15-1 18 0 3-1 3-1 6-1-6-1-4-1 10-1-3-1-6-1-5-1 9 0 6-1-12 0 4-2-4-1 2-1 9-1-9-3 3 0 3-1-6-2-1-1-2 0 11-2-4-2-2-1-5 0 11-1-4-1-3-1 3 0 4-1-6-1 4-1-9 0 12-3-14 0 4 0 8-2-8 0 7-1-3 0 5-1-9-2-1-2-2 0 13-2-13 0 4 0 7-1-9 0 6-1-9-3 10 0 2-1-4-1-6-1 4 0 3-3-4 0 10-3-15 0 8 0 2-1-5-3-5 0 5-3 8-1-9 0 3-1 8-1-14 0 4-3 10-5-14-2 13-1-10 0 6-1-8 0 11-1-6-2-2 0 7-2-8 0 9-1 2-1-6-1-5 0 7-1-10-2 0-1 2 0 6 0 3-1 3-1-9 0 6-2 3-2-13 0 7 0 5-1-7-1-2-1 6-2 1-1-2 0 5-2-15 0 4-1 7-2-11-1 12-2-10 0 4 0 6-1 3-2-7-1-4 0 6-2-8-1-2-1 5 0 4 0 3-3-9 0 6 0 2 0 12 0 3 0 2 1-12 1 2 2-2 1 10 0 3 0 2 1-15 1 5 1-2 0 7 0 2 2-2 1-2 0 7 1-13 1 5 0 6 1-11 1 9 0 2 2-8 0 5 1-8 0 13 1-8 1-6 1 9 2-7 1 7 0 3 1-10 0 2 1 7 0 2 1-8 3-2 0 9 2-6 1 8 1-2 1-13 0 2 0 3 0 5 3-4 0 5 2-7 0 7 2-2 2-5 1 9 1-11 2 1 1 4 1-2 2 4 0 4 1-11 0 2 0 7 1-2 2-4 1 3 0 3 1-10 1 6 1 5 0 2 1-4 1-10 0 3 1 9 2-10 1 7 0 4 1-8 2-2 2 2 0 10 4-7 0 5 1-10 1 12 1-15 2 0 0 4 0 10 2-2 1-12 0 7 1-3 0 8 2-8 0 9 1-7 0 3 3 0 0 4 1-2 2-9 0 4 1-2 1-3 2 5 1 2 2-8 0 6 1-2 0 5 0 4 2-11 1 13 1-11 0 7 1-3 1-7 2 1 0 8 0 4 1-9 0 3 1-6 0 10 3-12 0 7 1 4 1-8 0 6 2-8 2 12 1-10 1 5 4 21-1-2-2-9 0 6 0 3 0 2-2-10-2 7-2-7 0 12-2-9-1 7 0 2-1-8-3 8-2-1-1-14 0 6 0 2-2-4 0 7-1 3-1-10-1 5 0 4-1-10 0 2-2 8-1-4 0 6-1-12-1-2 0 4 0 3-2-4 0 5-3-7 0 3 0 6-3-8-2 1-1-2 0 13-1-8 0 5-2 3-2-2-2 0-1-9-1-2-1 2 0 4 0 2-1-10 0 14-2-10-2 0 0 3-2-7 0 10 0 4-3-7-1 2-4-8 0 6 0 8-3-13 0 9-3-7-3-4-1 12-2-5 0 6-2-8-1-2-2 6-2-5-1-3-2 3 0 3 0 3-2-4-2-4-1 4-1-4 0 6 0 6-1-2-1-8 0 5-2-6 0 5 0 2 0 5-1-15-1 5-1 8-2-13 0 9 0 2-2-7 0 4-1-6-1 4 0 2-1-6-2 2 0 4 0 5 0 2-2-10-2 4 0 6-1-10 0 2-3 4-2 3-1-12 0 10-2-7-4 5 0 2 1 19 2-3 4-3 3 6 2-11 1 6 1-6 0 4 1 5 1-7 0 9 2-8 1 5 2-8 0 6 1-3 1 2 1-4 1 2 2 2 4-6 0 7 1-5 0 2 1-6 0 11 1 2 1-12 0 2 1 4 1-3 0 6 1 2 1-11 1 6 1-2 0 5 3-6 1 2 0 3 2 2 1-9 0 11 1-7 0 3 1 3 1-5 1-6 0 4 3 3 1-8 0 4 0 6 2-6 0 4 1-6 1-2 1 9 1-8 0 10 2-3 1 3 1 3 1-15 0 4 0 9 2-2 3 1 0 2 2-11 1 11 2-3 3-11 4 5 0 6 1-8 0 10 1-12 1 6 0 4 1-6 1-5 1 10 1-10 2 2 0 2 0 5 0 6 2-13 0 2 0 3 1 6 1 2 1-8 2-4 1-3 0 13 1-5 2 0 1-5 2 6 0 2 1-6 1 3 1 5 1-8 1 6 3-10 0 3 2 4 1 4 1-7 1 3 0 2 1-7 1 2 0 6 1-11 1 3 0 9 0 2 1-8 1 6 1 10 0 3 0 2-1 3-1-5-1-9-2 9-1-2 0 4-2 1-6-8-2 5-1 3-1-4 0 6-2-4-1-2 0 6-1-13-3 8 0 4-1-7 0 5-2-9 0 3-1 10-2-9-1-2-1-2-1 10-2-6-2 3-1-2-1 2-1-9 0 4 0 10-3-13 0 4 0 2-1-4-1 5 0 3-1 2-1-4-3 6-1-4-1 3-1-11-1-3 0 8 0 6-1-11-1-2 0 8-1-2-1-4 0 11-1-5-2 4-1-7-1 3-3-7 0 2 0 7-2 3-1-5-1 2-2 3-1-10 0 5 0 3-1-12 0 2-1 2 0 7-2-2 0 3-2-7 0 9-1-12-2 3 0 6-1-8 0 12-1-15-1 3-2 6 0 5-1-10 0 8-2-3-1-7-2 1 0 2-2 2 0 2-2 3-4 0-1-7 0 3-2 6-1-4-1-9 0 6-1 3-1-3-3 0-3-3-2-1-2 2-1 9-1-6-1-5-1-3-1 2 0 3-2-3 0 2 0 6-1-3 0 22 3-9 1 5 1 4 1-7 0 4 2-5 1 9 1-6 0 4 1-10 0 3 1 8 1-7 0 5 2 3 1-3 1 4 6 0 2-10 0 10 1-15 0 13 2-9 0 7 1-2 1-6 0 3 1-6 1 13 4-10 1 11 3-13 0 11 0 2 2 0 1-7 1-6 0 14 1-7 1-5 1 9 1-4 1-3 1-3 3 9 1-5 1-2 0 4 3-5 0 2 1-4 2 14 1-11 1 5 0 6 1-15 0 11 2-4 1-2 0 9 1-5 1-9 1 5 0 8 1-5 2 6 1-11 1 5 1-3 1-2 2-3 0 6 0 2 0 3 2 4 1-11 0 9 1-3 2-5 1 2 1 3 1-9 1 4 0 7 1-2 1-9 0 3 2 11 1-10 0 3 2 5 1-9 1 6 0 2 1 3 1-14 1 8 1-2 2-3 0 9 1-4 1 4 1-13 0 4 2 3 0 2 1-6 0 10 3-5 2 6 2-2 2-4 0 3 2 0 1-9 3-1 0 11 0 2 2-14 0 12 0 12-1 7-2-8-1 4 0 2-1-9-3-4 0 7 0 8-1-10-2-4 0 3-1 6-1-5 0 7-1-11 0 14-1-9-1 4 0 3-2-13 0 2-1 8-1-5-1-3-1 7 0 6-1-15-2 11-1-11-2 11-2-10 0 7 0 5-2-1-2-8-1 2-1 5-1-11-1 2 0 6 0 2-1-6 0 8-1-6-1 6 0 2-3-7 0 7-2-9-2-5-1 10-1-9-1 5 0 5-1-10-1 5-1-5 0 3-3 3-3-6 0 2 0 3 0 6-1-2-2-7 0 3 0 3 0 5-3-8-1 4-1 2-2-7-2-5 0 2 0 11-1-4-1-9 0 5 0 10-1-8-2-3-2 4-1 6-1-7 0 5-2-3-1-8 0 13-2-12-1 6 0 5-1-10-1 2 0 8-2-9 0 5-3-4-2-3-1 11-1-6 0 3-1-9 0 4-2 0-1 3-2 4-2-11 0 13-2 0-3-1-1-8-1 6-1-3-2 6-2-11 0 6-2-2 0 2 0 2-1-11 0 3 0 12-3-9 0 6-1-2-2-6"/><path d="M516 1408l0 5 2-4 1 2 2-2 3-1 1 8 0 4 1-9 1 3 0 8 2-8 0 2 1-7 0 12 0 2 1-11 0 6 1-3 2-1 1-6 1 12 0 3 1-7 2-6 0 6 2-5 1 4 2-5 0 11 2-6 0 7 1-14 1 6 3 0 0 8 4-3 1-8 1-2 0 6 0 7 1-10 0 5 0 3 3-10 0 5 1 6 1-6 3 4 0 3 1-11 0 4 1-2 1 7 1-7 1 2 0 7 2-14 0 10 2-3 0 2 1-8 0 13 1-11 0 7 0 2 2-9 1-2 1 10 0 3 3-3 1-5 0 3 1-9 0 12 2-5 0 7 1-11 1 12 1-7 0 2 1-7 1 2 2 8 3-10 0 4 0 3 2-1 1-5 0 3 2-3 2-1 1 7 0 3 2-9 0 9 1-13 2 4 0 2 1 8 1-4 1-2 0 5 2-1 1-10 1 2 0 5 1 6 1-3 1-8 1 5 0 6 1-11 0 3 2 3 1-2 0 5 2-7 0 6 1-12 5 13 3-6 0 4 0 19-1-7 0 2-1-7-1 4 0 2 0 4-2 0-1-9-1 10 0 2-1-9 0 4-1-8 0 12-1-9-1 6 0 4-1-7-1-6 0 3-1 3 0 6-3-9-1 3-1-5-1 10-1-10-2-2 0 7-2 1-1-4-2 3 0 4-1 2-1-9-1-2-1-2-3 6-1-2-2 2-2 7-2-12-1 3 0 6-2-4-1 5-3-6-1 6-2-8 0 5 0 5-1-7-1-2 0 4 0 4-2-6-2-6 0 8-3-5-1-3 0 11-1-9-2 8-1-11 0 7-1-5 0 13-1-8 0 5-3 3-1-4-1 4-1-14-1 10-1-10-2 5-2 3-1 6-1-10-1 10-2-7-1-6 0 4-1-2 0 11-2-11 0 3 0 7-1-14-1 9 0 6-1-12 0 9-1-11 0 9-2-2 0 6-1-4-1-3 0 8-1-15-2 2 0 13-2-7 0 5-1-7 0 5-1-10-1 6-1-3 0 8-3-10-1 8-1-7 0 5-2 4 0 3-1-15-1 10 0 2-1-11 0 2-1 5 0 4-1-8 0 10-2-13 0 2 0 5 0 3-2-3-2-8 0 3-1 7 0 4 0 15 1-12 2 8 4 6 1-11 1 8 1-8 0 6 1-4 2-5 0 2 0 12 1-7 1-3 0 5 2-10 0 2 0 5 3-5 1 2 1 2 0 8 2-12 0 10 3-9 0 6 0 4 2-8 0 9 1-3 2 1 1-11 2 1 6-1 2 2 1-2 1 2 2 1 2 0 0 5 5-2 2 0 0 3 3-8 2-2 2 1 0 3 0 2 2 6 1-2 1-10 0 12 2-9 0 6 1 2 1 4 4-12 0 3 0 7 2-13 0 2 0 2 1 2 0 8 1-3 2-11 1 14 1-5 2-8 1 3 3-3 0 3 0 8 2-5 0 6 1-8 1 9 2-8 1 2 0 3 0 3 2-7 0 7 1-14 2 5 0 7 1-11 1 5 0 8 1-6 1-5 1 9 1-5 2 0 1-5 0 10 1-2 2-6 0 10 1-4 1 3 3-3 1-4 2 2 1-3 0 10 3-14 0 8 0 2 2-9 0 12 0 9-1 2-1-9-1 6 0 5-3-8-1 5-1-4-1 2 0 3-1-9 0 3-1 10-2-10 0 4-1 7-1-4-1-5 0 2-1 3-2-9-2-1 0 3 0 8-2-2 0 4-1-12 0 2 0 12-1-6 0 3-3-12 0 7 0 7-1-9 0 7-1-12-1 9 0 4-1-8-2 10-1-4-1-4-1-2 0 4-1-8 0 10-2-7 0 7-1-4-1-6 0 8 0 5-2-7 0 6-2-13 0 8-1-1-1 6-1-12-1 5 0 7-2-7-1 7-2 0-4-7-7 9-1-4-1 2-4 2-2-5-1 2-3-3-3 0-3-8-3 6-1 5-1 2-1-7-1 2-1-4 0 2 0 7-2-8 0 4-1-7 0 10-2 2-1-3-1-11 0 9-3-6-1 2 0 6-2-2-1 2 0 2-1-11 0 3 0 2-1 2-1-9-2 8 0 5-1-13 0 3-3 0 0 7-1-3-1-8 0 6 0 7-3-10-2 6-1 6-4 7 0 5 1-11 0 14 1-12 2 2 3 4 0 2 4-1 1-4 0 6 1-9 1 6 0 7 1-9 1-5 0 7 4-8 1 14 2-5 0 3 1-8 2-2 0 8 4-8 3 5 0 2 2-7 3 0 2 1 0 3 1-6 0 10 1-6 3 4 0 4 1-10 0 13 1-10 1 8 1-6 1-7 0 11 1-2 1 2 0 2 1-7 2 0 0 2 0 5 1 2 2-15 1 2 2 7 2-9 1 5 1-3 0 5 0 5 1-7 1 9 1-9 1-4 1 6 0 3 3-8 0 7 1-8 0 11 1-7 1-2 0 3 0 8 2-5 0 3 2-10 0 6 0 2 1-6 2 2 0 9 1-12 1-3 0 4 0 11 2-14 0 2 0 6 0 5 1-7 2 4 0 3 1-12 0 4 2-1 0 4 2-7 1-1 0 10 1-6 1 7 1-2 1 5 1-11 1-4 0 6 0 9 1-8 2 1 0 6 1-12 1-1 0 7 2-8 0 8 0 3 1-5 1-6 0 12 1 3 1-12 1 3 1 5 1-3 2-6 1-1 0 2 0 8 0 2 1-9 1-2 1 3 0 6 0 4 1-3 1-4 2-2 0 3 1 4 0 17-2-2-1-5 0 6-1-8 0 10-1-4-1-5-1 6-1-12 0 4-2 3 0 4-1 4-1-14-1 3 0 7-2-9 0 5-1 3-2-4 0 3 0 2-1 1-1-12 0 13 0 2-1-8-1-5 0 8-3 4-1-9 0 4-2 4-1-4-1-9 0 10-1-9 0 6-1-7 0 4 0 2 0 7-2-12 0 11-2-8 0 4 0 3-2-7-1 10-1-5-1 5-1-8-1-4-1 5 0 3-1 5-1-15-1 14-1-12 0 2 0 4-1 7-2-9 0 2 0 6-2-12-1-2 0 9-1 3-2-12 0 2 0 3 0 9-2-2-1-10-1 8-1-3-1 3-1-3-2 1 0 2-1-10-2 0-1 9-1-4-1 4-1-3 0 6 0 2-2-12-1 3-5-4 0 10-1-8-1-3 0 8-1-5-1-2-2 10-2-10 0 8 0 4-1-6-1 5-1-8-1 6 0 5-1-12-2 1 0 10-2-6-2-2-1-3 0 8-2-10 0 2 0 5-1-3-3 0-1-5-2 5 0 2-1-7-3 11-1-4-1-7 0 3-1 6-1-2 0 5-1-12-2 1-2 12-1-4-2-5 1 26 3-3 2-9 1-2 2 1 1 5 1 3 0 6 1-14 2 5 0 2 1-6 0 8 1-6 0 3 1 8 1-9 0 6 3-6 0 8 1-13 0 8 0 2 1-5 1-3 1 6 1-4 1 9 3-5 0 5 2 0 3-11 2 0 1 3 0 2 1-6 1 11 0 2 1-7 0 3 2-6 1 5 1-3 0 8 1-11 1 4 1 5 4-6 1-5 0 10 2 2 1-10 2-4 0 3 0 7 0 3 1-5 1-6 1 3 0 7 0 3 1-15 1 6 1-6 0 10 1 2 1-2 1-8 1-2 1 7 1-6 0 3 0 5 0 6 2-13 0 8 0 4 2-14 0 7 0 6 4-10 0 2 0 4 2 1 1-5 0 8 0 2 1-4 1-3 2 1 0 5 1-14 0 6 1 7 1-10 2 9 2 1 1-8 2 7 1-8 2 2 1 2 1-2 1-4 0 9 2-10 0 5 1 8 2-10 1 10 3-9 0 5 1-10 1 8 2 2 1-9 0 12 0 2 1-13 0 7 2-9 2 3 0 2 0 8 1-3 2-3 0 2 1-3 1 3 1 22-1-14-1 3 0 11-2-8 0 4-1-9-5 11-1-8 0 5-2-9 0 3 0 2-2 5-1-10-1 13-1-10 0 4 0 3-2-1-2-7 0 2-2 9-1-5-1 6-2-10-1 6-1 2-1-6 0 4-1-8-1-2-1 11-1-4-1-4-1 11-1-13 0 7 0 3-5-9 0 3-3 2-2-5 0 5-2-4 0 6-1 2 0 3-2-14-1 12-1-2-1 4-1-13 0 7-2 0-1-8 0 6-1 5-1-3-2-3 0 7-1-10 0 6-2-2-1 2 0 2-1-6 0 10-1-13-1 6 0 7-1-5-3-5 0 3 0 5-1-13-1 4 0 2 0 9-1-6-1-6-2 5 0 6-1-13-2 2 0 2 0 2 0 8-4-14-2 6 0 6-1-12 0 2 0 7-2-1 0 5-1-14 0 12-1-3-1-7-1 3-3-5 0 3-1 6-1-3-1 3-1 2 0 2-2-6-1 5-2-8-1-2 0 7-1-5 0 2 0 6 0 2-1-13-1 7-1 3-1-8-2 10-4-13-1 3-2 7-1-5 0 2-1-7"/><path d="M640 1410l0 7 1-3 1-5 0 7 0 6 1-11 0 8 2-4 1-6 0 14 1-10 2 10 1-9 2 0 0 7 1-9 1-4 0 2 0 6 1 4 2 0 1-7 2 6 0 4 1-8 0 6 3-8 2 6 2-9 1 7 2-7 0 13 3-12 2-1 3 4 0 2 1 2 1 3 1-9 1 2 1 9 1-13 0 10 1-5 2-2 0 2 0 5 0 2 2-2 0 3 4-11 0 5 3 1 0 3 1 2 2-14 2 10 2-9 0 9 3-3 0 3 0 2 4-5 0 2 1 2 1-10 1 7 0 5 1-14 0 4 1 8 2-12 0 2 1 5 1 4 0 3 1-12 1 8 2-8 0 9 1-3 1-2 0 5 1-11 1 12 0 2 1-14 0 4 1 11 2-3 1-7 1 5 0 3 3-3 7-10 0 11 4-10 1 4 2-4 1 6 0 2 3-6 0 7 0 3 1-12 0 4 1 7 1-4 1-6 1 2 0 9 1-2 1-10 0 13 1-5 1-4 1-5 1 7 1 6-5 8-13 1-1 4-2 5-1-8-2 6 0 2-2-9-1-4 0 8-2-7-1 12-1-12 0 3 0 2-1-8 0 11-1-9-3 3-1-2 0 6-1-2 0 7-1-11-1 6 0 6-1-2-1-8-1 10-1-5 0 3-1-11 0 2-1-4-1 6 0 2-1-6-1 6 0 7-1-15-2 11-1-11-3 9-2-8-3 4 0 2 0 7-1-14-2 2-1 6 0 4-1-8 0 2-1-4-1 11-1-6-3-4-1 7 0 3-3-9-1 7-1-4 0 2-1-6-1 2 0 2-2-4 0 12-1-2-2-6 0 4-1 3-2-14-1 6-1 2 0 2 0 2-1-6 0 8-6-4-1-7-1 2-1 3 0 2-3-6 0 4-2-8 0 7-1-5 0 3-1 9-1-7-1 8-1-3-1-9-1-3 0 5-1 4-1 6-2-15 0 10-1-6 0 3 0 5-6-7 0 7 0 2-2-14 0 3 0 5-2-6 0 10 1 6 0 9 1 3 1-3 1 3 1-2 1-9 0 12 1-4 4-4 0 2 1-5 2 6 1-8 0 5 1-2 0 4 1 3 1-10 2 2 0 9 2-8 0 6 1-8 2 5 0 3 3-5 2 4 3-3 1 2 2 3 1-12 5 4 0 2 0 2 1-8 1 11 1-8 2-2 0 6 1 4 0 2 1-11 0 2 1 10 1-12 1 4 1-4 0 7 2 0 0 2 0 3 3 0 1-3 2 3 4 1 3-7 0 3 1 3 1-14 0 5 0 5 1-8 1 4 1-6 0 14 1-9 0 5 1-2 0 5 2-8 0 3 1-6 2 13 2-6 0 3 2-9 0 5 1-7 0 4 0 5 3-5 0 9 1-14 1 7 1-5 0 9 1-7 0 10 1-2 2-8 0 2 0 5 1 2 1-9 0 7 2-7 0 5 1-8 1 9 1 4 1-11 0 4 1 4 1-8 3-3 0 2 0 12 1-6 0 2 2-6 1 5 0 5 1-12 1 10 1-6 0 4 2 0 1-2 1 3 0 2 3-6 0 3 0 2 0 2 4-7 0 3 0 3 1 15-2 1-1-13-1 11-2-8 0 3-6 9-2-14-3 10-2-8 0 8-1 3-1-7-1-7-1 8-1-8 0 4 0 6-1-8 0 5 0 6-1 2-1-13-1 2 0 6-2 2-1-12 0 8-1 4-4-7-1 9-1-6-1-8 0 3 0 9-1 3-1-6-1-6-1 8-2-8-2 5-2 1-1-3-1 5-1-7 0 2-2-5 0 4 0 7-1-5-1 8-1-7 0 4-1-8-1-3-1 10-2 0-1-10-2 4 0 3 0 3-1-8-6-1 0 8-1-5-1-2-2 0 0 2-1-5-1 2-1 2 0 10-2 0-3-14-1 12-1-10-1-2 0 4 0 5-1 3-1-10-1 5-2-5-1 3-2 1 0 4-2-9 0 9-1-4 0 8-2-7 0 6-3 1-2-6 0 5-1-13-1 2-1 11-1-9-1-2 0 12-3-11-2 2 0 3 0 2-1-9-2 4-1 4-1-5-1 2-1 3-1-3-1 4-1-6 0 4-1 4-1-10 1 28 1-10 0 5 1-9 0 7 2 8 1-9 0 8 1-12 1-2 0 6 0 6 2-10 0 4 0 5 1 2 1-2 1-1 2-8 0 5 1-2 2 7 1-11 0 8 1-6 0 9 2-6 0 9 1-15 1 6 0 3 1-7 0 10 3-6 1 8 1-13 0 3 1 3 1-4 1-3 0 14 1-2 1-5 1-2 1-2 1 4 3 0 0 3 0 4 2-8 0 3 2-7 0 10 0 2 1-9 2 1 2 1 0 8 1-6 1-8 0 3 1 7 3 1 1-9 1-2 2 1 0 7 0 2 2-9 0 11 3-5 2-7 1 13 1-14 1 14 1-11 0 9 2 1 1-13 2 3 3-1 0 4 1 3 1-9 4 1 0 2 1 8 2-6 0 5 0 2 1-5 1 4 1-2 1-7 1 10 3-4 1 2 2-8 2 13 1-3 1-11 4 0 0 4 1 2 1-6 0 8 0 6 2-7 0 4 1 2 2-8 2 9 1-14 1 7 1-8 1 15 2-10 0 2 1-4 1 3 0 8 1-2 1-10 0 4 1 4 0 10-1 7-1-5-2-4-1-2 0 9-1-2 0 8-3-12 0 3-2 0-1-5 0 10-1-4-4 2 0 5-1-10-1 2 0 2 0 4-2-9-1 11-2-3-1-7 0 2-1 5-1-2-1 5-3-11-2 0-2-1 0 5-1 7-1-2-1-10-1 3 0 9-1-11-3-3 0 6 0 4-2 1 0 3-1-5-1-5-1 7 0 3-1-8 0 3-5-7 0 6-2-7-1 3 0 5 0 2 0 2-1-11-1 11-1-9-1 4-2-1 0 8-1-3-3 0-1-12-1 4 0 9-1-13-1 2 0 6-2 4-1 2-1-14-1 13 0 2-2-7-1-6 0 8 0 2-2-10 0 7-1-9-4 0 0 6 0 2 0 3 0 4-1-11 0 6-1-3 0 8-1-15 0 13-2-9-2 0 0 7-1-1 0 4-1-7-1-5-1-2-1 2 0 5-1 7-1-14 0 12-1-1-1-7 0 3 0 6-1-7 0 8-1-1-1-10-1 4-1-6-1 1-1 2 0 9-1-4-1 4-2-13 0 12-1-8 0 11-2-7 0 7-1-13 0 7-2-2 0 5-1-12 0 10-2-8-1 1 0 6 0 4-1-1 0 2-1-11-1-3 0 8-1-3 1 12 0 3 1 6 2-8 0 3 2 3 1-4 1 8 1-6 2-1 0 2 0 3 1-8 1 4 1-2 0 4 1 2 0 3 2-12 0 10 3-8 0 2 0 5 0 2 3-10 0 6 0 7 1-6 1-7 1 2 1 7 1-7 0 8 3-11 0 4 0 2 0 5 1 2 1-8 1-4 0 2 0 11 1-9 1 8 1-3 2-2 1-9 0 15 1-11 0 2 0 3 1-7 0 8 2 4 1-10 1-4 0 8 1-5 1 9 0 3 1-4 1-9 0 6 1-4 0 6 1-3 2 6 1-12 0 8 0 2 1-7 1-4 0 14 1-3 0 4 1-12 0 6 1-2 3-5 0 10 1-6 1-4 0 8 1-6 0 2 0 9 1-3 1-11 2 1 1 3 2-5 0 5 0 6 1-1 1 1 1 3 2-14 1 4 0 4 2-3 0 9 1-12 0 7 1 5 2-5 1-9 0 13 1-11 0 5 1-2 0 10 1-4 2-9 0 11 1-13 1 2 0 9 1-11 0 9 1-2 1 2 0 2 1-4 0 6 1-10 1 6 1-4 1-3 2 5 1-3 1 7 1-8 2 1 2 1 4-3 0 7 2-7 1 3 1-3 1 3 0 6 2-10 2 2 0 10 2-13 0 7 0 5 2-4 0 6-4 15-2-6-1-2 0 9-2-4-1-5-1 2 0 4-1 2-1-9-1-3 0 9 0 4-1-10 0 11-1-15 0 2 0 11-2-13 0 4-1 11-1-5 0 4-2-11 0 3-2-6 0 12-2 3-1-11-1-4 0 6 0 4 0 2 0 2-2-9 0 3 0 2 0 3-1-11-2-1 0 12-1-6-2 7-1-12 0 3-1-1 0 2 0 2-1 3 0 3-3-2-1-9 0 10-2-8 0 2-1-5 0 9-1-4-1 5-1-7 0 4 0 6-2-13 0 2-2-3-1 5 0 3 0 6-1-12-1-1-1 8 0 2-1-9-1 2 0 10-1-7 0 4-1-11 0 8-3-6 0 8-2-8 0 5 0 7-2-14 0 7 0 4-1-7 0 8-1-10 0 4-1-3-1 4-1 6-2-9-1-5 0 10-1-3-1 2 0 6-2-12-2-1 0 4 0 4-2 3-1-12 0 9-1-4 0 6-2-6 0 4-2-6 0 4 0 6-3-9-1-4 0 8 0 4-1-2 0 3-2-13 0 6 0 3-1-7 0 2-1-4 0 8 0 3-1-4-1-4-1-1-1-2-1 1-1 3 0 7-1-4-2-8-1 13-1-9 0 2-1-3-2-1-1 3 0 7-1-12-1 14-1-8-1-6-1 1-1 8 0 2-1-5-2-3 0 9-1-7 0 2-1-7-1 10"/><path d="M768 1409l0 14 1-8 1 7 1-13 0 9 1-6 2 7 1-9 0 6 2-6 0 8 2 5 1-13 0 4 3 2 2-7 2 11 1-9 1 11 5-2 1 3 1-2 2 2 3-2 1-6 2 6 2-11 4 0 0 6 12 4 6-10 4 2 15 9 36-10 5-2 7 5-1 13-7 4-5 3-5-8-2 3-3 9-1-6-1-8-9 6-5-3-3 11-15 0-3-2 0 2-2-2-2-2-1 2-1-8-1 5-1 5-3-2 0 3-2-4-1-7-1 3-2 8-3-4 0 3-1-14 0 5-3 5-1-8 0 5-2-5 0 6-1-4-2 3 0 6-1-13-1 5 0 9-2-13 0 2-1 4-2 0-2-2 0 4 0 6-1-3-1-4-2 7-1-2-1-7-1-6-1 8 0 5-2-1-3 2-1-7-1-6-1 8-2-8 0 11 0 2-2-10-1 8-1-11 0 3-3 0-2 11-1-12 1 25 1-2 5 5 2-14 0 14 2 0 1-13 0 3 2 0 2 1 0 2 2-7 2 1 1 7 3-6 2 1 1 8 3-7 1-4 2-1 1 8 1-4 0 9 1-4 1-5 1 4 0 6 2-13 0 4 0 4 2-8 2 9 1-10 2 1 1 6 1 2 1-7 0 5 3 4 2-2 0 5 1-10 2-2 1 7 3 1 0 2 0 3 1-12 0 4 2 1 0 5 1-2 1-9 0 2 0 10 1-14 0 6 2 4 1-8 1 6 2-2 0 9 2-3 2-9 0 8 3-3 0 3 3-2 0 4 1-7 1 6 0 3 1-12 0 7 1-4 3 5 3-10 0 10 0 3 6 1 3-4 0 2 2 1 2 0 3-14 1 15 2-1 8-13 3 7 2-5 1 10 0 11-1-5 0 12-3 0-1-15-2 15-1-12 0 9-2-3-1-3-2 1-2-3-1 9-2-8-1-5-2 0 0 10-1-7 0 5 0 6-2 0-1-5-3-7 0 8-2-10 0 13-1-11-1 11-3-10-2 3 0 9-2-10-2 4 0 2 0 3-1-12-2 6 0 7-1-14-1 5-1-6-4 4-4-2 0 2-2 3-1-7-1 6-6 8-1-2-4-3 0 3-4-7-2 5-3 4-2-3-3 1 0 3-3-6-4 1 0 2-1-5 0 8-5-1-4 0-3-4-1 2-1-11 0 6-2-2-2 1-2 1-1-6 0 2 0 2-1 6-1-2-2-8-1 5 0 2-1-4-2 5 0 4-1-13-1 5-2-4 0 4 0 3 0 2-2-2 0 10 0 2 4-3 0 4 0 6 1 2 1-7 1-5 0 10 0 4 2-15 2 2 1 3 0 10 3-14 0 3 0 8 1-5 0 3 2-5 2-2 0 5 0 5 1-8 2-5 0 8 0 5 2 1 2-13 0 2 0 7 1 2 1-5 1-3 1 3 0 5 2-12 0 15 1-4 1-10 1 14 1-5 1 2 2-7 0 8 1-5 0 3 1-10 0 3 0 11 1-8 1 4 1-6 2-2 0 6 3 0 2 1 1-10 2 5 0 3 2-5 1-3 0 5 0 6 1-4 1 5 1-10 2 3 0 6 0 2 4-12 0 10 2-6 2 3 0 7 1-15 0 11 2-10 1 2 0 6 2-4 0 2 0 3 1-9 0 12 1-10 0 12 2-10 2-3 1 3 0 2 2 1 0 2 1-9 2 0 0 3 1 7 1-2 1-6 0 2 0 6 2-6 0 9 1-3 1-6 2 10 1-4 1-2 3-6 1 2 1-2 1 6 1 2 3 4 2-14 0 8 0 4 2-13 0 8 0 2 1 3 3-9 0 11 1-4 3-2 0 4 2-8 0 2 0 2 3 2 0 10-2-2-1-3-2 6 0 5-1-10 0 8-2-4-1-4-5 1-5-1-2 1-3 0-1-2-3 1-5 10-3 3-2-6-1 6-3-8-1-3 0 7-1-10 0 7-1 6-1-13 0 5 0 10-4-15 0 6 0 2-2-6-1-2 0 13-1-9-3 1 0 9-2-12 0 4 0 8-2-7 0 2 0 2-2-11-1 2 0 9-1-11-1 5-1 2 0 3-1-10-1 2-2 3 0 3-2 5-2-6 0 4-3 1-5 1 0 2-4-13-1 9-1-6-2 7 0 2-2-10 0 6 0 5-1-13 0 11-1-5-1-8 0 12-2-5-1-4-1 6-3 4-1-12 0 4-2 2-1 2-4-4 0 9-2-3-1-7 0 2-1-5 0 8-2-2-1 2-1-3 0 6-4-3-1-9 0 7-3-6 1 15 1 10 1-9 0 5 1 5 1-10 0 2 1 5 2-6 0 4 0 4 3-9 0 2 2 0 0 8 1-5 1 3 0 2 0 3 1-13 1 7 2-2 0 8 1-14 0 9 1 2 1-4 1-6 1 9 1-6 0 10 1-2 2-12 1 3 1 11 2-12 0 2 0 5 3-8 0 14 1-6 1-3 0 5 2-11 2 1 0 7 0 2 2-5 1-4 4 2 2-3 0 8 0 5 3-12 0 3 1 6 1-6 0 4 0 7 1-2 2-2 0 2 2-9 4-3 0 5 0 6 2 2 2-10 0 2 0 7 1-12 3-1 1 3 0 9 3-8 0 5 1-9 2 2 2 3 1 2 1-3 1 4 0 3 0 4 2 0 1-6 1-5 1 3 1 2 0 5 1-11 1 7 2-7 0 11 2-11 0 4 1 4 1-2 1-6 0 2 0 8 1-12 1 2 1-3 1 6 0 5 1-11 0 15 1-4 1-6 0 9 1-3 1-8 0 3 1 4 1 5 1-8 3 3 2-3 0 6 2-6 1-2 0 9 1-2 1 2 2-8 1 7 1-5 0 13 0 10-1-4-1 3-2-4-1-10-3 10-1-10 0 4-1 10-1-9-1 5-1-9 0 13-2-10 0 7-1-3-1-4-1 7-1-2-1 3-1-7 0 2 0 7-2-12-3-2 0 5-1 7 0 2-1-7-1 2-1-8-1 14-1-14 0 6-2-2 0 4 0 2-1-10-1 9-2-4-1 5-1-5 0 2 0 7-1-14 0 3-2 0-1 10-1-4-1-8 0 10-1-12-1 9 0 3-2-12 0 6-2-2-1-2 0 6-1 3 0 2-1-7-2-4-1 2-1 4 0 3-2-9-1 2 0 8 0 2-1-8-1 5-1 2-1-4-2 5-1-10-1-2 0 7-2 4-2-9 0 5-1 3-1-5 0 8-1-13-2 1 0 7-1-5 0 2-1-6 0 9-1-7 0 12-2-9-1 2 0 6-1-2-1-9 0 12-2-12 0 6-2 0 0 6-2-14-1 8 0 4-1-8-1-4-2 12-1-8-2-1 0 6-1-4-2-5-2-1 0 4 0 7 0 2-2-10-1 8-2-11 0 5 0 5 0 4-2-7-1 4-1-2-1-8-1 6-1-2-1-5-1 5 0 9-1-6-1-6 0 2 0 7-1 4"/><path d="M905 1418l1-5 4 5 5 1 4-4 4 2 3 2 2-7 21-2 0 8 19-10 1 8 7-5 32 6 14 22-7-5 0 5-8-9-4-4 0 9-3-7-7 6-8-1-8 4-6-9-1 10-2-6-5-7-4 11-3 3-3-13-5 5-5 7-6-3-11-3-5-7 0 8-7-8 0 6-3-2-9-4 0 18 1 7 0 5 3-13 7 11 3-11 22-2 4 4 12 2 10 0 16 2 6 2 5-7 4 2 14 4 9 5-4 6-2 3-6-7-1 9-4 3-2-3-3 3-19-4-1-4-3 3-10 6-1-12-14 2-13 10-9-3-6-1 0 5-2-13-2 7-1 4-1 3-1-2-1-2-6 3-1-8-1-2-1 3-2 1-2-7 0 4-2-2 0 8-1 19 1-10 0 3 0 4 1 3 2-14 0 3 1 11 1-13 0 4 1 2 1-5 1 2 0 10 3-12 1 10 2-11 0 5 0 2 1 6 3-3 2-9 2 10 1-10 2 2 0 5 0 5 2-3 0 2 3-12 1 10 0 4 1-10 0 3 1-5 1 9 1-8 1 9 1-12 0 5 0 5 4-11 0 5 0 5 2-4 0 5 1-11 3 0 0 6 2 5 2-3 0 4 2-6 1-5 0 11 1-8 0 10 1-3 1-6 4-2 0 3 0 6 2-9 1 9 0 2 1-8 1 9 1-6 2 2 2-1 0 3 2 0 4-12 0 13 3-3 2 4 1-4 1 4 6 0 1-2 3 2 2-6 6-2 6 3 4-8 13 13-2 6-2 10-2-4-2-1 0 2-2 0-2-11-2 9 0 2-1 3-3-1-2-11 0 2 0 3 0 4-2-5 0 4-1-6-3-5 0 9 0 2 0 2-1-6-2-6 0 8 0 4-2 0-1-11 0 2-2 3-3 3-1-8-1-2 0 13-1-8 0 2-1 4-1-9-1 11-2-12 0 14-1-8-1 8-2 0-1-12 0 6-1-8-1 12-1-6 0 4-1 4-1-7 0 4-1-8-1 10-1-13 0 4-2-3 0 2 0 7 0 2-1-13-1 11-1-9-1 6-2 1-1-4-7 2-1-3-1-4 0 7 0 2-1-6-1 6 0 6-3-10-3-4 0 4 0 9-2 0-1-14-3 4-6-4-1 14-1-11-1 8-2-11-1 14-2-13 0 9-2-7 0 4-1 5-2-10-1 6 0 3-1 2 0 2-1-14-1 11-1-11 0 5-2 5-1-11 0 7-1-5 0 8-2 2-1-9-1 3 0 3 0 2-2-8 0 3 0 9-1-7-1 19 0 3 1-7 2 4 1-3 1-3 0 8 1-3 2 4 1-6 2-7 0 14 2-11 7 2 0 9 2-15 0 5 1 4 1-9 0 11 2-10 2 1 0 2 0 10 1-5 1-7 1 7 1-8 2 14 1-3 1-9 0 4 2 4 1-6 1-5 0 2 0 6 1-3 1-5 1 14 1-12 4 0 1 4 2 6 3-7 1 8 2-13 0 11 5 2 3-8 0 7 2-5 2-7 0 7 0 2 1 3 2-6 1-5 4 1 3-1 2 2 3-3 0 3 1 4 1-4 2-3 1 6 1 2 1-2 3-1 1 3 1-3 1 2 2-7 1 3 1 4 2-6 2-1 0 8 2-6 2-1 0 5 2-2 2-3 1 7 0 3 1-9 1 7 2-2 0 8 1-15 1 5 3-4 1 7 1-2 1-3 0 5-1 8 0 11 0 3-1-10-1-4-1 10-1 2-1-12 0 14-2-9-6 3 0 7-2-6 0 3-2-1-2-2 0 2-1 4-2-8 0 4-2 4-2-3-3-1-1 2 0 2-2-3-2-2-1-3 0 6-3-2-1-6-1 5 0 3-1-11-1 7-1-2-1-3 0 6-1-8 0 13-1-6 0 4-2-1-1-11-1 5 0 3 0 4-3-11 0 4-1-6 0 14-1-9-3-5 0 8-1 2-1-3-1-7-1 7-3-1 0 2-1 2-2-6-1-4 0 6-2 2 0 3-3-11 0 6 0 4-3-8 0 6 0 7-1-5-2-4-1-5 0 7-1-5 0 3-2 1-1 6-1-2 0 4-2-14 0 6-1 8-1-9 0 5-1-10 0 2 0 6-1-2-2-6 0 4-1 7-2 0-1 2-1-6 0 4-2 3-1-13-1 10-1-8 0 2-1 6-1-11-2 13-2-10-1-2 0 8 0 2 0 2-4-2 0 3-1-8-3-6 0 7-2-6 0 12-1-8-1 7-1-13-1 12-1-12 0 15"/><path d="M1025 1418l2-10 6 12 17-7 7 2 1-5 2 8 6 5 5-4 2 3 1-2 1-9 1 8 2 2 1-9 2 5 3-2 0 4 3-5 0 4 0 2 2-7 4 6 1-6 1 4 1-2 1-3 0 8 0 2 2-1 1-5 1-2 1 7 2-1 0 2 2-5 1-6 0 3 0 7 3-6 0 2 2 1 0 4 2 0 1-11 0 9 2-2 0 3 1-5 1-2 1-6 0 4 1 4 0 4 0 2 3-12 0 8 1-10 0 14 1-2 2 0 1-11 0 4 0 4 2-3 6 1 0 5 2-1 2-2 1-2 0 8 1-5 2-4 0 8 1-3 4 0 1-11 0 2 0 4-5 12-2 6-1 5-2-8-1-5 0 12-1-10-2 2-2-2-2 9-4-10 0 4-4-3-1 6-2 7-1-12 0 3 0 2-1 6-1-11-1 5-1-5-1 3 0 9-1-7-2 5-1-9 0 2-1-6-1 7 0 3-1 4-2-4-1-7 0 2-3 2-6 3-5-5-18-5-4 1-4 10-1-4 0 7-2-5-2 4-2-4-3-1-6 7-9 0-6-4-3 4-5-12-3 19 6 3 5-8 2 13 1-7 5 4 2 3 10-13 11 0 0 9 2-9 2 14 33-14 1 11 1-10 1 8 2-5 0 9 1-13 0 9 1 2 3-11 3 8 2-9 2 12 2-1 0 2 3-12 0 9 2-3 1 3 1-2 2 7 1-3 1-8 1 6 0 2 2-7 2-1 1 7 1-10 0 6 4 5 1-8 1-2 0 11 1-8 0 3 2 7 1 14-1-10 0 2 0 5-1-9-2 0-1 8-1 3-2-5-1-6 0 4-4-3 0 2-3-2 0 3-5-5-3 0-1 3-3-2 0 4-1 8-1-13-1 11-1-8-3 0-2-3-4 8-2-7-2 1 0 2-2-1-1 5-1 2-1-7-1 5-3-4-2 2-8 3-5 6-9-10-2 10-11 0-17-15-2 14-4-8-1-4 3 27 11-13 1 9 12 4 2-13 5 10 6 1 16-3 3 5 11-11 31 13 9-11 1 7 1-6 0 9 1-13 1 4 0 5 1-10 1 12 0 2 0 4 0 7-1-4-1 5-3 5-3-7 0 2 0 5-1-3-2 0-9-1-2 4-4-8-6-1-22-4-8 8-1 4-14-14-10 0-2 15-12-15-3 4-3 9-9-3-11 6 0 14 1-7 0 3 2 3 1-9 0 2 1 5 2 1 1-11 0 3 0 5 1 4 2-4 1-4 0 9 2 1 4-7 2-4 2 6 0 2 1 2 2-2 3-9 14 10 4-3 5-7 0 10 3-2 0 4 4-9 9 0 14-3 1 4 1-7 10 8 13 1 7-2 2-7 3 1 0 2 2-2 7 11-11 19-1-4-2-9-3 7-2-9-7 3-11 5-12-8-3 12-9 1-7-5-9-1-8 4-2-1-1-4 0 2 0 4 0 3-4-7 0 6-1-9-1-3-2-2 0 3 0 8 0 4-2-8-1-7-1 5-1 2-1-6-2 0 0 10-1-5-1-6-1 14-1-9-1 4-1-9 0 14-2-10-1-3 0 9-3 0-1-3-1-4 0 2-3-3-1 4-4 9-1-14"/><path d="M1153 1416l3-7 0 4 6-5 3 1 6 6 0 4 2-1 3-3 2 7 1-9 12 4 0 5 3-1 6 2 19 14-2 1-1-1-4-4-1 0-2-3-2 8-1-9 0 5-1-5-3 6-3 4-5-2-3 2-3-15-1 14-1-6-1 2 0 5-2-12 0 4 0 5-3-4-3 1-2-6-1-3-22 13 1 16 1 2 10 0 2-14 5 12 1-3 1-3 0 6 2-4 2-8 0 6 1-2 2 9 1-7 2 1 0 4 3-7 1-5 0 7 1 5 2-4 1-5 2 10 2-3 1-8 4 3 1 5 1-3 3 0 0 8 1-10 1 5 1 3 2-13 0 12 2-11 0 10 2-11 4 8 1-8 1 12 1-10 0 0 1 4 1 0 2 5 1-3 1 0 2 4 1 1 0 1 3 1 8 14-2-3 0 4-1-5-1-5-2 4-1 5-1-13 0 5 0 2-1-6 0 9 0 5-1-10-4 6-1-11-4 14-2 0-1-10-1 8-2-8-6-1-1 7-1-5-1-3-2-1-3-1 0 3 0 8-1-3 0 6-1-2-2-12 0 2-3 6-1-7 0 12-2-9-1 4 0 3-3-10-2 6-2-5-8 7-5-1-7-5-3 1-2-3-3 4-3-2-1-3 0 7 38 22 1-13 3 0 1 6 2-2 0 3 2 8 1-13 0 8 1-2 0 5 2-6 2 1 3-3 1-5 1 2 0 7 1-4 3-1 2-3 0 2 0 8 2-10 0 4 3-4 0 2 1 7 2-5 0 7 1-12 3 4 2 1 11-4 0 1 4 3 0 4 2 6 1-3 9 18-1 1-3-10 0 4-3-6-11 11-1-10-11 4-2 2 0 2-2-12-2 14-1-8 0 2-3-1 0 2-1-9 0 12-1 3-1-9-2-3-1-3 0 5-2-1 0 2 0 2-4-4 0 3-1 5-1-12-1 3 0 6-1-3-2-2 0 10-2 1-1-10 0 5-1-2-1 2-3-4-2 9-1-4-1-2 0 6-5-2-1-2-1 2-4-2-1 2-1 2-4-4 0 2-1-6-3-1 0 2-2 2-2-1-2-3-2-1-4 9-1-14 15 17 2-1 2 1 2 1 2-1 0 2 1 8 2-11 1 5 1 4 2 0 0 2 1-8 0 2 3 0 0 10 4-12 0 5 0 3 1 4 1-12 0 4 1 3 1-5 0 7 2-8 0 10 1-5 2 0 2-4 1 6 1-9 0 13 1-3 2-12 0 14 1-3 1-9 2-1 2 14 1-9 2 6 2-6 0 2 0 3 1-9 2 2 0 4 1-2 1 7 1-5 1-2 0 6 1-12 2 12 1-8 1 6 4 3 2 1 5 1 16-12 2 5 1 2 0 5 5 12-2 1-2-9 0 0 0 3 0 5-3-1-1-5 0 3-9-3-5 2-2-2-2-3-1 3-3-2-5-1-3 2-1-3-1 9-2-8 0 2-1 8-1 3-1-6-1-2 0 8-1-2-1-8 0 3-1-8-3 4-2 3-1-4 0 2-1 2 0 2 0 3-2-4-1-6-1 8-1-6-1 11-1-9 0 3-1 4-1-6 0 3-1 2 0 2-1-10-1 10-1-13 0 4-3-1 0 4-1 4-1-11 0 3 0 5-2-2 0 5 0 3-1-14 0 9-2 5-1-4 0 2-2-5 0 5-3-4-1 3-2 1-11 2"/><path d="M184 1540l1-1 1 5 2 1 0 4 1-9 0 2 3 5 6-3 2-7 0 4 3-2 2 3 1-4 0 13 1-9 0 5 2-5 0 2 1-4 2 8 0 3 1-6 3 1 1-2 0 7 7-3 2-3 1 2 8 0 2 3 1-6 3-2 0 2 0 2 2-4 1-3 2 7 0 4 1-13 2 1 0 8-1 7-5 3-2 3-2-6 0 10-1 3-1-9 0 4-2-9 0 3 0 9-1 3-1-11-1 2 0 5-1-9-1 5 0 6-1-13 0 5-1-2 0 12-2-11-2-3-1 3-3-3-1 6-1-2-1 10-2-2-1-11-1 4-1-5 0 13-2-1-1-10-1 5-1-3-2 3-1-2 0 4-1-6-3-1 0 6-2-4-2 5 0 3-1-6-2 1 0 3-1 2 0 1-1-11 0 2 0 4-2-8-1 3 1 13 3 3 1 3 1-5 1 8 1-8 0 4 0 5 1-2 1-3 1 2 0 2 1 3 3 2 1-15 4 7 2-7 1 3 1 2 3 0 0 2 0 2 7-6 0 2 1-4 1 6 1-5 2 0 3 1 3 0 1 11 1-8 1-5 0 12 1-7 4-5 0 9 1 5 2-3 11 16-1-3-1 4 0 2-1-9-3-3-1 5 0 2 0 3-1-9-1 8-1-2-2 2-1-5-1 5-3 2-1-12-13-1-3 6-4 6-15-11 0 3 0 2-1-2-2-4 0 8-1 1-1-8-1-2 4 16 1 2 2 3 3 3 1 0 1 4 1-3 2 2 2 4 2-1 3 0 1-4 2 0 2 0 1-4 0 8 2-3 0 4 2-2 1-5 1 5 1-3 1-5 0 2 1-5 1 3 1-2 1 4 1-6 0 4 4-2 2 2 6-3 5 2 1 16-1 7-1-4-4 8-3-8 0 5-2-4 0 6-7-3-5-2 0 4-2-6-1 4 0 4-1-13 0 2-2-2-10 12-1-12-2 0 0 5 0 5-1-7-1 4-1-5 0 2-1-4 6 18 2-4 0 6 1 8 1-4 8-7 4 5 4-5 2-1 0 8 1-3 1-7 0 11 0 4 2-14 0 3 0 7 3-2 1-3 0 5 1-9 0 7 2-8 0 4 0 7 3-6 0 3 3 1 0 4 1-2 0 7-1 8-1-4-1 7-1-12 0 7-2-1-1-2-2-1 0 9-1-3-3-7-5-4-3 6-2-2-2 6-1 2 0 2-1-10-1 6 0 2-1 2-1-10 0 8-1-3 0 1-1-7-1-2"/><path d="M256 1539l10-3 8 10 16-4 2 6 8-10 6-1 12 8 11-5 8 1 2 3 9-1 1-4 0 7 1-10 2 5 0 3 0 5 1-11 1-2 0 12 1-2 1-7 2-2 0 5 0 3 1 3 1-5 1-4 1 7 1-2 0 6 3 0 1-13 0 3 0 7 2-4 3-6 3-1 0 3 0 5 2-7 0 12 1-10 0 2 1 6 1-3 1-8 0 11 2-6 0 5 0 4 0 3 0 8 0 6-1-9-1-4 0 7-1 4-1-9 0 6-1-10-1 2 0 4 0 6-1-12-2 8 0 4-2-2 0 4-1-8-2 5-2-7 0 2-2-1 0 6-3-2-1-9-1 5-4-3 0 2-1 4 0 3-1-6-1-4 0 13-7-3-8 2-1-5-19-1-5 0-8 4-6-10 0 5-5-5-4 5-11 5-6 1-10 2-2-8-4 9 7 8 9 5 14 0 3-9 5 5 4 1 4 3 5-12 5 0 7 10 1-9 5 2 10 7 6-1 6-1 12-6 0 5 3 8 1-15 0 10 2-3 2 0 4 6 2-2 1-10 1 7 0 6 2-2 1 2 1-8 1-6 0 14 1-6 1 4 0 8 0 5 0 5-2-4-1-9-1 3 0 4 0 4-1-10 0 4-1-6-1 2-1 13-2-7 0 4-2 1-5-9-2-3-11 14-5-6-1-5-5-4-7 2-12 5-6-2-2 10-7-13-20-2-1 14-7-1-11 1-2-1-2-5 0 5-5-5-1 5-3 4 0 10 1 3 1-11 0 2 0 3 1 4 1-8 1 4 1-2 1 8 1-8 1 4 1 2 0 2 1-9 0 2 1 4 0 3 2-2 1-9 0 11 3-1 6 1 7-10 2 7 2-4 9 6 7-11 2 11 14-6 3-6 0 9 11-9 15 4 4 4 9 2 2-5 7 1 3-5 1 6 3-6 0 12 2-8 0 3-25 8 0 7-10-3-3 9-13-11-25-2-13 3-6 11-1-3-2-7 0 8-2-11 0 6 0 5-1-3-2-7-1 3-1-5 0 10 0 4-2-9 0 7-2-9 0 5 0 4-2-10-1 3 0 7-1-10 0 5-2 1-2-8-1 10-3-9 0 6-1 6-2-13 0 12-2-6-1 7 1 8 0 9 1-11 1 2 1 2 1-4 1-3 0 6 0 6 1-9 2 4 2 1 1-8 1 14 1-9 1 6 1-4 1 7 1-15 0 3 2 4 0 4 2-4 1-6 0 12 1-3 1 4 1-7 1-7 0 5 1 8 1-8 2-4 2 11 0 3 2-5 3-4 0 6 0 3 1-5 1-5 0 3 0 5 2-2 1-2 1-6 7 8 1-8 3 11 14-5 1-5 4-4 10 6 9 4 6-3 7 3 5 3 4 1 11-7 0 12-10 9-14-12-7 5-4 5-6-4-9 5-5-10-10 5-22-5-1 2-2 5-1 5-1-11 0 6-1 7-2-15-2 14-1-3-1-4-2-7 0 6-1 2-2-7-2-1-2 9-2-5 0 5-1-8 0 10-2-6 0 3-2-6-1-2 0 9-2-4-1-2 0 7-1-9-2 8-1-8 0 3 0 2-3 3 0 2"/><path d="M384 1536l0 2 4 13 2-3 5 0 2-6 2-2 0 2 1 3 1-9 2 12 1-10 0 5 0 3 1 2 1-10 0 7 1-3 2-5 0 10 1 2 1-13 2 8 1-3 5-1 0 10 2-9 0 5 1-10 0 2 1 5 2-7 3 2 0 9 1-5 2-3 0 4 0 6 2-4 0 5 1-8 0 6 2-11 0 6 2 1 0 2 1 3 1-11 1 4 0 6 2-12 0 4 0 10 1-12 0 5 0 4 2 1 1-7 1-5 1 10 0 2 2-10 0 13 1-9 0 6 1-10 1 2 0 3 0 3 2 4 10-7 0 4 1-7 0 11 1-6 1-9 1 2 0 3 0 4 0 2 2-3 1 6 3-10 0 9 2-10 0 7 2-5 0 10 2-10 0 5 0 3 1-11 1 12 1-14 0 6 1 4 1-10 0 15 1-2 2-12 1 13 1-13 1 7 0 6 2-12 0 3 0 3 0 7 1-5 1-5 2-5 0 13 2-3 1-9 1 11 1-7 1-5 0 10 1-2 1-4 0 7 2-4 1-4 1 16-1 4 0 2 0 6-1-11-1 10-2-9-1 10-2-15-3 1 0 8-2-7 0 5 0 4-1-7-2 5-2-6 0 8-2-11 0 11-1-8 0 3 0 3-2-4 0 4-2-1-1 3-2-11 0 4 0 6-1-4-2 5 0 4-1-12-2 0 0 6-1-9-2 4 0 4-2-6 0 10-1-2-1-7-1-3 0 9-3-7 0 4-1 2-5 3-1-3 0 6-1-2-1-6-1 4-1-3-1 5-1-7-1 2 0 5-2-9-1 4-1 4-1-3-2-1-1-4-2 8 0 4-3-13-1 2 0 3 0 6-2-4 0 3-2-9 0 7-1-2-2-5 0 2-1 5 0 4-1-14 0 4-1 4-1-3-1-4-1 4 0 8-1-3-1 2-1-7 0 5-1-3 0 7-3-6 0 3-1-11 0 15-1-4-4-4 0 6-2-9-1 4-2 2-2-5 0 4-1-9 0 12-2-12 0 6-1-2-1 9-8-4 0 2 0 4-2-10-1 8-1-11 0 2-4 1 0 21 1-5 1 4 0 6 1-3 1-2 2-1 2-6 0 7 1-5 1 2 1-4 0 8 1-5 1 3 0 3 1-8 3-3 2-1 2 1 4-1 7 11 0 2 2-10 2 2 0 8 4-12 0 2 0 7 2 2 1-10 0 5 1-2 0 6 2-5 0 6 0 2 3-2 2-8 1 8 1-9 1 4 1 3 2 0 0 5 1-10 1-3 0 6 2-4 0 6 0 4 1-12 1-2 0 9 3-1 1-5 0 3 1 2 1 7 2-15 1 3 1 3 3-3 1-2 1 4 0 3 1-6 1 4 1 6 1-2 1-9 0 3 1 3 0 5 1-3 0 5 2-4 3 3 5-8 1-4 0 8 1-6 1-3 0 12 1-4 1-6 2 2 1-4 3 13 2-11 5 1 0 12 2-13 0 12 1-14 1 11 0 4 1-14 1 2 0 3 1 7 2-5 1-4 0 7 1-11 2 12 1-2-1 7-2 2 0 10-1-2-1-6-1-3-1 7 0 3-2-11 0 11-2-1 0 4-1-9 0 3-1 2-1 2-2-10-1 7-1-9-1 8 0 5-2 1-1-10 0 5 0 2-3-2-2-5-1-2-1 5-1 5-1-11 0 7-1 2-1-4-2-7-1 2-3 1-3-1 0 2-4 11-2-4-2 3-6-2-2-11 0 6 0 6-1-9-2-4 0 7 0 4-1-7-1-3-2 3 0 10-3-13-2 14-6-7-2-3-2 6-1-10 0 5-1 3-1-9 0 2 0 5 0 4 0 3-2-12-1 3-2-1-1-4 0 10-3-10-7 2 0 13-3-2-2 0-2-8-1 2 0 3-2-7-1-2 0 12-1-10 0 5 0 7-2-9-1-2-3 5 0 2-1-11 0 5 0 10-1-3-2 1-4-12 0 5 0 4 0 3-1 8 0 3 3-8 1 11 0 3 1-7 1 6 2-1 2-3 2-7 0 3 0 7 1 3 1-12 1 6 0 4 1-8 0 2 1 5 2-1 4-1 1-6 1 3 5-4 0 3 1-6 0 14 1-9 0 4 1-6 0 10 4-4 1 2 0 2 2 2 7-13 1-2 3 9 3-3 0 2 1 2 2-3 1-5 2 8 0 2 0 3 4-1 7 1 4-15 0 2 0 4 2-6 0 2 2-1 0 6 1 4 3-6 2-1 2-3 0 9 1 4 2-4 1-7 1 12 1-3 2 1 1-13 3 3 0 11 1-2 2-10 2 12 1-13 0 3 1 5 2 6 2-12 0 5 1-8 1 11 3-7 0 4 0 4 0 2 1-8 1-4 1 10 1-7 0 10 1-3 1-5 0 2 5 18-2-6-1 3-1-5-1 6 0 4-1-11-1 6 0 2-3-7-2 3-1 5-1-10 0 13-1-7-4 2-1-8 0 14-2-13-4 5-2-3-1 8-1-8 0 4-1-7-1 6 0 3 0 3-2-9-1-2 0 9-6-6-3 7-1-7 0 5-2-1 0 3-1 2-2 0-1-9-1 5-2 2-2-2-1-10-3 2 0 3 0 8-1-5-2-7-5 14-3-4-4-1 0 5-3-4-1-6-1-2-1 3-1 4-1 5-1-8 0 2-1 5-2-13 0 9-2-1-1-7-2 1 0 2-2 10-5-14 0 14-1-12 0 2 0 6 0 2-1-4-1 2-3 4-2-15 0 4 0 5 0 3 0 3-3-1-2-7-2 4-1 4-2-7 0 7-1-12-2 1 0 9-2-8-2-3 0 3-3 22 10-9 4-2 0 6 2 2 0 6 1-4 2 0 1-7 0 10 1 2 1-13 2 9 1-8 1 12 2-6 1 6 1-5 2-3 1 4 2-7 1 4 0 4 0 3 3-7 0 4 2 0 2 1 4-13 1 3 0 7 4-8 1 5 2-7 0 6 2-5 1 12 1-6 1-4 0 10 2-4 1-8 0 4 1-2 1 6 0 3 2-8 0 10 1-8 2 4 0 2 2-9 0 5 1-7 1 8 2 6 1-14 1 12 0 2 1-12 2-2 0 9 1 5 2-13 0 5 0 5 2-11 0 2 1 5 1-8 2 3 0 8 1-3 1-5 0 7 0 5 1-7 0 5 1-9 1-3 1 3 0 6 2-3 3 1 1 2 0 4 1-8 1 6 1-11 2 11 4-11 0 12 1-3 1 5 1-12 0 4 1-6 0 8 2-7 1 4 2-5 1 6 1-3 2 9 3-5 0 7 0 4-1 2 0 3-1 6-1-11 0 8-2-11 0 14-3-1-1-8-1-2 0 5 0 3 0 3-2-8 0 2-2-2-2 8-1-7-1-6 0 11-1-4-3 3-3-3-1-7-1 3-4-2-1-2 0 7 0 7-6-14-2 2-1 9-4 0-1-2 0 5-1-2-1-5-3 1 0 3-1-7 0 2 0 9-3-11 0 4-2 2-1-8 0 4-1 8-1-13-2 4 0 3 0 4-2 3-4-9 0 9-3-5 0 2-1-5-3-1-1 8-2-14 0 6 0 2 0 2-1 2-2-11 0 9-2-8 0 6 0 4-3 2-1-14 0 2 0 7-2-6-1 6 0 3-2-11 0 5 0 2 0 3-1 2-1-5-1-8-1 5 0 7-1-3-1-3-1-3-3 0-4-1-1 12-3-12-5 0 0 6-4-5-3 5-1 7"/><path d="M516 1547l4-2 1 3 1-3 0 5 3-8 0 3 0 2 2-11 0 12 1 2 1-12 1 5 2 6 1-2 2-9 0 11 0 2 2-8 1 7 1-8 2 6 2-12 0 2 2 7 1-7 0 3 1 2 0 2 2 1 0 3 1-13 1 5 0 2 2-5 0 4 0 6 2-10 0 9 1-7 2-1 1 7 0 4 2 0 2 1 1-5 1 2 1-10 0 8 1-4 1-3 0 9 0 3 2-9 0 4 0 3 2-12 1 7 5 4 1 2 1-7 5-6 0 14 2-7 0 6 1-2 1 3 1-2 1-13 1 14 1-4 1-7 2 6 0 3 2-9 0 2 2-4 0 5 2-4 0 3 1 5 2-1 1-6 0 3 1 6 1-5 1-7 0 12 0 2 1-11 4 5 0 2 1-7 2-2 0 9 2-3 1-2 0 6 2-11 0 8 1-4 1 2 0 4 3-9 1 6 0 5 1-12 0 15 1-8 1-6 0 13 2-1 2-9 0 4 0 5 2-4 0 3 2-11 0 29-2-11-2-2 0 8-2-4 0 9-2-6-1-2 0 8-1-13 0 9-2-6 0 4-1-7 0 9-2-8 0 12-2-11 0 9-2-7-1-3 0 5 0 5-2-12 0 6 0 4-1-8-2-1 0 8 0 4-1-7-4 7-3 1-1-2-1-8-1 5-2 1-1-3-1 7-1-8 0 2 0 4-1-12-2 3 0 8-1-11 0 8-2-6 0 13-1-7 0 4-1-9-1 5-2-7 0 8-2-4-2 1 0 9-2-6-1-5-1 6-1-8 0 6-1-3-1 4-1-7-1 4 0 9-1-12 0 5-2-6-1 10-1-10 0 6 0 2-2-4-1 3-2-1 0 3-2-2 0 2-1-9 0 4-2-6 0 14-1-11-2-3 0 11-2-9 0 9 0 3-1-9 0 3-2 0 0 2-1-10-2 7-1-7 0 10-2 0 0 5-1-7-1 5-1-8-1 8-1-7-2 7 0 2-3-9-2-2 0 5 0 2-1-5 0 8-1-3-1-10-1 3-1 8-1-2-1-4 0 7-1-11-1 5 0 5 0 3-2-12 0 5 0 6-2-14-1 2 0 5-2-5 0 6-2 5-1-11-1 9-1-5 0 11 0 5 0 2 1 2 2-2 1-6 1 9 0 2 1-5 3-4 0 5 0 5 1-2 2-10 0 2 0 10 1-3 1-8 1 9 1-11 0 2 0 3 1 3 1 3 0 3 1-10 2 1 0 3 0 6 2-14 0 5 0 6 2-1 1-2 0 5 1-13 1 3 0 6 3-10 0 4 1 4 0 5 2-11 0 3 1 6 3-7 0 6 1 2 3-12 0 10 3-3 0 2 2 4 2-4 0 2 2-10 0 8 0 6 2 0 1-8 2 5 1-11 0 6 1-3 1-2 0 9 2-5 1-3 1 3 0 4 0 5 1-2 1-12 1 6 1-4 1-3 0 6 1 5 1 4 1-13 0 2 1 10 1-6 0 2 0 2 2-11 0 13 1-7 1-6 1 3 0 4 0 5 2-2 1-5 1 3 0 2 0 3 1-13 4 13 1-14 3 3 0 2 0 7 1 3 1-12 2 2 0 7 2 0 0 3 2 0 3-12 0 3 1-6 0 13 3-3 1-9 0 7 2-8 0 4 3 7 0 2 0 2 1-15 1 4 5-4 0 3 0 5 1 5 1-13 0 9 1-4 1 3 4 21-1-10 0 2-1-4 0 7-2-7 0 2 0 7-1-5-1-2 0 4-1-6-2 3 0 4-3-5 0 5 0 3-1 4-1-14-3 2 0 5 0 4-7 3-2-3 0 2-1-9 0 2-2 3-1-7 0 5-1-7-2 0-1 8-1 3-1-9-1 4 0 2-1-6-2 9-2-12 0 7 0 4-1-8 0 6-2 3 0 3-1-11-1-3 0 6 0 7-2-9 0 5-1-3-2 3 0 5-1-15 0 2-1 7-1-4 0 7-1-5-1-2 0 6-1-10 0 13-3-11 0 3-2 1 0 4-1-2 0 4-2-4-1-7 0 12-1-10-1-2 0 4 0 3-3-8 0 5-1 3 0 4-1-12-2 3 0 6-1 3-1-12-1 2-2-2-2-1 0 7 0 7-2-6 0 6-1-14 0 2-1 11-2-13 0 6 0 5-1-8 0 10-2-1-1-2-3 1-1-2-1-5 0 9-2-6-2-4 0 11-1-9-1 5-2-7 0 3-2 4 0 2-2-9-1 11-2-8 0 4-1 3 0 2-1-4-1-3 0 6-1-9-1 4-1-2 0 5-2-8-1-4 0 6-1 8-3 0-1-12 0 7 0 16 0 5 1-11 1 2 0 7 1-9 1 11 1-6 0 4 1-12 0 4 1 5 1-3 0 8 2-6 2-6 0 2 0 6 2-6 1 8 1-8 0 6 2-2 1 3 0 3 1-5 1 6 2-11 0 7 1-3 0 5 0 2 2-2 1-6 2-4 1-3 0 7 0 5 3-10 0 5 2-3 0 2 2-1 1-2 1 3 2-6 0 2 1 3 2-5 2 7 2-1 0 9 2-14 1 11 0 2 1-13 3 0 0 9 2-9 1 3 0 2 1-6 3 4 0 7 1-9 0 6 2-6 0 9 0 4 1-7 0 5 1-12 1 11 1-5 1 5 2-5 0 2 3-5 0 4 3 0 1 4 0 3 1-12 1 5 0 6 2 0 1-4 1 4 1-13 0 6 1 6 3-8 1 10 1-10 0 2 0 2 0 4 2-13 1 3 1 7 0 3 3-1 0 2 1-10 1-3 0 5 0 3 2-4 1 7 0 2 2-11 0 2 3-5 2 11 2-10 1 8 0 6 1-11 2 8 1-8 1-2 1 2 1 3 2-5 3 3 0 6 1-3 0 8 0 4-1 11-1-9 0 6-1-3-4-1-1 3-1-10-2 9-1-9 0 11-1-3-2-9 0 5-2 2 0 5-2-9 0 2-1 9-2-7-1 7-1-12 0 2 0 2-2 7-1-9-1 10-1-14 0 8-1 3-1-11 0 6-1 7-1-9-1 5-2-1-1-7 0 3-1 2 0 2-2 2 0 2-2-7 0 5-1 2-1-7-1-4 0 6-1 5-2-9 0 8-1-5-1 3-1-4-1 7-1 3-1-8-1-2-1 8-1-7-1 4 0 2 0 3-3-11-1 3-1 3-1-7 0 9 0 2-2-14-1 9-1-9 0 14-1-4 0 2-3-1-1 2-1-10-1 4 0 2-1-7 0 9-2-7-1 7-1-9-1 8-2-1-2-5-1 4-3 2-1-2-1-7-2 11-2-12 0 2 0 5-3 4-1-5-2-1-1 3-2-7 0 5-2 9-1-10 0 5-2-9 0 14-3-14-1 6-1 8-1-10-1-2 0 11-2-9-1 6-1 4-2-4-1-4 0 7-1-12 0 3-1 7-2 4 1 12 0 3 1-13 0 3 0 3 1 2 1-2 1-7 0 13 2-7 1-3 0 9 1 2 1-9 0 2 0 3 0 2 2-7 3 2 1-6 0 9 0 2 2-4 1-8 0 4 0 9 2-10 0 7 0 2 1-4 1 5 1-13 0 9 2-10 0 10 0 2 1 2 1-6 1-2 2 0 0 9 1-5 1-5 1-3 0 7 0 2 2-2 3-3 0 9 1-2 2-9 0 7 2-8 1 11 2-11 0 12 1-8 0 4 2-10 0 3 0 9 2-10 1-2 2 13 1-4 2-5 0 5 0 3 2-8 1 7 2-1 0 3 1-14 1 4 1 10 1-12 1 9 1-7 0 5 0 4 1 2 1-7 0 2 4-9 1 5 0 7 1 2 1-13 1 2 1-3 0 8 2 1 1 4 1-11 0 5 2-7 1 7 0 7 2-15 0 6 2-4 0 9 1 3 3-12 3-1 1 5 0 6 1-8 0 5 2-6 2 8 1-5 1 8 2 1 2-14 0 6 0 8 2-8 0 8 3-13 3 8 0 3 1-5 2-6 0 3 2-5 0 7 1-5 1 11 2-1 0 2-1 9 0 8-3-15-1 13-2-9-3-4-1 6-1-3-9-1-1 6-2-6-3 6-3-8-2 12-1-11 0 6 0 8-1-3-1-11 0 14-3-5-1-9-2 6-1-3-2 4-1 4-3-11 0 9-3 4-1-14-1 4 0 5 0 5-1-3-5 4-2-14-2 11-6 3-5-15-1 12 0 2-2-14 0 9-1 2-3 3-1-3-1-6-1 4-1-8-2 1-1 13-1-7 0 5-2 0-1-5-1-6 0 12-1-5-1-2 0 4-2-4-2-1 0 5-1-8-1-3 0 7 0 4-1-2-1 3-1-3-1-3-2 4-1-7 0 3-2-4-2 6-1-6-1 3 0 10-2-11 0 2-1-5 0 14-6-10 0 2-2 3 0 4-2 0"/><path d="M640 1545l0 4 1-8 2-1 0 4 1 3 0 3 1-5 1-7 1 11 1-13 2 5 1-3 0 10 2-11 0 2 0 3 2 9 1-8 0 2 1 3 2-11 0 6 1 3 10 3 2-13 2 5 4 5 1-10 0 14 1-13 0 10 1-8 0 10 0 2 1-6 2-6 0 8 2-6 1-3 1-2 0 4 1 1 0 6 1-9 2 9 1-8 2-1 0 7 0 4 1-9 0 7 1-9 1 3 0 8 3-10 0 3 1 6 1-12 0 10 1-5 0 7 0 3 2-13 0 6 1 3 1-2 0 5 3-14 0 5 1 1 0 8 1-9 0 2 0 2 1-7 0 11 1-13 1 10 1-9 1 10 1 4 1-8 1-6 0 9 1-6 0 5 0 3 1-11 1 4 0 7 3-10 1 4 0 3 0 5 1-3 2-11 0 4 0 3 0 3 1 2 1-11 0 12 1-9 3 0 0 10 1-6 0 2 0 2 2-12 0 5 0 7 1-6 1 8 1-10 1 5 1-9 1 11 0 2 2-12 0 6 0 8 1-13 0 6 1-5 0 2 0 4 1-2 1 7 2 1 2-6 0 4 1-11 0 6 1 5 1-13 1 5 0 5 1-2 0 6 1-12 1 3 2 5 1-3 0 6 1-4 0 19-1-8 0 11-1-15 0 6-1 7-1-4-2-3-1 4-2-6 0 4 0 6-1-7-1-3-1-4 0 3 0 9-1-4 0 2-3 5-1-10 0 8-2-9 0 3 0 3 0 5-1-12 0 3 0 5-2 1-1-10-1 2-2 7 0 2-1-5-1-6 0 4-1-2 0 5 0 3-3-11-2 12-1-9 0 11-1-12 0 5-3-4-2 5-1-4-1-4 0 2 0 9-1-5 0 3-2-1-1-3-2-5 0 13-1-11-1 8-1-4 0 6-1-13 0 10-2-4-1 9-1-7-1-7 0 12-4-12 0 9-5-10 0 7-1 2-2-1-2 0-1-4 0 2 0 7-2-2-1-5-1 5 0 2-1-13 0 8-1-3 0 6 0 4-3 0-1-12 0 3 0 3-4 2-3 4-2-6-1-4-2 1-2-2-1 5-1 3-2 0-1-12 0 14-1-11-3 4-1-2 0 5-1 4-5-6-1-6 0 8-1 5-1-14-1 5-2 9-1-6-1-2-1-7 0 9-1-7 0 4-1 6-1-12 0 10-2-3 3 20 1-4 1-7 0 15 1-10 1 10 4-8 1 7 1-4 2-9 0 6 3-6 0 10 1-8 0 11 2-3 2-7 1 8 3-7 0 9 3-13 0 2 1 7 0 2 1-11 1 5 0 3 2 1 1-3 0 5 2-8 0 3 3-5 0 7 1-9 0 6 0 7 1-3 1-8 0 4 1 3 0 2 0 2 3-7 0 6 1-8 1 11 1-2 1 2 1-15 0 3 0 6 0 3 2-1 2-7 0 5 2 1 1 4 1-13 0 5 0 3 1-5 1-3 1 7 2-3 1 7 0 2 1-14 0 2 0 7 1 2 0 3 2-4 0 2 2-3 0 3 2-11 1 8 2 1 0 5 1-8 0 5 1-3 1 5 1-6 1 2 0 4 2-8 1-4 0 6 1-3 0 5 0 3 3-4 2-5 0 8 1-5 2-1 1-5 0 9 1-2 1-6 0 2 0 8 2-6 0 2 0 2 1-10 1 5 2 0 0 2 1 2 1 2 2-8 0 8 0 3 3-11 0 7 2-9 2 8 0 3 2-6 1-4 0 6 0 3 1-11 2 2 0 4 2 2 1-5 1-2 1 1 0 5 0 4 1 8 0 10-1 2-1-8-1-4 0 6-2 3-2-11 0 10-2-10 0 4-1 6-1-9 0 13-1-5-1-3-1 8-1-7-1 6-1-12 0 7 0 2-1-4-2-5 0 11-2-2-2-4 0 5-1-11-1 11-2 3-2-4 0 4-1-2-1-3-2 5-1-3-2-4-1 5-1-7-1-3 0 12-1-8-1-3 0 6-1-9 0 11-2-7 0 3 0 5-4-9 0 3-1 5 0 2-1-8-1-6 0 15-1-13 0 3 0 8-1-6-2-6-1 11-2-7-1-3 0 8 0 4-2-10-1 2 0 2-3-5-1 3 0 6-1-3-2-9-2 3-1-2-1 7 0 2-1-6-1 6-2-2-1 3-2-6 0 5-2 4-2-5 0 3-1-7-1 8-1-3-1 3-1-5-1 3-2-6-1 8-3-4 0 3-2-3-1-9 0 12-2 1-1-13 0 11-1 4-1-14 0 4 0 5-2 1-1-3-1-6 0 9 0 4-1-11 0 4-1-6-2-1 0 3-1 3-1-6-1 5 0 7-1-11-1-2 0 14-1-6-1 4-1 3-1-10 0 3 0 4-1-11-1 5 0 5-3 19 1-9 1 2 0 8 1-15 0 4 3-1 2-1 0 12 1-8 0 4 1-2 1 6 3-14 0 7 0 3 2-9 0 2 0 9 1-7 2-3 1 2 2 9 1-2 1-8 0 4 2-5 0 3 1 4 0 4 1-8 0 6 2-10 1 9 0 5 1-10 0 2 1-7 1 13 1-13 1 8 0 5 2-8 0 6 2-9 0 7 1 5 3-7 2 6 2-4 1 4 1-3 1-2 0 4 3-3 2 4 1-11 1 9 3-4 0 7 3-10 0 2 0 4 1 3 1-10 2-2 0 9 1-6 0 11 3-2 1-13 1 6 0 3 1-8 1 8 0 3 1 3 1-14 0 3 1 3 1 4 2-6 0 9 1-12 0 8 3-3 0 5 0 2 1-13 1 12 2-12 0 4 0 2 3-1 2-6 0 7 3-5 1 2 3 5 1-7 1 3 2-3 1 12 4-1 1-10 1 5 0 2 1-9 0 4 2-3 0 7 0 4 2-13 2 2 2 9 0 2 3-10 2 7-1 6 0 4-2-3 0 3-1 3-1 4-1-11 0 2 0 4-1 2-2-4-1-2-1 10-1-3-1-2 0 5-3-12-1 10-1-9 0 6-2-1 0 4-3 4-2-1-2-4-3 0-1-5 0 7 0 4-1-2-2-4-2-6 0 11-1-13 0 6-1-3-1-2 0 12-2-14 0 8-1-3-2 4 0 3-1-6-1-4 0 10-2-11 0 2-2 10-1-12-1 9 0 5-2-9-1 3-2 5-1-11-4 4-1-6 0 4-4-5-2 8-1-6-2-2-5 13-1-13 0 2-1 13-1-8-1-6-3 1-1 12-1-11-2 1-2 10-1-11-1 2-1-2 0 9-1-11-2 7 0 4-1-10-1-2 0 6-2-1-2-4-2 3 0 5-2-6 0 9-1-11-1 5-1-6 0 11-1-2-2 6-2-4-2-8 0 12-1-14 0 6 0 5-1-7-1-2-1 3 0 5-2-8 0 2 0 6-3-8 0 8-1 3-1 3 0 3 0 4 2-1 0 5 1-2 1-2 2-5 1-3 0 10 0 5 2-1 2-11 0 5 1-3 0 5 0 2 2-11 0 10 0 4 2-11 0 3 1 2 2 3 1-8 0 10 4-8 0 6 1-9 1 12 1-11 1 8 0 3 1-11 1 7 1-10 1 5 0 8 3-12 0 8 2 2 1-11 0 3 0 2 0 4 2-1 0 4 1-6 1 7 1-9 0 6 3-11 0 13 3-2 1-4 1 7 1-14 0 4 1 7 0 2 2-1 1-10 0 12 2-4 1-4 2 4 1 3 1-9 0 5 1-2 2-4 0 9 0 2 1-13 1 6 0 7 1-11 1 6 1-9 0 2 1 2 0 3 0 8 1-15 0 13 1-4 1 2 2 4 2-10 0 5 1 5 2-15 0 8 0 3 1 2 1-12 0 2 1 5 0 4 1-11 1 2 2-2 1 2 0 4 0 7 2-13 1 5 1 5 0 3 2-5 1-3 1 4 0 3 0 2 2-14 0 2 0 3 0 8 3-13 0 5 0 9 1-3 2-5 0 6 1-2 1-2 4-9 2 2 0 13 3-2 1-5 1-2 1 2 1 2 0 2 0 2 4 0 2-4 0 17-1 2-1-12 0 6 0 2-2-4-1-5-1 2 0 7 0 2-1-11 0 13-1-9-1 7-2-2-1-7 0 3-1 8-1-12-1 9 0 3-1-5-1-6-1 6-1-5 0 3 0 9-2-11-1 8-1-9 0 4-1 6-1-5 0 7-2-10-1-3-4 2-1 5 0 3-1-6-2-3 0 8-1-6-1 6-2-6 0 2-3-5-1 10 0 2-3 0-2-2 0 3-8-1-2-14-1 14-4-12-1 5-1-7-1 9 0 4-1-7 0 9-1-13 0 6 0 2-2 0-2-7 0 2-1 9-2-11 0 2-2 1-2-4-3 0-4 3-2 3 0 5-1-10 0 7-3-9-1 7-1-3-1-4 0 6-1 8-1-10-1 3-2-2 0 3-2-3-1-6 0 4-2 5-1 3-1-9-2 0-1 6-2-2 0 3 0 2-2-11 0 7 0 4-2 0-1 3-1-2-1-11-2 6 0 3-2-2 0 5-3-2"/><path d="M768 1537l0 2 0 7 1-5 1-4 1 5 0 8 2-9 3 3 0 3 1 2 1-11 0 2 1 7 0 3 1-8 1-4 0 13 1-1 1-14 0 12 1-3 1 3 0 2 3-9 2-4 0 10 2-10 0 10 1-2 1-9 2 1 1 10 1-11 0 8 1 3 2-10 1 7 0 3 1-5 2-5 0 3 0 9 0 2 1-7 1-7 1 6 1-2 3 6 0 3 3-7 1-3 2 3 0 3 2-10 0 2 0 7 1-4 1-3 1 4 1 4 1-8 1 13 2-12 0 5 2-3 2 1 2-5 0 8 0 2 0 3 2-14 1 11 2-10 1 3 0 9 2-1 3-10 0 12 1-10 3 2 2-5 1 9 3-5 0 4 1-7 0 9 1-6 1 2 0 8 2-5 0 3 1-11 1 6 1-7 0 5 2-6 0 15 2-13 1 4 0 6 2 0 1-4 1-2 1-6 0 13 2-11 0 2 0 3 1-7 0 12 1-8 0 11 1-7 1 7 1-6 1-4 1-5 0 11 1-2 0 4 1-10 1-2 0 9 1-7 2-1 0 6 0 3 2-8 2 7 0 3 1-7 1 3 1-7 0 17-2-1 0 2 0 4-1 5-1-12 0 2 0 12-1-2-1-7 0 5-2-6-1-4 0 6-2 6-2-5 0 2 0 3 0 2-3-11 0 11-2-10 0 4-1 3-1 3-1-15 0 7 0 3-1-6-1-4 0 8-1 2-1-3-1-5 0 9 0 4-1-2-1 2-3-8-1 5-2-11-1 6-1 6-1 2-1-13 0 3-1 5-1-9 0 3-1 10-1-9 0 6-1 4-1-15 0 6-1-4-1 7-1 3 0 3-1-12-2 0-2 7-4-10 0 11-1-8 0 10-1-12-1 10-1-9-2 7-1 2-2-5-1 6-1-2-2-8 0 9-1-6 0 10-1-8-2-3 0 3-1 3-2-3-3 4-2-8 0 9-1-1-1-8-2-1-1 8-1 3-1-8 0 7-1-5 0 2-1-6-2 0-1 3 0 3 0 3-1-4 0 2-1 2-2-8-1-2 0 13-1-11-1 3-1 3-1 3-1-7 0 6-1-3-1 5-1-10-1 5-1-8 0 6 0 8-1-15 0 8-3-8 0 14-1-7 0 3-1-4-1-1 0 2 0 6-4-13 0 11-1-9 0 8 0 4-1 1-1-14 0 2 0 5 0 6-1-3-1-7-2-2-1 5 0 3 0 14 0 6 1-2 1-12 0 6 1 6 2 3 2-7 1-7 0 14 1-15 0 2 0 3 0 5 1-3 2-4 1 12 1-10 1 10 1-10 1 7 1-11 1 7 1-2 0 4 1-3 1-5 0 8 1-2 1-5 0 12 2-15 0 6 0 3 0 6 3-8 0 7 2-13 0 4 0 3 0 5 1-10 0 12 1-7 1-5 2 5 0 4 0 3 2-9 0 4 2-6 0 4 2-6 0 3 0 7 1-9 1 1 0 6 1 3 1-1 0 2 1-11 1-2 0 8 1-3 0 9 1-11 1-2 0 8 0 4 1-14 1 2 0 9 1-11 0 3 1-2 0 5 1 2 1 3 1 1 1-10 1-1 0 6 2-1 0 4 3-10 0 7 0 3 0 5 1-12 0 9 2-5 1 8 1-10 0 5 1-8 1 4 0 7 1-12 0 2 0 4 1 4 1-7 0 10 1-2 2-1 2-4 0 5 1-9 0 2 0 9 2-1 0 2 2-12 0 3 0 7 3-10 1 2 2-2 1-3 0 9 0 6 1-8 1-3 0 8 1 2 1-8 2-2 0 7 1-3 1-2 2 5 0 2 1-5 1-5 0 7 2-6 1-3 1 10 0 4 3-9 1-2 1 11 1-2 1-6 2 4 3-1 0 2 2-10 2 8 1-10 0 4 2 11 0 3-1 9-1-5-1-5 0 4 0 10-1-7 0 2 0 3-1-7 0 6-1-12-1 14-1-3-1-11-2 4-1-3 0 2-1 1 0 10-3-13 0 5 0 7-1-4-1-4 0 2 0 3-1-1-1 5-1-12 0 8-1-9-2 7-1-4-1 2 0 4 0 4-1-14-1 1 0 8-1-1 0 2 0 3-1-10 0 6-2 4-2-8-1 5-1-10 0 6 0 5-1-6-1-5 0 11-2-5-1 8-1-14 0 5 0 4-1-7-1 9-2 2-1-5-1-4 0 10-1-9 0 4-2-5 0 2 0 3-1 5-1-13-2 4 0 5-1 4-1-6 0 2 0 2-1 3-1-13 0 3-3-4 0 7-1 3-1-8-1-2 0 8 0 6-1-13 0 9-1-10-1 14-1-15-1 1 0 9-2-2 0 3-2-8-1-3 0 5 0 3-1 5 0 2-1-4-2-8 0 2 0 2 0 2-2-4 0 9-1-7-1-2-2 5-1-5 0 2-1 3 0 5-2-8 0 7-2-3-2-6 0 8-1-12 0 7-1-2-1-4 0 10-1-5-1-4 0 11-3-11 0 4-1 2-1-3-1 2-2-8 0 11-1 3-3-8-4-2 0 4 0 2-1 5-1-12 0 2 0 2 0 5-2 3-1-10-1 2 0 2-3-5 0 2-2-2 0 5 0 6-2-6 0 8 1 4 1 10 2-10 0 7 2-9 3 2 0 10 1-12 0 8 1-10 1 10 2-7 0 9 1-5 1 4 1-10 2 6 2-4 0 3 1-6 1 10 1-3 1-3 2 5 0 5 1-14 1 11 1-11 0 7 3 2 1 5 1-15 1 5 1-2 0 5 1-3 1 5 1-9 0 6 0 7 2-6 1-5 0 10 1-12 0 9 1 3 2-6 2-5 0 2 1 3 2-4 0 6 3-2 0 4 1-11 0 4 0 5 1-7 2 0 0 10 2-1 1-5 0 9 2-11 0 3 0 7 1-13 2-1 0 9 0 3 2-11 1 4 1-2 1 9 2 2 1-9 1 7 2-3 1 2 0 2 3-13 0 13 3-12 1 13 2-1 1-13 0 8 0 7 1-2 2-1 1-3 3 6 3-3 3-5 2 7 1-4 4-7 1-3 3 0 1 2 1 11 1-7 4-5 0 13 2-8 1-3 0 12 3-9 1-5 0 8-2 18-1-3-1-6-1 5-2 1 0 6-1-8-3 2-2-5 0 9-1-7 0 4-1-8 0 10-2-11 0 5 0 8-3-2-1-11-1 12-2-7-1 4-3-3 0 2-1-5 0 7 0 4-2-6 0 2-2-8 0 13-1-15 0 10-1-4-1 3 0 3-2-10 0 9 0 3-2-7-1-4-1 7-1-7-1 9-2-11 0 8 0 3 0 3-2-15 0 4 0 3 0 2-3-1 0 3-1 3-2-6-1-3 0 7-1 3-1-15-2 3-1 11-1-4-1-5-1-3-1 6-1-4 0 8-1-2-2-8 0 8-2-7-1 7-2 3-1-3-1-4-2 0 0 6-1 3-3-9 0 3 0 2-3-6 0 4 0 2-2-4-2-4 0 6 0 3-3-12 0 14-2-13-1 10-1 3-1-4-2-2-1 2-1-9 0 6-2-7 0 8-1-5 0 2-2 8-1-13 0 4 0 2-2 0-2-1-1 9-1-11-2 8-1-7-2-1 0 2-2-1-1-2 0 6-1-2 0 4-5 0 0 15 0 4 4 1 6-2 2-8 1-3 0 7 2-5 0 11 2-5 1 3 0 3 1-14 1 2 0 3 0 3 0 4 1 2 1-8 1 3 2-9 0 13 1-8 2-6 0 6 2-3 0 3 0 7 1-4 2-1 1-4 1 7 1-9 0 12 1-3 2-11 0 5 0 4 1-2 1-6 3 1 1 2 0 5 1 4 1-10 1 9 2-10 0 2 2 11 1-11 4 2 0 8 1-14 0 3 1 2 0 5 1-8 1 3 5 8 3-4 4-7 2-2 1 4 2-1 1 6 0 6 1-14 4 14 2-12 0 7 0 4 1-14 1 4 0 7 1-4 4 4 1-3 2-5 2 9 1-4 1 4 1-11 1 9 0 2 1-11 0 4 0 9 5-13 0 7 3 1 1-3 0 7 0 2 2-1 2-3 1-11 0 4 1-2 3 9 3-10 0 10 1-8 1-2 0 13-3 3 0 14-4-11-1 9-1-13-3 10-3 2-2-4-2 6-1-5-1-8 0 11-2-11-1 11-1-3-1-5 0 7 0 3-2-12 0 6-3-6-3 1-2 6 0 3-1-12-1 8 0 2 0 2-1-6-1-6 0 11-4 0-3-7 0 7-1 3-1-5-1 2-1-4-1 2-1-4 0 9-4-2-2-7 0 2 0 5-1-3-1-4-2-4-2 13-1-12 0 9-1 2-2-11 0 2 0 8-1-4-1-8 0 5-2 1-2-2-2-4 0 2 0 2-4 6-1-3-2-6-2 2 0 2-1-5-1 9-1-7-2 4-2 1-1-7 0 2 0 10-2-6-1-6-1 7 0 6-1-12-1 11-1 2-1-6-1 7-1-9 0 3-1-7 0 2-1 2-1-5 0 9-1-3 0 7-3-2-1-11-1 12-1-13-2 8-1-7 0 11-3-5 0 2 0 3-1-8-1 6-1-5 0 9-1-13-1 7-1-7"/><path d="M897 1542l0 4 1-7 0 9 2-11 1 7 0 4 2-3 1-8 0 5 0 5 1-8 1 6 1 6 1-3 1-8 0 11 1-15 0 7 1 8 1-9 0 5 2-5 0 4 1 2 0 2 2-10 0 5 2-5 0 3 1 2 1-4 2-5 0 5 2-2 3-1 0 4 2-6 1 2 3 2 0 3 1 5 2 2 2-10 1-2 1-2 2 10 1-8 0 6 1 3 2 2 3 0 2-4 2 0 1-6 0 11 1-4 2 2 1-3 1-8 0 12 2-3 1 3 2-3 3 4 4 1 1-15 0 5 1 8 1-8 1 3 1-5 3-2 0 2 1 2 1 7 0 2 2-14 1 2 1 6 2 3 1-2 0 4 1-6 1 7 1-11 0 3 1 5 1-10 0 7 0 7 2-5 2 5 2-12 0 8 1 3 1-8 0 3 1-7 0 10 0 2 2-13 2 4 2 0 0 3 2-8 0 5 1-3 1-2 2 1 0 4 0 3 2-8 0 7 0 2 2-2 1-3 0 5 3-9 0 6 0 3 0 17-2 0-3 4-1-5-1-2-1 5-3-4 0 7-2-6-1-9 0 13 0 2-2-7-1 6-1-6-2-1-1-5 0 11-2-5 0 3-1-7-2-3-1 8-1-3 0 8-1-4-1 2-1 2-1-11-1 2-2-5 0 9-1 4-1-8-1 8-1-11 0 2-3 0-2-4-1 12-1-9 0 12-1-10-1-3 0 9-1-5 0 7-1-10-1 6-2-1 0 7-2-9 0 9-1-11-1 5 0 3-1-12 0 2 0 3 0 2-2-2-1 10-1-11 0 7-1 3-1-11-1 12-2-12-1 3-2-5 0 2 0 6-4 0-1-8 0 6-1 2-1-7 0 2 0 11-1-4-1-11 0 15-1-11 0 9-1-3 0 5-2-13-2 11-1-10 0 2 0 2-1 8-2-13-1 5-1-7 0 13 0 2-1-10 0 3 0 3-2-4 0 7-1-13-1 5-2-3 0 3 0 5-1 3-1-12 0 3-1 3-1-7-2-1-1 4 0 6 0 4-5-12-1 5-2-6-7 0 0 4-1 10-2-4-1-5-3 9 0 9 1-7 1 9 1-4 0 6 3-3 2-4 0 5 1-8 1 2 0 3 1 6 1-6 1-3 0 7 1-3 1-2 1 2 1 5 2-6 0 2 0 2 2-1 1-7 0 12 1-7 3-4 0 3 0 7 2-13 0 3 0 3 0 7 2-12 0 4 0 2 2-6 1-2 0 4 0 2 1 9 2-14 0 10 2-5 0 4 1-7 2 9 1-11 1 14 1-10 0 4 0 3 1-11 0 14 1-9 0 6 3-3 1-4 0 2 0 4 1-8 1-3 0 7 1 2 2 2 1-8 2-3 0 10 4-2 1-3 0 5 1 3 1-7 1-4 2 10 1-12 0 5 0 10 1-8 3-4 0 4 0 5 1-3 2-2 0 7 1-9 1 5 1-10 0 3 1 2 1 10 1-8 4-5 0 12 4-11 2 12 1-15 1 13 1 2 2-1 1-12 1 13 1-8 1 6 1-12 1 9 0 5 1-3 1-11 0 4 2-5 0 2 0 8 1 5 1-12 0 5 3 6 1-11 0 2 0 5 2-7 0 2 0 8 4 0 2-12 0 5 2 7 2-5 1-8 0 5 0 9 0 12-2-1-2-6-1 10-1-7 0 5-2 1 0 3-2-11 0 11-1-2-1-13 0 10-1-4-1 6-1-6-4-1-1 6-1-5 0 7-1-2-1 3-1-9-2 0-1-4-1 6 0 3-1 2-1-10 0 2 0 10-3-8 0 6-2-10 0 6-2 7-1-6-3-8 0 3-1 2-1 2 0 6-2-12-1 11-1-7-1-6 0 10-2-4 0 8-1-10-1-4-1 5-4 7-4 0-1-3-3-2-1 4 0 2-1-11 0 3-1 3 0 5-2-7 0 3 0 5-1-14 0 4-1 3-1 4-3-6 0 2-1-5 0 12-1-5-1 3-1-10-2 0-4 0-2 12-1-6-2-4 0 3 0 3 0 5-1-13-2-2 0 3 0 11-1-7-1-6 0 3-2 0 0 8-1 3-1-2-1-4 0 2 0 4-1-1-1-7 0 8-1-13-1 5 0 3 0 2-2-6 0 5 0 3-2 1-1-3-1-12 0 6-1 7-1-10 0 5 0 3 0 4-1-9-2 3 0 2-1-3-1-5-1 5-1 2 0 3-1-9-2 10-1-12 0 3 0 6-2-7 0 6 0 18 1-8 1-3 0 14 2-12 0 2 1 8 1-11 0 3 3 0 2-5 0 3 1 6 0 2 1-9 1 8 1-3 2 2 3-2 2-3 0 3 1 2 1 4 2-7 0 8 2-13 0 5 1 7 2-8 0 3 1-5 0 12 1-7 2-1 1-7 0 13 1-11 0 5 2 0 1-7 0 2 0 6 1 4 1 2 1-8 1-2 1-2 3 4 0 4 0 3 1-11 1 6 0 7 1-14 0 10 2-7 0 3 2-6 1 7 1 6 1-12 0 8 1-1 1-7 1 4 0 2 1 6 3-9 0 8 1-6 0 4 1-9 1 9 0 2 1-11 0 3 0 4 2-7 0 13 2-2 1-10 0 3 1-5 0 9 1-5 1 7 1 2 1-4 1-10 0 3 0 9 2-12 1 4 1-3 2 12 1-4 3-3 0 6 2-3 1-5 2-1 0 10 2-12 0 4 1-2 1 8 2 0 1-11 1 5 0 10 1-12 0 7 1-5 1 10 2-9 0 7 1-13 0 11 2-8 0 8 1 4 1-14 0 9 1-3 2 2 1 6 1-13 0 11 1-4 2-5 2 4 0 4 1-7 1-4 0 2 0 8 1-6 1-2 0 10-1 4-2 2-1 6-2-9-1 5-1 6-1-3 0 6-1-12-1 2-1 3-1 5 0 2-1-10 0 5-2-7-2 6-1-6 0 4-1-2 0 5-1 6-2-7 0 3-1 1-3-3-1-8-1 8-1-6 0 3 0 9-1-6 0 4-2-13 0 4-1 1 0 9-1-3-1-1-1-8 0 5-1-1 0 4-1-1-3-6 0 11-2-7-1-2 0 5-1-10 0 7-1-1-1-5 0 7-1-2 0 3-1-1 0 6-2-5-1-9 0 10-1-5-1-4-1 5 0 2 0 2-2-5 0 3-2 6-1-10 0 5-1-8-1 2 0 4 0 5 0 3-3-15 0 8 0 4-2-12-1 1 0 11-1-4-1-8 0 6-2 0 0 2 0 6-2-8-1-5 0 3-1 3-1-4-1 10-1-2-2-4 0 2-1-6-1-2 0 9 0 4-1-8-1 6-1-12-1 3-3 4-1 4 0 4-1-10 0 2-1-6-1 2 0 11-1-9 0 4-3-6-1 2-2-2 0 7-3-10 0 6 0 6-3-6 0 5-1-3 0 6-2-13 0 14-1-11 0 5-2-9 0 3 0 3-1 9-3-14 0 2-1 5-2-8 0 3 0 5-1 4 0 2-1-13-2 2 0 8-2 0 0 4 1 14 1-10 2 8 1-3 1-8 0 6 2-2 0 7 0 3 2-12 0 13 1-3 2 1 0 2 2-5 1-8 1 10 1-2 1-7 2 8 1-8 0 2 0 10 3-1 1-6 0 4 2-1 0 3 1-10 0 2 0 2 1 2 1 3 1-11 0 2 1-4 0 8 2 5 1-12 2 6 0 8 1-15 0 12 2-10 0 7 0 5 1-10 2-2 0 5 0 2 1 6 1-6 2-3 1-6 0 4 0 7 1-9 0 11 1-6 2 8 1-3 3-11 0 5 3 2 0 5 1-8 1 2 3 1 0 2 1-9 1 9 1-2 1-2 1 4 1-8 3 12 1-11 0 8 3-11 1 11 1-2 0 6 1-13 2-2 0 14 2-13 0 8 1-5 1 3 1-3 0 6 1-2 0 6 2 1 2-4 2-5 1-5 1 6 0 4 2 2 0 2 1-15 0 6 0 4 3-8 1 2 1-3 2 2 0 3 1 8 2-12 0 4 0 5 2 4 1-13 2 9 1-10 0 4 2 9 2-1 1-12 0 6 1 3 0 5 1-11 1-4 1 14 2 0 0 7 0 3 0 3-1 2-1-13 0 3-1 8 0 2-2-9-1 6-3-2-1 2-1-2-3 0 0 7-1-14-1 6 0 3-3-7 0 9-1-4-2-1 0 4-3-4-1-7-1 2 0 3 0 2-1 4 0 4-1-8-1-6-3 6-1-5 0 3-1 2-1-5-1 5-2-5 0 6-2-4 0 3 0 4-1-2-2-7-1-2 0 5 0 5-2 4-1-10-1 4-1 7-3-4-1 4-1-11-2 6-1-4-1 2 0 2-2-6-1 8-7-11 0 5 0 5-2-4 0 2-1-5-3 2 0 7-3-5 0 4-2-9-3 6-1-2 0 7-2-7 0 3-2-9 0 5 0 6-2 2-2-12 0 9 0 2-1-13 0 8-1-5 0 8-1-4-2 8-1-9-2 2-2-7 0 11-1-6-1-5-2 0 0 5-4 1-6-5-4 0 0 9-2 2-1 2-2-6 0 4-1 2"/><path d="M1025 1537l1 2 0 5 1 5 1-12 1 5 0 2 2-8 1 10 3 0 0 4 1-14 0 4 0 3 1-5 1 9 1-7 1 7 0 3 1-13 1 3 0 2 0 6 1-3 2 1 0 3 2-13 0 14 1-2 3-8 3-2 0 4 0 8 4-5 0 2 0 2 1-8 2 3 1 7 2-8 1-6 0 14 2-9 0 9 3-7 1 6 3-8 2 1 2-3 0 3 1 6 1-9 1 10 1-5 1-2 0 8 1-5 1-9 1 10 2-1 6 5 1-5 9 4 2-12 3 3 4 3 7 3 4 2 5-13 0 6 3-4 1 10 5 3 4-1 5-10-3 13 0 10-22-3-5 0-5 0-1-6-8 5-1-6-4 8 0 2-3-8-2 0 0 8-2-10-1 5-1 6-1-12-2 2 0 3 0 9-1-7-3 0-1-4 0 7-3 0 0 3-3-6-2 0 0 5 0 3-3-6 0 4-2-5-3-4 0 6 0 4-3-5-1-5 0 2-1-6-1 3-2 7-1-3-1 4-1-6-1-4 0 10-1-4 0 7-1-11 0 8-1-10-2 4 0 2 0 7-1-5 0 3-1-10 0 5-1 6-1-10-2-1-5 12-1-2-2 2-4-1-4 1-2 8 0 3 0 4 1-9 1 7 1-3 1-7 0 5 2-2 0 7 3-7 3-2 0 3 0 6 0 3 2-10 0 6 1-8 1 2 0 6 2-9 6 4 0 7 2-7 0 8 2-8 2-1 0 3 2 2 0 5 1-13 1 11 2-11 4 1 0 2 0 2 4-5 0 7 1-2 2-2 0 11 3-6 0 2 2-11 0 9 1-5 2 0 2 10 1-13 1 7 0 5 1-3 2-7 1-3 2 6 0 3 2-9 4 7 0 4 2-2 1 6 1-11 0 5 0 4 1-11 1 12 1-14 1 6 2-4 1 6 0 4 0 2 2-8 1 2 2 1 1-8 0 14 7-8 8 4 1-8 5 4 11 12-5-3 0 13-10 1-2-12-2 11-2-7-1-5-1 6-1 7-1-5-1-2-1-2-2 9-2-10-1-3-1 10-1-7 0 5-1-9 0 6-2-4 0 6-1 2-2-4 0 5-2-11-1 3 0 3 0 2-2 2-1 5-1-6-1-9 0 6-1-3-1 11-1-14 0 9-1 5-1-13-1 5 0 9-1-13-1-2 0 4-1 7-2 0-1-11-1 13-2-13 0 3-1 7-1-9-2 6-1-6-1 6 0 5-3-11 0 5 0 7-4 1-2-2-3-8 0 7-1-2 0 6-2-4-3-6 0 6-2-5 0 9-1-14 0 10-2-6 0 2 0 3-2-5 0 4 0 4-5-12 0 5 0 3-3-4-2-3-5-2-4 10-2-2-2 4-1-9-2-3 0 25 1-6 1 11 1-14 1 8 1-2 1 3 0 2 2-6 1 4 0 5 1-12 0 2 1 2 0 7 3 2 1-10 0 6 1-4 0 2 3-5 0 5 0 2 1 4 1-13 0 6 1 7 1-12 2-3 0 2 1 7 1 4 2-9 0 6 1-3 1 3 0 3 2 1 1-10 0 6 0 2 2-8 0 8 2-7 1 6 2 2 1-4 2-9 0 10 2 3 2-8 0 4 1-8 2 3 1 2 0 5 2 2 1-13 0 4 0 11 2-7 1-3 0 6 1 3 1-14 1 15 1-15 0 3 0 3 1 8 1-10 0 8 1-2 2-7 0 6 0 5 1-7 1-2 2 10 1-14 0 7 1 2 1-8 0 13 1-9 0 2 0 4 2-4 8-3 3 4 2-5 2-4 0 5 0 10 4-12 2 9 1-3 1-9 0 6 0 7 1-4 1-2 2-3 0 7 2 1 1-9 0 2 0 5 1-9 0 11 1-2 3 2 0 3 3-6 1 5 1-11 1 21-4 0 0 4-1-10 0 4-1-2-1 2 0 3-2-1-1-4-2 2 0 7-2 2-1-4-4-4-2-3-1-4-1 8 0 6-1-11-1 11-2 1-3-5-7-6 0 8 0 3-1-5-1-6-1-2 0 12-2-6-2 6-1-13 0 4-1 10-1-10 0 4-1-8 0 12-2-10 0 4-2-1-2-5 0 4-1 6-2-10-1 5-1-5-3 9-2-3 0 3-1-8 0 3 0 7-1-4-1-8-1 10-1-6 0 11-1-15 0 13-2-11 0 8-1-10 0 8-1-4-1 7-1-5 0 9-3-15 0 6 0 7-1-2-3-9 0 8-1-6 0 2-1-4 0 13-1-7 0 2-1-6-1 10-1-7-3 5 0 2-3-6 0 2-1 4-1-9 0 3-2-6 0 3 0 9-2-7-1 6-1-11 0 8-2 2-1-9-1-2 0 9 0 3-4 2-1-15 0 6 0 3-3-7 0 9-1-3-1-5 0 2-1 11 0 2 2 0 1 2 1-3 0 11 2-7 0 6 0 4 1-14 0 8 1-5 1 10 2-13 0 6 0 7 1-5 1 3 1-11 0 3 0 3 2 5 2-11 0 7 1-3 0 7 0 3 2-8 1-7 0 15 1-12 0 5 2-4 2 2 0 7 1-2 1-7 0 2 0 3 0 5 2-13 0 10 4-6 1-3 1-2 2 3 0 6 0 3 2-8 2 2 1-6 0 4 1 9 2-11 0 4 0 2 1 6 1-11 3 8 1 3 1-11 3 11 1-14 1 10 2-9 3-1 1 12 1-11 2 5 1-6 1 14 1-3 2 4 1-13 2-2 0 4 0 9 1-3 2-8 0 4 0 9 2-2 1-10 0 4 3 1 1-3 0 8 2-12 0 2 0 2 0 4 1 2 1 3 4-2 1-12 1 3 0 9 0 2 1-6 0 2 1 2 1 2 1-14 0 4 0 3 1 4 1-5 1 9 3-11 0 5 3 3 1-10 0 3 0 2 1 2 2 5 1-7 1 8 1-12 0 8 0 2 2-13 2 3 0 2 1 6 1-4 1 20-1-3-1-2-1-2-2-3 0 2 0 3-3 3 0 5-4-11-1 10-1-8 0 3 0 2 0 5-1-15 0 13-1-9-1-3 0 7-1 6-2 1-2-12 0 9-2-2-1-2-1-2-1 5-1-2-1-8-1 6-11-7 0 5 0 4-2-3 0 3-1 3-1-4-1-2-1-3 0 9-1-3-1-8-1 2-1-2 0 7-2-1 0 6-4-8-5 0-3 8-1-5-1-8 0 6-1-4-1 5-3 3 0 5-1-15-1 13-1-6-1 4 0 3-1-7-1 6-1-12-1 6-1-7-1 2-3 13-2-10 0 7-1-2-1 4-1-13 0 5-2 5-1-4 0 8-2-15 0 5 0 9-1-11 0 6-4-2-1 4-1-10-1 8 0 4-1-11-3 2 0 9-1-12 0 5-1-2-2-1 0 3-1 3-2 4-1-10 0 4 0 4-4-7-1 11-2-13 0 4"/><path d="M1157 1545l8-1 3-5 0 3 2 3 0 6 3-5 1 5 3-8 2-2 0 5 1-10 0 3 0 5 0 5 1-7 1-4 2 1 2 9 2 1 1-8 1-2 1 4 1 6 1-11 1 2 0 5 1 6 2-9 0 6 2-1 0 2 2-10 0 4 1 8 1-13 0 2 3 2 0 4 1-9 0 2 1 6 0 5 1-3 1-7 2 5 2-9 0 3 1 5 1-7 2 0 1 2 1 2 39 3 1 7 2-11 0 5 2 2 1-9 1-2 0 4 0 7 2-4 1 5 1 3 4 9 0 2-1-5-12 2-4-4 0 2-2-4 0 5-1-2-3-3 0 3-3 9-1-5 0 2-3-1 0 2-4-2-1 5-9-3-10 2-3-4-1-3-2 6-1-8-1 4-2-8-2 3 0 6 0 6-1-10-1 10-6-10 0 6-1-8-1 8-4-9 0 10-3-5 0 3-2-7-2 3-3 2-1-8 0 13-1-7 0 3 0 2-1 4-3-11 0 3-1-7-1 8-2-5-2-3-14 11-3 17 18-1 6-10 2 14 2-11 0 3 1-6 2 5 1-5 0 11 3-8 0 7 1-3 1-6 0 12 2-3 2-6 0 8 2-11 1 2 1-4 0 10 3-5 1-3 0 5 1-2 2 0 1-3 0 8 2-1 1-7 0 2 0 7 2-8 0 7 1 2 0 2 1-9 0 5 1-9 2 9 0 2 1-12 0 3 1 5 1-4 1 3 1-2 2-1 4 1 5 10 1-5 1-6 0 2 3-4 2 9 1-7 0 11 2-3 2-12 0 2 2-2 5 15 23-15 0 3 3 8 0 4 0 0 0 12-2 3-1-9-3 2-3-4 0 8-2-5 0 4-3-1-2-4 0 3-1-5-2 6-3-8 0 5-1-3-1 2-1-4 0 7-3-1 0 2-1-7-2 0 0 3-1 2-3 0 0 6-1-12-1 8-1-3 0 9-3-6-1-8-1 12-25-11-2-1-5 2 0 5-4-1-4 5-1 2-1-12-1 7-4-7-2-1 0 10-4 0-11-2-1-5-5 0-11 12 2 8 3-6 8 0 3 3 0 5 6 1 2-11 9 3 7-3 4 12 20-8 17 10 1-9 3 5 0 3 1-9 2-2 0 10 2-7 0 6 1-4 9 3 22 21-1-3-1 3-2-2-2-2-1 3-2 0-2-3 0 2-2 0-5 0-2 0-1 2-1-11-6 9-3-13-1 5 0 2-2 8-1-8 0 2 0 2-1-10 0 13-2-13-1 5-2-3 0 3-1 7-1-5-1 3-1 2-1-4-1 5-2-5 0 2-3 1-4-5-4-1-1 8-3-7-1 8-2-9-1 5 0 3-2-7 0 2 0 6-1-4-9-8-29 2-1 10-1-14 0 10-2-4-6-7-5 23 5-4 0 5 7-5 15 6 3-9 3 2 3-2 4 7 8-2 15-5 5 0 4 0 7 0 2 14 2-14 2 0 0 4 1 9 2-10 1 5 1 7 1-10 0 6 1-8 0 10 3-12 0 6 2-1 1-4 1-2 2 5 4-3 2 0 7 0 7-1 2 29-13-10-11 7-3 0-1-2-4-2 0 7-1-11-1 8-1-8 0 11-1-9-1 5-1 2-4 3-7-12-10 6-10-5-5 0-6 7-2-4-1-6-5-1-2 15-2-5-6-10-7 13-7-2-1-4-2-5-3 2"/><path d="M1280 1575l2 8 5 15-2-7 0 8-1-7-1 7-1-7-1 2 0 3-1-7 0 2 5 8 2 10 0 4 2-9 1 18-1 7-1-11-1-1-1 7 0 3-2 1 7 5 1 11 1-8 0 4 4 22-2-14 0 12-2-8 0 4-2 2-11-7"/><path d="M225 1670l1-3 2-3 4 14 1-5 5 5 7-6 1 2 1 4 1-5 1-2 1-6 0 8 0 4 2-2 1-8-1 14-2 7 0 2-1-9-2-1-1 13-2-2 0 2-8 0-1-4-1-3-1-3 7 13 0 3 1 4 2 1 0 3 1-11 0 4 0 3 1 7 2-10 0 9 2-11 0 11 1-8 0 6 3 15-1 2-1 1-2-3-1-4-2-6-1 3 6 13"/><path d="M259 1675l26-11 1 8 2 0 0 3 2-9 0 12 1-7 1-5 0 12 1-6 1 6 29 0 4-1 1-3 9-2 12 1 4 5 4-10 12 0 7-2 2 11-2 14-5-4-15 7-8-2-2-12-3 8-2 3-2-2 0 2 0 3-2-4-1-6 0 9-1-2-2-8 0 2 0 4-3 5-1-10-1-4 0 6 0 5-3-10 0 2-1 3-1-6 0 9-2 2-2-1-1 4-4-12 0 3 0 3-1 2-3 2-3-8 0 2 0 3 0 2-2-5-1 5-1-5 0 2 0 6-3-5-1-3-1 9-4-8 0 3-1-5-1 4-1-4 0 2-1-4 0 12-2-12-1 4-2 5 0 3-1-9 0 3-1-5-1 3-2 2-2 0-3 1 0 2 0 2-3-1-1-3-6 5-4-3-3 1-2 3 0 3 0 5 4-5 5-1 5 0 3-2 9 13 6-13 13 11 1-6 1 3 1-7 2 2 0 5 0 4 3 1 1 2 1-14 0 3 1 11 1-10 0 5 1-2 2-4 0 5 0 4 1 2 1-2 1-11 1 5 1 8 1-15 0 6 0 6 1-4 2 5 2-12 0 3 0 10 2-10 0 11 1-6 1-5 0 10 2-1 1-4 1-5 0 9 1-3 2 1 0 2 3 1 1-6 1-6 1 7 1 2 1-2 2 2 1 4 1-2 1-4 2 3 19-9 2 7 5-2 1 11-15-3-9 6-1 5-5-7-2 2-1-3-1 6-1-9 0 5 0 9-1-4-1-3-2-2-2-4 0 9-1-6 0 11-1-14 0 5-2-4-1 10-1 2-2 0-2-5-1 2-1-7-2 4-2-7 0 9-3 3-1-11-1 5-2 0 0 3-1 3-2 1-1-9 0 6-2-6-2 8-4-9 0 3 0 3-2-5 0 7 0 3-1-13 0 8-3 4-1-7-2 2-1 5-1-4-2 5-2-3 0 3-1-5-9 0-5 2-3 0-15-2 0 6 1 3 0 2 1 6 0 2 4 1 5-11 4 1 0 10 3-12 1 11 2-3 1-6 0 9 2-2 1-7 0 4 1 7 1-2 1-8 2 2 0 7 4-1 2-10 1 9 1-6 0 4 0 4 1-14 2 13 2-3 1-10 0 6 1-2 1-2 1 2 0 8 0 2 2-11 0 11 1-4 1 3 0 2 2-3 1-8 2 10 7-11 3-3 2 4 2-3 6 3 1 4 1-2 1-6 1 4 0 2 2-4 0 2 2-2 4-2 0 5 2 1 0 7 2-8 0 4 1 4 1-5 3 0 0 2 0 3 6-2 0 3 1-5 3-3 1 7 1-5 0 2 3 0 2 0 2 0 1-5 2 3 0 4 3-10 0 5 0 4 4 13-2-2-2-1-17-4-1 9-1 4-1-14-1 10-3-5-4-5-26 4-10 10-1-12-2 11-2-9 0 4 0 5-1-2-3-11-1 11-2 3-2-5-2 4-2-8 0 6-1-11 0 13-1-10 0 7-1-3-1 6-1-12 0 7-1 7-2-3 0 2-2 1-1-9 0 6-5-10-3 0-2 2-1 7-2-3-1 5-3-9-1 4 0 1-2-4-2-5 0 4 5 12 4 1 1 5 3 3 1-6 0 2 0 7 2-7 8-2 3 4 2-5 5-1 4 11 2-12 2 3 2 2 2-5 0 2 1 10 0 3 1-10 1-5 4 6 0 9 3-2 3 1 15-8 8-6 4 12 5-4 2-8 3 0 2 2 0 12 1-2 1-3 15 5 3-1 1-5 1 11 0 10-1-8 0 5 0 5-1-14-1 3 0 11-3-15 0 4 0 6-2-7 0 2-1-4-1 13-1-9-1-3 0 10-1-6-2-3-1-2-1 7-2-8-1 3-1 5-1-6 0 8-1-5-1-4 0 14-1-9-2 4-2-3-1-7 0 12-1-6-2 4-2 0-2 4-1-9-4 3-1-4 0 10-2-9-1 3 0 2-2-5-1-3-1 2 0 2-2-2-2 1-4-4-2 6-1-5-2 3-2-4-2 2 0 2-1 9-2-8 0 2-1-7-1 2 0 4-1 7-1-12-1 4 0 7-1-5-3 7-16-3-4-2-2-9 0 7-3-7"/><path d="M387 1668l14-1 1 10 1-4 6 1 4-1 11-9 2 3 0 3 2-1 1-4 0 9 3-4 0 7 2-13 0 8 0 2 1-8 2 0 0 12 1-5 2-5 0 9 1-12 0 8 1-3 3 3 0 2 2-10 0 5 2-6 1 7 1 6 1-8 0 2 1 7 1-5 1-3 3-3 3 3 2-4 2-2 0 11 1-2 1 3 1-5 0 2 1-7 1 3 2 0 0 8 1-10 0 4 2 4 0 3 1-9 0 4 1-7 0 5 1 8 2-11 0 3 2 4 2-3 0 4 1 3 5-2 1-3 4-10 4 8 1-6 4 1 2 2 0 3 2-5 1-2 1 2 0 4 1 12 0 11-2-11 0 8-1 3-1-7-1 3 0 3-1-9-2-3 0 4 0 8-1-5-3-2 0 4-3-1 0 4 0 2-1-8-1 2 0 4-1-11-1-2 0 8-1-2 0 4-2-4-1 7 0 2-1-14 0 5 0 3-1 5-1-13 0 5-3-2 0 8-1-3-1-3 0 7 0 2-5-13-2 9-1-9 0 6-1 3-1-4-1-3 0 7-2-11 0 6 0 3-2-2-1 4-3-3-2-1 0 3 0 4-1-14-3 10-1-2-1-5-1 5-1-5-1 2 0 7-2-6-2-4 0 4-3-5 0 3-6-2-3 13-7-8-9 8-3-6-16 5-10 16 11-1 2-7 12-6 3 9 3 5 5 0 7-9 15 5 1-7 12-1 1 4 4-3 2-3 0 7 4-7 1 5 3 7 1-9 2 6 1-7 1 3 1-4 1 8 0 2 2-7 0 7 0 3 1-12 1 3 0 3 0 2 0 4 2 0 1-5 0 2 2-11 1 6 0 9 3-14 0 3 0 5 2 2 0 3 3-6 2 0 1-5 0 2 1 7 1-4 1 2 4-5 1 11 0 13-3-12 0 2 0 2-2-1-1 4-2-6 0 5-1 2-2 1-1-10 0 7-1-2-6-2-3-1-7 6-1 4-4 2-2-9-4 5-11-4-21 6-3-3-3 5-9-5-21 2-2-7-2 7-7-4-6 2 3 17 11-9 10 0 11 9 2-6 8 10 7-11 8 5 1 5 2-7 14 9 10-15 6 13 4-10 2 5 1 7 2-9 9 2 10 5 4-3 0 17-7 1-4-5-6-2-2-3-12 12-6-3-5-4-10-2-5 6-1-9-7 2-13 5 0 4-9-6-1 8-18-14-7 5-1 6-2-8 0 3-2 8-9 8 0 2 1 2 1-4 0 6 1-13 1 7 1 8 2-7 0 3 3-6 1-3 3-2 0 2 4 10 20-9 2 11 4-5 17-8 12 4 10-5 8 15 20-14 15 1 0 24-13-2-2 5-2-11-2 11-2-6-5-2-10 4-4 6-3-13-5 3-7 1-5-6-4 10-13-5-2 5 0 2-1-11-3 9-1-6 0 3-2 3-1 3-1-10-1-2 0 13-1-6 0 2-1-4 0 6-2-6-1-3-1 8-1-4 0 7-1-10-5 2-2 5-1 2-4-7 0 4 0 3-2-7-1 9-3-5 0 3 0 2-1-8-2 7-2-9-2 3 0 2-2-6-2 2 0 4"/><path d="M512 1671l2-2 0 5 4-1 1 3 2-9 0 10 1 2 3-8 0 4 1-7 0 5 2-7 2-2 0 9 1 4 1-9 2-4 0 10 3-10 0 4 0 10 2-14 0 3 1 9 7-12 1 2 6-2 1 4 3 0 1 2 1-3 2-2 0 13 1-3 1-6 0 2 2-2 1-2 0 10 2-11 1 7 1-8 1 8 1-6 1-3 2 2 2 1 0 4 3 0 1 3 0 4 2-9 0 2 0 4 2 0 2-10 1 14 1-8 2-5 1 6 1-7 0 5 0 7 1-10 2 0 3-2 0 10 0 3 2-13 0 2 0 5 1 3 3-1 0 2 1-4 2 4 0 2 2-10 0 4 2-7 0 5 2 3 3-8 0 3 1 4 3-8 0 15 2-10 3 6 1-10 0 2 1 6 1-4 0 2 0 4 1-9 0 7 0 4 2-10 0 9 1-7 2 0 0 3 0 3 3-9 0 2 0 5 0 6 0 5 0 5-2-8 0 14-1-12 0 7 0 2-2 0-1-2 0 4-2-11 0 3-2-2-1 7-2-11-2 6-1 2-3 0 0 6-3-7 0 3 0 3 0 2-3-11-1-4 0 9-1-2-2-1 0 2-2 6-1-12 0 6-1 2 0 4-1-12 0 2-1-4-3 4 0 3-2 3-1-3-1-5 0 10-1-3 0 6-3-4-1-4-1-3-1-2 0 8-3-10 0 13-4 1-2-14 0 10-1-3-1 7-7-2-2-6 0 9-4-14 0 7-2-7 0 5 0 6 0 2-2 0-1-8-2-6-1 4-1 3 0 5-1-3-1-4-2 8-1-2-1-7-1 5-1-7-2 1 0 6 0 4-1-12 0 6-2 8-1-10 0 4-1 2-1-9-1 3 0 4-2-5-2-4-1 8 0 3-1-6-1 7-1-11-1 3-2 0-4 0-1-2-1 12-4-10-1 8-2-10-1 5 0 2-2 3-1-7 0 2 0 14 0 2 0 2 1-6 3 5 1-8 1 5 1 10 2-10 1 3 0 2 1 2 0 3 1-8 2 3 2 1 0 3 1-11 1 6 0 6 2-9 0 7 1-2 2-4 2-5 2 3 1 2 2 2 1 4 1-8 1 6 2-11 1 6 0 7 1-5 1-7 5 12 1-10 3-1 1 5 2-2 2 1 5-4 4 4 2-1 4-1 2 4 2-8 1 4 0 2 2 0 0 2 2-7 3 4 2-2 0 4 1-2 3-2 1 4 0 4 2-7 1-4 2 4 1 4 1-6 3 3 1-2 2 0 0 5 2-8 2 7 2-5 0 6 1-4 1 5 1-6 1 4 6-1 1 4 1-8 1 6 4-8 1 8 1 2 3-3-1 11-4 10 0 2-2-6-1 3-1-2-1 2 0 2-2 2-1-4 0 2-5-4-5 6-3-7-1-2-1 2-2 2-1-5-1 7-8-3-1 2-3 0-3 3-1-3-3-3-3 3-3-2-1 5-2 0-2 1-2-3 0 3-1-5-3 3-4-5 0 6-2-8 0 9-1-6-1-5-1 2-1 9-2-9-1-3 0 5 0 6-2-6-1-2 0 8-3-14 0 4 0 11-1-5-2 2-1-12 0 8-2-5 0 4 0 3 0 4-2-5 0 2-1-7-1 4-1-2-1 6-1-11 0 4 0 4-1-2-3 7-1-10 0 3 0 3-4-7-2 11-1-14 0 2-1 5-1-7 0 2 0 12-2-3-1-10-1 7 0 6-1-2-1-11 0 2-1 2-3 0-2 10-1-10 0 4 2 14 2-6 0 13 5-13 2 3 3-2 0 2 3-4 1 4 2-1 1-2 2 0 0 6 7 0 0 3 0 4 2-12 0 8 1-2 1-3 1 4 2-5 2-2 0 3 2 1 0 8 2-4 1-9 1 6 1-4 2 2 1-4 0 7 0 3 2-6 2 2 1 8 1-7 0 2 1-7 0 3 2 3 2-7 0 7 2 4 1-9 0 3 3-2 0 10 1-14 0 6 2 1 0 6 2 1 1-8 0 3 2-8 0 11 1-13 1 15 1-13 0 6 0 3 1 2 2-13 0 5 1 5 1 2 2-12 0 7 0 6 3-9 1-3 0 11 2-10 0 13 2-1 3-13 0 13 1-3 1 4 2-15 1 13 1-11 5 1 0 2 0 9 1-6 1 3 1-2 4-7 0 12 2-12 1 3 0 9 2-11 1 3 1-5 2 2 1-2 0 14 1-9 1 4 1-9 1 16-4 1-4-2 0 3-2-1-3 9-5-11-1 14-1-13-2-1 0 3 0 2-2-4 0 10-8-7-1-2-3 0 0 3-2 10-1-15 0 3-3 1-1-3-3 2-2-1-10 0-9-2-6 1-3 3-15 3-2-3 0 10-7-6-5 6-12-6-5 9 2 5 3 3 9 4 2-10 5-2 4 8 5-6 9 0 12 7 7-3 14-3 9 7 2-8 3 5 1 4 9-4 4 3 7 2 12-9 2 3-3 14-16 0-5 2-5-6-18 0-5 3-19 1 0 10-2-15-1 11-5-5-7 9-2-15-2 5-3 5-7-3-12 3-4-8"/><path d="M641 1672l0 7 1-15 1 2 1 7 1-3 1-4 2-1 0 9 0 2 2-9 1 7 0 4 3-13 2-1 0 4 0 5 1 6 1-3 3-10 0 10 1-7 0 4 1-6 0 8 2-7 1 9 0 2 2-7 1-2 0 7 2-1 1-9 0 6 2 1 1-9 0 4 2-5 0 5 0 3 2-4 0 10 2-11 4-2 0 7 0 2 1-7 0 9 1-6 1 3 2-4 0 6 1-10 1 8 3-3 0 9 1-12 1 11 1-10 0 3 2-6 0 11 4-8 0 5 1 3 1-5 0 2 1 4 3-6 1 2 1-6 0 3 2 7 1-10 1-3 0 5 0 4 1 2 1-8 1 8 1-11 3 4 3 0 1 3 4-1 0 2 1-7 2-1 1 12 1-11 0 5 1-3 3 0 2-1 0 3 0 2 2-6 0 9 1-7 4 0 2-3 5 5 2 10 6-2 2-2 1 8 0 7-2-2-1-4-2-4 0 2-1 8-1 2-1-5-1-2-1 2 0 4-2-8-1 12-1-5-2-7-2 8-2-9 0 13-1-6-1-8 0 3-2 0 0 7 0 2-2 1-1-3-1-11-1 6-1 5-1-11 0 8 0 6-1-11-1 5-1 3 0 2-2 0-1-9 0 7-1 3-1-12 0 7-1 4-2-1-2-8-1 4 0 3-1-7 0 9-1-6-3-5 0 13-1-15 0 7-1 5 0 2-1-12-1 4 0 4-2-7 0 6-2-9 0 14-2-5 0 5-3-1-1-9-2 3 0 4-1-9-1 12-1-9 0 5-2 2-1-6-2-1-2 7 0 2-1-8 0 4-1-10 0 2 0 6-1-3 0 9-1-2-1-7-1-4 0 6-1 5-3-7-1-4 0 6-2 2 0 3-2-4 0 3 0 4-1-14 0 12-2-12 0 4-2 1-1 7-3-5 0 4-1-9-3-1-1 6 0 4-1 3-1-13-1-2-1 14-1-10-2 3-1-4 0 11-1-6-1 2 0 5-1-8-1 5-1-9-1 3 0 8-1-10-1 7-1-9 0 5-1 4-2 0-1-5 0 9-1 6 0 7 0 2 1-13 0 2 1 4 4 0 0 7 1-13 0 8 1 2 1-5 1-4 2 6 2 0 2-5 0 4 1-7 0 9 1-2 2-1 1 3 1-8 0 14 2-14 0 5 1 4 1-9 1 3 0 11 2-15 0 10 2-8 1 2 1 9 2-10 0 5 0 7 3-14 0 8 1 5 1-3 1-11 0 8 2-4 1-4 0 11 1-3 2 0 2-1 1 4 1-11 0 7 1-5 0 3 0 4 1-9 1 6 1 5 1-10 2-1 0 12 2-6 0 2 2-8 0 15 1-13 0 6 2-7 1 3 2 1 0 2 1-4 1 7 2-8 1 6 1 6 1-8 0 2 1 6 1-9 0 4 0 3 1 2 2-11 0 5 0 6 2-1 2-11 0 4 0 7 0 2 2-8 0 5 1-7 1-5 0 14 1-9 5-3 1 9 1-9 3 10 1-12 1 10 1-3 1 3 0 3 1-6 2 4 2-9 1 2 1-4 0 11 0 3 2-14 0 11 0 2 1-10 0 5 2 1 1-5 6 9 1-2 4 11 0 5-2 1-3 1-1-8 0 3-1 5-4-11-2 0 0 4 0 2-2-7-2 8-1-3-1 3 0 6-3-13-1 7-1-4 0 10-1-7-2 7-1-15-2 13-2-8-1 5-1 5-2-9-1-5-1 2-1 2 0 10-1-12 0 10-5-1-1-4-4-5-1-2 0 8 0 6-1-4-1-2-2-4-2 3 0 3-5-5 0 7-2-4-1 4-2-5-3-4-2 3 0 6-3-1-2-3-1 5-1-3-2-4 0 7-2-1-1-5-2-1-3 2-2-7 0 13-1-9-1 4-2-5 0 3-2 1 0 5-1-14-1 4 0 4-5-5 0 8-1-3 0 5-1-8 0 6-2-6 0 6-1-9-1 3 0 4-1 3-1-8-1 4-1-5 0 11-1-6-3 6-1-3-1-8 0 11-2-5 0 3 0 3-1-11-1-3 0 11-1-7-2 8 2 13 3 3 1-10 0 12 2-13 0 6 0 4 1 2 1-14 1 2 1 3 1-4 1 8 1-6 0 9 0 2 2-12 0 13 1-6 1-5 0 3 1-7 1 8 1-5 0 9 1-5 2 2 1-6 0 3 4-2 0 4 0 3 0 2 2-10 2-2 0 4 2-4 0 6 2-3 1 3 1-4 0 7 1-10 1 3 0 5 1 7 3-8 1-4 1 6 1-4 1 6 1-5 3 1 1-5 2 2 1 3 1-4 2 2 0 5 4-10 1 2 3 1 2 4 2-2 1-2 3-1 2 0 1 2 2-3 3 3 1-3 0 14 14-14 1 8 4-4 4 6 8-10 0 5 5 5 3 12-5 3-1-9-7 11-8-10-6 2-2-4-1 9-1 5-26-1-6 1-5 1-2-4-3 3-4-12 0 7-6-3-11 4-3-4-15 1-11 6-1-13 2 17 4 3 9-3 0 9 7-8 1 9 5-11 9 8 6-1 2-4 0 7 11-1 7 0 9-7 11 0 0 9 2-4 4-6 10 5 1 4 4-4 3-4 15 11-2 8-3-5-5 2-10 12-1-14-4 2-10 1-15-1-1 5-9 0-9-3-5 10-13-13-4 7-9 6-7-6-10-2"/><path d="M768 1678l1-3 1-3 1 5 1-10 0 3 2-4 0 11 1-13 3 11 0 2 1-7 1-6 1 14 2-12 0 13 1-2 1-11 1 8 1-10 0 7 2-2 1-3 1 11 1-5 1 5 3-13 0 14 1-2 2-7 1-5 0 7 1-5 0 10 2-5 0 2 1 3 2-3 0 4 2-5 1-4 0 7 1-9 1 7 1 4 1 2 3-11 0 8 2-2 4 2 3 3 3-4 1-3 0 6 2-2 1-3 1 3 2-4 2 4 0 2 4-1 2-8 0 3 0 3 2-4 0 5 1-10 0 13 1-4 1-10 1 3 1-4 0 6 1 9 1-4 1-3 3-5 1 4 2-6 0 9 0 2 3-9 0 11 2-2 2 3 1-7 1-8 0 2 2 7 2-5 0 7 1-5 0 9 1-15 1 5 1-3 0 6 2-2 1-4 0 7 0 3 3-7 0 8 1 2 2-6 1 5 1-11 0 5 0 2 2 1 2-4 2-6 1 8 0 5 0 2 0 9-2-9-1 7-2 0-1-4 0 2 0 4-2-9 0 7-1-3-2-2-2 2 0 5-1-3-1-2 0 4-2-7 0 7-3-1-1-4-2-2 0 3-2-3-4 2-4 4 0 8-1-14-1 3-1-2-1 3-2-4 0 4-2-5-1 7-4-7 0 5-6-4 0 3-2-4 0 3-2 0-2-1-1-2-1 2-2 0-10 1-1-3-1 2-3 0-4 2-2 1-2 0-3-3-2-1 0 12-3-10-2 5-1-4-1-4-1 5-1-5 0 2-6-1-2 1-6-2-2 8-1-5-1 6-4-3-2-4 0 4-1-6-1 2 0 5 1 17 1-2 0 5 2-10 0 13 3-5 1 2 1-2 2-4 1 7 4-5 0 2 0 5 4-10 1 2 0 5 1-7 3-1 0 5 1-3 0 5 2 0 0 3 2-10 0 12 2-13 0 3 2-4 0 2 3 0 0 3 0 4 0 5 8-9 1 6 3-1 1 4 2-7 2-2 0 4 1-10 1 14 1-2 1-3 2-8 0 7 1-5 1 6 1-8 1 2 1 9 2-8 0 3 2 3 1-10 0 8 0 7 2-11 1 5 3-7 0 7 2-8 1 3 0 6 2 0 0 2 1-7 2 8 1-4 1-9 1 15 1-12 0 3 0 2 2 0 0 2 1-5 0 7 2-3 0 2 1 2 1 2 2-11 1 6 1-7 2-1 0 2 0 11 2-9 1-4 0 10 1 3 1-11 0 5 2-2 2-3 0 6 2 3 0 2 2-6 1-3 0 7 5-8 0 7 3 3 3 12-1-2-1 4-2-3-1-3 0 8-3-9 0 3 0 5-2-11 0 2 0 6 0 3-2-10 0 2-1 4-1-9 0 14-2-1-1-6-1 7-1-6-1-5-1 11-2-12 0 8-1-10-1 6-3 1 0 5-2-2-1-10-1 3-1-2 0 11-2-11 0 7-2-3 0 2-1-5-2 7 0 2-1-11 0 2 0 3-1 4-2-3 0 6-1-12-1 4-1 6-3-4-1 3-1-7 0 2-2 7-2-1-2-10 0 2-1 3-1 4-1-8 0 4 0 2-1-8 0 10-2-2-1-3-1 5-1-3-1-6-1 4-1 9-1-10-3-3-1 12-4-9 0 4-2 0-1-4 0 2-4-4 0 4 0 4-3-3-3-6 0 2 0 2-4-4-1 8-2 0-2-9 0 12-1-9 0 2-3-5 0 8-3-5 0 3-4-6 0 8-3 2-2-6 0 4 0 3-2-5-2-5 0 8-1-6-2 2 0 6-3-8 0 5 0 22 11-14 1 4 2 7 6-8 6 3 1-6 6 4 0 6 20-9 4 6 17 6 1-8 4 8 8 2 7-4 8-4 10-6 11 1 2 0 1 2 1 8-2 18-4 1-6-1-3-7-9 1-7 7-4-3-2 3-2-3-11-9-4-2 0 4-6-3-12 13-5-2-2-3-6-5-2-5-13 6-4 2-2 7-13-11 0 5-7-5 5 24 6 1 18 0 14-3 1 5 4-6 0 5 10-8 0 4 13-7 12 1 2 7 6-9 8 6 23 1-8 8-10 7-4 5-8-2-3 2-16-4-2 4-5-5 0 6-22-6-3-5-3 8-6-9-9-2 0 7-16 8-6-13-2 10"/><path d="M897 1673l1-8 3 3 3-2 1-2 0 10 2-5 0 5 0 4 2-6 1 7 1-10 0 8 1-11 0 5 1 3 0 5 1-9 1 5 2-4 2 0 1 7 1-11 0 4 1 2 1 3 0 2 3-3 0 4 1-14 1 5 2-4 0 9 0 3 1-14 0 5 0 4 1 3 0 2 1-14 4 0 1 15 1-14 0 11 1-8 0 11 1-5 0 3 2-4 0 6 1-15 1 9 2-9 0 4 0 8 2-12 0 5 1 7 1-8 0 2 1 4 0 2 1-7 3 10 2-2 1-7 5-6 6 2 2 2 0 2 0 6 1-4 2-5 0 11 1-9 0 4 1-2 1 7 1-7 0 3 1 3 2-3 0 3 1-5 2-7 1 9 2 1 1-7 2 0 1 5 2-4 1-4 1 3 1 8 2 2 3-1 0 2 1-6 1 5 1-12 1 3 1-3 0 10 2 3 1-8 1-4 0 12 4-14 0 6 1 4 1-6 0 4 3-6 0 7 3-7 0 21-1-5 0 7-2 1-1-5 0 2 0 7-3-1-2-3 0 3-1-12 0 6-1 7-1-12-2 2 0 3-1 3-1 3-2-7-1-2 0 6 0 2-4-1 0 2-1-5-1-4-1 9-2-6-1-8 0 2 0 11-2-12 0 6-1 8-1-2-2-13 0 2 0 4 0 3-1 3-1-2-1-9 0 7-2-5-1 3 0 6-1-8-2-1 0 7-3-8 0 11-3-13 0 4-1 3-1-5-1 4 0 3-3-9 0 4 0 5-1-3-1-3 0 5-1-3-2-4-2-1-2 6-1 4-2 0-1 3-1-12 0 10-1-4 0 7-3-14 0 7-1 8-1-6-1-6-1 8-1-5-1 9-3-2-2 2-1-12-7 9-2-12 0 14-3 0-2-4-1 2-1-12-1 14-1-6-2 2 0 5-3-9-2 1 0 6-2-1-2-4-4-4-1 4-1-5 0 8-1-3-2-7-2 0 0 10-1-2 0 14 0 4 1 3 2-2 0 3 1-6 1 2 5 0 2 2 2 2 4-2 4 0 2-13 0 15 2-12 2 0 2 0 0 3 2-2 2-4 5 5 1-5 3 2 0 7 2-1 3-2 2-6 0 11 2-7 1 9 1-6 1-4 0 7 0 3 2-13 0 3 3 8 1-9 0 2 0 3 0 8 4-4 0 2 1 2 1-7 0 3 1-11 1 15 1-4 1-5 2 7 1-7 2 2 2 5 1-4 4 4 5-11 0 9 2-5 1-6 0 10 3-8 3 0 1 6 1 6 2-4 1 5 1-6 1 4 2-2 2-4 1-5 0 12 1-2 1-12 0 5 0 4 4-4 1-2 2 0 0 5 4-7 0 13 1-10 3-2 0 29-2-4-1-6-1 2 0 3 0 5-4-2-3-5-2 2 0 5-3-9-1-4-1 11-1-12-3 0 0 7 0 5-1-3-2-9 0 3 0 8 0 2-2-4 0 3 0 2-2-14 0 12-1-5-2-2 0 3 0 2-2-8 0 2-3-5 0 2 0 2 0 6-2-7 0 4-2 4-2-5-1 3-1-2-1-7 0 3-2-1 0 12-1-9-1-4-3 5-5 4-7-3-2 6-2 1-2-3-1 2-3-2 0 4-2-2 0 2-2-3-1 2-1-4-2-1-2 0 0 2 0 3-2-2 0 2-1-14-1 11-1-2-1-3-3 0-1-3-1-2-2 0 0 3-1 5-2 1 0 2-1-10 0 2-1 7-2 4-1-3-1-4-1 4-1-9-1 2-2 0 0 6-2-9-2-1 0 4 0 6-1-4 0 6-1-3-1-7 0 4 0 5 0 2-1-5-1-9-1 14-1-9 0 7-1-3-2 12 1-3 1 3 2 7 1-4 4-2 4-6 0 2 0 7 1 4 1-5 3 0 1-8 7 5 0 3 0 2 2-6 2 1 0 4 2-3 1 5 1-5 1 3 0 3 1-10 2 10 0 3 1-8 3 2 2-7 0 5 1 8 3-7 2-5 0 3 2 0 1 8 2-2 1-2 0 5 1-12 0 5 1 5 2-2 1-8 0 4 1-7 0 10 1-7 1 8 4 2 1-4 2-9 0 6 0 7 1-10 0 6 1 5 1-8 0 3 2-6 0 9 0 2 2-3 1-6 5 8 1-6 1 3 1 3 0 2 5-2 0 2 2-1 3-2 2 3 7 0 1-3 3-10 1 11 2 0 1-12 3 12 1-10 3 1 2-1 2-2 1 18 0 7-3-3 0 4-2-8 0 6 0 4-1 2-2-2-2-12 0 3 0 4 0 6-1-2-2-4-2-7 0 4 0 3-2 3-2-3-1 2-1-3-1-4-1-2-1 2 0 2 0 4-1-9-1 14-2-10-2-3 0 5-3-3 0 4-2 5-1-10 0 6-1-3-4 3-1-5 0 8-2-8-1 4-1-2-1 3-1-5 0 8-2-9 0 8-2-5 0 9-2-5-2-1-1-4-1 2-1-4 0 8-1-4-1-4-2 2-2-3-4 1-1 12-1-4-1-9 0 2-4 1-4-3-6 4-2 6 0 4-3-12-5 5-3-8-3 7-4-5-3 5-5 2-1-8-3 12-5-2-3 19 3-14 15 1 4 13 2-6 17-2 2 5 14 0 1-4 5-4 5 1 11 2 5-3 13 9 1-12 5 3 2 9 1-5 6-6 5 8 1-7 4-2 1 3 1 9 1-11-4 24-9 4-5-7-12 5-5-11-4 12-17-2-5-9-15-1-2 6-9 6-1-11-17 4-6 6-2-7-7 1-4-1"/><path d="M1024 1671l0 3 1 2 1-5 4-4 0 12 1-5 0 2 1-6 0 8 1-2 2-8 2-4 1 15 1-10 1-4 0 9 0 5 1-8 2-2 1-4 1 3 1 2 1-4 2-1 0 10 1-7 0 3 4 6 4 1 1-13 2 12 2-1 1-12 0 9 0 5 1-9 1 2 0 2 2-4 0 4 0 6 1-14 1 11 0 3 2-2 1-6 0 4 1-7 1-3 0 7 2-4 8 0 2 7 1-9 0 7 1 4 1-8 0 6 1-2 1-7 0 10 1-12 0 8 1 7 1-6 0 4 2 1 2-2 1-12 2 6 3-5 4 2 5 11 2-9 0 7 1-3 1-9 0 5 0 2 0 4 0 4 2-4 1-10 0 3 0 11 2-3 2-9 0 12 1-14 2 5 1-5 0 14 1-4 1-4 0 2 1-5 1-2 0 8 1 2 2-11 0 12 1-7 1 2 2-3 0 9 1-12 2 3 2 1 1 2 1 3 3-9-9 15-1 3-2-1 0 8 0 4-1-15 0 6-3 3-1 6-1-4-1-11-1 3 0 2-2 2-3-5 0 6 0 5-3-12 0 11-1 3-1-12 0 7-1-3 0 8-3-14 0 6 0 2-2-7-1 13-1-4-1-8 0 6 0 5-1-7 0 5-3 2-10-11 0 3-2 7-3-5 0 6-2-10 0 6-3-5 0 2 0 4-1-10-2 8 0 6-2-12 0 5-4 4-3-6 0 3-3-4-2 4-1-7-1 5 0 8-1-12-1 2 0 3-3-6 0 3-1 4-3-8 0 4-1 9-1-7-1-7-1 6-1 3-1 2 0 2-1-10-2 11-1-9-1 4-3-1-1-5-1 7 0 2-2 0-1 3-1-4-1-5-2 4-1-6-1-2-1-2-1 11-1-6 0 4-1-8-1 4 0 5-3 0-1 5-1-4 0 6 3 4 0 2 1-6 1 4 1-5 0 7 2-6 0 2 3-3 0 3 3-2 3 0 2 3 2 0 7 9 1-13 3 0 1 8 4 1 2 3 1-5 2 7 1-13 0 4 0 5 1-7 0 11 3-9 0 4 2-2 0 2 2-9 1 2 1 9 1-11 0 3 2-3 0 3 2 7 3 0 2-9 0 4 1-2 2 10 1-12 10 3 0 5 0 6 2-4 0 2 1-12 1 6 0 8 1-13 0 3 2-1 2-4 0 7 1 5 1-2 1-5 0 9 1-6 2-8 1 6 1-4 2-1 0 3 0 8 2-9 0 5 0 3 2 0 1-9 1 8 0 4 2-9 0 3 3-5 0 9 0 2 1-4 2 2 1-10 2 1 3-3 6 4 2 22-4 1-5-9-7-2-1 12-1-12-1 7-1-4-1 6-3-3-1-2-3-4 0 6-2 1 0 2 0 5-1-11-2 10-1-11-1 5-2 0 0 2-2-2-1 5-1-2-2-9 0 5-4-1 0 3-1-6-1 2 0 2 0 9-2-13 0 12-1-7 0 4-2 3-2 0-1-9-3-1 0 10-1-8-2 0-2-5-1 2-1 5-2-6-3-1-2 11-1-6-2-3 0 4 0 7-2-4-2-9 0 7-2-1-1 6-2-6 0 3 0 2-3 2-1-5-1-9-1 4 0 5 0 2-1-11 0 7-1-3-2 3-1-6 0 9-1-7 0 9-4-3 0 6-1-2-2-8 0 5-2-5-1 4 0 6-2-10 0 4 0 4-1-6-1 2-2-2-1 8-1-7-1 3 0 2-2-6-1 5-1-7 0 3 0 7-1-5-2-3 0 7 3 7 2-1 4 2 0 2 1-4 2 9 1-9 4-3 1 3 1 2 0 5 1-9 0 13 2-13 0 11 1 2 2-15 0 4 2 11 1-12 4-3 1 14 3-12 5 11 2-1 1-4 2-1 0 3 0 4 1-10 2 3 3-4 0 2 0 6 1-11 1 11 1-9 0 7 0 4 1-7 1-2 2 1 4 6 0 4 3-15 1 11 2-9 0 6 1 6 2-13 0 12 2-12 1 10 1-10 1 9 0 2 2 1 1-2 1 3 1-14 0 8 1 5 1-10 1 5 2-8 0 5 1 9 1-11 0 6 1-8 0 5 1 6 5-12 9 14 5-9 3 2 6 3 6 4-6 15-13-8-5-4-1 9-7-1-10-7-1-2-2 4 0 6-2-10-1 3-2-1-2 0-3 4 0 6-1-12-1 7-2 3-1-4-1-4-1 3-3-1 0 7-3-5-1 4-1-7-3-1 0 2 0 4 0 2-1 2-3-11 0 10-1-3-1-3 0 6-1-3-1-3-3-4 0 11-2-9 0 11-4-1-1-12-1 7-1-6 0 8-3-8 0 7-1-4 0 7-1-10-1 8-1-4 0 2-3 0-1-6-1 9-2-8 0 8-1 2-1-13-3 14-2-14 0 9-2 1-1-9-1 5-1-2-2-2 0 9-1 2-1-3-1-9-1 7 1 12 7 9 6-13 1 2 0 2 1 4 2-8 0 4 0 9 1-11 1 7 6 1 2-10 5 3 1 7 1-10 0 6 2-5 11 0 3 3 0 6 6 5 1-12 3 4 6-7 4 7 25-4 4 2 7-1 1 10 12-4 5-10 1 14-7 16-19-8 0 4-4 2-22-3-5-3-7 9-5-2-4-2-4-10-17 0 0 14-18-5-11 1-3-3"/><path d="M1155 1677l1-7 20-3 17 12 4-15 4 14 6-11 2-3 11 13 3-2 1 2 2-2 0 2 1 2 1-10 2 1 0 5 1-7 1 6 2-7 1 7 2-2 1-7 7 0 4 5 1-3 2 1 4-4 1 3 2-1 0 8 1-4 1-3 0 10 2-7 2 5 1 2 3-2 1 3 3-5 0 3 4-4 1 15-1-7-2 2-1 3-2-5 0 3-39 10-4-11 0 3 0 3-3-4 0 9-1-11-1-2 0 6 0 3-2 2-1 2-1-6-2-7 0 3 0 2 0 4-2 2 0 4-3-8-13 1-3 6-5-6-3-5-6 10-2-6-5 3-11-6-6-1-1 9-2-4-1 15 4 1 2-5 5-1 12 8 11-7 2 7 0 5 29-14 4 0 2-1 1 4 3 0 2 1 2 0 1-3 3-1 1 7 1-5 2 4 0 2 3-7 1 5 0 4 0 3 3-6 0 6 1-2 4-1 3-2 1 6 4 0 1-3 4 0 3-6 1 8 1-8 0 5 2-8 0 10 0 2 2-9 1-4 1 10 1-5-1 9-2 2-1 6-1-3-2 4 0 6-1-13-1 2 0 9-2-8-2-4 0 13-1-7-3 0-1-6-1 8-1-8 0 4 0 6-1 2-1-7-1 4-1-6 0 3-1 5 0 3-1-15-5 0-1 3-2-2-2-1-6 2-7 3-8 1 0 9-2-3 0 3-2-6-2 5-2-11 0 9-3-11 0 13-2-10-11 6-10 1-5-3-3-5-2 11-5-13-8 4-1 7-4-10-2 11-4-2 1 15 7-5 1 5 5-5 2 5 4 3 8-2 8 2 17-3 5-1 1-5 2 6 2 2 1-7 1-3 0 5 2 1 1-6 0 11 1-9 0 4 0 7 2-8 1 7 1-3 1-2 2-8 2 8 2-7 4 9 0 3 3-3 0 4 2-4 2-9 1 7 1-5 2 7 1-3 1-2 2 4 0 3 1-9 1 2 0 3 1 3 1-3 2 1 2-6 1-3 1 3 1-4 1 11 1-2 2-1 0 5 2-7 0 4 2-5 0 10 2-1 1-11 1 12 1-7 2-2-2 14-1 4-1 3-1-9 0 4-3-4-1 5 0 5-1-11 0 2-1 4 0 2-2 2-2 1 0 2-1-8-1 9-2-2-1-7-1 9-3-14-19 13-2-11-11-2-1 13-2-13-2 5-1-6-1 2-2 11 0 2-2-11 0 10-1-7-1 2-1 3-1-6 0 4-2 1-1-3-1 4-2 0-1 3-4 0-4-4 0 3-7-7-2 6-2-13-7 11-5-8 0 4-1 4-8-6-3 8-2 12 7-6 4-2 9 6 7 1 3-8 8 2 2-1 3 9 2-7 0 2 0 7 2-9 0 5 0 6 3-5 0 2 1-9 1 2 0 10 1-12 0 7 1-5 2-3 0 3 0 3 0 7 2-3 1-10 0 2 0 11 2-3 2-6 0 9 3-9 1 7 1-6 2 8 2-3 1 3 1-7 2 1 2 3 0 2 5-11 2 9 6 1 2 2 2-4 2 4 1-8 3-2 1 3 0 3 4 1 1-4 2-5 1 4 1 5 1-9 1 3 1-5 0 3 9 0-1 21 0 3-1 2-16-5-1-8-1 14-2-3-3-11-2 6 0 3 0 3-2-9 0 3 0 4-3-9 0 5 0 4-1 2 0 2-2-8 0 7-1-12-2-1 0 4-1 2 0 6-1-12-1 4 0 5-3 0 0 3-1-8-4-3 0 4-8-5 0 3 0 8-3-11-2 10-1-8-6 2-3 5 0 6-2-10 0 8-2-5 0 5-3-7 0 4-2 0 0 4-1-2-13 3-4-3-2-2-3-5 0 10-1-7-1-7 0 10-2-3-1-2-1 6-1-6-2 2"/><path d="M1282 1676l0 3 13-10 1 7 2-4-1 18 0 1-1-11-1 6 0 8-1-2-5-1-3 0-3-9 0 6-2-4-1 4 0 13 3-4 0 6 1 2 0 3 2-7 0 2 6 8 1-9 0 4 1-6 0 7 0 4 1-8 1-7 0 10 0 4 1-12-2 27-1-11 0 7 0 4-2-11-1 2 0 3 0 7-4-11 0 9-2-7-1 10-2-11 0 6-1 4 0 10 1-7 1 4 3 4 2-7 0 6 0 5 3-6 0 3 1 1 0 3 1-6 0 2 1-9-3 17-1 1-1 2-1-2 0 4 0 5-1 0-1-11 0 8-1 4-2 2-3 14 2-8 1-4 1 6 1-3 0 3 1-1 2-5-5 16-3-1"/><path d="M290 1793l0 4 2 3 2-1 1 2 0 2 0 0 1-5 1 9 3-8 0 7 6-13 1 2 14 11 10-3 9-11 0 2 1 11 2-8 1 3 0 2 0 4 4-6 0 7 2-12 1 4 1-4 0 8 5-5 21 6 3-4 1 3 0 2 1-7 0 20-1-4-1 2-2-7 0 14-3-8 0 8-2-4-2 0 0 2-3-4-1 6-1-3-8 2-4-1-3 0-2-4-1-6-1 5 0 3-1-9-1 11-1-11 0 13-2-10 0 7 0 3-3-15 0 6 0 4-2 1-1 3-14 1-14-2-2-2-2-5-3-2-1-2 11 16 2 4 4-1 2 7 4 2 0 1 9-12 1 9 0 3 2-7 2-8 0 11 0 3 2-13 2 2 0 5 2-6 1 2 0 2 1 4 2-5 2 9 1-12 1-2 0 5 0 9 1-7 0 5 1-7 1 3 3 1 3-7 8 2 1-3 3 1 4-1 0 5 1-2 3 1-37 24-1-12-5 1 0 2 0 10-4-10-1 6-3-6-1 0 13 12 3 1 3 2 2 3 4 2 2 2 0 2 1-10 4 13 5 0 17 7-3 2-2 0-3-3-6-1-1-4"/><path d="M387 1801l2 3 0 2 4-14 0 2 2 0 5 1 1-3 1 14 2-13 7 7 3-6 4 0 1 12 1-10 0 8 1-12 1 4 1 5 0 5 1-9 0 2 3-3 1-4 0 12 1-3 0 5 1-13 0 5 20 8 3-3 2-2 2 5 4-14 1 4 0 4 4 0 1-5 14 3 7 5 12 4 11 2-3 11-2-4-2 7-2 0-5-14-1 14-12-13-20 9-2-11 0 2-2 3-2 0-1-2-1 3 0 6-1-9-1 10-1-3-1-5-1 10-2-2 0 2-2-4 0 2-4 2-7-6-7 0 0 5-2-6-1 2 0 3-4-5-1-8 0 4 0 10-1-8-2 4-1-7-2 5-1 7-17-1-5-1 0 2-1-12-1 4-1-5-1 12-1-14 0 9-2-6 1 19 3 1 1-6 2 6 0 7 1-10 2 0 1-4 0 13 1-9 1 8 2-8 1 7 1-7 1 10 1-9 2 2 0 5 2 3 1-11 1 10 1-12 1 7 1-7 1 6 1 4 0 3 1-10 0 2 2 5 0 3 1-9 1 4 1 4 2-8 1-6 2 2 0 11 2 0 1-7 3-1 0 2 1 7 1-7 0 5 1-2 1-5 3 6 3-9 0 4 1 5 1-7 1-3 1 5 1 6 2-1 1-10 1 8 2-1 1 4 1-4 0 2 2-6 1 3 1 3 6 5 4-12 0 12 8-13 12 5 0 2 2-9 3 6 3 3 0 4 1-8 1-5 3 4 1 5 1-6 2 1 2-3 2 0 0 6-6 13-12 2-2-5-3 0-1 2 0 5 0 7-1-14 0 10-2-1 0 3-1-12 0 5-1 4-1-10 0 5 0 7 0 2-1-7-2 5-1-10 0 2-2 7-1 2-2-7-4-1-6-4 0 3-5-3-1 10-1-11-24 5-3 5-3 0-1-3-1-6 0 9-1 2-1-10-1 3-2 5-1-5 0 9-1-7-6 1-2 0-2-3 0 4-5-9-2 7-3 2-2-9-2 15-3 6 0 5 1-7 0 5 2-5 3-1 0 9 1-6 5-4 7 0 9 1 4-2 1 5 2-2 0 4 2-6 0 7 0 4 1-7 1 4 1-3 2 7 2-2 1-2 11-8 0 9 15 5 2-1 2 0 2-2 2 3 3-4 0 2 1-5 1 4 1-10 0 3 0 2 2-3 0 5 0 6 1-14 0 12 1-9 1-4 1 11 1-5 2-6 0 9 1 3 2-6 2-5 1 9 2-5 3 5 2-4 1 3 0 3 3-1 1 2 1-3 2 5 3-4 1 4 2-9 2 9 0 2 0 5-3-2-1 7-2-11-2 1-2 4-3 1-14 9-3-3-2-8 0 5 0 6-2-1-2-11 0 5-1 4-1-4-6-6-2 1-3 2-7-4-1 4-2-5-1 7-1-4 0 2-2 6-1-4-1 4-1 3-2-6-2 0-1-4 0 6 0 5-1-9-2-5 0 2-1 5 0 2-2 3-1-8-17 10-3-4-15-6-6 9 0 0-5-2-1 0-1-2 11 7 3 2 1 0 5 2 3 2 3 3 2-1 1 0 6 2 2 3 12-14 5 14 6-11 1-2 0 11 31-12 0 15 2-4 0 3 3 1 1-8 0 6 2-5 1 7 25 4 0 3-3 5-15 4-1-4-5-10 0 13-1-10-4-3 0 7-7-6-4 11-14-1-5 2 0 1-3-1-3-3-5 0-3-1-3-4-2-3-3-1-4-2"/><path d="M518 1796l0 9 6-5 4 0 9-4 4-3 2 8 2-3 5-1 6 3 1-6 5 4 4-3 1 8 3 4 5-7 3-8 5 9 11-6 6 2 1-4 3 3 5 6 2-7 1 11 8-11 2 5 1 4 10-9 6 6 0 20-7-5-9 1-2 4-5-9-4 6-3-3-4-4 0 6-4-3-3 5-3 3-5-7-7 7-4-2-3 2-1-13-12 10-1-8-7 12-6-6-5 6-11-13-9 8-4-4 0 8-2-3-2-7-3 2-1 18 1-4 0 6 0 2 4 0 0 2 1-6 31 1 0 5 1-2 30-10 1 11 1 2 6-4 0 2 0 2 2-1 2-1 1 2 7-14 0 13 7-7 1 5 6 2 1-10 1 8 5 3 2-11 1 9 7-3 1-4 4 6 2 1 0 8 0 3 0 2 0 2-2-11 0 8-1-5 0 10-1-8-1 9-1-15-1 8-1-3-1-5 0 3-1 11-2-6-2-4 0 7-3 2-1-8 0 2 0 3-1-8-2 9 0 2 0 2-1-10-1 3 0 4 0 3-2-12-1 5 0 3-2 0-2-11 0 7 0 5-1-9-2 6 0 2-2-6 0 3-1 2-1-10-1 6-1-2 0 7-2-8 0 6-1-9-2 13-2-3-1-7-3 3 0 2 0 2-3-8 0 13-2-2-1-11 0 6 0 2-2 3-1-11-1 3-1 2-1 4-4 3-1-7-2 3-2 2-3-5-1 5 0 3-5-5-2-8-2 10-2-4 0 4 0 3-2-14 0 4 0 6 0 4-2-10-2-2-5 11-3 1-6-3 0 3-3-4-1-6 0 8-2-5-2-2-1 8-1-7-2-5-6-1 2 30 2-3 12-9 0 11 2-1 2-8 0 7 1-4 2-4 1-3 0 7 1-3 0 7 2-12 0 2 1 6 1-3 1 5 2-8 0 9 0 2 3-11 0 3 2-2 0 2 2-2 2-1 5-2 0 3 4 6 5-1 4-5 2-2 4-1 1 6 1 3 0 2 1-8 1 5 1 3 2 0 1 3 1-7 1 2 3 0 0 3 1-12 0 14 2-8 4-6 0 6 1-4 1-2 1 2 0 7 2-8 1 10 2 0 1-8 4-2 0 6 5-4 4 5 0 4 4-10 0 9 2-6 2 8 1-9 6 8 1-4 2 4-1 6 0 2-1 4-1 3-1 2-2-11-2 2-1 7-2-2-1-5-2 2-1-5-2 2 0 3 0 8-1-6-5 6-15-3-10-10-1 5-2-2-2 1-2-4-1 8-1-9-2 1 0 5 0 8-2-2-2-4-2-8-7 12 0 2-8-4 0 2 0 2-2-7-1 4-1-6 0 9-2 0-1-6-1 5-2-8 0 4-1-9-3 6-1 2-1-5 0 8-1-11-1 3-7 1 0 2-2 1-1-4-2-1-2 5-2 0-2-5-1 3-1 6 0 4-1-2-2-13 0 6-1 3-1-8 0 2-2 26 2-1 1 3 2-10 1 9 1-5 2-9 14 13 10-7 9-5 2 1 0 2 5 1 1-4 1 8 0 3 0 3 1-11 2 7 0 2 2-12 0 5 0 2 0 2 2-9 0 10 1 4 1-7 3-8 0 10 1-8 4-2 1 2 0 2 0 3 2-6 0 5 2 9 1-15 0 11 1-6 4 1 1 5 2 4 3-1 1-6 3 4 5-3 2-4 2 5 1-7 0 5 2-2 0 5 2-11 2 1 3 1 3-1 1 2 1 6 1 5 1-9 1-2 1 6 0 6 1-14 0 12 1-10 1 8 1-7 1 2 1 7 1-5 1-4 0 11 0 7-1 9-2-12-1 2-1-2-3-1-4-2-3 12-12-12-8 13-3-5-2-2-1-4 0 11-2-10-1 7-2-5 0 2-1-5-20 2-2-1-1 5-2-3-1 2 0 3-1-9 0 11-1-8-1 4 0 5-1-3-1-4 0 2-10 7-6-6-27-7 0 3 0 4-2-2-2 3-1-2"/><path d="M642 1804l6-6 7-4 2 12 13-12 8 9 9-5 0 4 2-8 2 9 5-6 3 9 7-2 5 3 6-15 8 6 3 9 6-4 4 1 8-9 0 8 14-7 4 1 2-3-11 21-6 4-4-11-5 6-7-5-9 13-2-6-6-6-4 8-6-8-3 12-17-14-1 10-5-8-5 11-14-6-7-6-10 8-4-9 0 27 2 1 2-11 1 11 2 2 2-1 3 0 4 0 4-1 0 2 2-9 0 7 2-4 4 6 2-10 2 6 3 0 1 5 2-5 1 2 1 3 1-5 2 1 19 3 4-8 3 3 1 3 1 3 4-8 3 7 3-11 3 2 3 1 1-5 7 4 25-2 2 1 0 6 0 4 2-5 1 4 1-10 0 5 0 11-1 4-2-6 0 4 0 4-2-5 0 4-3-3-1 8-3-4 0 2-2-2-1 2-2 3-1-2-2 2-6-3-1 4-2 0-5-2-4-3 0 2-2-10-3 6 0 5-2-11-1 2-1 3-1-5 0 9 0 3-1-8-1 8-1-2-1-5-1 2 0 4-25-6-4 5 0 2-1-8-2 3-1 3-1-11-1 3 0 10-1-5 0 2-1 3-1-4-1-5-2-2-1 4 0 4-1-8-1 5-3-4 0 6-1-4 0 7-2-8-1 5-1-5 0 7-3 1-2-13 0 4-1 7 0 2-1-12-1 6-2 5-2-10 0 2 0 11-1-9 0 5-2-10-1 13-1-3-1-7-1 6 0 2-1-12 0 4-1 7 0 5 0 10 1-6 0 2 0 2 1-8 2 8 0 6 2-10 0 2 0 5 2-10 0 4 1 5 1 4 1-12 0 5 1-3 0 6 0 5 2-7 2-2 1-3 1 4 2-6 0 3 0 6 0 5 1-7 2-4 0 3 1 8 2-5 1 2 0 3 1-14 2 7 1-3 0 10 1-14 2 1 0 13 1-15 0 13 2-5 1 2 1-4 1 5 1-7 2 6 1-7 4 6 0 5 5 1 2-4 4 1 5-1 1 2 0 2 2-12 0 12 2-9 0 7 4-10 0 5 1-8 1 2 1 6 0 4 2-8 1 7 1-8 0 6 1-2 3-5 0 12 1-4 1-6 2 2 2-6 1 6 1-2 0 4 1 7 2-13 0 10 2-4 0 4 0 3 2-8 1 3 1-10 1 10 1-2 1 6 1-10 2 0 0 6 2-7 2-3 0 9 0 5 2-7 1-3 1-4 1 6 1-5 7 17-12 11-2-10-1 6 0 4-1-11-2 2 0 4-1 2-2-3-2-1 0 5 0 4-2-5-1-9 0 4-1 6-4-9 0 2 0 6-2-3 0 2 0 2-3-6 0 6-1 4-1-5-1-10 0 3-2 0-1 6-1-9-1 4 0 3 0 2-2-6-2 2-1-4-1 13-1-13-2 12-1-9 0 5-2 1-2 3-2-4-1-9 0 12-1 3-2-9-1 3-1 4-1-13 0 8-1 4-1-10 0 4 0 9-2 0-2-10 0 4-1-9 0 3-4-3-2 5-2-4 0 4 0 4-1 3-1-7 0 4 0 6-1-13-1 6-1-8 0 11 0 3-2-9-2 2 0 6-1-9-1 8 0 2-2-12-2 2 0 8 0 2-3-8-4-2 0 9 0 2-2-5-1-10 0 3 0 2-4 9-1-8 0 5-2 1-1-12-1 8-3-4 0 8-1-5 0 2-1-9 0 2-1 3 0 6-2 0 0 12 1 6 2-2 2-11 0 13 1-5 1-7 3 0 1 9 1-3 1-6 0 9 0 2 3-4 2 7 1-8 1-6 1 13 1-11 0 2 2-3 0 11 0 2 1-10 1 2 0 4 2-11 2 4 1-4 2 1 2 2 16-1 4 2 5-2 0 3 0 2 2-4 2 10 1-9 0 6 2-5 1-2 0 7 1 5 3-9 1 3 1-9 0 7 1 6 2-3 1-9 0 2 2 6 1 4 1-7 2-1 1 5 1-8 2 10 0 3 2-14 0 9 2-1 1-9 0 5 1-3 1 11 2-10 0 10 2-10 1 4 1-6 0 8 0 6 1-3 1-12 1 3 1-3 0 8 1-3 1-3 1-2 0 13 1-11 0 7 1-3 2-1 0 5 2 3 2-3 3 0 1 2 1-2 1 5 1-7 0 5 3-2 1 2-4 12-6-2-4-5 0 5-1-2-1 10-4-15-1 8-1-4-2-3 0 7-1 7-1-7-2 5-2 0-1-6 0 3-1-6-1-4 0 6 0 7-5-10-1 9-1-7-1-5 0 7 0 2 0 6-1-11 0 7-1 2-1-12 0 6-2 2 0 2-1 2-2-12 0 2-2 12-1-8 0 2-1 2-1-8-2 8-1 3-2-12-1 9 0 2-32-3-14-8-1-2 0 9-1-6 0 3-1-5 0 9-4-6 0 7-2-4 0 7-1-3-1-11-1 3-2 2-1-4-3-1 0 12 0 3-2-1-1-11 0 5"/><path d="M771 1805l10-7 16 1 14 0 12 5 8-2 3 2 1-6 4-4 2 9 2-5 8 9 2-15 10 5 4 0 15-2 13 14 0 14-8-5 0 3-3-3-3 4-1-4-2-3-1 7-3-6 0 2 0 4-3-11 0 4-22-3-8 0-8-2-4 12-1-3-8 2-4-1-5 0-3-9-5 5-1-6-13 6-2 3-7-10-7 9-4 16 0 4 1-8 0 6 48-8 1 11 1-2 2-2 2 3 3-9 0 2 0 4 0 3 1-11 2 0 2 10 2-11 1 6 3-7 2 6 0 5 1-8 4 4 3 4 2-1 1-6 1 5 2 1 6 3 1-6 1-2 1 3 1 2 2-5 1-3 0 12 2-10 2-5 0 6 0 5 3-2 2-7 0 8 8-8 3-2 1 4 2 3 1 7 2-9 2 10 0 9-3-5-28-2-2 10-1-9 0 2 0 5-1 4-1-9 0 11-1-15-1 12-2-8-1-4 0 12 0 2-1-5-1 3-3-9 0 10-1-6-1-7 0 9-1 4-1 2-1-13 0 6-2-4 0 3-2-2 0 2-1-7 0 15-2-10 0 5 0 5-2-11-3-4 0 5 0 2 0 6-2-13-1 11 0 3-1-13-1 6-1 7-1-10-1 7 0 3-1-11 0 5-1-7 0 5 0 9-1-7 0 3-1-7 0 9-2-7-2 0-3-3 0 3-3 8-1-8-1 5-1-5-1 3-4 4-12 0-6-2-2 3-1-6-4-5-2-1-1 6-2-4-3-2 0 2 16 13 2 0 8 3 1 6 1-4 0 6 0 2 2-6 2-8 0 8 0 5 1-11 0 8 2-1 2-9 0 14 1-11 0 5 2-8 0 4 0 5 0 6 1-8 1-6 0 2 0 6 0 5 2-8 2-3 1-3 1 13 4-1 1-2 1-3 1-4 0 2 0 4 2-8 1 2 0 12 8-5 0 3 1-12 0 14 1-12 6-2 0 9 1-4 1 3 2-9 2 2 0 7 2 2 1-8 0 2 1 3 0 3 1-7 1 3 0 4 1-7 3 7 0 3 1-8 1 2 0 2 3-10 0 12 30-12-1 30-1-7-9 5-1 3-3 0-2 0-2-7-1 7-3-6-4-9 0 6-1-2-1 9-1-13 0 4-1 11-1-6-2 0-3 3-1-12 0 8-1-2 0 8-3-5-1-7-1 8 0 3-3-3-1-5-1-3-5 0-2 5-1-3-3 0-11-4-13 15-4-12-1-3 0 5-3-1 0 8-4-8 0 9-1-11-1 4-1 5-3 1-24 13 12 3 2-2 2-2 0 5 1-8 1 8 1-3 1-7 2 8 1-6 1-5 0 2 1 7 1-7 2-2 0 6 1 4 3-1 1-2 4-4 2 1 0 5 3 6 1-4 2 2 3 0 16 2 5-5 2 5 2-7 0 3 0 4 4-5 1-3 0 6 2-9 1 6 3-8 2 1 0 4 0 5 2-12 0 3 1 8 1-10 0 7 0 7 1-2 3-6 0 5 2-6 0 2 1-5 0 9 1-7 0 2 1 6 2-11 0 2 0 3 2-4 0 6 2-2 0 8 1-14 0 8 3-1 2-5 2-2 1 5 2-1 2-5 1 6 1-6 2 1 0 11 2 0 0 2 1-12-15 21-5 6-1-7-2 2-2-6 0 7-1 3-1-11-2-1 0 5 0 6-1-4-2-6 0 7-3-3-1 6-1-10 0 7-5-2-1 3-1 3-2-7 0 7-2-6-1-6-1 7-2-6 0 4-2-4-1 13-2-3-1-10 0 7-2-4-1 6-2-5-1-4 0 14-2-6-1-7 0 9-3 1 0 2-1-11-1 9-2-10 0 3 0 3 0 2-2-4-1-5-3 6-1-6 0 10-1-5-3-6 0 2 0 2-3-3-10 13-9-8-2-1 0 6-1 3-1-9-2-3 0 11 0 2-1-10-2 1 0 8-1-11-1-2 0 6 0 2-7-9"/><path d="M904 1798l4 6 4-4 6 3 8-10 0 12 3-2 19 4 1-4 4-2 2-7 5 13 2-14 1 6 6-6 2 9 2-8 2 8 13-8 14 0 6-1 2 12 3-5 1 5 4 2 1 15-8 1-7-1-4 1-3-14-14 14-2-7-4 4-2 1-4-13-2 14-3-3-1 2-3-1-1 3-4-1-3-13 0 12-2-8-7 7-2 0-6-10-29-2-4 2 0 4-4 4 0 5-2-7-1 5-1-2 0 7 2 1 0 6 1 3 1-10 0 3 2 4 0 5 15-2 22-1 6-7 0 2 1 8 3-12 1-2 0 6 1-2 1 7 2-10 1 7 0 3 2-2 0 3 1-9 0 4 3 4 1-7 1 8 0 2 1-8 1-5 1 3 1 4 2-6 1 6 1-7 5 8 0 5 1-11 0 8 1-10 1 6 1-7 0 2 1 2 1 6 1-8 1 3 0 5 2 0 2-9 0 13 1-8 1-4 0 12 1-14 6 13 1-4 1-6 1 4 4 0 0 3 0 3 0 2 1-14 1 6 0 7 2-9 0 6 2 1 1-5 2-2 1-5 0 10 1-5 2 6 2-6 0 2 2 1 1 6 1-2-3 8-2-4-4 14-5-10-5 0 0 2-4 4-3 4-1-3-1-10 0 4 0 2-1 5-1-11 0 8-1 4-2-12-3 0 0 9-1 4-1-4-1-8 0 10 0 3-1-9-1 9-3-14-1 3 0 8-2-5 0 2-1 6-1-15-1 5-1 5 0 2-1-10 0 12-1-4-1-4-2-3 0 7-3-8-4-2-1 5-1-3-2-2 0 9-3-8-2 4-2 0-1-5 0 8-1-6 0 4-4-5-1 6 0 4-3-1 0 2 0 3-19-5-18-9-1 5-1 8-1-2-1 2-2-11 0 11 0 5 3 11 2-3 2-1 2-10 2 0 1 6 0 4 5 3 5 2 2-1 1-3 6-5 1 4 1-6 0 10 2-14 0 4 0 4 0 4 0 3 2-12 1-3 1 5 13 5 27-7 4 2 0 8 1 2 2-6 1-8 1 5 0 6 1-10 1 4 1 9 1-14 2 9 0 2 0 2 2-14 0 13 18-12 11 8-3 18-2 0-2 3-2 0-6-8 0 5-2-1-3 4-1-11 0 9-1-3-1 4-1-7 0 2-1 2-1-10-2 2-2 2-2-3-1 6-1-5-4 2-2-3 0 4-2 5 0 3-2-2-3 4-2-7-9 2-20 1-4-1-1-3-3-7 0 2-1 7-3-5-5 0-2-3-5 0-6-1-3 3-2-1-4-2-2 8-3 2-1-3 0 6-2-4 0 16 0 4 1-13 3 1 0 7 1-4 1-3 0 6 0 2 0 3 1-8 1 2 1 4 1-3 4 8 3-11 17 8 11-10 1-2 3 2 2-1 4 11 4-3 0 3 3-4 0 6 3-4 0 5 3-6 0 6 1-9 2 8 1-9 3 4 0 4 29-13 6 1 1 2 0 10 2-9 1 4 1 3 0 2 1-4 1-5 0 9 1-13 1 3 1 6 3-5 1-4 3 1-18 22-1 3-2-8-2 4 0 7-2-5-1-3-1 4-1 3-1-4-2 0 0 5-3-8-1 10-1-5-1-3-5-3 0 11-2-14-1 6-1-4 0 8 0 3-1-5-1 3-1-12-2 15-1-7-1-8 0 3 0 7 0 2-3-12 0 11-1 3-2-7-1-3-1 3-2-6-2-1 0 10-2-5 0 3-2 1-1-2 0 4-2 1-1-2-3 0 0 2 0 2-3-5-2 4-3-1-2 2-1-2-1-6-3 7-3 2-3-5-1 5-1-2-3-1-1 3-2-8-3-4 0 8-1-6-1 7-2-11 0 5-1 6-1-8-4 3-1-6-1 4-3-2-3-2"/><path d="M1032 1802l2 3 4-5 0 5 29 1 1-11 9-2 3 3 2-3 0 8 13 4 7-2 7-3 8 5 1-9 8 0 13 10 8-10 2 25-2-9 0 10-1-6-1 4-2-5 0 3-2-6-3 2-1 3-2 0-1-9 0 5-1 3-3-6 0 5-1 4 0 2-1 2-1-3-4 0-18-9-4 9-4-3-5-8-8 11-4 2-2-13-18-1-1 11-2-6-33 17 1-6 1 15 1-4 3 2 2-9 1-4 0 6 1 7 1-12 26 0 2-1 2 6 1-2 2 3 0 2 3 0 0 4 1-7 1 6 2-3 1-8 0 11 1-6 0 3 1-7 1 13 3-11 0 4 2 0 2 7 3-9 5 1 5 4 1-5 2 2 0 4 1 3 1-7 1-3 1 3 1-4 0 8 1-11 1 6 0 2 2-7 0 4 1 8 1-10 1 8 1-9 1 2 2-4 0 12 1-6 1-2 2-2 0 3 0 5 2-3 2 1 2-1 1-2 0 8 3-14 0 10 1 4 2 0 1-5 1-3 5-5 2 0 4 1-1 21 0 6-10 2-1-13-1 6 0 2-3-5-1 10-1-15 0 7-1 2-1-5-5 4-12 2-6 4-6-14 0 11-2 1-1-11 0 9-2 0-1-9 0 6 0 5-1-9 0 2-1 3-2-3 0 4-2-7-5-2-2 5-1 6-1-7-2-2 0 8-1-3-1-4 0 8-1-6 0 8-1-2-1-10 0 8 0 6-4-4-5 4-16-14-9 14-2-3 0 2-1-11 0 3-2 0-1 6-1-7-1-2 0 8 0 4-3-13 0 6-1 2 0 5-1-8 0 5 1 6 2-2 0 9 1-5 2-3 1 7 1-3 0 5 0 2 1 2 1-13 1 12 1-4 0 2 1-7 0 3 1 2 1-4 2 10 5-1 9 1 6-1 3-2 1-5 1 8 1-7 0 5 1-9 1-2 0 7 1 4 1-5 2-7 0 5 2-5 20 2 2-1 2 1 0 3 1 3 1-3 1-2 2 1 0 4 2-4 2 3 1 5 1-4 1 3 1 3 1-2 4 2 5-1 6-2 0 3 1-15 0 10 2-3 0 7 2-7 1 2 2-5 0 6 2-9 0 3 2 4 7 5 4 0 0 4 0 14-2-12 0 10-1-8-1-3-2 8-1-4-1 7-1-7-2-6-1 15-1-5 0 2-1-12 0 5 0 10-1-7 0 3-1-11 0 3-1 5 0 7-2-6-1 2-1-2-1 6-1-10-2-2-1 4 0 5-1-12-1 7-4 2-3-3 0 5-1-10-1 10-2 0-1-4-1-6 0 2 0 7-1 3-2-12 0 7 0 2-2 4-3-5-1 4-2-2-1 4-4-1-8 1-6-2-4-2 0 3-3-10-1 6-2-5 0 5-1-7-1 9-2-9-2 2-2-5 0 13-2-8-4 2-2 1-1-4-2 2 0 2-4-2-1 5-1-11 0 3-1 3 0 2 0 3-2 0-4-2-1-4 0 2-1 3-2-6-1-3 0 8-2-8-1 3 0 6-1-8-1 10 0 3-4-2 0 9 3-5 1 2 5-1 1 4 0 2 2-8 0 2 0 2 1 9 0 2 1-13 0 3 1 4 1-2 1 4 15 2 19-5 3-7 0 3 3-2 2-2 0 6 0 8 2-2 2-7 0 2 3-4 0 4 5-3 3-3 1 3 4-4 25 4 1-3 0 13 1-10 1 11 1-14 0 10 3 1 1-2 1-7 1-2 0 6 1 2 2-7 1 7 2 1 0 3 2-11 0 4 2 9 1-7 1-4 0 6 0 11 0 10-1-14 0 6-1 8-2-3-2-9-1 2-1 9-1-6-2 2-1-5-1 8-1-3-7-1-8 4-12-10-17 10-1-2-2 4-1-15 0 4 0 2 0 5 0 2-1-5-2 3-1-11 0 6-1 3-2-4 0 5-1 3-2-11 0 4-2 2-2-6 0 8-1 2-3-7 0 3-3-4-2 1-4-1 0 7-3 3-1-7 0 5-2-8-3 4-1-2-2 9-1-7-1-3-1 2 0 3 0 2-2-12-4 2"/><path d="M1175 1796l0 8 1-10 0 12 2-9 0 4 2-4 0 6 2-4 1-3 2-3 1 12 2-11 1 3 0 5 1-3 4-3 0 7 2-11 0 10 1-8 1 2 0 8 1-10 0 6 3-4 0 8 1-4 0 7 4-7 0 7 2-6 1 6 1-4 2 3 11-4 0 5 2-6 4-2 0 6 2-2 1-4 1 7 1-7 1 7 1-11 0 7 2 1 1-10 5 0 0 2 10-3 1 5 3-3 2 2 0 8 2-2 0 4 6-1 2-7 0 4 1 4 1-4 5-8-9 14-1 0 0 4 0 4-3 5-2 1-30-1-1-12-2 1-1 4-1-6-1 4-1 2-1 6-2-5 0 6-1-8-1 3 0 5-2-13 0 5 0 8-3-12 0 5 0 2 0 5-1-2-1-6 0 3-1-5 0 9-1 2-5-4-1-5-2-4-4-1-6 15-7-14-2 2-2-3-1 6-2-5-1 3-1 7 0 3-1-9 0 4-1 3 0 2-2-14 0 4-1 2-3-1-1 5-3 4-3-1-2-1 0 2-3 1-4 0-2-6 0 5 0 2 0 3 3-2 0 3 3-1 2-3 1 5 5-1 1 4 1 7 1-11 1 2 0 8 1-6 1-4 1-4 1 5 0 4 2-9 0 3 1 7 0 2 3 2 1-8 0 2 1 4 2-3 4 3 2-2 0 2 2-4 0 6 2-6 1-2 2 1 0 6 3-5 0 5 1-2 1-7 0 9 1-6 1 7 1-10 1 6 2-6 0 4 3 2 3-9 0 3 3 1 8-5 4 4 0 2 2 3 1-5 2 2 2-1 0 4 0 2 3-1 1-8 1 2 0 2 0 7 2-5 1-2 2 3 3 4 6 2 2 0 2-2 2-13 0 9 1 2-6 6-4 3-1 1 0 5-1-8-1 5-1 4-2 3-7-14-2 0-5 2-20 6-2 6-3 1-1-15 0 13-2-7-2 6-1-12-4 0 0 13-1-6-4-7-12 13-4-10-2 2 0 9-2-3-1 3-1-13-1 5-1-4-1 6 0 2-1 2-13 18 2-2 2-1 0 4 3-3 2 0 1-7 0 9 1-7 0 2 1 6 1-12 1 4 1 8 1-14 0 8 1-2 2 7 1-12 1 8 1-8 0 5 2 7 12 1 5-2 0 2 2-3 1-2 1 3 1-5 1 2 1 3 1-12 2 5 0 9 3-8 0 8 2-13 3 5 0 4 2 2 3 2 3-8 2-2 11 8 4 1 1-8 2-1 3 0 4-1-15 12-2 1-1 3-2-3-2 3-1 5-1-6 0 6-2-3 0 3-2 0-2 2-1-8-2-3-2 0 0 14-9-11-4-1-2 0-5 1 0 2-1-4-3 4-2 4-1-4-4-3 0 5-3-5 0 2 0 2-1 8-1-7-1 4 0 4-1-2-2 2-3-2-1-2-1 3-1-13 0 7-2-6 0 7-1-5 0 8-3-11 0 8-1-3-2-2 0 3-3 7-1-13-1 27 0 3 2-10 1 4 1-3 1-4 0 12 1-7 1 4 1-9 0 6 1 2 0 5 1-14 1 9 2-8 2 3 0 9 2-7 1-4 0 2 0 9 1-6 1-4 4-1 0 6 1-4 0 7 1-5 2-7 1 4 1 3 3 1 6 7 2 0 5-4 5-1 2-5 0 2 3-5 9-2-32 18-2-1-2 0-3 2-5 3-7-5-1 3-1 8-4-1-2-4-1-6 0 13-1-10-2 2 0 8-1-2-1-7"/><path d="M455 1922l4 2 4 4 1 1 5 1 3 2 3 2 5-1 7-1 1-4 1 7 10-15 1 20-2-3-4 10-3-3-2-3-4 0-2-2-5-3 22 16 1 1 3 0 5 3 1-2"/><path d="M514 1920l1 7 4-4 0 12 5-8 3 6 2-10 4-1 7 0 4 5 6-3 2 5 3 6 1-15 1 3 1 2 2 7 1-12 4 3 4 12 3-10 3 9 5-3 10 1 2-4 3-7 2 10 3-3 1 5 1-8 2 9 1-3 1-8 2 2 7 2 2 3 16 11-4 0 0 7-4-7-5-4-9 8-3 3-6-1-1-6-4 7-3-7-3 5-4-7-1 11-1-3-2-7-4 6-1 4-14-1-1-4-1-8-7 13-5-4-24-8-7 11-5-1-1-4 1 9 1 5 2-1 1 6 4 0 4 1 18-12 9 9 1 3 4-10 2 10 5-8 5 6 3 3 7 2 3-11 7 1 1-3 8 0 3 6 1 5 5-3 3 3 2-12 1 9 2 5 1-9 4 1 2-7 2 6 0 6 4-7 1 3 7-3 0 7-3 19-15-7-6-8 0 10-3 4-3-4-15-3-5-5-6 1-22 8-2 4-8-1-1-4-2 1-4-3-4-3-1-2-4-1-2-2 21 16 8 4 4 1 4 0 1 4 3-2 3 5 3-2 2-7 3 12 8 0 1-6 10-2 3-2 3-4 8 5 10 8 3-12 1 11 3 1 1-11-14 28-5-2-1-2-5-7-2 7-1-6-1 4-3-1-3-4-3-4 0 6-5-5-4 0 34 15 1 3 2 2 6 0 4 3 5 0"/><path d="M646 1922l2 2 1-3 2-1 0 3 1 9 3-2 3 5 16-7 7 2 1-6 3 6 7 1 7-6 8 8 5-12 2 10 1 3 2-8 2-5 1 8 2-8 0 3 2 7 6-7 2-4 0 4 2-2 2-2 1 3 0 3 3-6 2 4 0 6 1 5 1-13 1 2 2 4 1 7 1-15 1 10 4 4 3 1 5-4 4 2-5 8-4-1-1 4-5-7-9 3-1 7-1-10-6 2 0 5-2 6-1-8-4-6-9 10-3-3-7-2-2-5-3 9-11 4-10-5-1 5-10-7-6 1-8-5-4 11-5-5-4 0-2-6-2 23 6 4 7-2 2-6 1-5 11 11 3-7 2-4 7 6 6 3 1 3 1-7 0 10 3-14 6-1 1 3 6 4 1-7 4 2 2 11 4-8 3 7 22 0 11-12 3 8 1 5 1-13 10 24-2-8-4 9-4 0-3-2-11 1-2-4-7-1-1 5-4-2-5 5-4-4-2 5-1-6-5 9-7-1-6-10-12 0-2-3-3 14-4-12-3-2-6 6-2-3-1 7-5-5-1 4-1-10-1 5-2 9-4-14 0 12-2-4-2 6-1-7-1-6-3 8-1 4 2 13 1-10 0 7 0 6 5-8 2 4 4-3 2-3 1 7 3 1 10-2 1 5 7-11 5-2 7 5 9-4 1 13 4 0 9-9 1-3 3-2 4 6 1-6 5 4 3 2 1 7 3-7 6-3 1 8 3-4 2-4 5 6 1-3 3-4 6 7 3-1 3 2-1 13-7-5-1 6-4-4-2 4-3-1-1-4-7 3-1-5-3 3-13-1-1-4-7 3-2 12-10-8-3-3-7 5-20-1-7 1-13 1-8-9 0 10-3-6-3 22 2 2 5 2 3-15 1 13 2 2 8-1 2-6 10-4 5 7 1-10 9-1 5 10 3 2 1-11 6 1 4 2 0 10 9-11 3-2 0 12 1-5 6-8 0 12 1-6 3 1 2 6 4-8 7 3 1-5 2 11 12-4 2-10 2 13 2-7-1 10 0 8-9-6-13 11-1-3-4 4-5-1-3-10-3 1-2 5-2-8-3 6-2 7-2-3-1-4-4-3-14 3-9-1-15 9-2-3-5-2-1-1-1-6-1 2-4-1"/><path d="M781 1924l0 2 1-6 2 5 1-3 0 5 0 6 3-3 2-3 1 8 1-4 4 0 13-4 3-5 0 8 2-9 0 4 1 3 1-6 1-2 0 8 1 2 2-6 0 2 2 1 1-2 2-4 2 11 3-8 2-4 0 9 2-3 0 2 1-7 1 7 2 5 2-6 1-4 1 4 2 7 1-11 0 7 3-10 3 12 1-9 0 4 2-1 1 7 2-13 0 7 1-3 0 7 2 3 3-3 1-8 1 2 0 4 1 2 2-3 4 3 2 2 21-2-8 8-9 9-4-10-10 4-7 0-12-3-4 1-20 1-4 10-5-2-1-5-5-1-7 8-5-13-3 2-1 7-2-11-3 1-3 5-6 6-7 2 5 9 12 3 5-1 2-5 1 10 3-7 1 6 7-8 6 6 3-7 4 6 4-2 0 5 4-13 5 2 3-1 1 13 3-10 0 4 3-8 6 1 2 14 5-5 2 5 4-4 1-10 9 11 3 1 1-10 6-2 1 8 2-4 7 10 1-13 3 12 1-5-4 10-4 4-7-5-2 11-5-10-4-1-3 7-1 3-5-5-4 4-3 3-7-2-6-11-10 0-1 3-2 10-8-12-1 7-4 3-1-11 0 14-3-10-2 10-1-5-1-6-11 2 0 7-1-4-5 0-5-7-2 10-2-8-3 10-2-13-4 2 0 19 3-6 1 12 4 0 5 2 9-12 3-2 0 9 1-6 2 4 0 6 4-10 1 8 1 3 1-10 6-1 9-3 1 9 2 5 1-10 6 9 1-13 2 9 3-8 5 0 0 14 13-13 3-1 9 13 4-4 3-6 2 10 1-14 11 13 3-2 3 16-4-4-1 3-1-6-3 2-7 8-1-3-3-2-1-7-2 8-3 5-2-4-3-6-7-1 0 7-2-4-3-1-1 7-9-2-5-1-3-9-2 5-2 9-1-8-5 2-3 1 0 5-8-1-3 1-1-12-1 3-4-3 0 4 0 4-15-10-1 12-1-5-3-6 0 10-4-9-2 3-3-5 0 4-5 6-1-9 2 25 5 3 1-7 3 2 3-7 2 7 7-3 1 3 3 3 4-4 5 0 7 5 3-3 1-7 1 4 12-5 1 4 7 8 8-4 4-10 4 12 20-11 3 1 6 6 9-4-2 21-1-4-23 9-1-7-15 4-3-2-4-5-1 9-7-7-4 8-1-7 0 4-3-8-12-2-4 12-8-5-11 4-4-2-7-6-4 7-5-7"/><path d="M899 1928l14-1 0 5 1-12 1 5 0 7 3-2 0 4 2-13 0 4 0 6 2-9 2 1 4-2 3-1 3 1 2-1 4 0 10 1 3 3 1 4 0 7 1-15 0 11 1-6 2 1 2-6 0 4 0 7 1-9 1-2 0 8 3-5 0 3 0 6 0 3 2-10 0 4 2 4 1-4 1 3 1 3 1-4 1-2 2-8 0 2 0 7 1 4 1-6 1-2 0 7 1-2 1-9 2 13 1-13 0 9 1 4 1-8 2 0 2 4 1-6 1 5 1-8 0 3 1 2 0 7 1-14 0 5 0 5 2-9 1 11 2 0 0 2 3 1 1-9 2-4 0 2 7 11-2 13-2-4-2-8-2 11-1-8-2 9-1-11-1 4-3 4-1-5-2 4-1-3-6-4 0 3-1 2-3-2-3 8-2 3-1-13-2 5-3-1-2-5 0 2-3-1 0 2-4 4-1-6-1 13-1-10-2-3-1-2-1 15-3-4-1 4-1-14-2 10-3-4-12 0-3-1-3 6-6-9 0 5-3-2-8 4-6 2-3-9-4 1 0 23 4-10 3-1 2 6 4-5 3 12 5-1 5 3 1-3 1-11 5 13 4-2 5 0 3 2 2-11 4-3 1 15 3-8 3 3 3-1 1 3 3 3 6-11 4 11 6-13 5 7 2-6 5-1 11 7 6 3 6 3 5 8-6 3-2-4-7-6 0 4-7 7-2-4-5 4-4 4-3-15-6 3-7 8-18-8-11 10-2-13-1 14-6-13-2 14-15-10-3-5-7 1-3 6-5-3 0 21 14-3 3 2 3-1 4-3 3 5 0 6 3-4 17-2 1-9 2 8 7 5 7-9 1-3 0 12 2-5 3-6 5 6 10-1 5-5 15-1 3 11 3-10-5 15-13 1-16-2-2 14-9-14-33 10-7-5-13 0-8 0-6 13 3 4 0 9 6-13 3 3 2 8 9-6 1-7 25 14-13 2-10 4"/><path d="M1032 1931l8 3 1-4 1-6 0 4 2-5 0 5 1 2 1-4 2-3 0 6 1-8 1 6 2-1 0 2 0 4 1-9 2-1 28-1 3 0 0 5 0 4 2-5 2-2 2-3 0 10 1-3 2-2 0 2 2 0 4 4 20 0 8-5 6-6 2 1 3 2 3 0 2-3 11 7-22 15-6-4-37 1-1 6-15-3-7-2 0 8-18-10-2 4-1-3-1-3-1 4-2 6-2-8 0 11-1-7-2 4-6 2-3 17 2-12 2 5 3-2 16 7 6-7 31 0 6-3-44 19-10-4-5 6-1-3-8 9"/><path d="M679 2048l0 3 4 5 2 0 4 4 5-1 2 1 7 2 9 1 3-7 7-3 1 5 1-10 15 1 13 6 9 0-1 13-6 3-35-2-2-3-3 1-2 0-5 1-9-3"/><path d="M768 2055l6-1 4 2 12 2 1-8 3 2 9 2 11 4 7-5 4 2 4 8 5-15 8 4 3-3 7 6-16 10-4 4-2-3-42 1-2 5-6-2-2-5"/></g></g><use href="#hq" x="2412"/>
<g fill="none" stroke="none" marker-start="url(#r)" marker-mid="url(#r)" marker-end="url(#r)"><path d="M706 367l-88 112 0 11 0 13"/><path d="M1166 290l61 26-112 130"/><path d="M1396 474l118 23"/><path d="M1538 462l2 36"/><path d="M684 513l-130 115-6 10 2 14 16-3-30 73 210 44"/><path d="M988 496l-130 16 104 28-34 4"/><path d="M1148 552l-78 17-14 17 14 17-30 92 202 42"/><path d="M1498 560l-117 122 111 1-28 53"/><path d="M1813 580l3-2 3 2 1 2 9 9 20 13-56 81 73 14-103 45 112-7 14 24-71-5"/><path d="M738 798l-168 28-2-4 168 108-34 52"/><path d="M968 774l-122 15-54 1 176 20 40 12-176 22 47 88"/><path d="M1098 777l10 10 108 16-79 13-39 2"/><path d="M1788 774l-22 51-150 9 146-2 26 23-19 5-10-6 12 32-9 1 6 21 15 2-19 5-7 27 8-5 3 6-144 5-24 20 2-6 2 10 2-6 2-2 2 4 145 0-79 32 114 2-34 17"/><path d="M1853 772l192 12 0 9-7 6-7-8-104-5-34 5-60-3-22 8 214 6 15 21-2 3-2-1-6 2-14-1-66 3-98-2-21-4-35 13 55-3 1 6 38 1 46-5 1 3 15-4 16 12 4 0 55 0 13 1 2-6 5-1 0 1 0 3-1 14 0 2-1-4-1-3 0 9-5 0-8-9 0 2-4-7-2 1-3 1-2-2-3 0-1 1 0 7-85 2-41-9-16 11-11 2 146 16 13 1 3-1 3-1 10-8 7-1-1 17-5 1-3-1-9 2-4 1-2 0-196-6 44 28 66 0 99-4 11 8 0 2 0 3 0 1-4 1 0 2 0 2-1-9 0 1 0 4-2-7-2 6-6-2 0 9-1-1-3-9 0 7-2 3-1-3-2-7-53 5-17 3-13 0-2-8-1 6-24-3-8-1-22 2-1 6-6-6-12-1-11-2-1 4-36-6-19 2 5 19 44 6 2-13 26 0 11 7 2 4 88-2 55-11 1 3 3 0-95 19-106-4-31 21 30-3 71 4 14-2 63 4-57 14-108-6 224 35-16 1-63-1-23 1 0 7-1-4-55-6-8 10-8-11-15 3"/><path d="M2071 786l-5 10-2-11-2 4-2 5-7-7 102 41-11-2 0 5-10-2-7-3-1 4-16-6-16 6-6-3-17-4 0 0-2 2-3-2 0 1 0 2-1-2 0 3-4 3-6-4-6 0 4 15 6-5 4-3 3 12 5-3 17-7 2 1 2-4 2 6 0 9 5-4 0 4 2-2 4-3 2 3 3-4 12-1 16-2 3 5 3-4 5 0 8-3 4-1-8 21-21 7-6-3-4-7-5-2 0 4-4-1-7-3-4 0-1-1 0 0-3 12-1-4-1 1-2-4-1 3-1-1-2 1-25-9-10 30 3-3 1 0 2 2 32-14 12 5 1 3 10 2 19 0 6 2 1-3 1 2 1 0 10 4 6-5-2 13-8-6-1 11-16-12-9 10-9 3-2-2-10 0-11-8 0 1 0 8-21-5-7-5-2 2-10-1 0 2-3 24 4-3 4 1 2 1 0 2 4-4 5 4 34-1 1 2 2-1 2 1 1-2 4 1 11 0 33 12-1 4 0 0-2-9-4 7-4-8-2 0-3 6-2-9-1 11-2-5 0 8-1 0-3-7-3-1-1 5-1-5-1 4-5 0-6-11-1 3 0 3-7-3-3 5-29-6-4 0-3 9-2-4-3 0-2 5-1-4-3 2-4-10-1 9-1-8 0 2 95 15-52 73 44 12-64 21"/><path d="M406 1068l4 0 12-2 18 0 28-8-42 26-86 60-48 14-22 26-8 16 0 10-20 20 242 24"/><path d="M520 1068l16-8 22 14 90 24-8 38-28 50 0 9 8 3 246-6-234 22-8 0-8-4-12 2-2-12-8 6 20 30-62 12"/><path d="M1140 1236l78 40"/><path d="M1338 928l-56 137 112 5 16-2 70 156-78 14-68 20"/><path d="M1546 1026l106 0 110 19-138 21 20-2-12 11-6 5"/><path d="M1941 1039l-128 25"/><path d="M384 1344l-202 94 254 6 2 18-56 18-44 18"/><path d="M568 1286l164 182-32 4 0 62"/><path d="M1188 1416l44 36 16 68"/><path d="M1300 1320l66 35 153-9 16 29-38-15 0 4-3 4-135-6 133 19 30 2-17 48 20 15-33 10-96 30 18-6 5-1 17-1 48 2-120 12 3 15 21 23"/><path d="M1574 1359l24 13-16-11-19 29 6-1 23 0 20-2 5 20-28-2-1-9-24 6 12 10-27 27 25 4 7 7 39 16"/><path d="M308 1584l66 34"/><path d="M736 1592l-86 24 48 36-130 12 72 56"/><path d="M1236 1568l-138 42 134 158 14 12"/><path d="M1407 1537l86 3 2 5-118 34 73 2-160 123"/><path d="M300 1802l202 80-102 12 104 12-82-2"/><path d="M808 1774l-132 70 62 72 124 128-148-8"/><path d="M1096 1832l144 16-10-8"/></g>
<path d="M165.5 97.5h-15.000M165.5 539.5h-15.000M165.5 982.5h-15.000M165.5 1424.5h-15.000M165.5 1866.5h-15.000M165.5 2308.5h-15.000M189.5 2333.5v15.000M620.5 2333.5v15.000M1050.5 2333.5v15.000M1480.5 2333.5v15.000M1910.5 2333.5v15.000M2340.5 2333.5v15.000" stroke="#000" stroke-width="3.3333" fill="none"/>
<rect x="165.5" y="92.5" width="2180.0" height="2241.0" fill="none" stroke="#000" stroke-width="3.3333"/>
<text class="t e" transform="translate(136.33 113.70) scale(1 1.025)">5000</text>
<text class="t e" transform="translate(136.33 555.70) scale(1 1.025)">4000</text>
<text class="t e" transform="translate(136.33 998.70) scale(1 1.025)">3000</text>
<text class="t e" transform="translate(136.33 1440.70) scale(1 1.025)">2000</text>
<text class="t e" transform="translate(136.33 1882.70) scale(1 1.025)">1000</text>
<text class="t e" transform="translate(136.33 2324.70) scale(1 1.025)">0</text>
<text class="t m" transform="translate(189.50 2394.67) scale(1 1.025)">0</text>
<text class="t m" transform="translate(620.50 2394.67) scale(1 1.025)">1000</text>
<text class="t m" transform="translate(1050.50 2394.67) scale(1 1.025)">2000</text>
<text class="t m" transform="translate(1480.50 2394.67) scale(1 1.025)">3000</text>
<text class="t m" transform="translate(1910.50 2394.67) scale(1 1.025)">4000</text>
<text class="t m" transform="translate(2340.50 2394.67) scale(1 1.025)">5000</text>
<path d="M2577.5 97.5h-15.000M2577.5 539.5h-15.000M2577.5 982.5h-15.000M2577.5 1424.5h-15.000M2577.5 1866.5h-15.000M2577.5 2308.5h-15.000M2601.5 2333.5v15.000M3031.5 2333.5v15.000M3461.5 2333.5v15.000M3892.5 2333.5v15.000M4322.5 2333.5v15.000M4752.5 2333.5v15.000" stroke="#000" stroke-width="3.3333" fill="none"/>
<rect x="2577.5" y="92.5" width="2180.0" height="2241.0" fill="none" stroke="#000" stroke-width="3.3333"/>
<text class="t e" transform="translate(2548.33 113.70) scale(1 1.025)">5000</text>
<text class="t e" transform="translate(2548.33 555.70) scale(1 1.025)">4000</text>
<text class="t e" transform="translate(2548.33 998.70) scale(1 1.025)">3000</text>
<text class="t e" transform="translate(2548.33 1440.70) scale(1 1.025)">2000</text>
<text class="t e" transform="translate(2548.33 1882.70) scale(1 1.025)">1000</text>
<text class="t e" transform="translate(2548.33 2324.70) scale(1 1.025)">0</text>
<text class="t m" transform="translate(2601.50 2394.67) scale(1 1.025)">0</text>
<text class="t m" transform="translate(3031.50 2394.67) scale(1 1.025)">1000</text>
<text class="t m" transform="translate(3461.50 2394.67) scale(1 1.025)">2000</text>
<text class="t m" transform="translate(3892.50 2394.67) scale(1 1.025)">3000</text>
<text class="t m" transform="translate(4322.50 2394.67) scale(1 1.025)">4000</text>
<text class="t m" transform="translate(4752.50 2394.67) scale(1 1.025)">5000</text>
<text class="h m" transform="translate(1254.80 68.30) scale(1 1.025)">1296400368_CP_ num_cells=47837 (47337 HighQty, 500 LowQty)</text>
<text class="h m" transform="translate(3666.80 68.30) scale(1 1.025)">1296400368_CP_ HighQty only (47337)</text>
<rect x="2005.2" y="113.1" width="319.5" height="138" rx="8.33" ry="8.33" fill="#fff" fill-opacity=".8" stroke="#ccc" stroke-opacity=".8" stroke-width="4.1667"/><g fill-opacity=".5"><circle cx="2063.5" cy="152.5" r="4.6" fill="#87ceeb"/><circle cx="2063.5" cy="152.5" r="2.45" fill="#87ceeb"/><circle cx="2063.5" cy="214.5" r="4.6" fill="#cd5c5c"/><circle cx="2063.5" cy="214.5" r="2.45" fill="#cd5c5c"/></g><text class="t" transform="translate(2138.00 164.20) scale(1 1.025)">HighQty</text><text class="t" transform="translate(2138.00 226.20) scale(1 1.025)">LowQty</text>
</svg></body></html>
